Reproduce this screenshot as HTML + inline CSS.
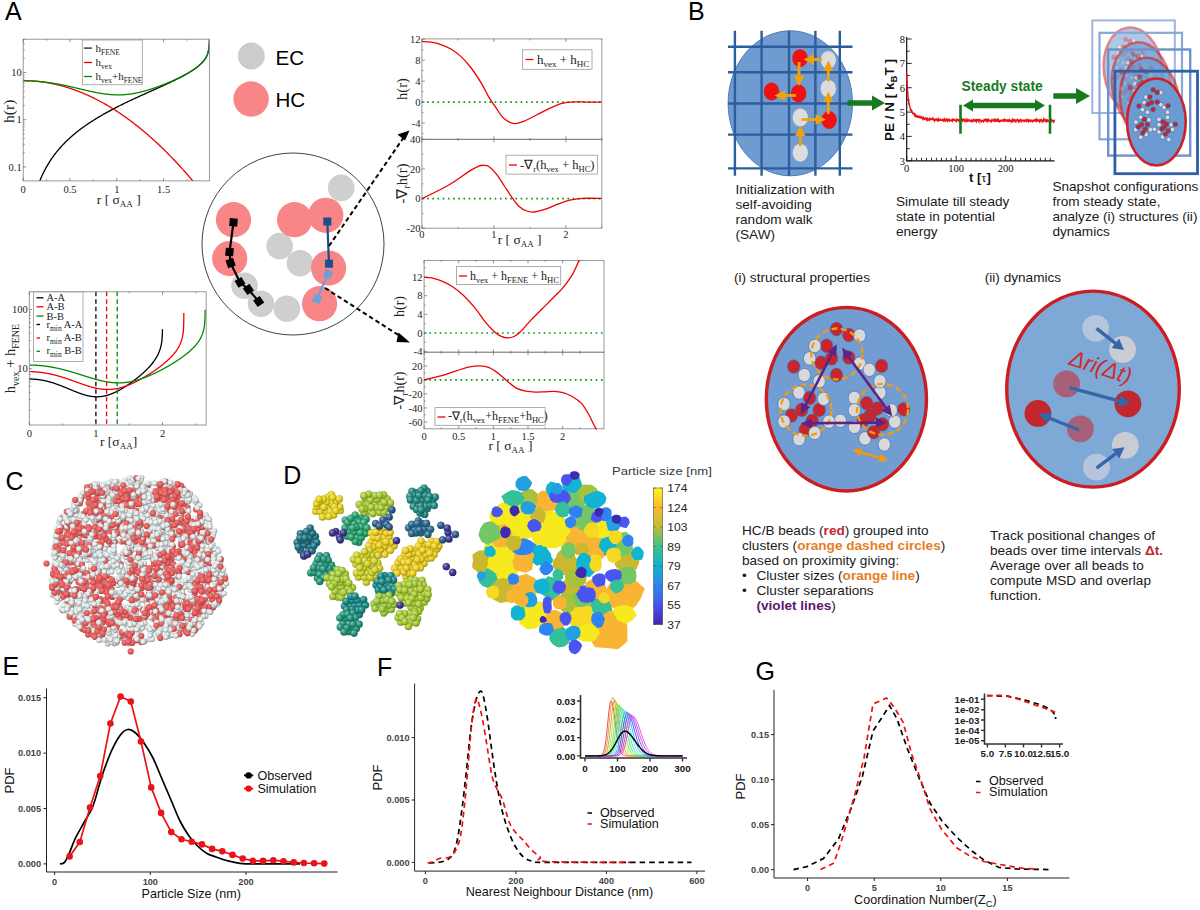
<!DOCTYPE html>
<html><head><meta charset="utf-8"><title>Figure</title>
<style>html,body{margin:0;padding:0;background:#fff;} svg{display:block;}</style></head>
<body><svg width="1200" height="910" viewBox="0 0 1200 910">
<rect width="1200" height="910" fill="#fff"/>
<text x="5.00" y="19.70" font-size="25" fill="#000" text-anchor="start" font-weight="normal" style="font-family:'Liberation Sans',sans-serif;" >A</text>
<defs><clipPath id="cA1"><rect x="23.2" y="39.2" width="186.20000000000002" height="141.7"/></clipPath><clipPath id="cA2"><rect x="29.3" y="291.8" width="176.89999999999998" height="133.2"/></clipPath></defs>
<g clip-path="url(#cA1)" fill="none" stroke-width="1.3">
<path d="M28.35,228.97 L28.82,225.40 L29.28,222.12 L29.75,219.08 L30.22,216.25 L30.69,213.60 L31.16,211.11 L31.62,208.76 L32.09,206.55 L32.56,204.44 L33.03,202.44 L33.50,200.53 L33.96,198.70 L34.43,196.95 L34.90,195.28 L35.37,193.67 L35.84,192.11 L36.30,190.62 L36.77,189.18 L37.24,187.78 L37.71,186.44 L38.18,185.13 L38.64,183.86 L39.11,182.64 L39.58,181.44 L40.05,180.28 L40.52,179.16 L40.98,178.06 L41.45,176.99 L41.92,175.94 L42.39,174.93 L42.86,173.93 L43.32,172.96 L43.79,172.01 L44.26,171.09 L44.73,170.18 L45.20,169.29 L45.66,168.42 L46.13,167.57 L46.60,166.74 L47.07,165.92 L47.54,165.12 L48.00,164.33 L48.47,163.55 L48.94,162.80 L49.41,162.05 L49.88,161.32 L50.34,160.60 L50.81,159.89 L51.28,159.19 L51.75,158.50 L52.22,157.83 L52.68,157.17 L53.15,156.51 L53.62,155.87 L54.09,155.23 L54.56,154.61 L55.02,153.99 L55.49,153.38 L55.96,152.78 L56.43,152.19 L56.90,151.61 L57.36,151.04 L57.83,150.47 L58.30,149.91 L58.77,149.35 L59.24,148.81 L59.70,148.27 L60.17,147.74 L60.64,147.21 L61.11,146.69 L61.58,146.18 L62.04,145.67 L62.51,145.17 L62.98,144.67 L63.45,144.18 L63.92,143.69 L64.38,143.21 L64.85,142.74 L65.32,142.27 L65.79,141.80 L66.26,141.34 L66.72,140.89 L67.19,140.43 L67.66,139.99 L68.13,139.55 L68.60,139.11 L69.06,138.67 L69.53,138.24 L70.00,137.82 L70.47,137.40 L70.94,136.98 L71.40,136.56 L71.87,136.15 L72.34,135.75 L72.81,135.34 L73.28,134.94 L73.74,134.55 L74.21,134.16 L74.68,133.77 L75.15,133.38 L75.62,133.00 L76.08,132.62 L76.55,132.24 L77.02,131.87 L77.49,131.49 L77.96,131.13 L78.42,130.76 L78.89,130.40 L79.36,130.04 L79.83,129.68 L80.30,129.33 L80.76,128.98 L81.23,128.63 L81.70,128.28 L82.17,127.93 L82.64,127.59 L83.10,127.25 L83.57,126.92 L84.04,126.58 L84.51,126.25 L84.98,125.92 L85.44,125.59 L85.91,125.26 L86.38,124.94 L86.85,124.62 L87.32,124.30 L87.78,123.98 L88.25,123.66 L88.72,123.35 L89.19,123.04 L89.66,122.73 L90.12,122.42 L90.59,122.11 L91.06,121.81 L91.53,121.50 L92.00,121.20 L92.46,120.90 L92.93,120.61 L93.40,120.31 L93.87,120.02 L94.34,119.72 L94.80,119.43 L95.27,119.14 L95.74,118.85 L96.21,118.57 L96.68,118.28 L97.14,118.00 L97.61,117.71 L98.08,117.43 L98.55,117.15 L99.02,116.88 L99.48,116.60 L99.95,116.32 L100.42,116.05 L100.89,115.78 L101.36,115.51 L101.82,115.24 L102.29,114.97 L102.76,114.70 L103.23,114.43 L103.70,114.17 L104.16,113.90 L104.63,113.64 L105.10,113.38 L105.57,113.12 L106.04,112.86 L106.50,112.60 L106.97,112.34 L107.44,112.08 L107.91,111.83 L108.38,111.57 L108.84,111.32 L109.31,111.07 L109.78,110.82 L110.25,110.57 L110.72,110.32 L111.18,110.07 L111.65,109.82 L112.12,109.57 L112.59,109.33 L113.06,109.08 L113.52,108.84 L113.99,108.60 L114.46,108.35 L114.93,108.11 L115.40,107.87 L115.86,107.63 L116.33,107.39 L116.80,107.15 L117.27,106.92 L117.74,106.68 L118.20,106.44 L118.67,106.21 L119.14,105.97 L119.61,105.74 L120.08,105.51 L120.54,105.27 L121.01,105.04 L121.48,104.81 L121.95,104.58 L122.42,104.35 L122.88,104.12 L123.35,103.89 L123.82,103.67 L124.29,103.44 L124.76,103.21 L125.22,102.99 L125.69,102.76 L126.16,102.53 L126.63,102.31 L127.10,102.09 L127.56,101.86 L128.03,101.64 L128.50,101.42 L128.97,101.19 L129.44,100.97 L129.90,100.75 L130.37,100.53 L130.84,100.31 L131.31,100.09 L131.78,99.87 L132.24,99.65 L132.71,99.43 L133.18,99.22 L133.65,99.00 L134.12,98.78 L134.58,98.57 L135.05,98.35 L135.52,98.13 L135.99,97.92 L136.46,97.70 L136.92,97.49 L137.39,97.27 L137.86,97.06 L138.33,96.84 L138.80,96.63 L139.26,96.42 L139.73,96.20 L140.20,95.99 L140.67,95.78 L141.14,95.56 L141.60,95.35 L142.07,95.14 L142.54,94.93 L143.01,94.72 L143.48,94.50 L143.94,94.29 L144.41,94.08 L144.88,93.87 L145.35,93.66 L145.82,93.45 L146.28,93.24 L146.75,93.03 L147.22,92.82 L147.69,92.61 L148.16,92.40 L148.62,92.19 L149.09,91.98 L149.56,91.77 L150.03,91.56 L150.50,91.35 L150.96,91.14 L151.43,90.93 L151.90,90.72 L152.37,90.51 L152.84,90.30 L153.30,90.09 L153.77,89.88 L154.24,89.67 L154.71,89.46 L155.18,89.25 L155.64,89.04 L156.11,88.83 L156.58,88.62 L157.05,88.40 L157.52,88.19 L157.98,87.98 L158.45,87.77 L158.92,87.56 L159.39,87.35 L159.86,87.14 L160.32,86.93 L160.79,86.71 L161.26,86.50 L161.73,86.29 L162.20,86.08 L162.66,85.86 L163.13,85.65 L163.60,85.43 L164.07,85.22 L164.54,85.01 L165.00,84.79 L165.47,84.58 L165.94,84.36 L166.41,84.14 L166.88,83.93 L167.34,83.71 L167.81,83.49 L168.28,83.27 L168.75,83.05 L169.22,82.83 L169.68,82.61 L170.15,82.39 L170.62,82.17 L171.09,81.95 L171.56,81.73 L172.02,81.50 L172.49,81.28 L172.96,81.06 L173.43,80.83 L173.90,80.60 L174.36,80.38 L174.83,80.15 L175.30,79.92 L175.77,79.69 L176.24,79.46 L176.70,79.22 L177.17,78.99 L177.64,78.76 L178.11,78.52 L178.58,78.28 L179.04,78.05 L179.51,77.81 L179.98,77.57 L180.45,77.32 L180.92,77.08 L181.38,76.84 L181.85,76.59 L182.32,76.34 L182.79,76.09 L183.26,75.84 L183.72,75.59 L184.19,75.33 L184.66,75.08 L185.13,74.82 L185.60,74.56 L186.06,74.29 L186.53,74.03 L187.00,73.76 L187.47,73.49 L187.94,73.21 L188.40,72.94 L188.87,72.66 L189.34,72.38 L189.81,72.09 L190.28,71.81 L190.74,71.51 L191.21,71.22 L191.68,70.92 L192.15,70.62 L192.62,70.31 L193.08,70.00 L193.55,69.68 L194.02,69.36 L194.49,69.04 L194.96,68.71 L195.42,68.37 L195.89,68.03 L196.36,67.68 L196.83,67.32 L197.30,66.96 L197.76,66.58 L198.23,66.20 L198.70,65.81 L199.17,65.41 L199.64,65.00 L200.10,64.58 L200.57,64.14 L201.04,63.69 L201.51,63.22 L201.98,62.74 L202.44,62.23 L202.91,61.71 L203.38,61.16 L203.85,60.58 L204.32,59.96 L204.78,59.31 L205.25,58.61 L205.72,57.86 L206.19,57.03 L206.66,56.12 L207.12,55.09 L207.59,53.89 L208.06,52.44 L208.87,48.61 L208.94,48.15 L208.99,47.70 L209.05,47.26 L209.09,46.83 L209.13,46.40 L209.17,45.99 L209.20,45.58 L209.23,45.19 L209.25,44.79 L209.28,44.41 L209.30,44.04 L209.32,43.67 L209.33,43.30 L209.35,42.95 L209.36,42.60 L209.37,42.25 L209.38,41.91 L209.39,41.58 L209.40,41.25 L209.40,40.93 L209.41,40.61 L209.42,40.30 L209.42,39.99 L209.43,39.68 L209.43,39.38 L209.43,39.09 L209.44,38.80 L209.44,38.51 L209.44,38.23 L209.45,37.95 L209.45,37.67 L209.45,37.40 L209.45,37.13 L209.45,36.87 L209.45,36.61 L209.45,36.35 L209.46,36.10 L209.46,35.84 L209.46,35.60 L209.46,35.35 L209.46,35.11 L209.46,34.87 L209.46,34.63 L209.46,34.40 L209.46,34.16 L209.46,33.94 L209.46,33.71 L209.46,33.48 L209.46,33.26 L209.46,33.04 L209.46,32.83 L209.46,32.61 L209.46,32.40 L209.46,32.19 L209.46,31.98 L209.46,31.77 L209.46,31.57 L209.46,31.37 L209.46,31.17 L209.46,30.97 L209.46,30.77 L209.46,30.58 L209.46,30.39 L209.46,30.20 L209.46,30.01 L209.46,29.82 L209.46,29.63 L209.46,29.45 L209.46,29.27 L209.46,29.09 L209.46,28.91 L209.46,28.73 L209.46,28.56 L209.46,28.38 L209.46,28.21" stroke="#000"/>
<path d="M23.20,80.71 L23.67,80.71 L24.14,80.71 L24.60,80.72 L25.07,80.72 L25.54,80.73 L26.01,80.74 L26.48,80.75 L26.94,80.76 L27.41,80.77 L27.88,80.79 L28.35,80.80 L28.82,80.82 L29.28,80.84 L29.75,80.86 L30.22,80.88 L30.69,80.90 L31.16,80.93 L31.62,80.96 L32.09,80.98 L32.56,81.01 L33.03,81.05 L33.50,81.08 L33.96,81.11 L34.43,81.15 L34.90,81.19 L35.37,81.22 L35.84,81.27 L36.30,81.31 L36.77,81.35 L37.24,81.40 L37.71,81.44 L38.18,81.49 L38.64,81.54 L39.11,81.59 L39.58,81.64 L40.05,81.70 L40.52,81.75 L40.98,81.81 L41.45,81.87 L41.92,81.93 L42.39,81.99 L42.86,82.05 L43.32,82.12 L43.79,82.19 L44.26,82.25 L44.73,82.32 L45.20,82.39 L45.66,82.47 L46.13,82.54 L46.60,82.62 L47.07,82.69 L47.54,82.77 L48.00,82.85 L48.47,82.93 L48.94,83.02 L49.41,83.10 L49.88,83.19 L50.34,83.27 L50.81,83.36 L51.28,83.45 L51.75,83.55 L52.22,83.64 L52.68,83.74 L53.15,83.83 L53.62,83.93 L54.09,84.03 L54.56,84.13 L55.02,84.24 L55.49,84.34 L55.96,84.45 L56.43,84.55 L56.90,84.66 L57.36,84.77 L57.83,84.89 L58.30,85.00 L58.77,85.11 L59.24,85.23 L59.70,85.35 L60.17,85.47 L60.64,85.59 L61.11,85.71 L61.58,85.84 L62.04,85.96 L62.51,86.09 L62.98,86.22 L63.45,86.35 L63.92,86.48 L64.38,86.61 L64.85,86.75 L65.32,86.89 L65.79,87.02 L66.26,87.16 L66.72,87.31 L67.19,87.45 L67.66,87.59 L68.13,87.74 L68.60,87.88 L69.06,88.03 L69.53,88.18 L70.00,88.34 L70.47,88.49 L70.94,88.64 L71.40,88.80 L71.87,88.96 L72.34,89.12 L72.81,89.28 L73.28,89.44 L73.74,89.60 L74.21,89.77 L74.68,89.94 L75.15,90.11 L75.62,90.28 L76.08,90.45 L76.55,90.62 L77.02,90.79 L77.49,90.97 L77.96,91.15 L78.42,91.33 L78.89,91.51 L79.36,91.69 L79.83,91.87 L80.30,92.06 L80.76,92.25 L81.23,92.44 L81.70,92.62 L82.17,92.82 L82.64,93.01 L83.10,93.20 L83.57,93.40 L84.04,93.60 L84.51,93.80 L84.98,94.00 L85.44,94.20 L85.91,94.40 L86.38,94.61 L86.85,94.81 L87.32,95.02 L87.78,95.23 L88.25,95.44 L88.72,95.66 L89.19,95.87 L89.66,96.09 L90.12,96.30 L90.59,96.52 L91.06,96.74 L91.53,96.96 L92.00,97.19 L92.46,97.41 L92.93,97.64 L93.40,97.87 L93.87,98.10 L94.34,98.33 L94.80,98.56 L95.27,98.80 L95.74,99.03 L96.21,99.27 L96.68,99.51 L97.14,99.75 L97.61,99.99 L98.08,100.23 L98.55,100.48 L99.02,100.72 L99.48,100.97 L99.95,101.22 L100.42,101.47 L100.89,101.72 L101.36,101.98 L101.82,102.23 L102.29,102.49 L102.76,102.75 L103.23,103.01 L103.70,103.27 L104.16,103.53 L104.63,103.80 L105.10,104.06 L105.57,104.33 L106.04,104.60 L106.50,104.87 L106.97,105.14 L107.44,105.42 L107.91,105.69 L108.38,105.97 L108.84,106.25 L109.31,106.53 L109.78,106.81 L110.25,107.09 L110.72,107.38 L111.18,107.66 L111.65,107.95 L112.12,108.24 L112.59,108.53 L113.06,108.82 L113.52,109.12 L113.99,109.41 L114.46,109.71 L114.93,110.01 L115.40,110.31 L115.86,110.61 L116.33,110.91 L116.80,111.21 L117.27,111.52 L117.74,111.83 L118.20,112.14 L118.67,112.45 L119.14,112.76 L119.61,113.07 L120.08,113.39 L120.54,113.70 L121.01,114.02 L121.48,114.34 L121.95,114.66 L122.42,114.98 L122.88,115.31 L123.35,115.63 L123.82,115.96 L124.29,116.29 L124.76,116.62 L125.22,116.95 L125.69,117.28 L126.16,117.62 L126.63,117.96 L127.10,118.29 L127.56,118.63 L128.03,118.97 L128.50,119.32 L128.97,119.66 L129.44,120.01 L129.90,120.35 L130.37,120.70 L130.84,121.05 L131.31,121.40 L131.78,121.76 L132.24,122.11 L132.71,122.47 L133.18,122.82 L133.65,123.18 L134.12,123.54 L134.58,123.91 L135.05,124.27 L135.52,124.64 L135.99,125.00 L136.46,125.37 L136.92,125.74 L137.39,126.11 L137.86,126.48 L138.33,126.86 L138.80,127.23 L139.26,127.61 L139.73,127.99 L140.20,128.37 L140.67,128.75 L141.14,129.14 L141.60,129.52 L142.07,129.91 L142.54,130.30 L143.01,130.69 L143.48,131.08 L143.94,131.47 L144.41,131.87 L144.88,132.26 L145.35,132.66 L145.82,133.06 L146.28,133.46 L146.75,133.86 L147.22,134.26 L147.69,134.67 L148.16,135.07 L148.62,135.48 L149.09,135.89 L149.56,136.30 L150.03,136.72 L150.50,137.13 L150.96,137.55 L151.43,137.96 L151.90,138.38 L152.37,138.80 L152.84,139.22 L153.30,139.65 L153.77,140.07 L154.24,140.50 L154.71,140.92 L155.18,141.35 L155.64,141.79 L156.11,142.22 L156.58,142.65 L157.05,143.09 L157.52,143.52 L157.98,143.96 L158.45,144.40 L158.92,144.84 L159.39,145.29 L159.86,145.73 L160.32,146.18 L160.79,146.63 L161.26,147.07 L161.73,147.53 L162.20,147.98 L162.66,148.43 L163.13,148.89 L163.60,149.34 L164.07,149.80 L164.54,150.26 L165.00,150.72 L165.47,151.19 L165.94,151.65 L166.41,152.12 L166.88,152.58 L167.34,153.05 L167.81,153.52 L168.28,154.00 L168.75,154.47 L169.22,154.94 L169.68,155.42 L170.15,155.90 L170.62,156.38 L171.09,156.86 L171.56,157.34 L172.02,157.83 L172.49,158.31 L172.96,158.80 L173.43,159.29 L173.90,159.78 L174.36,160.27 L174.83,160.76 L175.30,161.26 L175.77,161.76 L176.24,162.25 L176.70,162.75 L177.17,163.25 L177.64,163.76 L178.11,164.26 L178.58,164.77 L179.04,165.27 L179.51,165.78 L179.98,166.29 L180.45,166.80 L180.92,167.32 L181.38,167.83 L181.85,168.35 L182.32,168.87 L182.79,169.39 L183.26,169.91 L183.72,170.43 L184.19,170.95 L184.66,171.48 L185.13,172.00 L185.60,172.53 L186.06,173.06 L186.53,173.59 L187.00,174.13 L187.47,174.66 L187.94,175.20 L188.40,175.74 L188.87,176.28 L189.34,176.82 L189.81,177.36 L190.28,177.90 L190.74,178.45 L191.21,178.99 L191.68,179.54 L192.15,180.09 L192.62,180.64 L193.08,181.20 L193.55,181.75 L194.02,182.31 L194.49,182.86 L194.96,183.42 L195.42,183.98 L195.89,184.55 L196.36,185.11 L196.83,185.67 L197.30,186.24 L197.76,186.81 L198.23,187.38 L198.70,187.95 L199.17,188.52 L199.64,189.10 L200.10,189.67 L200.57,190.25 L201.04,190.83 L201.51,191.41 L201.98,191.99 L202.44,192.57 L202.91,193.16 L203.38,193.75 L203.85,194.33 L204.32,194.92 L204.78,195.51 L205.25,196.11 L205.72,196.70 L206.19,197.30 L206.66,197.89 L207.12,198.49 L207.59,199.09 L208.06,199.69 L208.87,200.74 L208.94,200.83 L208.99,200.90 L209.05,200.97 L209.09,201.03 L209.13,201.08 L209.17,201.12 L209.20,201.17 L209.23,201.20 L209.25,201.24 L209.28,201.27 L209.30,201.29 L209.32,201.32 L209.33,201.34 L209.35,201.36 L209.36,201.37 L209.37,201.39 L209.38,201.40 L209.39,201.41 L209.40,201.42 L209.40,201.43 L209.41,201.44 L209.42,201.45 L209.42,201.45 L209.43,201.46 L209.43,201.47 L209.43,201.47 L209.44,201.47 L209.44,201.48 L209.44,201.48 L209.45,201.48 L209.45,201.49 L209.45,201.49 L209.45,201.49 L209.45,201.49 L209.45,201.49 L209.45,201.50 L209.46,201.50 L209.46,201.50 L209.46,201.50 L209.46,201.50 L209.46,201.50 L209.46,201.50 L209.46,201.50 L209.46,201.50 L209.46,201.50 L209.46,201.50 L209.46,201.50 L209.46,201.51 L209.46,201.51 L209.46,201.51 L209.46,201.51 L209.46,201.51 L209.46,201.51 L209.46,201.51 L209.46,201.51 L209.46,201.51 L209.46,201.51 L209.46,201.51 L209.46,201.51 L209.46,201.51 L209.46,201.51 L209.46,201.51 L209.46,201.51 L209.46,201.51 L209.46,201.51 L209.46,201.51 L209.46,201.51 L209.46,201.51 L209.46,201.51 L209.46,201.51 L209.46,201.51 L209.46,201.51 L209.46,201.51 L209.46,201.51 L209.46,201.51" stroke="#e00"/>
<path d="M23.20,80.71 L23.67,80.71 L24.14,80.71 L24.60,80.72 L25.07,80.72 L25.54,80.73 L26.01,80.73 L26.48,80.74 L26.94,80.75 L27.41,80.76 L27.88,80.77 L28.35,80.79 L28.82,80.80 L29.28,80.82 L29.75,80.83 L30.22,80.85 L30.69,80.87 L31.16,80.89 L31.62,80.92 L32.09,80.94 L32.56,80.96 L33.03,80.99 L33.50,81.02 L33.96,81.05 L34.43,81.08 L34.90,81.11 L35.37,81.14 L35.84,81.17 L36.30,81.21 L36.77,81.24 L37.24,81.28 L37.71,81.32 L38.18,81.36 L38.64,81.40 L39.11,81.44 L39.58,81.49 L40.05,81.53 L40.52,81.58 L40.98,81.62 L41.45,81.67 L41.92,81.72 L42.39,81.77 L42.86,81.82 L43.32,81.88 L43.79,81.93 L44.26,81.99 L44.73,82.04 L45.20,82.10 L45.66,82.16 L46.13,82.22 L46.60,82.28 L47.07,82.34 L47.54,82.41 L48.00,82.47 L48.47,82.54 L48.94,82.60 L49.41,82.67 L49.88,82.74 L50.34,82.81 L50.81,82.88 L51.28,82.95 L51.75,83.02 L52.22,83.10 L52.68,83.17 L53.15,83.25 L53.62,83.33 L54.09,83.41 L54.56,83.48 L55.02,83.56 L55.49,83.65 L55.96,83.73 L56.43,83.81 L56.90,83.89 L57.36,83.98 L57.83,84.07 L58.30,84.15 L58.77,84.24 L59.24,84.33 L59.70,84.42 L60.17,84.51 L60.64,84.60 L61.11,84.69 L61.58,84.78 L62.04,84.88 L62.51,84.97 L62.98,85.07 L63.45,85.16 L63.92,85.26 L64.38,85.36 L64.85,85.46 L65.32,85.56 L65.79,85.65 L66.26,85.75 L66.72,85.86 L67.19,85.96 L67.66,86.06 L68.13,86.16 L68.60,86.27 L69.06,86.37 L69.53,86.47 L70.00,86.58 L70.47,86.68 L70.94,86.79 L71.40,86.90 L71.87,87.00 L72.34,87.11 L72.81,87.22 L73.28,87.33 L73.74,87.43 L74.21,87.54 L74.68,87.65 L75.15,87.76 L75.62,87.87 L76.08,87.98 L76.55,88.09 L77.02,88.20 L77.49,88.31 L77.96,88.42 L78.42,88.53 L78.89,88.64 L79.36,88.75 L79.83,88.87 L80.30,88.98 L80.76,89.09 L81.23,89.20 L81.70,89.31 L82.17,89.42 L82.64,89.53 L83.10,89.64 L83.57,89.75 L84.04,89.86 L84.51,89.97 L84.98,90.08 L85.44,90.19 L85.91,90.29 L86.38,90.40 L86.85,90.51 L87.32,90.62 L87.78,90.72 L88.25,90.83 L88.72,90.94 L89.19,91.04 L89.66,91.14 L90.12,91.25 L90.59,91.35 L91.06,91.45 L91.53,91.55 L92.00,91.65 L92.46,91.75 L92.93,91.85 L93.40,91.95 L93.87,92.05 L94.34,92.14 L94.80,92.24 L95.27,92.33 L95.74,92.43 L96.21,92.52 L96.68,92.61 L97.14,92.70 L97.61,92.78 L98.08,92.87 L98.55,92.96 L99.02,93.04 L99.48,93.12 L99.95,93.20 L100.42,93.28 L100.89,93.36 L101.36,93.44 L101.82,93.51 L102.29,93.58 L102.76,93.66 L103.23,93.73 L103.70,93.79 L104.16,93.86 L104.63,93.92 L105.10,93.99 L105.57,94.05 L106.04,94.11 L106.50,94.16 L106.97,94.22 L107.44,94.27 L107.91,94.32 L108.38,94.37 L108.84,94.42 L109.31,94.46 L109.78,94.51 L110.25,94.55 L110.72,94.59 L111.18,94.62 L111.65,94.66 L112.12,94.69 L112.59,94.72 L113.06,94.74 L113.52,94.77 L113.99,94.79 L114.46,94.81 L114.93,94.83 L115.40,94.84 L115.86,94.86 L116.33,94.87 L116.80,94.88 L117.27,94.88 L117.74,94.88 L118.20,94.88 L118.67,94.88 L119.14,94.88 L119.61,94.87 L120.08,94.86 L120.54,94.85 L121.01,94.84 L121.48,94.82 L121.95,94.80 L122.42,94.78 L122.88,94.75 L123.35,94.73 L123.82,94.70 L124.29,94.66 L124.76,94.63 L125.22,94.59 L125.69,94.55 L126.16,94.51 L126.63,94.47 L127.10,94.42 L127.56,94.37 L128.03,94.32 L128.50,94.26 L128.97,94.21 L129.44,94.15 L129.90,94.08 L130.37,94.02 L130.84,93.95 L131.31,93.89 L131.78,93.81 L132.24,93.74 L132.71,93.66 L133.18,93.59 L133.65,93.51 L134.12,93.42 L134.58,93.34 L135.05,93.25 L135.52,93.16 L135.99,93.07 L136.46,92.98 L136.92,92.88 L137.39,92.78 L137.86,92.68 L138.33,92.58 L138.80,92.47 L139.26,92.37 L139.73,92.26 L140.20,92.15 L140.67,92.04 L141.14,91.92 L141.60,91.81 L142.07,91.69 L142.54,91.57 L143.01,91.45 L143.48,91.32 L143.94,91.20 L144.41,91.07 L144.88,90.94 L145.35,90.81 L145.82,90.68 L146.28,90.54 L146.75,90.41 L147.22,90.27 L147.69,90.13 L148.16,89.99 L148.62,89.85 L149.09,89.70 L149.56,89.56 L150.03,89.41 L150.50,89.26 L150.96,89.11 L151.43,88.96 L151.90,88.80 L152.37,88.65 L152.84,88.49 L153.30,88.34 L153.77,88.18 L154.24,88.02 L154.71,87.86 L155.18,87.69 L155.64,87.53 L156.11,87.36 L156.58,87.20 L157.05,87.03 L157.52,86.86 L157.98,86.69 L158.45,86.52 L158.92,86.34 L159.39,86.17 L159.86,85.99 L160.32,85.82 L160.79,85.64 L161.26,85.46 L161.73,85.28 L162.20,85.10 L162.66,84.92 L163.13,84.73 L163.60,84.55 L164.07,84.36 L164.54,84.17 L165.00,83.98 L165.47,83.80 L165.94,83.60 L166.41,83.41 L166.88,83.22 L167.34,83.02 L167.81,82.83 L168.28,82.63 L168.75,82.43 L169.22,82.24 L169.68,82.03 L170.15,81.83 L170.62,81.63 L171.09,81.43 L171.56,81.22 L172.02,81.02 L172.49,80.81 L172.96,80.60 L173.43,80.39 L173.90,80.18 L174.36,79.96 L174.83,79.75 L175.30,79.53 L175.77,79.32 L176.24,79.10 L176.70,78.88 L177.17,78.66 L177.64,78.44 L178.11,78.21 L178.58,77.99 L179.04,77.76 L179.51,77.53 L179.98,77.30 L180.45,77.07 L180.92,76.83 L181.38,76.60 L181.85,76.36 L182.32,76.12 L182.79,75.88 L183.26,75.63 L183.72,75.39 L184.19,75.14 L184.66,74.89 L185.13,74.64 L185.60,74.38 L186.06,74.13 L186.53,73.87 L187.00,73.61 L187.47,73.34 L187.94,73.07 L188.40,72.80 L188.87,72.53 L189.34,72.25 L189.81,71.97 L190.28,71.69 L190.74,71.40 L191.21,71.11 L191.68,70.82 L192.15,70.52 L192.62,70.22 L193.08,69.91 L193.55,69.60 L194.02,69.28 L194.49,68.96 L194.96,68.63 L195.42,68.30 L195.89,67.96 L196.36,67.61 L196.83,67.26 L197.30,66.89 L197.76,66.53 L198.23,66.15 L198.70,65.76 L199.17,65.36 L199.64,64.95 L200.10,64.53 L200.57,64.10 L201.04,63.65 L201.51,63.18 L201.98,62.70 L202.44,62.20 L202.91,61.67 L203.38,61.12 L203.85,60.55 L204.32,59.93 L204.78,59.28 L205.25,58.59 L205.72,57.83 L206.19,57.01 L206.66,56.10 L207.12,55.07 L207.59,53.88 L208.06,52.43 L208.87,48.60 L208.94,48.14 L208.99,47.69 L209.05,47.25 L209.09,46.82 L209.13,46.39 L209.17,45.98 L209.20,45.57 L209.23,45.18 L209.25,44.79 L209.28,44.40 L209.30,44.03 L209.32,43.66 L209.33,43.29 L209.35,42.94 L209.36,42.59 L209.37,42.24 L209.38,41.90 L209.39,41.57 L209.40,41.24 L209.40,40.92 L209.41,40.60 L209.42,40.29 L209.42,39.98 L209.43,39.68 L209.43,39.38 L209.43,39.08 L209.44,38.79 L209.44,38.50 L209.44,38.22 L209.45,37.94 L209.45,37.67 L209.45,37.40 L209.45,37.13 L209.45,36.86 L209.45,36.60 L209.45,36.34 L209.46,36.09 L209.46,35.84 L209.46,35.59 L209.46,35.34 L209.46,35.10 L209.46,34.86 L209.46,34.62 L209.46,34.39 L209.46,34.16 L209.46,33.93 L209.46,33.70 L209.46,33.48 L209.46,33.26 L209.46,33.04 L209.46,32.82 L209.46,32.61 L209.46,32.39 L209.46,32.18 L209.46,31.98 L209.46,31.77 L209.46,31.57 L209.46,31.36 L209.46,31.16 L209.46,30.97 L209.46,30.77 L209.46,30.57 L209.46,30.38 L209.46,30.19 L209.46,30.00 L209.46,29.82 L209.46,29.63 L209.46,29.45 L209.46,29.26 L209.46,29.08 L209.46,28.90 L209.46,28.73 L209.46,28.55 L209.46,28.38 L209.46,28.20" stroke="#080"/>
</g>
<rect x="23.2" y="39.2" width="186.20000000000002" height="141.7" fill="none" stroke="#8c8c8c" stroke-width="0.9"/>
<path d="M23.2,180.9 v-3 M23.2,39.2 v3 M70.0,180.9 v-3 M70.0,39.2 v3 M116.8,180.9 v-3 M116.8,39.2 v3 M163.6,180.9 v-3 M163.6,39.2 v3 M46.6,180.9 v-1.5 M46.6,39.2 v1.5 M93.4,180.9 v-1.5 M93.4,39.2 v1.5 M140.2,180.9 v-1.5 M140.2,39.2 v1.5 M187.0,180.9 v-1.5 M187.0,39.2 v1.5 M23.2,166.9 h3 M23.2,152.7 h1.5 M23.2,144.4 h1.5 M23.2,138.5 h1.5 M23.2,133.9 h1.5 M23.2,130.2 h1.5 M23.2,127.0 h1.5 M23.2,124.3 h1.5 M23.2,121.9 h1.5 M23.2,119.7 h3 M23.2,105.5 h1.5 M23.2,97.2 h1.5 M23.2,91.3 h1.5 M23.2,86.7 h1.5 M23.2,83.0 h1.5 M23.2,79.8 h1.5 M23.2,77.1 h1.5 M23.2,74.7 h1.5 M23.2,72.5 h3 M23.2,58.3 h1.5 M23.2,50.0 h1.5 M23.2,44.1 h1.5 M23.2,39.5 h1.5" stroke="#666" stroke-width="0.7" fill="none"/>
<text x="21.70" y="170.50" font-size="10.5" fill="#222" text-anchor="end" font-weight="normal" style="font-family:'Liberation Serif',serif;" >0.1</text>
<text x="21.70" y="123.30" font-size="10.5" fill="#222" text-anchor="end" font-weight="normal" style="font-family:'Liberation Serif',serif;" >1</text>
<text x="21.70" y="76.10" font-size="10.5" fill="#222" text-anchor="end" font-weight="normal" style="font-family:'Liberation Serif',serif;" >10</text>
<text x="23.20" y="192.90" font-size="10.5" fill="#222" text-anchor="middle" font-weight="normal" style="font-family:'Liberation Serif',serif;" >0</text>
<text x="70.00" y="192.90" font-size="10.5" fill="#222" text-anchor="middle" font-weight="normal" style="font-family:'Liberation Serif',serif;" >0.5</text>
<text x="116.80" y="192.90" font-size="10.5" fill="#222" text-anchor="middle" font-weight="normal" style="font-family:'Liberation Serif',serif;" >1</text>
<text x="163.60" y="192.90" font-size="10.5" fill="#222" text-anchor="middle" font-weight="normal" style="font-family:'Liberation Serif',serif;" >1.5</text>
<text x="96.8" y="204" font-size="13.5" style="font-family:'Liberation Serif',serif" fill="#222">r [ σ<tspan font-size="9" dy="3">AA</tspan><tspan dy="-3"> ]</tspan></text>
<text transform="translate(13.5,111.3) rotate(-90)" font-size="15.5" text-anchor="middle" style="font-family:'Liberation Serif',serif" fill="#222">h(r)</text>
<rect x="82.3" y="40" width="60" height="44.75" fill="#fff" stroke="#999" stroke-width="0.8"/>
<path d="M84,48.1 h8" stroke="#222" stroke-width="1.3"/>
<text x="95.6" y="51.6" font-size="11" style="font-family:'Liberation Serif',serif" fill="#222">h<tspan font-size="7.5" dy="3">FENE</tspan></text>
<path d="M84,62.5 h8" stroke="#e00" stroke-width="1.3"/>
<text x="95.6" y="66.0" font-size="11" style="font-family:'Liberation Serif',serif" fill="#222">h<tspan font-size="7.5" dy="3">vex</tspan></text>
<path d="M84,76.5 h8" stroke="#080" stroke-width="1.3"/>
<text x="95.6" y="80.0" font-size="11" style="font-family:'Liberation Serif',serif" fill="#222">h<tspan font-size="7.5" dy="3">vex</tspan><tspan dy="-3">+h</tspan><tspan font-size="7.5" dy="3">FENE</tspan></text>
<g clip-path="url(#cA2)" fill="none" stroke-width="1.3">
<path d="M29.30,379.00 L29.50,379.00 L29.70,379.00 L29.90,379.00 L30.10,379.00 L30.30,379.00 L30.50,379.01 L30.70,379.01 L30.90,379.01 L31.10,379.02 L31.30,379.03 L31.50,379.03 L31.70,379.04 L31.90,379.05 L32.10,379.05 L32.30,379.06 L32.50,379.07 L32.70,379.08 L32.90,379.09 L33.10,379.10 L33.30,379.11 L33.50,379.12 L33.70,379.14 L33.90,379.15 L34.10,379.16 L34.30,379.18 L34.49,379.19 L34.69,379.21 L34.89,379.22 L35.09,379.24 L35.29,379.26 L35.49,379.27 L35.69,379.29 L35.89,379.31 L36.09,379.33 L36.29,379.35 L36.49,379.37 L36.69,379.39 L36.89,379.41 L37.09,379.43 L37.29,379.46 L37.49,379.48 L37.69,379.50 L37.89,379.53 L38.09,379.55 L38.29,379.58 L38.49,379.60 L38.69,379.63 L38.89,379.66 L39.09,379.69 L39.29,379.71 L39.49,379.74 L39.69,379.77 L39.89,379.80 L40.09,379.83 L40.29,379.86 L40.49,379.90 L40.69,379.93 L40.89,379.96 L41.09,379.99 L41.29,380.03 L41.49,380.06 L41.69,380.10 L41.89,380.13 L42.09,380.17 L42.29,380.20 L42.49,380.24 L42.69,380.28 L42.89,380.32 L43.09,380.36 L43.29,380.39 L43.49,380.43 L43.69,380.47 L43.89,380.52 L44.09,380.56 L44.28,380.60 L44.48,380.64 L44.68,380.68 L44.88,380.73 L45.08,380.77 L45.28,380.81 L45.48,380.86 L45.68,380.91 L45.88,380.95 L46.08,381.00 L46.28,381.04 L46.48,381.09 L46.68,381.14 L46.88,381.19 L47.08,381.24 L47.28,381.29 L47.48,381.34 L47.68,381.39 L47.88,381.44 L48.08,381.49 L48.28,381.54 L48.48,381.59 L48.68,381.65 L48.88,381.70 L49.08,381.75 L49.28,381.81 L49.48,381.86 L49.68,381.92 L49.88,381.97 L50.08,382.03 L50.28,382.09 L50.48,382.14 L50.68,382.20 L50.88,382.26 L51.08,382.32 L51.28,382.38 L51.48,382.44 L51.68,382.50 L51.88,382.56 L52.08,382.62 L52.28,382.68 L52.48,382.74 L52.68,382.80 L52.88,382.87 L53.08,382.93 L53.28,382.99 L53.48,383.06 L53.68,383.12 L53.88,383.18 L54.08,383.25 L54.27,383.32 L54.47,383.38 L54.67,383.45 L54.87,383.51 L55.07,383.58 L55.27,383.65 L55.47,383.72 L55.67,383.78 L55.87,383.85 L56.07,383.92 L56.27,383.99 L56.47,384.06 L56.67,384.13 L56.87,384.20 L57.07,384.27 L57.27,384.34 L57.47,384.42 L57.67,384.49 L57.87,384.56 L58.07,384.63 L58.27,384.71 L58.47,384.78 L58.67,384.85 L58.87,384.93 L59.07,385.00 L59.27,385.07 L59.47,385.15 L59.67,385.22 L59.87,385.30 L60.07,385.38 L60.27,385.45 L60.47,385.53 L60.67,385.60 L60.87,385.68 L61.07,385.76 L61.27,385.84 L61.47,385.91 L61.67,385.99 L61.87,386.07 L62.07,386.15 L62.27,386.23 L62.47,386.31 L62.67,386.39 L62.87,386.46 L63.07,386.54 L63.27,386.62 L63.47,386.70 L63.67,386.78 L63.87,386.86 L64.07,386.95 L64.27,387.03 L64.46,387.11 L64.66,387.19 L64.86,387.27 L65.06,387.35 L65.26,387.43 L65.46,387.51 L65.66,387.60 L65.86,387.68 L66.06,387.76 L66.26,387.84 L66.46,387.93 L66.66,388.01 L66.86,388.09 L67.06,388.17 L67.26,388.26 L67.46,388.34 L67.66,388.42 L67.86,388.51 L68.06,388.59 L68.26,388.67 L68.46,388.76 L68.66,388.84 L68.86,388.92 L69.06,389.01 L69.26,389.09 L69.46,389.17 L69.66,389.26 L69.86,389.34 L70.06,389.42 L70.26,389.51 L70.46,389.59 L70.66,389.67 L70.86,389.76 L71.06,389.84 L71.26,389.92 L71.46,390.01 L71.66,390.09 L71.86,390.17 L72.06,390.25 L72.26,390.34 L72.46,390.42 L72.66,390.50 L72.86,390.58 L73.06,390.67 L73.26,390.75 L73.46,390.83 L73.66,390.91 L73.86,390.99 L74.06,391.08 L74.25,391.16 L74.45,391.24 L74.65,391.32 L74.85,391.40 L75.05,391.48 L75.25,391.56 L75.45,391.64 L75.65,391.72 L75.85,391.80 L76.05,391.88 L76.25,391.96 L76.45,392.04 L76.65,392.11 L76.85,392.19 L77.05,392.27 L77.25,392.35 L77.45,392.42 L77.65,392.50 L77.85,392.58 L78.05,392.65 L78.25,392.73 L78.45,392.80 L78.65,392.88 L78.85,392.95 L79.05,393.03 L79.25,393.10 L79.45,393.17 L79.65,393.25 L79.85,393.32 L80.05,393.39 L80.25,393.46 L80.45,393.53 L80.65,393.60 L80.85,393.67 L81.05,393.74 L81.25,393.81 L81.45,393.88 L81.65,393.95 L81.85,394.02 L82.05,394.08 L82.25,394.15 L82.45,394.21 L82.65,394.28 L82.85,394.34 L83.05,394.41 L83.25,394.47 L83.45,394.53 L83.65,394.59 L83.85,394.65 L84.05,394.71 L84.25,394.77 L84.44,394.83 L84.64,394.89 L84.84,394.95 L85.04,395.01 L85.24,395.06 L85.44,395.12 L85.64,395.17 L85.84,395.23 L86.04,395.28 L86.24,395.33 L86.44,395.38 L86.64,395.44 L86.84,395.49 L87.04,395.53 L87.24,395.58 L87.44,395.63 L87.64,395.68 L87.84,395.72 L88.04,395.77 L88.24,395.81 L88.44,395.86 L88.64,395.90 L88.84,395.94 L89.04,395.98 L89.24,396.02 L89.44,396.06 L89.64,396.10 L89.84,396.14 L90.04,396.17 L90.24,396.21 L90.44,396.24 L90.64,396.27 L90.84,396.31 L91.04,396.34 L91.24,396.37 L91.44,396.40 L91.64,396.43 L91.84,396.45 L92.04,396.48 L92.24,396.51 L92.44,396.53 L92.64,396.55 L92.84,396.58 L93.04,396.60 L93.24,396.62 L93.44,396.64 L93.64,396.65 L93.84,396.67 L94.04,396.69 L94.23,396.70 L94.43,396.72 L94.63,396.73 L94.83,396.74 L95.03,396.75 L95.23,396.76 L95.43,396.77 L95.63,396.78 L95.83,396.78 L96.03,396.79 L96.23,396.79 L96.43,396.80 L96.63,396.80 L96.83,396.80 L97.03,396.80 L97.23,396.80 L97.43,396.80 L97.63,396.79 L97.83,396.79 L98.03,396.78 L98.23,396.77 L98.43,396.77 L98.63,396.76 L98.83,396.75 L99.03,396.73 L99.23,396.72 L99.43,396.71 L99.63,396.69 L99.83,396.68 L100.03,396.66 L100.23,396.64 L100.43,396.62 L100.63,396.60 L100.83,396.58 L101.03,396.56 L101.23,396.53 L101.43,396.51 L101.63,396.48 L101.83,396.45 L102.03,396.42 L102.23,396.39 L102.43,396.36 L102.63,396.33 L102.83,396.30 L103.03,396.26 L103.23,396.23 L103.43,396.19 L103.63,396.15 L103.83,396.12 L104.03,396.08 L104.22,396.04 L104.42,395.99 L104.62,395.95 L104.82,395.91 L105.02,395.86 L105.22,395.81 L105.42,395.77 L105.62,395.72 L105.82,395.67 L106.02,395.62 L106.22,395.57 L106.42,395.51 L106.62,395.46 L106.82,395.41 L107.02,395.35 L107.22,395.29 L107.42,395.23 L107.62,395.18 L107.82,395.12 L108.02,395.05 L108.22,394.99 L108.42,394.93 L108.62,394.87 L108.82,394.80 L109.02,394.73 L109.22,394.67 L109.42,394.60 L109.62,394.53 L109.82,394.46 L110.02,394.39 L110.22,394.32 L110.42,394.24 L110.62,394.17 L110.82,394.09 L111.02,394.02 L111.22,393.94 L111.42,393.86 L111.62,393.79 L111.82,393.71 L112.02,393.63 L112.22,393.54 L112.42,393.46 L112.62,393.38 L112.82,393.30 L113.02,393.21 L113.22,393.13 L113.42,393.04 L113.62,392.95 L113.82,392.86 L114.02,392.77 L114.22,392.68 L114.41,392.59 L114.61,392.50 L114.81,392.41 L115.01,392.32 L115.21,392.22 L115.41,392.13 L115.61,392.03 L115.81,391.93 L116.01,391.84 L116.21,391.74 L116.41,391.64 L116.61,391.54 L116.81,391.44 L117.01,391.34 L117.21,391.24 L117.41,391.14 L117.61,391.03 L117.81,390.93 L118.01,390.82 L118.21,390.72 L118.41,390.61 L118.61,390.50 L118.81,390.40 L119.01,390.29 L119.21,390.18 L119.41,390.07 L119.61,389.96 L119.81,389.85 L120.01,389.74 L120.21,389.62 L120.41,389.51 L120.61,389.40 L120.81,389.28 L121.01,389.17 L121.21,389.05 L121.41,388.94 L121.61,388.82 L121.81,388.70 L122.01,388.58 L122.21,388.46 L122.41,388.35 L122.61,388.23 L122.81,388.10 L123.01,387.98 L123.21,387.86 L123.41,387.74 L123.61,387.62 L123.81,387.49 L124.01,387.37 L124.20,387.24 L124.40,387.12 L124.60,386.99 L124.80,386.87 L125.00,386.74 L125.20,386.61 L125.40,386.48 L125.60,386.36 L125.80,386.23 L126.00,386.10 L126.20,385.97 L126.40,385.84 L126.60,385.70 L126.80,385.57 L127.00,385.44 L127.20,385.31 L127.40,385.17 L127.60,385.04 L127.80,384.90 L128.00,384.77 L128.20,384.63 L128.40,384.50 L128.60,384.36 L128.80,384.22 L129.00,384.09 L129.20,383.95 L129.40,383.81 L129.60,383.67 L129.80,383.53 L130.00,383.39 L130.20,383.25 L130.40,383.11 L130.60,382.97 L130.80,382.82 L131.00,382.68 L131.20,382.54 L131.40,382.39 L131.60,382.25 L131.80,382.10 L132.00,381.96 L132.20,381.81 L132.40,381.67 L132.60,381.52 L132.80,381.37 L133.00,381.22 L133.20,381.08 L133.40,380.93 L133.60,380.78 L133.80,380.63 L134.00,380.48 L134.19,380.33 L134.39,380.17 L134.59,380.02 L134.79,379.87 L134.99,379.72 L135.19,379.56 L135.39,379.41 L135.59,379.25 L135.79,379.10 L135.99,378.94 L136.19,378.79 L136.39,378.63 L136.59,378.47 L136.79,378.31 L136.99,378.15 L137.19,377.99 L137.39,377.83 L137.59,377.67 L137.79,377.51 L137.99,377.35 L138.19,377.19 L138.39,377.03 L138.59,376.86 L138.79,376.70 L138.99,376.53 L139.19,376.37 L139.39,376.20 L139.59,376.03 L139.79,375.87 L139.99,375.70 L140.19,375.53 L140.39,375.36 L140.59,375.19 L140.79,375.02 L140.99,374.85 L141.19,374.67 L141.39,374.50 L141.59,374.33 L141.79,374.15 L141.99,373.98 L142.19,373.80 L142.39,373.62 L142.59,373.45 L142.79,373.27 L142.99,373.09 L143.19,372.91 L143.39,372.73 L143.59,372.54 L143.79,372.36 L143.99,372.18 L144.19,371.99 L144.38,371.81 L144.58,371.62 L144.78,371.43 L144.98,371.24 L145.18,371.05 L145.38,370.86 L145.58,370.67 L145.78,370.48 L145.98,370.28 L146.18,370.09 L146.38,369.89 L146.58,369.69 L146.78,369.49 L146.98,369.29 L147.18,369.09 L147.38,368.89 L147.58,368.69 L147.78,368.48 L147.98,368.27 L148.18,368.07 L148.38,367.86 L148.58,367.65 L148.78,367.43 L148.98,367.22 L149.18,367.00 L149.38,366.78 L149.58,366.57 L149.78,366.34 L149.98,366.12 L150.18,365.90 L150.38,365.67 L150.58,365.44 L150.78,365.21 L150.98,364.98 L151.18,364.74 L151.38,364.50 L151.58,364.26 L151.78,364.02 L151.98,363.78 L152.18,363.53 L152.38,363.28 L152.58,363.03 L152.78,362.77 L152.98,362.51 L153.18,362.25 L153.38,361.99 L153.58,361.72 L153.78,361.45 L153.98,361.17 L154.17,360.89 L154.37,360.61 L154.57,360.32 L154.77,360.03 L154.97,359.74 L155.17,359.44 L155.37,359.13 L155.57,358.82 L155.77,358.50 L155.97,358.18 L156.17,357.85 L156.37,357.52 L156.57,357.18 L156.77,356.83 L156.97,356.47 L157.17,356.10 L157.37,355.73 L157.57,355.35 L157.77,354.95 L157.97,354.55 L158.17,354.13 L158.37,353.70 L158.57,353.26 L158.77,352.80 L158.97,352.32 L159.17,351.83 L159.37,351.31 L159.57,350.77 L159.77,350.21 L159.97,349.61 L160.17,348.98 L160.37,348.31 L160.57,347.59 L160.77,346.82 L160.97,345.98 L161.17,345.05 L161.37,344.01 L161.57,342.82 L161.77,341.42 L161.97,339.67 L162.17,337.29 L162.37,333.19 L162.17,337.30 L162.20,336.75 L162.23,336.20 L162.26,335.68 L162.29,335.16 L162.31,334.65 L162.33,334.15 L162.35,333.66 L162.37,333.18 L162.38,332.71 L162.39,332.25 L162.41,331.79 L162.42,331.35 L162.43,330.91 L162.43,330.47 L162.44,330.05 L162.45,329.63 L162.45,329.22" stroke="#000"/>
<path d="M29.30,371.66 L29.53,371.66 L29.76,371.67 L30.00,371.67 L30.23,371.67 L30.46,371.67 L30.69,371.67 L30.92,371.68 L31.15,371.68 L31.39,371.69 L31.62,371.69 L31.85,371.70 L32.08,371.71 L32.31,371.71 L32.54,371.72 L32.78,371.73 L33.01,371.74 L33.24,371.75 L33.47,371.76 L33.70,371.77 L33.94,371.78 L34.17,371.79 L34.40,371.80 L34.63,371.82 L34.86,371.83 L35.09,371.84 L35.33,371.86 L35.56,371.87 L35.79,371.89 L36.02,371.91 L36.25,371.92 L36.48,371.94 L36.72,371.96 L36.95,371.98 L37.18,372.00 L37.41,372.02 L37.64,372.04 L37.88,372.06 L38.11,372.08 L38.34,372.10 L38.57,372.12 L38.80,372.15 L39.03,372.17 L39.27,372.20 L39.50,372.22 L39.73,372.25 L39.96,372.27 L40.19,372.30 L40.42,372.33 L40.66,372.35 L40.89,372.38 L41.12,372.41 L41.35,372.44 L41.58,372.47 L41.82,372.50 L42.05,372.53 L42.28,372.56 L42.51,372.60 L42.74,372.63 L42.97,372.66 L43.21,372.70 L43.44,372.73 L43.67,372.76 L43.90,372.80 L44.13,372.84 L44.36,372.87 L44.60,372.91 L44.83,372.95 L45.06,372.98 L45.29,373.02 L45.52,373.06 L45.76,373.10 L45.99,373.14 L46.22,373.18 L46.45,373.22 L46.68,373.27 L46.91,373.31 L47.15,373.35 L47.38,373.39 L47.61,373.44 L47.84,373.48 L48.07,373.53 L48.30,373.57 L48.54,373.62 L48.77,373.67 L49.00,373.71 L49.23,373.76 L49.46,373.81 L49.70,373.86 L49.93,373.91 L50.16,373.95 L50.39,374.00 L50.62,374.06 L50.85,374.11 L51.09,374.16 L51.32,374.21 L51.55,374.26 L51.78,374.31 L52.01,374.37 L52.25,374.42 L52.48,374.48 L52.71,374.53 L52.94,374.59 L53.17,374.64 L53.40,374.70 L53.64,374.76 L53.87,374.81 L54.10,374.87 L54.33,374.93 L54.56,374.99 L54.79,375.05 L55.03,375.11 L55.26,375.17 L55.49,375.23 L55.72,375.29 L55.95,375.35 L56.19,375.41 L56.42,375.47 L56.65,375.53 L56.88,375.60 L57.11,375.66 L57.34,375.72 L57.58,375.79 L57.81,375.85 L58.04,375.92 L58.27,375.98 L58.50,376.05 L58.73,376.12 L58.97,376.18 L59.20,376.25 L59.43,376.32 L59.66,376.38 L59.89,376.45 L60.13,376.52 L60.36,376.59 L60.59,376.66 L60.82,376.73 L61.05,376.80 L61.28,376.87 L61.52,376.94 L61.75,377.01 L61.98,377.08 L62.21,377.16 L62.44,377.23 L62.67,377.30 L62.91,377.37 L63.14,377.45 L63.37,377.52 L63.60,377.59 L63.83,377.67 L64.07,377.74 L64.30,377.82 L64.53,377.89 L64.76,377.97 L64.99,378.04 L65.22,378.12 L65.46,378.20 L65.69,378.27 L65.92,378.35 L66.15,378.43 L66.38,378.50 L66.61,378.58 L66.85,378.66 L67.08,378.74 L67.31,378.82 L67.54,378.90 L67.77,378.97 L68.01,379.05 L68.24,379.13 L68.47,379.21 L68.70,379.29 L68.93,379.37 L69.16,379.45 L69.40,379.53 L69.63,379.61 L69.86,379.69 L70.09,379.78 L70.32,379.86 L70.55,379.94 L70.79,380.02 L71.02,380.10 L71.25,380.18 L71.48,380.26 L71.71,380.35 L71.95,380.43 L72.18,380.51 L72.41,380.59 L72.64,380.68 L72.87,380.76 L73.10,380.84 L73.34,380.92 L73.57,381.01 L73.80,381.09 L74.03,381.17 L74.26,381.26 L74.49,381.34 L74.73,381.42 L74.96,381.51 L75.19,381.59 L75.42,381.67 L75.65,381.76 L75.89,381.84 L76.12,381.92 L76.35,382.01 L76.58,382.09 L76.81,382.17 L77.04,382.26 L77.28,382.34 L77.51,382.42 L77.74,382.51 L77.97,382.59 L78.20,382.67 L78.43,382.76 L78.67,382.84 L78.90,382.92 L79.13,383.00 L79.36,383.09 L79.59,383.17 L79.83,383.25 L80.06,383.33 L80.29,383.42 L80.52,383.50 L80.75,383.58 L80.98,383.66 L81.22,383.74 L81.45,383.82 L81.68,383.91 L81.91,383.99 L82.14,384.07 L82.37,384.15 L82.61,384.23 L82.84,384.31 L83.07,384.39 L83.30,384.47 L83.53,384.55 L83.77,384.63 L84.00,384.70 L84.23,384.78 L84.46,384.86 L84.69,384.94 L84.92,385.02 L85.16,385.09 L85.39,385.17 L85.62,385.25 L85.85,385.32 L86.08,385.40 L86.31,385.47 L86.55,385.55 L86.78,385.62 L87.01,385.70 L87.24,385.77 L87.47,385.84 L87.71,385.92 L87.94,385.99 L88.17,386.06 L88.40,386.13 L88.63,386.20 L88.86,386.27 L89.10,386.34 L89.33,386.41 L89.56,386.48 L89.79,386.55 L90.02,386.62 L90.25,386.68 L90.49,386.75 L90.72,386.82 L90.95,386.88 L91.18,386.95 L91.41,387.01 L91.65,387.07 L91.88,387.14 L92.11,387.20 L92.34,387.26 L92.57,387.32 L92.80,387.38 L93.04,387.44 L93.27,387.50 L93.50,387.56 L93.73,387.62 L93.96,387.67 L94.20,387.73 L94.43,387.79 L94.66,387.84 L94.89,387.89 L95.12,387.95 L95.35,388.00 L95.59,388.05 L95.82,388.10 L96.05,388.15 L96.28,388.20 L96.51,388.25 L96.74,388.30 L96.98,388.35 L97.21,388.39 L97.44,388.44 L97.67,388.48 L97.90,388.52 L98.14,388.57 L98.37,388.61 L98.60,388.65 L98.83,388.69 L99.06,388.73 L99.29,388.77 L99.53,388.80 L99.76,388.84 L99.99,388.87 L100.22,388.91 L100.45,388.94 L100.68,388.97 L100.92,389.01 L101.15,389.04 L101.38,389.07 L101.61,389.09 L101.84,389.12 L102.08,389.15 L102.31,389.17 L102.54,389.20 L102.77,389.22 L103.00,389.24 L103.23,389.27 L103.47,389.29 L103.70,389.30 L103.93,389.32 L104.16,389.34 L104.39,389.36 L104.62,389.37 L104.86,389.39 L105.09,389.40 L105.32,389.41 L105.55,389.42 L105.78,389.43 L106.02,389.44 L106.25,389.45 L106.48,389.45 L106.71,389.46 L106.94,389.46 L107.17,389.46 L107.41,389.47 L107.64,389.47 L107.87,389.47 L108.10,389.47 L108.33,389.46 L108.56,389.46 L108.80,389.45 L109.03,389.45 L109.26,389.44 L109.49,389.43 L109.72,389.42 L109.96,389.41 L110.19,389.40 L110.42,389.39 L110.65,389.38 L110.88,389.36 L111.11,389.34 L111.35,389.33 L111.58,389.31 L111.81,389.29 L112.04,389.27 L112.27,389.25 L112.50,389.22 L112.74,389.20 L112.97,389.17 L113.20,389.15 L113.43,389.12 L113.66,389.09 L113.90,389.06 L114.13,389.03 L114.36,389.00 L114.59,388.97 L114.82,388.93 L115.05,388.90 L115.29,388.86 L115.52,388.82 L115.75,388.78 L115.98,388.74 L116.21,388.70 L116.44,388.66 L116.68,388.62 L116.91,388.57 L117.14,388.53 L117.37,388.48 L117.60,388.44 L117.84,388.39 L118.07,388.34 L118.30,388.29 L118.53,388.23 L118.76,388.18 L118.99,388.13 L119.23,388.07 L119.46,388.02 L119.69,387.96 L119.92,387.90 L120.15,387.84 L120.38,387.78 L120.62,387.72 L120.85,387.66 L121.08,387.60 L121.31,387.53 L121.54,387.47 L121.78,387.40 L122.01,387.33 L122.24,387.27 L122.47,387.20 L122.70,387.13 L122.93,387.06 L123.17,386.98 L123.40,386.91 L123.63,386.84 L123.86,386.76 L124.09,386.69 L124.32,386.61 L124.56,386.53 L124.79,386.45 L125.02,386.37 L125.25,386.29 L125.48,386.21 L125.72,386.13 L125.95,386.05 L126.18,385.96 L126.41,385.88 L126.64,385.79 L126.87,385.71 L127.11,385.62 L127.34,385.53 L127.57,385.44 L127.80,385.35 L128.03,385.26 L128.26,385.17 L128.50,385.08 L128.73,384.98 L128.96,384.89 L129.19,384.79 L129.42,384.70 L129.66,384.60 L129.89,384.51 L130.12,384.41 L130.35,384.31 L130.58,384.21 L130.81,384.11 L131.05,384.01 L131.28,383.91 L131.51,383.80 L131.74,383.70 L131.97,383.60 L132.20,383.49 L132.44,383.39 L132.67,383.28 L132.90,383.17 L133.13,383.06 L133.36,382.96 L133.60,382.85 L133.83,382.74 L134.06,382.63 L134.29,382.52 L134.52,382.40 L134.75,382.29 L134.99,382.18 L135.22,382.07 L135.45,381.95 L135.68,381.84 L135.91,381.72 L136.15,381.60 L136.38,381.49 L136.61,381.37 L136.84,381.25 L137.07,381.13 L137.30,381.01 L137.54,380.89 L137.77,380.77 L138.00,380.65 L138.23,380.53 L138.46,380.41 L138.69,380.28 L138.93,380.16 L139.16,380.04 L139.39,379.91 L139.62,379.79 L139.85,379.66 L140.09,379.53 L140.32,379.41 L140.55,379.28 L140.78,379.15 L141.01,379.02 L141.24,378.89 L141.48,378.76 L141.71,378.63 L141.94,378.50 L142.17,378.37 L142.40,378.24 L142.63,378.11 L142.87,377.97 L143.10,377.84 L143.33,377.71 L143.56,377.57 L143.79,377.44 L144.03,377.30 L144.26,377.17 L144.49,377.03 L144.72,376.89 L144.95,376.75 L145.18,376.62 L145.42,376.48 L145.65,376.34 L145.88,376.20 L146.11,376.06 L146.34,375.92 L146.57,375.78 L146.81,375.63 L147.04,375.49 L147.27,375.35 L147.50,375.21 L147.73,375.06 L147.97,374.92 L148.20,374.77 L148.43,374.63 L148.66,374.48 L148.89,374.34 L149.12,374.19 L149.36,374.04 L149.59,373.89 L149.82,373.74 L150.05,373.60 L150.28,373.45 L150.51,373.30 L150.75,373.15 L150.98,372.99 L151.21,372.84 L151.44,372.69 L151.67,372.54 L151.91,372.38 L152.14,372.23 L152.37,372.08 L152.60,371.92 L152.83,371.77 L153.06,371.61 L153.30,371.45 L153.53,371.30 L153.76,371.14 L153.99,370.98 L154.22,370.82 L154.45,370.66 L154.69,370.50 L154.92,370.34 L155.15,370.18 L155.38,370.02 L155.61,369.86 L155.85,369.69 L156.08,369.53 L156.31,369.37 L156.54,369.20 L156.77,369.03 L157.00,368.87 L157.24,368.70 L157.47,368.53 L157.70,368.37 L157.93,368.20 L158.16,368.03 L158.39,367.86 L158.63,367.69 L158.86,367.51 L159.09,367.34 L159.32,367.17 L159.55,367.00 L159.79,366.82 L160.02,366.65 L160.25,366.47 L160.48,366.29 L160.71,366.11 L160.94,365.94 L161.18,365.76 L161.41,365.58 L161.64,365.39 L161.87,365.21 L162.10,365.03 L162.33,364.84 L162.57,364.66 L162.80,364.47 L163.03,364.29 L163.26,364.10 L163.49,363.91 L163.73,363.72 L163.96,363.53 L164.19,363.34 L164.42,363.15 L164.65,362.95 L164.88,362.76 L165.12,362.56 L165.35,362.36 L165.58,362.16 L165.81,361.96 L166.04,361.76 L166.27,361.56 L166.51,361.35 L166.74,361.15 L166.97,360.94 L167.20,360.73 L167.43,360.52 L167.67,360.31 L167.90,360.10 L168.13,359.89 L168.36,359.67 L168.59,359.45 L168.82,359.23 L169.06,359.01 L169.29,358.79 L169.52,358.56 L169.75,358.34 L169.98,358.11 L170.21,357.88 L170.45,357.64 L170.68,357.41 L170.91,357.17 L171.14,356.93 L171.37,356.69 L171.61,356.45 L171.84,356.20 L172.07,355.95 L172.30,355.70 L172.53,355.44 L172.76,355.18 L173.00,354.92 L173.23,354.66 L173.46,354.39 L173.69,354.12 L173.92,353.84 L174.16,353.56 L174.39,353.28 L174.62,352.99 L174.85,352.70 L175.08,352.40 L175.31,352.10 L175.55,351.80 L175.78,351.49 L176.01,351.17 L176.24,350.85 L176.47,350.52 L176.70,350.19 L176.94,349.84 L177.17,349.49 L177.40,349.14 L177.63,348.77 L177.86,348.40 L178.10,348.01 L178.33,347.62 L178.56,347.22 L178.79,346.80 L179.02,346.37 L179.25,345.93 L179.49,345.47 L179.72,344.99 L179.95,344.49 L180.18,343.98 L180.41,343.44 L180.64,342.87 L180.88,342.28 L181.11,341.65 L181.34,340.98 L181.57,340.26 L181.80,339.49 L182.04,338.65 L182.27,337.72 L182.50,336.68 L182.73,335.49 L182.96,334.08 L183.19,332.34 L183.43,329.95 L183.66,325.86 L183.42,329.96 L183.47,329.41 L183.50,328.87 L183.54,328.34 L183.57,327.82 L183.59,327.32 L183.62,326.82 L183.64,326.33 L183.66,325.85 L183.67,325.38 L183.69,324.91 L183.70,324.46 L183.71,324.01 L183.73,323.57 L183.73,323.14 L183.74,322.72 L183.75,322.30 L183.76,321.89 L183.76,321.48 L183.77,321.09 L183.77,320.69 L183.78,320.31 L183.78,319.93 L183.78,319.55 L183.79,319.18 L183.79,318.82 L183.79,318.46 L183.79,318.10 L183.80,317.75 L183.80,317.41 L183.80,317.07 L183.80,316.73 L183.80,316.40 L183.80,316.07 L183.80,315.75 L183.81,315.43 L183.81,315.11 L183.81,314.80 L183.81,314.50 L183.81,314.19 L183.81,313.89 L183.81,313.59 L183.81,313.30 L183.81,313.01" stroke="#e00"/>
<path d="M29.30,365.05 L29.56,365.05 L29.83,365.05 L30.09,365.06 L30.35,365.06 L30.62,365.06 L30.88,365.06 L31.15,365.07 L31.41,365.07 L31.67,365.08 L31.94,365.08 L32.20,365.09 L32.46,365.09 L32.73,365.10 L32.99,365.11 L33.26,365.12 L33.52,365.13 L33.78,365.14 L34.05,365.15 L34.31,365.16 L34.57,365.17 L34.84,365.18 L35.10,365.19 L35.37,365.21 L35.63,365.22 L35.89,365.23 L36.16,365.25 L36.42,365.26 L36.68,365.28 L36.95,365.30 L37.21,365.31 L37.48,365.33 L37.74,365.35 L38.00,365.37 L38.27,365.39 L38.53,365.41 L38.79,365.43 L39.06,365.45 L39.32,365.47 L39.59,365.49 L39.85,365.51 L40.11,365.54 L40.38,365.56 L40.64,365.59 L40.90,365.61 L41.17,365.64 L41.43,365.66 L41.70,365.69 L41.96,365.72 L42.22,365.74 L42.49,365.77 L42.75,365.80 L43.01,365.83 L43.28,365.86 L43.54,365.89 L43.81,365.92 L44.07,365.95 L44.33,365.98 L44.60,366.02 L44.86,366.05 L45.12,366.08 L45.39,366.12 L45.65,366.15 L45.92,366.19 L46.18,366.22 L46.44,366.26 L46.71,366.30 L46.97,366.34 L47.23,366.37 L47.50,366.41 L47.76,366.45 L48.03,366.49 L48.29,366.53 L48.55,366.57 L48.82,366.61 L49.08,366.65 L49.34,366.70 L49.61,366.74 L49.87,366.78 L50.14,366.83 L50.40,366.87 L50.66,366.92 L50.93,366.96 L51.19,367.01 L51.45,367.05 L51.72,367.10 L51.98,367.15 L52.25,367.20 L52.51,367.25 L52.77,367.29 L53.04,367.34 L53.30,367.39 L53.56,367.44 L53.83,367.49 L54.09,367.55 L54.35,367.60 L54.62,367.65 L54.88,367.70 L55.15,367.76 L55.41,367.81 L55.67,367.87 L55.94,367.92 L56.20,367.98 L56.46,368.03 L56.73,368.09 L56.99,368.14 L57.26,368.20 L57.52,368.26 L57.78,368.32 L58.05,368.38 L58.31,368.43 L58.57,368.49 L58.84,368.55 L59.10,368.61 L59.37,368.67 L59.63,368.74 L59.89,368.80 L60.16,368.86 L60.42,368.92 L60.68,368.99 L60.95,369.05 L61.21,369.11 L61.48,369.18 L61.74,369.24 L62.00,369.31 L62.27,369.37 L62.53,369.44 L62.79,369.50 L63.06,369.57 L63.32,369.64 L63.59,369.71 L63.85,369.77 L64.11,369.84 L64.38,369.91 L64.64,369.98 L64.90,370.05 L65.17,370.12 L65.43,370.19 L65.70,370.26 L65.96,370.33 L66.22,370.40 L66.49,370.47 L66.75,370.54 L67.01,370.62 L67.28,370.69 L67.54,370.76 L67.81,370.84 L68.07,370.91 L68.33,370.98 L68.60,371.06 L68.86,371.13 L69.12,371.21 L69.39,371.28 L69.65,371.36 L69.92,371.43 L70.18,371.51 L70.44,371.58 L70.71,371.66 L70.97,371.74 L71.23,371.82 L71.50,371.89 L71.76,371.97 L72.03,372.05 L72.29,372.13 L72.55,372.21 L72.82,372.28 L73.08,372.36 L73.34,372.44 L73.61,372.52 L73.87,372.60 L74.14,372.68 L74.40,372.76 L74.66,372.84 L74.93,372.92 L75.19,373.00 L75.45,373.08 L75.72,373.16 L75.98,373.25 L76.25,373.33 L76.51,373.41 L76.77,373.49 L77.04,373.57 L77.30,373.65 L77.56,373.74 L77.83,373.82 L78.09,373.90 L78.35,373.98 L78.62,374.07 L78.88,374.15 L79.15,374.23 L79.41,374.31 L79.67,374.40 L79.94,374.48 L80.20,374.56 L80.46,374.65 L80.73,374.73 L80.99,374.81 L81.26,374.90 L81.52,374.98 L81.78,375.06 L82.05,375.15 L82.31,375.23 L82.57,375.31 L82.84,375.40 L83.10,375.48 L83.37,375.56 L83.63,375.65 L83.89,375.73 L84.16,375.81 L84.42,375.90 L84.68,375.98 L84.95,376.06 L85.21,376.14 L85.48,376.23 L85.74,376.31 L86.00,376.39 L86.27,376.48 L86.53,376.56 L86.79,376.64 L87.06,376.72 L87.32,376.81 L87.59,376.89 L87.85,376.97 L88.11,377.05 L88.38,377.13 L88.64,377.21 L88.90,377.29 L89.17,377.38 L89.43,377.46 L89.70,377.54 L89.96,377.62 L90.22,377.70 L90.49,377.78 L90.75,377.86 L91.01,377.94 L91.28,378.01 L91.54,378.09 L91.81,378.17 L92.07,378.25 L92.33,378.33 L92.60,378.40 L92.86,378.48 L93.12,378.56 L93.39,378.63 L93.65,378.71 L93.92,378.79 L94.18,378.86 L94.44,378.94 L94.71,379.01 L94.97,379.08 L95.23,379.16 L95.50,379.23 L95.76,379.30 L96.03,379.38 L96.29,379.45 L96.55,379.52 L96.82,379.59 L97.08,379.66 L97.34,379.73 L97.61,379.80 L97.87,379.87 L98.14,379.94 L98.40,380.00 L98.66,380.07 L98.93,380.14 L99.19,380.20 L99.45,380.27 L99.72,380.33 L99.98,380.40 L100.24,380.46 L100.51,380.53 L100.77,380.59 L101.04,380.65 L101.30,380.71 L101.56,380.77 L101.83,380.83 L102.09,380.89 L102.35,380.95 L102.62,381.01 L102.88,381.06 L103.15,381.12 L103.41,381.17 L103.67,381.23 L103.94,381.28 L104.20,381.34 L104.46,381.39 L104.73,381.44 L104.99,381.49 L105.26,381.54 L105.52,381.59 L105.78,381.64 L106.05,381.69 L106.31,381.73 L106.57,381.78 L106.84,381.83 L107.10,381.87 L107.37,381.91 L107.63,381.96 L107.89,382.00 L108.16,382.04 L108.42,382.08 L108.68,382.12 L108.95,382.15 L109.21,382.19 L109.48,382.23 L109.74,382.26 L110.00,382.30 L110.27,382.33 L110.53,382.36 L110.79,382.39 L111.06,382.43 L111.32,382.45 L111.59,382.48 L111.85,382.51 L112.11,382.54 L112.38,382.56 L112.64,382.59 L112.90,382.61 L113.17,382.63 L113.43,382.65 L113.70,382.67 L113.96,382.69 L114.22,382.71 L114.49,382.73 L114.75,382.74 L115.01,382.76 L115.28,382.77 L115.54,382.79 L115.81,382.80 L116.07,382.81 L116.33,382.82 L116.60,382.83 L116.86,382.83 L117.12,382.84 L117.39,382.85 L117.65,382.85 L117.92,382.85 L118.18,382.86 L118.44,382.86 L118.71,382.86 L118.97,382.85 L119.23,382.85 L119.50,382.85 L119.76,382.84 L120.03,382.84 L120.29,382.83 L120.55,382.82 L120.82,382.81 L121.08,382.80 L121.34,382.79 L121.61,382.78 L121.87,382.76 L122.14,382.75 L122.40,382.73 L122.66,382.72 L122.93,382.70 L123.19,382.68 L123.45,382.66 L123.72,382.64 L123.98,382.61 L124.24,382.59 L124.51,382.56 L124.77,382.54 L125.04,382.51 L125.30,382.48 L125.56,382.45 L125.83,382.42 L126.09,382.39 L126.35,382.36 L126.62,382.32 L126.88,382.29 L127.15,382.25 L127.41,382.21 L127.67,382.17 L127.94,382.13 L128.20,382.09 L128.46,382.05 L128.73,382.01 L128.99,381.96 L129.26,381.92 L129.52,381.87 L129.78,381.82 L130.05,381.78 L130.31,381.73 L130.57,381.68 L130.84,381.62 L131.10,381.57 L131.37,381.52 L131.63,381.46 L131.89,381.41 L132.16,381.35 L132.42,381.29 L132.68,381.23 L132.95,381.17 L133.21,381.11 L133.48,381.05 L133.74,380.99 L134.00,380.92 L134.27,380.86 L134.53,380.79 L134.79,380.72 L135.06,380.66 L135.32,380.59 L135.59,380.52 L135.85,380.45 L136.11,380.37 L136.38,380.30 L136.64,380.23 L136.90,380.15 L137.17,380.08 L137.43,380.00 L137.70,379.92 L137.96,379.84 L138.22,379.76 L138.49,379.68 L138.75,379.60 L139.01,379.52 L139.28,379.44 L139.54,379.35 L139.81,379.27 L140.07,379.18 L140.33,379.10 L140.60,379.01 L140.86,378.92 L141.12,378.83 L141.39,378.74 L141.65,378.65 L141.92,378.56 L142.18,378.47 L142.44,378.37 L142.71,378.28 L142.97,378.18 L143.23,378.09 L143.50,377.99 L143.76,377.89 L144.03,377.80 L144.29,377.70 L144.55,377.60 L144.82,377.50 L145.08,377.40 L145.34,377.29 L145.61,377.19 L145.87,377.09 L146.14,376.98 L146.40,376.88 L146.66,376.77 L146.93,376.67 L147.19,376.56 L147.45,376.45 L147.72,376.35 L147.98,376.24 L148.24,376.13 L148.51,376.02 L148.77,375.91 L149.04,375.79 L149.30,375.68 L149.56,375.57 L149.83,375.45 L150.09,375.34 L150.35,375.22 L150.62,375.11 L150.88,374.99 L151.15,374.88 L151.41,374.76 L151.67,374.64 L151.94,374.52 L152.20,374.40 L152.46,374.28 L152.73,374.16 L152.99,374.04 L153.26,373.92 L153.52,373.80 L153.78,373.67 L154.05,373.55 L154.31,373.43 L154.57,373.30 L154.84,373.18 L155.10,373.05 L155.37,372.92 L155.63,372.80 L155.89,372.67 L156.16,372.54 L156.42,372.41 L156.68,372.28 L156.95,372.15 L157.21,372.02 L157.48,371.89 L157.74,371.76 L158.00,371.63 L158.27,371.50 L158.53,371.36 L158.79,371.23 L159.06,371.10 L159.32,370.96 L159.59,370.83 L159.85,370.69 L160.11,370.55 L160.38,370.42 L160.64,370.28 L160.90,370.14 L161.17,370.00 L161.43,369.87 L161.70,369.73 L161.96,369.59 L162.22,369.45 L162.49,369.31 L162.75,369.16 L163.01,369.02 L163.28,368.88 L163.54,368.74 L163.81,368.59 L164.07,368.45 L164.33,368.31 L164.60,368.16 L164.86,368.02 L165.12,367.87 L165.39,367.72 L165.65,367.58 L165.92,367.43 L166.18,367.28 L166.44,367.13 L166.71,366.98 L166.97,366.83 L167.23,366.68 L167.50,366.53 L167.76,366.38 L168.03,366.23 L168.29,366.08 L168.55,365.93 L168.82,365.77 L169.08,365.62 L169.34,365.47 L169.61,365.31 L169.87,365.15 L170.14,365.00 L170.40,364.84 L170.66,364.69 L170.93,364.53 L171.19,364.37 L171.45,364.21 L171.72,364.05 L171.98,363.89 L172.24,363.73 L172.51,363.57 L172.77,363.41 L173.04,363.25 L173.30,363.08 L173.56,362.92 L173.83,362.75 L174.09,362.59 L174.35,362.42 L174.62,362.26 L174.88,362.09 L175.15,361.92 L175.41,361.75 L175.67,361.59 L175.94,361.42 L176.20,361.25 L176.46,361.08 L176.73,360.90 L176.99,360.73 L177.26,360.56 L177.52,360.38 L177.78,360.21 L178.05,360.03 L178.31,359.86 L178.57,359.68 L178.84,359.50 L179.10,359.32 L179.37,359.14 L179.63,358.96 L179.89,358.78 L180.16,358.60 L180.42,358.42 L180.68,358.23 L180.95,358.05 L181.21,357.86 L181.48,357.68 L181.74,357.49 L182.00,357.30 L182.27,357.11 L182.53,356.92 L182.79,356.73 L183.06,356.53 L183.32,356.34 L183.59,356.14 L183.85,355.95 L184.11,355.75 L184.38,355.55 L184.64,355.35 L184.90,355.15 L185.17,354.95 L185.43,354.74 L185.70,354.54 L185.96,354.33 L186.22,354.12 L186.49,353.91 L186.75,353.70 L187.01,353.49 L187.28,353.27 L187.54,353.06 L187.81,352.84 L188.07,352.62 L188.33,352.40 L188.60,352.18 L188.86,351.95 L189.12,351.73 L189.39,351.50 L189.65,351.27 L189.92,351.03 L190.18,350.80 L190.44,350.56 L190.71,350.32 L190.97,350.08 L191.23,349.83 L191.50,349.59 L191.76,349.34 L192.03,349.09 L192.29,348.83 L192.55,348.57 L192.82,348.31 L193.08,348.04 L193.34,347.78 L193.61,347.51 L193.87,347.23 L194.13,346.95 L194.40,346.67 L194.66,346.38 L194.93,346.09 L195.19,345.79 L195.45,345.49 L195.72,345.19 L195.98,344.88 L196.24,344.56 L196.51,344.24 L196.77,343.91 L197.04,343.57 L197.30,343.23 L197.56,342.88 L197.83,342.53 L198.09,342.16 L198.35,341.79 L198.62,341.40 L198.88,341.01 L199.15,340.60 L199.41,340.19 L199.67,339.76 L199.94,339.31 L200.20,338.85 L200.46,338.38 L200.73,337.88 L200.99,337.37 L201.26,336.83 L201.52,336.26 L201.78,335.67 L202.05,335.04 L202.31,334.37 L202.57,333.65 L202.84,332.88 L203.10,332.04 L203.37,331.11 L203.63,330.07 L203.89,328.88 L204.16,327.47 L204.42,325.72 L204.68,323.34 L204.95,319.25 L204.68,323.35 L204.73,322.80 L204.77,322.26 L204.81,321.73 L204.85,321.21 L204.88,320.71 L204.90,320.21 L204.93,319.72 L204.95,319.24 L204.97,318.77 L204.98,318.30 L205.00,317.85 L205.01,317.40 L205.03,316.96 L205.04,316.53 L205.05,316.11 L205.05,315.69 L205.06,315.28 L205.07,314.87 L205.07,314.47 L205.08,314.08 L205.08,313.70 L205.09,313.31 L205.09,312.94 L205.10,312.57 L205.10,312.21 L205.10,311.85 L205.10,311.49 L205.11,311.14 L205.11,310.80 L205.11,310.46 L205.11,310.12 L205.11,309.79" stroke="#080"/>
<path d="M95.9,291.8 V425" stroke="#000" stroke-dasharray="4.5,3"/>
<path d="M106.6,291.8 V425" stroke="#e00" stroke-dasharray="4.5,3"/>
<path d="M117.2,291.8 V425" stroke="#080" stroke-dasharray="4.5,3"/>
</g>
<rect x="29.3" y="291.8" width="176.89999999999998" height="133.2" fill="none" stroke="#8c8c8c" stroke-width="0.9"/>
<path d="M29.3,425 v-3 M29.3,291.8 v3 M95.9,425 v-3 M95.9,291.8 v3 M162.5,425 v-3 M162.5,291.8 v3 M62.6,425 v-1.5 M62.6,291.8 v1.5 M129.2,425 v-1.5 M129.2,291.8 v1.5 M195.8,425 v-1.5 M195.8,291.8 v1.5 M29.3,410.1 h1.5 M29.3,399.7 h1.5 M29.3,392.3 h1.5 M29.3,386.5 h1.5 M29.3,381.8 h1.5 M29.3,377.9 h1.5 M29.3,374.4 h1.5 M29.3,371.4 h1.5 M29.3,368.7 h3 M29.3,350.9 h1.5 M29.3,340.5 h1.5 M29.3,333.1 h1.5 M29.3,327.3 h1.5 M29.3,322.6 h1.5 M29.3,318.7 h1.5 M29.3,315.2 h1.5 M29.3,312.2 h1.5 M29.3,309.5 h3" stroke="#666" stroke-width="0.7" fill="none"/>
<text x="27.80" y="372.30" font-size="10.5" fill="#222" text-anchor="end" font-weight="normal" style="font-family:'Liberation Serif',serif;" >10</text>
<text x="27.80" y="313.10" font-size="10.5" fill="#222" text-anchor="end" font-weight="normal" style="font-family:'Liberation Serif',serif;" >100</text>
<text x="29.30" y="437.00" font-size="10.5" fill="#222" text-anchor="middle" font-weight="normal" style="font-family:'Liberation Serif',serif;" >0</text>
<text x="95.90" y="437.00" font-size="10.5" fill="#222" text-anchor="middle" font-weight="normal" style="font-family:'Liberation Serif',serif;" >1</text>
<text x="162.50" y="437.00" font-size="10.5" fill="#222" text-anchor="middle" font-weight="normal" style="font-family:'Liberation Serif',serif;" >2</text>
<text x="100" y="446" font-size="13.5" style="font-family:'Liberation Serif',serif" fill="#222">r [σ<tspan font-size="9" dy="3">AA</tspan><tspan dy="-3">]</tspan></text>
<text transform="translate(15,358.5) rotate(-90)" font-size="14.5" text-anchor="middle" style="font-family:'Liberation Serif',serif" fill="#222">h<tspan font-size="10" dy="3.5">vex</tspan><tspan dy="-3.5"> + h</tspan><tspan font-size="10" dy="3.5">FENE</tspan></text>
<rect x="33.5" y="292" width="49.5" height="69.5" fill="#fff" stroke="#999" stroke-width="0.8"/>
<path d="M36.5,297.8 h7" stroke="#000" stroke-width="1.3"/>
<text x="46.5" y="301.3" font-size="10.5" style="font-family:'Liberation Serif',serif" fill="#222">A-A</text>
<path d="M36.5,306.8 h7" stroke="#e00" stroke-width="1.3"/>
<text x="46.5" y="310.3" font-size="10.5" style="font-family:'Liberation Serif',serif" fill="#222">A-B</text>
<path d="M36.5,316.0 h7" stroke="#080" stroke-width="1.3"/>
<text x="46.5" y="319.5" font-size="10.5" style="font-family:'Liberation Serif',serif" fill="#222">B-B</text>
<path d="M36.5,324.5 h3.5" stroke="#000" stroke-width="1.3"/>
<text x="46.5" y="327.5" font-size="10.5" style="font-family:'Liberation Serif',serif" fill="#222">r<tspan font-size="7.5" dy="3">min</tspan><tspan dy="-3"> A-A</tspan></text>
<path d="M36.5,338.0 h3.5" stroke="#e00" stroke-width="1.3"/>
<text x="46.5" y="341.0" font-size="10.5" style="font-family:'Liberation Serif',serif" fill="#222">r<tspan font-size="7.5" dy="3">min</tspan><tspan dy="-3"> A-B</tspan></text>
<path d="M36.5,351.3 h3.5" stroke="#080" stroke-width="1.3"/>
<text x="46.5" y="354.3" font-size="10.5" style="font-family:'Liberation Serif',serif" fill="#222">r<tspan font-size="7.5" dy="3">min</tspan><tspan dy="-3"> B-B</tspan></text>
<circle cx="251.3" cy="56" r="13.45" fill="#cccccc"/>
<circle cx="251.1" cy="99" r="17.7" fill="#f98686"/>
<text x="275.40" y="65.00" font-size="20.6" fill="#000" text-anchor="start" font-weight="normal" style="font-family:'Liberation Sans',sans-serif;" >EC</text>
<text x="275.40" y="106.70" font-size="20.6" fill="#000" text-anchor="start" font-weight="normal" style="font-family:'Liberation Sans',sans-serif;" >HC</text>
<circle cx="293" cy="244" r="91" fill="#fff" stroke="#111" stroke-width="0.8"/>
<circle cx="244.5" cy="285.7" r="13.3" fill="#cfcfcf"/>
<circle cx="261" cy="303.7" r="13.3" fill="#cfcfcf"/>
<circle cx="286.9" cy="308.7" r="13.3" fill="#cfcfcf"/>
<circle cx="279.6" cy="246.1" r="13.3" fill="#cfcfcf"/>
<circle cx="300" cy="263.2" r="13.3" fill="#cfcfcf"/>
<circle cx="341.2" cy="187.9" r="13.3" fill="#cfcfcf"/>
<circle cx="233.5" cy="219.7" r="17.6" fill="#f88686"/>
<circle cx="229.7" cy="258.6" r="17.6" fill="#f88686"/>
<circle cx="294.6" cy="219.7" r="17.6" fill="#f88686"/>
<circle cx="325.8" cy="215.3" r="17.6" fill="#f88686"/>
<circle cx="328.6" cy="268" r="17.6" fill="#f88686"/>
<circle cx="319.6" cy="303.7" r="17.6" fill="#f88686"/>
<path d="M233.50,222.40 L229.50,252.00 L230.60,263.00 L240.00,282.40 L248.40,289.40 L258.70,301.50" stroke="#000" stroke-width="2.2" fill="none"/>
<rect x="229.5" y="218.4" width="8" height="8" fill="#000" transform="rotate(5 233.5 222.4)"/>
<rect x="225.5" y="248" width="8" height="8" fill="#000" transform="rotate(5 229.5 252)"/>
<rect x="226.6" y="259" width="8" height="8" fill="#000" transform="rotate(-20 230.6 263)"/>
<rect x="236" y="278.4" width="8" height="8" fill="#000" transform="rotate(-30 240 282.4)"/>
<rect x="244.4" y="285.4" width="8" height="8" fill="#000" transform="rotate(-35 248.4 289.4)"/>
<rect x="254.7" y="297.5" width="8" height="8" fill="#000" transform="rotate(-35 258.7 301.5)"/>
<path d="M327.3,221.5 L329,263.7" stroke="#1d4e8f" stroke-width="2.2"/>
<path d="M328,274.2 L317,298.8" stroke="#6f9fd8" stroke-width="2.2"/>
<rect x="323.3" y="217.5" width="8" height="8" fill="#1d4e8f" transform="rotate(0 327.3 221.5)"/>
<rect x="325" y="259.7" width="8" height="8" fill="#1d4e8f" transform="rotate(0 329 263.7)"/>
<rect x="324" y="270.2" width="8" height="8" fill="#6f9fd8" transform="rotate(20 328 274.2)"/>
<rect x="313" y="294.8" width="8" height="8" fill="#6f9fd8" transform="rotate(20 317 298.8)"/>
<path d="M329,246 L404,137" stroke="#000" stroke-width="2" stroke-dasharray="4.5,3" fill="none"/>
<path d="M409.5,130.5 L397.5,134.5 L405,140.5 Z" fill="#000"/>
<path d="M325,288 L403,338" stroke="#000" stroke-width="2" stroke-dasharray="4.5,3" fill="none"/>
<path d="M410,342.5 L398.5,332.5 L396.5,342 Z" fill="#000"/>
<rect x="421.9" y="38.9" width="179.89999999999998" height="189.29999999999998" fill="none" stroke="#8c8c8c" stroke-width="0.9"/>
<path d="M421.9,139.3 H601.8" stroke="#555" stroke-width="0.9"/>
<path d="M421.9,38.9 v3 M421.9,139.3 v-3 M421.9,139.3 v3 M421.9,228.2 v-3 M493.9,38.9 v3 M493.9,139.3 v-3 M493.9,139.3 v3 M493.9,228.2 v-3 M565.9,38.9 v3 M565.9,139.3 v-3 M565.9,139.3 v3 M565.9,228.2 v-3 M457.9,38.9 v1.5 M457.9,139.3 v-1.5 M457.9,139.3 v1.5 M457.9,228.2 v-1.5 M529.9,38.9 v1.5 M529.9,139.3 v-1.5 M529.9,139.3 v1.5 M529.9,228.2 v-1.5 M601.9,38.9 v1.5 M601.9,139.3 v-1.5 M601.9,139.3 v1.5 M601.9,228.2 v-1.5 M421.9,39.3 h3 M421.9,60.3 h3 M421.9,81.2 h3 M421.9,102.1 h3 M421.9,123.0 h3 M421.9,49.8 h1.5 M421.9,70.7 h1.5 M421.9,91.6 h1.5 M421.9,112.6 h1.5 M421.9,133.5 h1.5 M421.9,139.3 h3 M421.9,168.9 h3 M421.9,198.6 h3 M421.9,228.2 h3 M421.9,154.1 h1.5 M421.9,183.8 h1.5 M421.9,213.4 h1.5" stroke="#666" stroke-width="0.7" fill="none"/>
<text x="420.40" y="42.94" font-size="10.5" fill="#222" text-anchor="end" font-weight="normal" style="font-family:'Liberation Serif',serif;" >12</text>
<text x="420.40" y="63.86" font-size="10.5" fill="#222" text-anchor="end" font-weight="normal" style="font-family:'Liberation Serif',serif;" >8</text>
<text x="420.40" y="84.78" font-size="10.5" fill="#222" text-anchor="end" font-weight="normal" style="font-family:'Liberation Serif',serif;" >4</text>
<text x="420.40" y="105.70" font-size="10.5" fill="#222" text-anchor="end" font-weight="normal" style="font-family:'Liberation Serif',serif;" >0</text>
<text x="420.40" y="126.62" font-size="10.5" fill="#222" text-anchor="end" font-weight="normal" style="font-family:'Liberation Serif',serif;" >-4</text>
<text x="420.40" y="142.90" font-size="10.5" fill="#222" text-anchor="end" font-weight="normal" style="font-family:'Liberation Serif',serif;" >40</text>
<text x="420.40" y="172.55" font-size="10.5" fill="#222" text-anchor="end" font-weight="normal" style="font-family:'Liberation Serif',serif;" >20</text>
<text x="420.40" y="202.20" font-size="10.5" fill="#222" text-anchor="end" font-weight="normal" style="font-family:'Liberation Serif',serif;" >0</text>
<text x="420.40" y="231.85" font-size="10.5" fill="#222" text-anchor="end" font-weight="normal" style="font-family:'Liberation Serif',serif;" >-20</text>
<text x="421.90" y="237.70" font-size="10.5" fill="#222" text-anchor="middle" font-weight="normal" style="font-family:'Liberation Serif',serif;" >0</text>
<text x="493.90" y="237.70" font-size="10.5" fill="#222" text-anchor="middle" font-weight="normal" style="font-family:'Liberation Serif',serif;" >1</text>
<text x="565.90" y="237.70" font-size="10.5" fill="#222" text-anchor="middle" font-weight="normal" style="font-family:'Liberation Serif',serif;" >2</text>
<path d="M421.9,102.1 H601.8" stroke="#090" stroke-width="1.6" stroke-dasharray="1.6,3.6"/>
<path d="M421.9,198.6 H601.8" stroke="#090" stroke-width="1.6" stroke-dasharray="1.6,3.6"/>
<path d="M421.90,41.48 C423.37,41.60 427.58,41.73 430.74,42.23 C433.90,42.74 437.48,43.37 440.85,44.51 C444.22,45.64 447.59,47.03 450.96,49.06 C454.32,51.08 457.69,53.48 461.06,56.63 C464.43,59.79 467.80,63.58 471.17,68.00 C474.54,72.43 478.33,78.32 481.27,83.16 C484.22,88.01 486.33,92.85 488.85,97.06 C491.38,101.27 493.91,104.85 496.43,108.43 C498.96,112.01 501.06,116.01 504.01,118.53 C506.96,121.06 510.75,123.17 514.12,123.59 C517.49,124.01 520.43,122.53 524.22,121.06 C528.01,119.59 532.65,116.85 536.86,114.74 C541.07,112.64 545.28,110.32 549.49,108.43 C553.70,106.53 557.91,104.47 562.12,103.38 C566.33,102.28 570.54,102.07 574.75,101.86 C578.97,101.65 582.88,102.07 587.39,102.11 C591.89,102.15 599.39,102.11 601.79,102.11" stroke="#e00" stroke-width="1.3" fill="none"/>
<path d="M421.90,198.63 C423.37,197.91 427.16,196.10 430.74,194.33 C434.32,192.56 439.16,190.33 443.38,188.01 C447.59,185.70 451.80,183.17 456.01,180.43 C460.22,177.70 464.85,173.99 468.64,171.59 C472.43,169.19 476.22,167.09 478.75,166.03 C481.27,164.98 482.12,165.19 483.80,165.28 C485.48,165.36 486.75,165.06 488.85,166.54 C490.96,168.01 493.91,170.96 496.43,174.12 C498.96,177.28 501.49,181.70 504.01,185.49 C506.54,189.28 509.07,193.36 511.59,196.86 C514.12,200.35 516.64,204.10 519.17,206.46 C521.70,208.82 524.22,210.08 526.75,211.01 C529.28,211.93 531.38,212.27 534.33,212.02 C537.28,211.76 540.65,210.75 544.44,209.49 C548.23,208.23 552.86,205.99 557.07,204.44 C561.28,202.88 565.49,201.15 569.70,200.14 C573.91,199.13 576.99,198.67 582.33,198.37 C587.68,198.08 598.55,198.37 601.79,198.37" stroke="#e00" stroke-width="1.3" fill="none"/>
<text x="497.7" y="243.6" font-size="13.5" style="font-family:'Liberation Serif',serif" fill="#222">r [ σ<tspan font-size="9" dy="3">AA</tspan><tspan dy="-3"> ]</tspan></text>
<text transform="translate(406.5,89) rotate(-90)" font-size="14.5" text-anchor="middle" style="font-family:'Liberation Serif',serif" fill="#222">h(r)</text>
<text transform="translate(406.5,183.5) rotate(-90)" font-size="14.5" text-anchor="middle" style="font-family:'Liberation Serif',serif" fill="#222">-∇<tspan font-size="10" dy="3.5">r</tspan><tspan dy="-3.5">h(r)</tspan></text>
<rect x="522.5" y="49.8" width="69.5" height="19.5" fill="#fff" stroke="#999" stroke-width="0.8"/>
<path d="M525.5,59.5 h8" stroke="#e00" stroke-width="1.3"/>
<text x="537" y="63.5" font-size="13" style="font-family:'Liberation Serif',serif" fill="#222">h<tspan font-size="9" dy="3">vex</tspan><tspan dy="-3"> + h</tspan><tspan font-size="9" dy="3">HC</tspan></text>
<rect x="506" y="155.2" width="91.5" height="18.9" fill="#fff" stroke="#999" stroke-width="0.8"/>
<path d="M509,165 h8" stroke="#e00" stroke-width="1.3"/>
<text x="520" y="169" font-size="12.6" style="font-family:'Liberation Serif',serif" fill="#222">-∇<tspan font-size="8.5" dy="3">r</tspan><tspan dy="-3">(h</tspan><tspan font-size="8.5" dy="3">vex</tspan><tspan dy="-3"> + h</tspan><tspan font-size="8.5" dy="3">HC</tspan><tspan dy="-3">)</tspan></text>
<rect x="424.1" y="260.4" width="179.89999999999998" height="168.40000000000003" fill="none" stroke="#8c8c8c" stroke-width="0.9"/>
<path d="M424.1,352.2 H604" stroke="#555" stroke-width="0.9"/>
<path d="M424.1,428.8 v-3 M424.1,260.4 v3 M424.1,352.2 v-3 M424.1,352.2 v3 M458.8,428.8 v-3 M458.8,260.4 v3 M458.8,352.2 v-3 M458.8,352.2 v3 M493.4,428.8 v-3 M493.4,260.4 v3 M493.4,352.2 v-3 M493.4,352.2 v3 M528.0,428.8 v-3 M528.0,260.4 v3 M528.0,352.2 v-3 M528.0,352.2 v3 M562.7,428.8 v-3 M562.7,260.4 v3 M562.7,352.2 v-3 M562.7,352.2 v3 M441.4,428.8 v-1.5 M441.4,260.4 v1.5 M441.4,352.2 v-1.5 M441.4,352.2 v1.5 M476.1,428.8 v-1.5 M476.1,260.4 v1.5 M476.1,352.2 v-1.5 M476.1,352.2 v1.5 M510.7,428.8 v-1.5 M510.7,260.4 v1.5 M510.7,352.2 v-1.5 M510.7,352.2 v1.5 M545.4,428.8 v-1.5 M545.4,260.4 v1.5 M545.4,352.2 v-1.5 M545.4,352.2 v1.5 M580.0,428.8 v-1.5 M580.0,260.4 v1.5 M580.0,352.2 v-1.5 M580.0,352.2 v1.5 M424.1,277.0 h3 M424.1,295.7 h3 M424.1,314.3 h3 M424.1,333.0 h3 M424.1,351.7 h3 M424.1,267.7 h1.5 M424.1,286.3 h1.5 M424.1,305.0 h1.5 M424.1,323.7 h1.5 M424.1,342.3 h1.5 M424.1,365.9 h3 M424.1,379.9 h3 M424.1,393.9 h3 M424.1,407.9 h3 M424.1,421.9 h3 M424.1,358.9 h1.5 M424.1,372.9 h1.5 M424.1,386.9 h1.5 M424.1,400.9 h1.5 M424.1,414.9 h1.5" stroke="#666" stroke-width="0.7" fill="none"/>
<text x="422.60" y="280.60" font-size="10.5" fill="#222" text-anchor="end" font-weight="normal" style="font-family:'Liberation Serif',serif;" >12</text>
<text x="422.60" y="299.26" font-size="10.5" fill="#222" text-anchor="end" font-weight="normal" style="font-family:'Liberation Serif',serif;" >8</text>
<text x="422.60" y="317.93" font-size="10.5" fill="#222" text-anchor="end" font-weight="normal" style="font-family:'Liberation Serif',serif;" >4</text>
<text x="422.60" y="336.60" font-size="10.5" fill="#222" text-anchor="end" font-weight="normal" style="font-family:'Liberation Serif',serif;" >0</text>
<text x="422.60" y="355.27" font-size="10.5" fill="#222" text-anchor="end" font-weight="normal" style="font-family:'Liberation Serif',serif;" >-4</text>
<text x="422.60" y="369.50" font-size="10.5" fill="#222" text-anchor="end" font-weight="normal" style="font-family:'Liberation Serif',serif;" >20</text>
<text x="422.60" y="383.50" font-size="10.5" fill="#222" text-anchor="end" font-weight="normal" style="font-family:'Liberation Serif',serif;" >0</text>
<text x="422.60" y="397.50" font-size="10.5" fill="#222" text-anchor="end" font-weight="normal" style="font-family:'Liberation Serif',serif;" >-20</text>
<text x="422.60" y="411.50" font-size="10.5" fill="#222" text-anchor="end" font-weight="normal" style="font-family:'Liberation Serif',serif;" >-40</text>
<text x="422.60" y="425.50" font-size="10.5" fill="#222" text-anchor="end" font-weight="normal" style="font-family:'Liberation Serif',serif;" >-60</text>
<text x="424.10" y="439.80" font-size="10.5" fill="#222" text-anchor="middle" font-weight="normal" style="font-family:'Liberation Serif',serif;" >0</text>
<text x="458.75" y="439.80" font-size="10.5" fill="#222" text-anchor="middle" font-weight="normal" style="font-family:'Liberation Serif',serif;" >0.5</text>
<text x="493.40" y="439.80" font-size="10.5" fill="#222" text-anchor="middle" font-weight="normal" style="font-family:'Liberation Serif',serif;" >1</text>
<text x="528.05" y="439.80" font-size="10.5" fill="#222" text-anchor="middle" font-weight="normal" style="font-family:'Liberation Serif',serif;" >1.5</text>
<text x="562.70" y="439.80" font-size="10.5" fill="#222" text-anchor="middle" font-weight="normal" style="font-family:'Liberation Serif',serif;" >2</text>
<path d="M424.1,333.0 H604" stroke="#090" stroke-width="1.6" stroke-dasharray="1.6,3.6"/>
<path d="M424.1,379.9 H604" stroke="#090" stroke-width="1.6" stroke-dasharray="1.6,3.6"/>
<path d="M424.13,277.22 C425.36,277.34 428.74,277.34 431.51,277.91 C434.28,278.49 437.28,279.26 440.74,280.68 C444.20,282.10 448.43,283.95 452.27,286.45 C456.12,288.95 459.96,292.02 463.81,295.67 C467.65,299.33 471.88,304.13 475.34,308.36 C478.80,312.59 481.49,317.24 484.57,321.05 C487.64,324.86 491.10,328.70 493.79,331.20 C496.49,333.70 498.41,334.93 500.72,336.04 C503.02,337.16 505.33,337.85 507.64,337.89 C509.94,337.93 512.25,337.47 514.56,336.27 C516.86,335.08 518.79,333.39 521.48,330.74 C524.17,328.09 527.24,324.01 530.70,320.36 C534.16,316.71 538.39,312.67 542.24,308.82 C546.08,304.98 550.31,300.83 553.77,297.29 C557.23,293.75 559.92,291.33 563.00,287.60 C566.07,283.87 569.53,279.45 572.23,274.91 C574.92,270.38 577.99,262.80 579.15,260.38" stroke="#e00" stroke-width="1.3" fill="none"/>
<path d="M424.13,379.87 C425.74,379.49 430.28,378.45 433.82,377.57 C437.35,376.68 441.51,375.72 445.35,374.57 C449.20,373.41 453.04,371.88 456.89,370.65 C460.73,369.42 464.58,367.99 468.42,367.19 C472.26,366.38 476.49,365.72 479.95,365.80 C483.41,365.88 486.11,366.38 489.18,367.65 C492.26,368.92 495.33,371.11 498.41,373.41 C501.48,375.72 504.56,378.99 507.64,381.49 C510.71,383.99 513.79,386.79 516.86,388.41 C519.94,390.02 523.01,390.56 526.09,391.18 C529.17,391.79 532.24,391.98 535.32,392.10 C538.39,392.21 541.47,391.98 544.54,391.87 C547.62,391.75 550.70,391.29 553.77,391.41 C556.85,391.52 559.92,391.71 563.00,392.56 C566.07,393.41 569.15,394.68 572.23,396.48 C575.30,398.29 578.76,400.52 581.45,403.40 C584.14,406.29 586.45,410.52 588.37,413.78 C590.30,417.05 591.64,420.40 592.99,423.01 C594.33,425.62 595.87,428.39 596.45,429.47" stroke="#e00" stroke-width="1.3" fill="none"/>
<text x="488.5" y="450" font-size="13.5" style="font-family:'Liberation Serif',serif" fill="#222">r [ σ<tspan font-size="9" dy="3">AA</tspan><tspan dy="-3"> ]</tspan></text>
<text transform="translate(404,306.5) rotate(-90)" font-size="14" text-anchor="middle" style="font-family:'Liberation Serif',serif" fill="#222">h(r)</text>
<text transform="translate(404,390.5) rotate(-90)" font-size="14" text-anchor="middle" style="font-family:'Liberation Serif',serif" fill="#222">-∇<tspan font-size="10" dy="3.5">r</tspan><tspan dy="-3.5">h(r)</tspan></text>
<rect x="456.4" y="266.6" width="104.3" height="18" fill="#fff" stroke="#999" stroke-width="0.8"/>
<path d="M459,276 h8" stroke="#e00" stroke-width="1.3"/>
<text x="470" y="279.5" font-size="12" style="font-family:'Liberation Serif',serif" fill="#222">h<tspan font-size="8.5" dy="3">vex</tspan><tspan dy="-3"> + h</tspan><tspan font-size="8.5" dy="3">FENE</tspan><tspan dy="-3"> + h</tspan><tspan font-size="8.5" dy="3">HC</tspan></text>
<rect x="435" y="407.6" width="110.2" height="17.7" fill="#fff" stroke="#999" stroke-width="0.8"/>
<path d="M437.5,417 h8" stroke="#e00" stroke-width="1.3"/>
<text x="448" y="420" font-size="12" style="font-family:'Liberation Serif',serif" fill="#222">-∇<tspan font-size="8.5" dy="3">r</tspan><tspan dy="-3">(h</tspan><tspan font-size="8.5" dy="3">vex</tspan><tspan dy="-3">+h</tspan><tspan font-size="8.5" dy="3">FENE</tspan><tspan dy="-3">+h</tspan><tspan font-size="8.5" dy="3">HC</tspan><tspan dy="-3">)</tspan></text>
<text x="688.00" y="20.00" font-size="25" fill="#000" text-anchor="start" font-weight="normal" style="font-family:'Liberation Sans',sans-serif;" >B</text>
<ellipse cx="790.3" cy="103.3" rx="62.2" ry="72.5" fill="#6f9bd0" stroke="#4f7db8" stroke-width="1"/>
<path d="M734.9,30.8 V175.8 M761.6,30.8 V175.8 M789,30.8 V175.8 M815.4,30.8 V175.8 M839.8,30.8 V175.8 M728,46.7 H852.5 M728,72.2 H852.5 M728,103.5 H852.5 M728,134.6 H852.5 M728,168.4 H852.5" stroke="#2c5d9d" stroke-width="2.4" fill="none"/>
<ellipse cx="800" cy="58.2" rx="7.7" ry="9" fill="#ee1111"/>
<ellipse cx="828.3" cy="59.9" rx="7.7" ry="9" fill="#dcdcdc"/>
<ellipse cx="771.5" cy="91.5" rx="7.7" ry="9" fill="#ee1111"/>
<ellipse cx="798.6" cy="93.4" rx="7.7" ry="9" fill="#ee1111"/>
<ellipse cx="828.3" cy="88.7" rx="7.7" ry="9" fill="#dcdcdc"/>
<ellipse cx="800.3" cy="117.5" rx="7.7" ry="9" fill="#dcdcdc"/>
<ellipse cx="829.1" cy="120" rx="7.7" ry="9" fill="#ee1111"/>
<ellipse cx="800.3" cy="152.7" rx="7.7" ry="9" fill="#dcdcdc"/>
<path d="M800.30,146.00 L800.30,133.90" stroke="#f0a20c" stroke-width="2.8" fill="none"/>
<path d="M800.30,125.50 L805.55,136.00 L795.05,136.00 Z" fill="#f0a20c"/>
<path d="M801.50,119.50 L817.60,119.50" stroke="#f0a20c" stroke-width="2.8" fill="none"/>
<path d="M826.00,119.50 L815.50,124.75 L815.50,114.25 Z" fill="#f0a20c"/>
<path d="M828.30,114.00 L828.30,99.90" stroke="#f0a20c" stroke-width="2.8" fill="none"/>
<path d="M828.30,91.50 L833.55,102.00 L823.05,102.00 Z" fill="#f0a20c"/>
<path d="M828.30,81.50 L828.30,68.90" stroke="#f0a20c" stroke-width="2.8" fill="none"/>
<path d="M828.30,60.50 L833.55,71.00 L823.05,71.00 Z" fill="#f0a20c"/>
<path d="M822.00,59.50 L811.90,59.50" stroke="#f0a20c" stroke-width="2.8" fill="none"/>
<path d="M803.50,59.50 L814.00,54.25 L814.00,64.75 Z" fill="#f0a20c"/>
<path d="M799.00,62.00 L799.00,77.60" stroke="#f0a20c" stroke-width="2.8" fill="none"/>
<path d="M799.00,86.00 L793.75,75.50 L804.25,75.50 Z" fill="#f0a20c"/>
<path d="M796.00,95.50 L782.90,95.50" stroke="#f0a20c" stroke-width="2.8" fill="none"/>
<path d="M774.50,95.50 L785.00,90.25 L785.00,100.75 Z" fill="#f0a20c"/>
<path d="M847.5,100.3 H872 V95.5 L885,103 L872,110.5 V105.7 H847.5 Z" fill="#177a1e"/>
<text x="735.50" y="194.00" font-size="13.6" fill="#1a1a1a" text-anchor="start" font-weight="normal" style="font-family:'Liberation Sans',sans-serif;" >Initialization with</text>
<text x="735.50" y="209.10" font-size="13.6" fill="#1a1a1a" text-anchor="start" font-weight="normal" style="font-family:'Liberation Sans',sans-serif;" >self-avoiding</text>
<text x="735.50" y="224.20" font-size="13.6" fill="#1a1a1a" text-anchor="start" font-weight="normal" style="font-family:'Liberation Sans',sans-serif;" >random walk</text>
<text x="735.50" y="239.30" font-size="13.6" fill="#1a1a1a" text-anchor="start" font-weight="normal" style="font-family:'Liberation Sans',sans-serif;" >(SAW)</text>
<path d="M906.7,37 V160.8 H1054.6" stroke="#111" stroke-width="1.2" fill="none"/>
<path d="M906.7,160.8 h5 M906.7,136.4 h5 M906.7,112.1 h5 M906.7,87.7 h5 M906.7,63.4 h5 M906.7,39.0 h5 M906.7,148.6 h3 M906.7,124.3 h3 M906.7,99.9 h3 M906.7,75.5 h3 M906.7,51.2 h3 M906.7,160.8 v-5 M956.2,160.8 v-5 M1005.7,160.8 v-5 M911.7,160.8 v-3 M916.6,160.8 v-3 M921.6,160.8 v-3 M926.5,160.8 v-3 M931.5,160.8 v-3 M936.4,160.8 v-3 M941.4,160.8 v-3 M946.3,160.8 v-3 M951.2,160.8 v-3 M961.2,160.8 v-3 M966.1,160.8 v-3 M971.1,160.8 v-3 M976.0,160.8 v-3 M981.0,160.8 v-3 M985.9,160.8 v-3 M990.9,160.8 v-3 M995.8,160.8 v-3 M1000.8,160.8 v-3 M1010.7,160.8 v-3 M1015.6,160.8 v-3 M1020.6,160.8 v-3 M1025.5,160.8 v-3 M1030.5,160.8 v-3 M1035.4,160.8 v-3 M1040.4,160.8 v-3 M1045.3,160.8 v-3 M1050.2,160.8 v-3" stroke="#111" stroke-width="0.9" fill="none"/>
<text x="905.00" y="164.80" font-size="10.5" fill="#111" text-anchor="end" font-weight="normal" style="font-family:'Liberation Serif',serif;" >3</text>
<text x="905.00" y="140.44" font-size="10.5" fill="#111" text-anchor="end" font-weight="normal" style="font-family:'Liberation Serif',serif;" >4</text>
<text x="905.00" y="116.08" font-size="10.5" fill="#111" text-anchor="end" font-weight="normal" style="font-family:'Liberation Serif',serif;" >5</text>
<text x="905.00" y="91.72" font-size="10.5" fill="#111" text-anchor="end" font-weight="normal" style="font-family:'Liberation Serif',serif;" >6</text>
<text x="905.00" y="67.36" font-size="10.5" fill="#111" text-anchor="end" font-weight="normal" style="font-family:'Liberation Serif',serif;" >7</text>
<text x="905.00" y="43.00" font-size="10.5" fill="#111" text-anchor="end" font-weight="normal" style="font-family:'Liberation Serif',serif;" >8</text>
<text x="906.70" y="172.00" font-size="10.5" fill="#111" text-anchor="middle" font-weight="normal" style="font-family:'Liberation Serif',serif;" >0</text>
<text x="956.20" y="172.00" font-size="10.5" fill="#111" text-anchor="middle" font-weight="normal" style="font-family:'Liberation Serif',serif;" >100</text>
<text x="1005.70" y="172.00" font-size="10.5" fill="#111" text-anchor="middle" font-weight="normal" style="font-family:'Liberation Serif',serif;" >200</text>
<path d="M906.70,73.55 L906.95,79.33 L907.20,84.89 L907.44,88.73 L907.69,92.24 L907.94,96.28 L908.19,98.84 L908.43,99.31 L908.68,102.19 L908.93,103.73 L909.18,103.54 L909.42,105.67 L909.67,105.93 L909.92,107.49 L910.17,107.93 L910.41,109.56 L910.66,109.23 L910.91,109.32 L911.16,110.50 L911.40,110.53 L911.65,111.09 L911.90,112.67 L912.15,111.68 L912.39,112.35 L912.64,113.23 L912.89,114.06 L913.13,112.71 L913.38,113.74 L913.63,113.51 L913.88,113.44 L914.12,113.98 L914.37,113.79 L914.62,115.02 L914.87,114.42 L915.12,115.30 L915.36,114.52 L915.61,114.80 L915.86,116.48 L916.11,116.55 L916.35,116.54 L916.60,115.22 L916.85,116.39 L917.10,116.14 L917.34,116.90 L917.59,116.61 L917.84,116.96 L918.09,117.14 L918.33,116.78 L918.58,116.88 L918.83,116.35 L919.08,116.88 L919.32,116.48 L919.57,116.71 L919.82,116.53 L920.07,117.23 L920.31,118.29 L920.56,117.01 L920.81,116.87 L921.06,117.06 L921.30,117.77 L921.55,117.55 L921.80,118.59 L922.05,117.44 L922.29,118.00 L922.54,118.62 L922.79,119.10 L923.04,117.61 L923.28,117.40 L923.53,119.20 L923.78,117.86 L924.03,118.66 L924.27,119.21 L924.52,118.97 L924.77,118.09 L925.02,117.93 L925.26,119.58 L925.51,118.50 L925.76,119.65 L926.00,118.37 L926.25,119.16 L926.50,118.12 L926.75,117.96 L927.00,118.92 L927.24,117.99 L927.49,119.36 L927.74,119.84 L927.99,118.85 L928.23,119.99 L928.48,119.69 L928.73,119.31 L928.98,118.94 L929.22,119.85 L929.47,120.09 L929.72,118.51 L929.97,119.61 L930.21,118.38 L930.46,118.52 L930.71,119.55 L930.96,119.41 L931.20,119.32 L931.45,119.10 L931.70,119.21 L931.95,119.30 L932.19,119.20 L932.44,118.60 L932.69,119.46 L932.94,119.62 L933.18,119.08 L933.43,120.04 L933.68,119.93 L933.93,118.63 L934.17,119.53 L934.42,119.50 L934.67,120.56 L934.92,119.79 L935.16,119.48 L935.41,120.59 L935.66,119.44 L935.91,119.42 L936.15,120.55 L936.40,119.46 L936.65,119.79 L936.90,119.39 L937.14,120.04 L937.39,119.36 L937.64,119.31 L937.88,120.72 L938.13,120.65 L938.38,119.47 L938.63,118.92 L938.88,120.32 L939.12,119.93 L939.37,119.68 L939.62,120.22 L939.87,120.14 L940.11,120.25 L940.36,120.15 L940.61,119.72 L940.86,120.31 L941.10,120.17 L941.35,119.41 L941.60,120.87 L941.85,119.82 L942.09,119.51 L942.34,120.35 L942.59,120.53 L942.84,119.40 L943.08,120.51 L943.33,120.62 L943.58,120.15 L943.83,119.64 L944.07,120.81 L944.32,120.39 L944.57,120.38 L944.82,119.41 L945.06,120.19 L945.31,119.39 L945.56,120.73 L945.81,120.41 L946.05,119.81 L946.30,119.36 L946.55,120.21 L946.80,120.66 L947.04,120.87 L947.29,120.08 L947.54,120.75 L947.79,119.55 L948.03,119.50 L948.28,120.78 L948.53,120.60 L948.78,119.58 L949.02,119.90 L949.27,119.59 L949.52,120.49 L949.77,120.92 L950.01,120.61 L950.26,119.64 L950.51,120.66 L950.75,120.52 L951.00,120.39 L951.25,120.39 L951.50,120.41 L951.75,119.42 L951.99,120.92 L952.24,121.22 L952.49,119.39 L952.74,119.52 L952.98,119.32 L953.23,120.40 L953.48,119.40 L953.73,119.45 L953.97,120.83 L954.22,119.81 L954.47,119.64 L954.72,119.98 L954.96,120.27 L955.21,120.72 L955.46,120.62 L955.71,120.85 L955.95,121.16 L956.20,120.15 L956.45,120.75 L956.70,119.73 L956.94,121.22 L957.19,119.55 L957.44,119.97 L957.69,119.52 L957.93,119.58 L958.18,119.58 L958.43,120.21 L958.68,121.31 L958.92,119.89 L959.17,121.01 L959.42,120.76 L959.67,120.06 L959.91,120.33 L960.16,120.55 L960.41,119.53 L960.66,120.17 L960.90,120.70 L961.15,120.88 L961.40,119.69 L961.65,120.45 L961.89,119.85 L962.14,120.70 L962.39,121.00 L962.63,120.35 L962.88,119.80 L963.13,121.06 L963.38,119.85 L963.62,119.60 L963.87,119.83 L964.12,119.80 L964.37,121.39 L964.62,120.18 L964.86,119.73 L965.11,121.32 L965.36,120.89 L965.61,120.89 L965.85,120.39 L966.10,120.60 L966.35,120.50 L966.60,119.91 L966.84,121.43 L967.09,121.32 L967.34,121.19 L967.59,121.19 L967.83,121.30 L968.08,119.54 L968.33,119.78 L968.58,121.28 L968.82,120.47 L969.07,120.83 L969.32,120.84 L969.57,120.77 L969.81,120.19 L970.06,120.31 L970.31,120.75 L970.56,121.09 L970.80,120.82 L971.05,121.22 L971.30,120.38 L971.55,120.07 L971.79,120.73 L972.04,121.31 L972.29,121.12 L972.54,120.74 L972.78,120.30 L973.03,119.95 L973.28,120.73 L973.53,119.92 L973.77,120.26 L974.02,120.64 L974.27,120.76 L974.52,120.52 L974.76,120.11 L975.01,120.67 L975.26,120.13 L975.50,120.59 L975.75,121.01 L976.00,120.45 L976.25,120.14 L976.50,121.35 L976.74,120.67 L976.99,120.67 L977.24,119.78 L977.49,119.67 L977.73,120.77 L977.98,119.75 L978.23,119.96 L978.48,120.99 L978.72,120.60 L978.97,121.27 L979.22,119.92 L979.47,120.22 L979.71,119.78 L979.96,119.97 L980.21,120.21 L980.46,120.08 L980.70,120.41 L980.95,121.31 L981.20,120.37 L981.45,121.51 L981.69,121.24 L981.94,120.01 L982.19,121.43 L982.44,121.34 L982.68,121.33 L982.93,119.80 L983.18,121.17 L983.43,121.48 L983.67,119.88 L983.92,121.29 L984.17,119.88 L984.42,120.21 L984.66,119.90 L984.91,119.67 L985.16,120.40 L985.41,119.97 L985.65,121.46 L985.90,120.03 L986.15,120.53 L986.39,120.14 L986.64,121.32 L986.89,120.07 L987.14,119.71 L987.38,121.41 L987.63,120.90 L987.88,120.44 L988.13,119.92 L988.38,121.06 L988.62,121.19 L988.87,121.05 L989.12,120.34 L989.37,120.07 L989.61,120.77 L989.86,120.82 L990.11,120.77 L990.36,120.86 L990.60,120.73 L990.85,121.38 L991.10,120.57 L991.35,119.65 L991.59,120.74 L991.84,120.09 L992.09,121.23 L992.34,120.20 L992.58,120.07 L992.83,120.23 L993.08,120.54 L993.33,120.60 L993.57,120.30 L993.82,119.80 L994.07,121.26 L994.32,121.36 L994.56,120.09 L994.81,119.76 L995.06,120.54 L995.31,120.69 L995.55,120.15 L995.80,121.19 L996.05,121.03 L996.30,121.16 L996.54,120.41 L996.79,120.94 L997.04,121.10 L997.29,120.21 L997.53,119.70 L997.78,120.98 L998.03,120.18 L998.28,120.75 L998.52,119.89 L998.77,120.42 L999.02,121.04 L999.27,121.13 L999.51,121.51 L999.76,120.62 L1000.01,120.81 L1000.25,121.22 L1000.50,120.86 L1000.75,120.93 L1001.00,120.05 L1001.25,121.28 L1001.49,119.63 L1001.74,120.63 L1001.99,120.39 L1002.24,120.65 L1002.48,119.93 L1002.73,119.96 L1002.98,120.48 L1003.23,120.62 L1003.47,120.16 L1003.72,119.89 L1003.97,120.78 L1004.22,120.13 L1004.46,119.69 L1004.71,120.65 L1004.96,121.12 L1005.21,121.11 L1005.45,120.17 L1005.70,120.25 L1005.95,119.70 L1006.20,119.90 L1006.44,121.09 L1006.69,121.20 L1006.94,121.06 L1007.19,121.20 L1007.43,120.19 L1007.68,119.89 L1007.93,119.81 L1008.18,121.07 L1008.42,119.88 L1008.67,120.96 L1008.92,120.74 L1009.17,120.15 L1009.41,121.40 L1009.66,121.39 L1009.91,119.94 L1010.16,121.00 L1010.40,120.87 L1010.65,120.44 L1010.90,120.25 L1011.14,121.56 L1011.39,120.92 L1011.64,120.72 L1011.89,120.62 L1012.13,121.16 L1012.38,120.43 L1012.63,119.71 L1012.88,120.81 L1013.12,120.51 L1013.37,121.34 L1013.62,121.03 L1013.87,120.27 L1014.12,121.35 L1014.36,119.84 L1014.61,119.80 L1014.86,121.38 L1015.11,119.74 L1015.35,120.84 L1015.60,120.07 L1015.85,120.10 L1016.10,121.00 L1016.34,120.25 L1016.59,120.30 L1016.84,120.00 L1017.09,121.05 L1017.33,120.10 L1017.58,119.70 L1017.83,120.26 L1018.08,120.53 L1018.32,121.35 L1018.57,120.61 L1018.82,120.89 L1019.07,120.17 L1019.31,120.25 L1019.56,120.47 L1019.81,121.22 L1020.06,120.32 L1020.30,120.34 L1020.55,121.22 L1020.80,119.84 L1021.05,120.30 L1021.29,121.33 L1021.54,119.76 L1021.79,121.30 L1022.04,120.93 L1022.28,120.17 L1022.53,120.41 L1022.78,120.49 L1023.03,120.31 L1023.27,120.68 L1023.52,120.97 L1023.77,121.23 L1024.02,121.44 L1024.26,120.18 L1024.51,120.10 L1024.76,120.52 L1025.01,120.13 L1025.25,120.88 L1025.50,121.06 L1025.75,120.83 L1026.00,119.88 L1026.24,121.49 L1026.49,120.59 L1026.74,121.09 L1026.99,120.08 L1027.23,120.89 L1027.48,120.93 L1027.73,120.79 L1027.98,120.52 L1028.22,120.07 L1028.47,120.89 L1028.72,119.93 L1028.97,121.36 L1029.21,121.05 L1029.46,121.38 L1029.71,121.36 L1029.95,120.06 L1030.20,120.16 L1030.45,121.22 L1030.70,121.21 L1030.95,120.76 L1031.19,120.13 L1031.44,119.99 L1031.69,120.12 L1031.93,120.42 L1032.18,121.29 L1032.43,120.80 L1032.68,121.20 L1032.92,120.55 L1033.17,120.47 L1033.42,121.18 L1033.67,121.09 L1033.91,120.05 L1034.16,121.52 L1034.41,120.01 L1034.66,119.84 L1034.90,119.73 L1035.15,120.83 L1035.40,120.50 L1035.65,120.44 L1035.89,120.34 L1036.14,119.67 L1036.39,120.24 L1036.64,120.99 L1036.88,119.90 L1037.13,120.63 L1037.38,120.41 L1037.63,120.16 L1037.88,121.57 L1038.12,120.08 L1038.37,120.29 L1038.62,120.62 L1038.87,120.56 L1039.11,120.68 L1039.36,121.20 L1039.61,120.55 L1039.86,121.51 L1040.10,120.60 L1040.35,120.32 L1040.60,120.71 L1040.85,120.48 L1041.09,119.71 L1041.34,119.84 L1041.59,121.31 L1041.84,120.03 L1042.08,120.36 L1042.33,121.48 L1042.58,120.88 L1042.83,121.12 L1043.07,121.43 L1043.32,120.53 L1043.57,119.77 L1043.82,120.95 L1044.06,119.88 L1044.31,120.22 L1044.56,121.32 L1044.81,119.91 L1045.05,120.41 L1045.30,119.77 L1045.55,120.18 L1045.80,120.14 L1046.04,120.91 L1046.29,120.01 L1046.54,119.76 L1046.79,119.90 L1047.03,120.73 L1047.28,120.10 L1047.53,120.63 L1047.78,121.37 L1048.02,121.50 L1048.27,121.43 L1048.52,121.19 L1048.77,121.27 L1049.01,120.61 L1049.26,120.22 L1049.51,120.53 L1049.76,120.76 L1050.00,120.31 L1050.25,120.99 L1050.50,120.67 L1050.75,120.10 L1050.99,120.80 L1051.24,121.23 L1051.49,119.83 L1051.74,120.18 L1051.98,120.86 L1052.23,120.86 L1052.48,120.55 L1052.73,120.42 L1052.97,121.14 L1053.22,121.57 L1053.47,121.17 L1053.72,120.05 L1053.96,121.30 L1054.21,120.68 L1054.46,121.20 L1054.70,121.17 L1054.95,121.25" stroke="#ee1111" stroke-width="1.4" fill="none"/>
<path d="M960.5,104.7 V133.8 M1050,104.7 V133.8" stroke="#177a1e" stroke-width="2.6"/>
<path d="M973,102.7 H1035 V99.5 L1045,105.5 L1035,111.5 V108.3 H973 V111.5 L963,105.5 L973,99.5 Z" fill="#177a1e"/>
<text x="961.50" y="90.80" font-size="13.8" fill="#177a1e" text-anchor="start" font-weight="bold" style="font-family:'Liberation Sans',sans-serif;" >Steady state</text>
<text transform="translate(894,100) rotate(-90)" font-size="13.5" font-weight="bold" text-anchor="middle" style="font-family:'Liberation Sans',sans-serif" fill="#111">PE / N  [ k<tspan font-size="9.5" dy="3">B</tspan><tspan dy="-3">T ]</tspan></text>
<text x="969" y="181.8" font-size="13" font-weight="bold" style="font-family:'Liberation Sans',sans-serif" fill="#111">t [<tspan style="font-family:'Liberation Serif',serif" font-weight="normal">τ</tspan>]</text>
<text x="896.00" y="206.00" font-size="13.6" fill="#1a1a1a" text-anchor="start" font-weight="normal" style="font-family:'Liberation Sans',sans-serif;" >Simulate till steady</text>
<text x="896.00" y="221.00" font-size="13.6" fill="#1a1a1a" text-anchor="start" font-weight="normal" style="font-family:'Liberation Sans',sans-serif;" >state in potential</text>
<text x="896.00" y="236.00" font-size="13.6" fill="#1a1a1a" text-anchor="start" font-weight="normal" style="font-family:'Liberation Sans',sans-serif;" >energy</text>
<path d="M1053.3,93.3 H1076 V88 L1090,96 L1076,104 V98.7 H1053.3 Z" fill="#177a1e"/>
<rect x="1092.3" y="20.4" width="82.5" height="92.6" fill="none" stroke="#9cb6dc" stroke-width="2.0"/>
<g transform="rotate(-8 1133.3 70.8)" opacity="0.55">
<ellipse cx="1133.3" cy="70.8" rx="29.3" ry="43.5" fill="#6b9bd2" stroke="#cc2229" stroke-width="2.6"/>
<circle cx="1137.7" cy="41.4" r="2.3" fill="#dcdcdc" stroke="#2d5a97" stroke-width="0.5"/><circle cx="1122.9" cy="45.9" r="2.3" fill="#dcdcdc" stroke="#2d5a97" stroke-width="0.5"/><circle cx="1121.2" cy="51.3" r="2.3" fill="#dcdcdc" stroke="#2d5a97" stroke-width="0.5"/><circle cx="1119.4" cy="58.4" r="2.3" fill="#dcdcdc" stroke="#2d5a97" stroke-width="0.5"/><circle cx="1124.3" cy="61.1" r="2.3" fill="#dcdcdc" stroke="#2d5a97" stroke-width="0.5"/><circle cx="1137.7" cy="53.5" r="2.3" fill="#dcdcdc" stroke="#2d5a97" stroke-width="0.5"/><circle cx="1140.9" cy="56.2" r="2.3" fill="#dcdcdc" stroke="#2d5a97" stroke-width="0.5"/><circle cx="1144.4" cy="61.1" r="2.3" fill="#dcdcdc" stroke="#2d5a97" stroke-width="0.5"/><circle cx="1144.4" cy="66.0" r="2.3" fill="#dcdcdc" stroke="#2d5a97" stroke-width="0.5"/><circle cx="1117.7" cy="66.0" r="2.3" fill="#dcdcdc" stroke="#2d5a97" stroke-width="0.5"/><circle cx="1125.8" cy="68.6" r="2.3" fill="#dcdcdc" stroke="#2d5a97" stroke-width="0.5"/><circle cx="1112.7" cy="70.9" r="2.3" fill="#dcdcdc" stroke="#2d5a97" stroke-width="0.5"/><circle cx="1112.7" cy="78.4" r="2.3" fill="#dcdcdc" stroke="#2d5a97" stroke-width="0.5"/><circle cx="1127.5" cy="78.4" r="2.3" fill="#dcdcdc" stroke="#2d5a97" stroke-width="0.5"/><circle cx="1131.3" cy="78.1" r="2.3" fill="#dcdcdc" stroke="#2d5a97" stroke-width="0.5"/><circle cx="1135.9" cy="68.2" r="2.3" fill="#dcdcdc" stroke="#2d5a97" stroke-width="0.5"/><circle cx="1135.9" cy="73.5" r="2.3" fill="#dcdcdc" stroke="#2d5a97" stroke-width="0.5"/><circle cx="1135.9" cy="80.7" r="2.3" fill="#dcdcdc" stroke="#2d5a97" stroke-width="0.5"/><circle cx="1148.1" cy="73.5" r="2.3" fill="#dcdcdc" stroke="#2d5a97" stroke-width="0.5"/><circle cx="1149.3" cy="78.4" r="2.3" fill="#dcdcdc" stroke="#2d5a97" stroke-width="0.5"/><circle cx="1139.4" cy="85.7" r="2.3" fill="#dcdcdc" stroke="#2d5a97" stroke-width="0.5"/><circle cx="1145.8" cy="88.3" r="2.3" fill="#dcdcdc" stroke="#2d5a97" stroke-width="0.5"/><circle cx="1117.7" cy="86.0" r="2.3" fill="#dcdcdc" stroke="#2d5a97" stroke-width="0.5"/><circle cx="1122.9" cy="83.3" r="2.3" fill="#dcdcdc" stroke="#2d5a97" stroke-width="0.5"/><circle cx="1130.0" cy="38.6" r="2.3" fill="#cc2229" stroke="#2d5a97" stroke-width="0.5"/><circle cx="1134.1" cy="41.2" r="2.3" fill="#cc2229" stroke="#2d5a97" stroke-width="0.5"/><circle cx="1126.8" cy="45.8" r="2.3" fill="#cc2229" stroke="#2d5a97" stroke-width="0.5"/><circle cx="1128.4" cy="51.3" r="2.3" fill="#cc2229" stroke="#2d5a97" stroke-width="0.5"/><circle cx="1124.9" cy="53.1" r="2.3" fill="#cc2229" stroke="#2d5a97" stroke-width="0.5"/><circle cx="1134.1" cy="50.9" r="2.3" fill="#cc2229" stroke="#2d5a97" stroke-width="0.5"/><circle cx="1130.0" cy="58.4" r="2.3" fill="#cc2229" stroke="#2d5a97" stroke-width="0.5"/><circle cx="1115.9" cy="54.8" r="2.3" fill="#cc2229" stroke="#2d5a97" stroke-width="0.5"/><circle cx="1144.9" cy="54.5" r="2.3" fill="#cc2229" stroke="#2d5a97" stroke-width="0.5"/><circle cx="1121.2" cy="68.2" r="2.3" fill="#cc2229" stroke="#2d5a97" stroke-width="0.5"/><circle cx="1118.5" cy="73.4" r="2.3" fill="#cc2229" stroke="#2d5a97" stroke-width="0.5"/><circle cx="1124.3" cy="73.4" r="2.3" fill="#cc2229" stroke="#2d5a97" stroke-width="0.5"/><circle cx="1115.2" cy="75.8" r="2.3" fill="#cc2229" stroke="#2d5a97" stroke-width="0.5"/><circle cx="1122.0" cy="78.1" r="2.3" fill="#cc2229" stroke="#2d5a97" stroke-width="0.5"/><circle cx="1119.7" cy="81.9" r="2.3" fill="#cc2229" stroke="#2d5a97" stroke-width="0.5"/><circle cx="1140.0" cy="70.5" r="2.3" fill="#cc2229" stroke="#2d5a97" stroke-width="0.5"/><circle cx="1143.5" cy="72.8" r="2.3" fill="#cc2229" stroke="#2d5a97" stroke-width="0.5"/><circle cx="1152.2" cy="73.1" r="2.3" fill="#cc2229" stroke="#2d5a97" stroke-width="0.5"/><circle cx="1138.8" cy="77.9" r="2.3" fill="#cc2229" stroke="#2d5a97" stroke-width="0.5"/><circle cx="1141.2" cy="75.8" r="2.3" fill="#cc2229" stroke="#2d5a97" stroke-width="0.5"/><circle cx="1145.2" cy="79.6" r="2.3" fill="#cc2229" stroke="#2d5a97" stroke-width="0.5"/><circle cx="1142.3" cy="83.0" r="2.3" fill="#cc2229" stroke="#2d5a97" stroke-width="0.5"/>
</g>
<rect x="1099.5" y="32.8" width="82.5" height="106.50000000000001" fill="none" stroke="#87a7d6" stroke-width="2.2"/>
<g transform="rotate(-8 1141.5 85.7)" opacity="0.6">
<ellipse cx="1141.5" cy="85.7" rx="29.3" ry="43.5" fill="#6b9bd2" stroke="#cc2229" stroke-width="2.6"/>
<circle cx="1145.9" cy="56.3" r="2.3" fill="#dcdcdc" stroke="#2d5a97" stroke-width="0.5"/><circle cx="1131.1" cy="60.8" r="2.3" fill="#dcdcdc" stroke="#2d5a97" stroke-width="0.5"/><circle cx="1129.4" cy="66.2" r="2.3" fill="#dcdcdc" stroke="#2d5a97" stroke-width="0.5"/><circle cx="1127.6" cy="73.3" r="2.3" fill="#dcdcdc" stroke="#2d5a97" stroke-width="0.5"/><circle cx="1132.5" cy="76.0" r="2.3" fill="#dcdcdc" stroke="#2d5a97" stroke-width="0.5"/><circle cx="1145.9" cy="68.4" r="2.3" fill="#dcdcdc" stroke="#2d5a97" stroke-width="0.5"/><circle cx="1149.1" cy="71.1" r="2.3" fill="#dcdcdc" stroke="#2d5a97" stroke-width="0.5"/><circle cx="1152.6" cy="76.0" r="2.3" fill="#dcdcdc" stroke="#2d5a97" stroke-width="0.5"/><circle cx="1152.6" cy="80.9" r="2.3" fill="#dcdcdc" stroke="#2d5a97" stroke-width="0.5"/><circle cx="1125.9" cy="80.9" r="2.3" fill="#dcdcdc" stroke="#2d5a97" stroke-width="0.5"/><circle cx="1134.0" cy="83.5" r="2.3" fill="#dcdcdc" stroke="#2d5a97" stroke-width="0.5"/><circle cx="1120.9" cy="85.8" r="2.3" fill="#dcdcdc" stroke="#2d5a97" stroke-width="0.5"/><circle cx="1120.9" cy="93.3" r="2.3" fill="#dcdcdc" stroke="#2d5a97" stroke-width="0.5"/><circle cx="1135.7" cy="93.3" r="2.3" fill="#dcdcdc" stroke="#2d5a97" stroke-width="0.5"/><circle cx="1139.5" cy="93.0" r="2.3" fill="#dcdcdc" stroke="#2d5a97" stroke-width="0.5"/><circle cx="1144.1" cy="83.1" r="2.3" fill="#dcdcdc" stroke="#2d5a97" stroke-width="0.5"/><circle cx="1144.1" cy="88.4" r="2.3" fill="#dcdcdc" stroke="#2d5a97" stroke-width="0.5"/><circle cx="1144.1" cy="95.6" r="2.3" fill="#dcdcdc" stroke="#2d5a97" stroke-width="0.5"/><circle cx="1156.3" cy="88.4" r="2.3" fill="#dcdcdc" stroke="#2d5a97" stroke-width="0.5"/><circle cx="1157.5" cy="93.3" r="2.3" fill="#dcdcdc" stroke="#2d5a97" stroke-width="0.5"/><circle cx="1147.6" cy="100.6" r="2.3" fill="#dcdcdc" stroke="#2d5a97" stroke-width="0.5"/><circle cx="1154.0" cy="103.2" r="2.3" fill="#dcdcdc" stroke="#2d5a97" stroke-width="0.5"/><circle cx="1125.9" cy="100.9" r="2.3" fill="#dcdcdc" stroke="#2d5a97" stroke-width="0.5"/><circle cx="1131.1" cy="98.2" r="2.3" fill="#dcdcdc" stroke="#2d5a97" stroke-width="0.5"/><circle cx="1138.2" cy="53.5" r="2.3" fill="#cc2229" stroke="#2d5a97" stroke-width="0.5"/><circle cx="1142.3" cy="56.1" r="2.3" fill="#cc2229" stroke="#2d5a97" stroke-width="0.5"/><circle cx="1135.0" cy="60.7" r="2.3" fill="#cc2229" stroke="#2d5a97" stroke-width="0.5"/><circle cx="1136.6" cy="66.2" r="2.3" fill="#cc2229" stroke="#2d5a97" stroke-width="0.5"/><circle cx="1133.1" cy="68.0" r="2.3" fill="#cc2229" stroke="#2d5a97" stroke-width="0.5"/><circle cx="1142.3" cy="65.8" r="2.3" fill="#cc2229" stroke="#2d5a97" stroke-width="0.5"/><circle cx="1138.2" cy="73.3" r="2.3" fill="#cc2229" stroke="#2d5a97" stroke-width="0.5"/><circle cx="1124.1" cy="69.7" r="2.3" fill="#cc2229" stroke="#2d5a97" stroke-width="0.5"/><circle cx="1153.1" cy="69.4" r="2.3" fill="#cc2229" stroke="#2d5a97" stroke-width="0.5"/><circle cx="1129.4" cy="83.1" r="2.3" fill="#cc2229" stroke="#2d5a97" stroke-width="0.5"/><circle cx="1126.7" cy="88.3" r="2.3" fill="#cc2229" stroke="#2d5a97" stroke-width="0.5"/><circle cx="1132.5" cy="88.3" r="2.3" fill="#cc2229" stroke="#2d5a97" stroke-width="0.5"/><circle cx="1123.4" cy="90.7" r="2.3" fill="#cc2229" stroke="#2d5a97" stroke-width="0.5"/><circle cx="1130.2" cy="93.0" r="2.3" fill="#cc2229" stroke="#2d5a97" stroke-width="0.5"/><circle cx="1127.9" cy="96.8" r="2.3" fill="#cc2229" stroke="#2d5a97" stroke-width="0.5"/><circle cx="1148.2" cy="85.4" r="2.3" fill="#cc2229" stroke="#2d5a97" stroke-width="0.5"/><circle cx="1151.7" cy="87.7" r="2.3" fill="#cc2229" stroke="#2d5a97" stroke-width="0.5"/><circle cx="1160.4" cy="88.0" r="2.3" fill="#cc2229" stroke="#2d5a97" stroke-width="0.5"/><circle cx="1147.0" cy="92.8" r="2.3" fill="#cc2229" stroke="#2d5a97" stroke-width="0.5"/><circle cx="1149.4" cy="90.7" r="2.3" fill="#cc2229" stroke="#2d5a97" stroke-width="0.5"/><circle cx="1153.4" cy="94.5" r="2.3" fill="#cc2229" stroke="#2d5a97" stroke-width="0.5"/><circle cx="1150.5" cy="97.9" r="2.3" fill="#cc2229" stroke="#2d5a97" stroke-width="0.5"/>
</g>
<rect x="1108.2" y="49.5" width="82.0" height="106.1" fill="none" stroke="#6d93ca" stroke-width="2.4"/>
<g transform="rotate(-8 1149.7 101)" opacity="0.65">
<ellipse cx="1149.7" cy="101" rx="29.3" ry="43.5" fill="#6b9bd2" stroke="#cc2229" stroke-width="2.6"/>
<circle cx="1154.1" cy="71.6" r="2.3" fill="#dcdcdc" stroke="#2d5a97" stroke-width="0.5"/><circle cx="1139.3" cy="76.1" r="2.3" fill="#dcdcdc" stroke="#2d5a97" stroke-width="0.5"/><circle cx="1137.6" cy="81.5" r="2.3" fill="#dcdcdc" stroke="#2d5a97" stroke-width="0.5"/><circle cx="1135.8" cy="88.6" r="2.3" fill="#dcdcdc" stroke="#2d5a97" stroke-width="0.5"/><circle cx="1140.7" cy="91.3" r="2.3" fill="#dcdcdc" stroke="#2d5a97" stroke-width="0.5"/><circle cx="1154.1" cy="83.7" r="2.3" fill="#dcdcdc" stroke="#2d5a97" stroke-width="0.5"/><circle cx="1157.3" cy="86.4" r="2.3" fill="#dcdcdc" stroke="#2d5a97" stroke-width="0.5"/><circle cx="1160.8" cy="91.3" r="2.3" fill="#dcdcdc" stroke="#2d5a97" stroke-width="0.5"/><circle cx="1160.8" cy="96.2" r="2.3" fill="#dcdcdc" stroke="#2d5a97" stroke-width="0.5"/><circle cx="1134.1" cy="96.2" r="2.3" fill="#dcdcdc" stroke="#2d5a97" stroke-width="0.5"/><circle cx="1142.2" cy="98.8" r="2.3" fill="#dcdcdc" stroke="#2d5a97" stroke-width="0.5"/><circle cx="1129.1" cy="101.1" r="2.3" fill="#dcdcdc" stroke="#2d5a97" stroke-width="0.5"/><circle cx="1129.1" cy="108.6" r="2.3" fill="#dcdcdc" stroke="#2d5a97" stroke-width="0.5"/><circle cx="1143.9" cy="108.6" r="2.3" fill="#dcdcdc" stroke="#2d5a97" stroke-width="0.5"/><circle cx="1147.7" cy="108.3" r="2.3" fill="#dcdcdc" stroke="#2d5a97" stroke-width="0.5"/><circle cx="1152.3" cy="98.4" r="2.3" fill="#dcdcdc" stroke="#2d5a97" stroke-width="0.5"/><circle cx="1152.3" cy="103.7" r="2.3" fill="#dcdcdc" stroke="#2d5a97" stroke-width="0.5"/><circle cx="1152.3" cy="110.9" r="2.3" fill="#dcdcdc" stroke="#2d5a97" stroke-width="0.5"/><circle cx="1164.5" cy="103.7" r="2.3" fill="#dcdcdc" stroke="#2d5a97" stroke-width="0.5"/><circle cx="1165.7" cy="108.6" r="2.3" fill="#dcdcdc" stroke="#2d5a97" stroke-width="0.5"/><circle cx="1155.8" cy="115.9" r="2.3" fill="#dcdcdc" stroke="#2d5a97" stroke-width="0.5"/><circle cx="1162.2" cy="118.5" r="2.3" fill="#dcdcdc" stroke="#2d5a97" stroke-width="0.5"/><circle cx="1134.1" cy="116.2" r="2.3" fill="#dcdcdc" stroke="#2d5a97" stroke-width="0.5"/><circle cx="1139.3" cy="113.5" r="2.3" fill="#dcdcdc" stroke="#2d5a97" stroke-width="0.5"/><circle cx="1146.4" cy="68.8" r="2.3" fill="#cc2229" stroke="#2d5a97" stroke-width="0.5"/><circle cx="1150.5" cy="71.4" r="2.3" fill="#cc2229" stroke="#2d5a97" stroke-width="0.5"/><circle cx="1143.2" cy="76.0" r="2.3" fill="#cc2229" stroke="#2d5a97" stroke-width="0.5"/><circle cx="1144.8" cy="81.5" r="2.3" fill="#cc2229" stroke="#2d5a97" stroke-width="0.5"/><circle cx="1141.3" cy="83.3" r="2.3" fill="#cc2229" stroke="#2d5a97" stroke-width="0.5"/><circle cx="1150.5" cy="81.1" r="2.3" fill="#cc2229" stroke="#2d5a97" stroke-width="0.5"/><circle cx="1146.4" cy="88.6" r="2.3" fill="#cc2229" stroke="#2d5a97" stroke-width="0.5"/><circle cx="1132.3" cy="85.0" r="2.3" fill="#cc2229" stroke="#2d5a97" stroke-width="0.5"/><circle cx="1161.3" cy="84.7" r="2.3" fill="#cc2229" stroke="#2d5a97" stroke-width="0.5"/><circle cx="1137.6" cy="98.4" r="2.3" fill="#cc2229" stroke="#2d5a97" stroke-width="0.5"/><circle cx="1134.9" cy="103.6" r="2.3" fill="#cc2229" stroke="#2d5a97" stroke-width="0.5"/><circle cx="1140.7" cy="103.6" r="2.3" fill="#cc2229" stroke="#2d5a97" stroke-width="0.5"/><circle cx="1131.6" cy="106.0" r="2.3" fill="#cc2229" stroke="#2d5a97" stroke-width="0.5"/><circle cx="1138.4" cy="108.3" r="2.3" fill="#cc2229" stroke="#2d5a97" stroke-width="0.5"/><circle cx="1136.1" cy="112.1" r="2.3" fill="#cc2229" stroke="#2d5a97" stroke-width="0.5"/><circle cx="1156.4" cy="100.7" r="2.3" fill="#cc2229" stroke="#2d5a97" stroke-width="0.5"/><circle cx="1159.9" cy="103.0" r="2.3" fill="#cc2229" stroke="#2d5a97" stroke-width="0.5"/><circle cx="1168.6" cy="103.3" r="2.3" fill="#cc2229" stroke="#2d5a97" stroke-width="0.5"/><circle cx="1155.2" cy="108.1" r="2.3" fill="#cc2229" stroke="#2d5a97" stroke-width="0.5"/><circle cx="1157.6" cy="106.0" r="2.3" fill="#cc2229" stroke="#2d5a97" stroke-width="0.5"/><circle cx="1161.6" cy="109.8" r="2.3" fill="#cc2229" stroke="#2d5a97" stroke-width="0.5"/><circle cx="1158.7" cy="113.2" r="2.3" fill="#cc2229" stroke="#2d5a97" stroke-width="0.5"/>
</g>
<rect x="1114.9" y="71.2" width="82.59999999999991" height="102.49999999999999" fill="none" stroke="#2f5fa8" stroke-width="2.8"/>
<g transform="rotate(0 1156.4 122)" opacity="1.0">
<ellipse cx="1156.4" cy="122" rx="29.3" ry="43.5" fill="#6b9bd2" stroke="#cc2229" stroke-width="2.6"/>
<circle cx="1160.8" cy="92.6" r="2.3" fill="#dcdcdc" stroke="#2d5a97" stroke-width="0.5"/><circle cx="1146.0" cy="97.1" r="2.3" fill="#dcdcdc" stroke="#2d5a97" stroke-width="0.5"/><circle cx="1144.3" cy="102.5" r="2.3" fill="#dcdcdc" stroke="#2d5a97" stroke-width="0.5"/><circle cx="1142.5" cy="109.6" r="2.3" fill="#dcdcdc" stroke="#2d5a97" stroke-width="0.5"/><circle cx="1147.4" cy="112.3" r="2.3" fill="#dcdcdc" stroke="#2d5a97" stroke-width="0.5"/><circle cx="1160.8" cy="104.7" r="2.3" fill="#dcdcdc" stroke="#2d5a97" stroke-width="0.5"/><circle cx="1164.0" cy="107.4" r="2.3" fill="#dcdcdc" stroke="#2d5a97" stroke-width="0.5"/><circle cx="1167.5" cy="112.3" r="2.3" fill="#dcdcdc" stroke="#2d5a97" stroke-width="0.5"/><circle cx="1167.5" cy="117.2" r="2.3" fill="#dcdcdc" stroke="#2d5a97" stroke-width="0.5"/><circle cx="1140.8" cy="117.2" r="2.3" fill="#dcdcdc" stroke="#2d5a97" stroke-width="0.5"/><circle cx="1148.9" cy="119.8" r="2.3" fill="#dcdcdc" stroke="#2d5a97" stroke-width="0.5"/><circle cx="1135.8" cy="122.1" r="2.3" fill="#dcdcdc" stroke="#2d5a97" stroke-width="0.5"/><circle cx="1135.8" cy="129.6" r="2.3" fill="#dcdcdc" stroke="#2d5a97" stroke-width="0.5"/><circle cx="1150.6" cy="129.6" r="2.3" fill="#dcdcdc" stroke="#2d5a97" stroke-width="0.5"/><circle cx="1154.4" cy="129.3" r="2.3" fill="#dcdcdc" stroke="#2d5a97" stroke-width="0.5"/><circle cx="1159.0" cy="119.4" r="2.3" fill="#dcdcdc" stroke="#2d5a97" stroke-width="0.5"/><circle cx="1159.0" cy="124.7" r="2.3" fill="#dcdcdc" stroke="#2d5a97" stroke-width="0.5"/><circle cx="1159.0" cy="131.9" r="2.3" fill="#dcdcdc" stroke="#2d5a97" stroke-width="0.5"/><circle cx="1171.2" cy="124.7" r="2.3" fill="#dcdcdc" stroke="#2d5a97" stroke-width="0.5"/><circle cx="1172.4" cy="129.6" r="2.3" fill="#dcdcdc" stroke="#2d5a97" stroke-width="0.5"/><circle cx="1162.5" cy="136.9" r="2.3" fill="#dcdcdc" stroke="#2d5a97" stroke-width="0.5"/><circle cx="1168.9" cy="139.5" r="2.3" fill="#dcdcdc" stroke="#2d5a97" stroke-width="0.5"/><circle cx="1140.8" cy="137.2" r="2.3" fill="#dcdcdc" stroke="#2d5a97" stroke-width="0.5"/><circle cx="1146.0" cy="134.5" r="2.3" fill="#dcdcdc" stroke="#2d5a97" stroke-width="0.5"/><circle cx="1153.1" cy="89.8" r="2.3" fill="#cc2229" stroke="#2d5a97" stroke-width="0.5"/><circle cx="1157.2" cy="92.4" r="2.3" fill="#cc2229" stroke="#2d5a97" stroke-width="0.5"/><circle cx="1149.9" cy="97.0" r="2.3" fill="#cc2229" stroke="#2d5a97" stroke-width="0.5"/><circle cx="1151.5" cy="102.5" r="2.3" fill="#cc2229" stroke="#2d5a97" stroke-width="0.5"/><circle cx="1148.0" cy="104.3" r="2.3" fill="#cc2229" stroke="#2d5a97" stroke-width="0.5"/><circle cx="1157.2" cy="102.1" r="2.3" fill="#cc2229" stroke="#2d5a97" stroke-width="0.5"/><circle cx="1153.1" cy="109.6" r="2.3" fill="#cc2229" stroke="#2d5a97" stroke-width="0.5"/><circle cx="1139.0" cy="106.0" r="2.3" fill="#cc2229" stroke="#2d5a97" stroke-width="0.5"/><circle cx="1168.0" cy="105.7" r="2.3" fill="#cc2229" stroke="#2d5a97" stroke-width="0.5"/><circle cx="1144.3" cy="119.4" r="2.3" fill="#cc2229" stroke="#2d5a97" stroke-width="0.5"/><circle cx="1141.6" cy="124.6" r="2.3" fill="#cc2229" stroke="#2d5a97" stroke-width="0.5"/><circle cx="1147.4" cy="124.6" r="2.3" fill="#cc2229" stroke="#2d5a97" stroke-width="0.5"/><circle cx="1138.3" cy="127.0" r="2.3" fill="#cc2229" stroke="#2d5a97" stroke-width="0.5"/><circle cx="1145.1" cy="129.3" r="2.3" fill="#cc2229" stroke="#2d5a97" stroke-width="0.5"/><circle cx="1142.8" cy="133.1" r="2.3" fill="#cc2229" stroke="#2d5a97" stroke-width="0.5"/><circle cx="1163.1" cy="121.7" r="2.3" fill="#cc2229" stroke="#2d5a97" stroke-width="0.5"/><circle cx="1166.6" cy="124.0" r="2.3" fill="#cc2229" stroke="#2d5a97" stroke-width="0.5"/><circle cx="1175.3" cy="124.3" r="2.3" fill="#cc2229" stroke="#2d5a97" stroke-width="0.5"/><circle cx="1161.9" cy="129.1" r="2.3" fill="#cc2229" stroke="#2d5a97" stroke-width="0.5"/><circle cx="1164.3" cy="127.0" r="2.3" fill="#cc2229" stroke="#2d5a97" stroke-width="0.5"/><circle cx="1168.3" cy="130.8" r="2.3" fill="#cc2229" stroke="#2d5a97" stroke-width="0.5"/><circle cx="1165.4" cy="134.2" r="2.3" fill="#cc2229" stroke="#2d5a97" stroke-width="0.5"/>
</g>
<text x="1052.40" y="191.00" font-size="13.6" fill="#1a1a1a" text-anchor="start" font-weight="normal" style="font-family:'Liberation Sans',sans-serif;" >Snapshot configurations</text>
<text x="1052.40" y="205.90" font-size="13.6" fill="#1a1a1a" text-anchor="start" font-weight="normal" style="font-family:'Liberation Sans',sans-serif;" >from steady state,</text>
<text x="1052.40" y="220.80" font-size="13.6" fill="#1a1a1a" text-anchor="start" font-weight="normal" style="font-family:'Liberation Sans',sans-serif;" >analyze (i) structures (ii)</text>
<text x="1052.40" y="235.70" font-size="13.6" fill="#1a1a1a" text-anchor="start" font-weight="normal" style="font-family:'Liberation Sans',sans-serif;" >dynamics</text>
<text x="734.00" y="282.00" font-size="13.6" fill="#1a1a1a" text-anchor="start" font-weight="normal" style="font-family:'Liberation Sans',sans-serif;" >(i) structural properties</text>
<text x="984.80" y="282.00" font-size="13.6" fill="#1a1a1a" text-anchor="start" font-weight="normal" style="font-family:'Liberation Sans',sans-serif;" >(ii) dynamics</text>
<ellipse cx="846.4" cy="399.2" rx="80.1" ry="91.8" fill="#719dd2" stroke="#cc1d20" stroke-width="3.4"/>
<ellipse cx="791.5" cy="415.5" rx="6.2" ry="6.7" fill="#c8262c" stroke="#3a66a6" stroke-width="0.6"/>
<ellipse cx="793.7" cy="366.6" rx="6.2" ry="6.7" fill="#c8262c" stroke="#3a66a6" stroke-width="0.6"/>
<ellipse cx="865" cy="438.4" rx="6.2" ry="6.7" fill="#d9d9d9" stroke="#3a66a6" stroke-width="0.6"/>
<ellipse cx="894.8" cy="421.6" rx="6.2" ry="6.7" fill="#d9d9d9" stroke="#3a66a6" stroke-width="0.6"/>
<ellipse cx="831.5" cy="358.4" rx="6.2" ry="6.7" fill="#c8262c" stroke="#3a66a6" stroke-width="0.6"/>
<ellipse cx="877.3" cy="408.5" rx="6.2" ry="6.7" fill="#c8262c" stroke="#3a66a6" stroke-width="0.6"/>
<ellipse cx="870.2" cy="415.5" rx="6.2" ry="6.7" fill="#c8262c" stroke="#3a66a6" stroke-width="0.6"/>
<ellipse cx="881.6" cy="365.9" rx="6.2" ry="6.7" fill="#c8262c" stroke="#3a66a6" stroke-width="0.6"/>
<ellipse cx="799" cy="392.6" rx="6.2" ry="6.7" fill="#d9d9d9" stroke="#3a66a6" stroke-width="0.6"/>
<ellipse cx="882.5" cy="424.3" rx="6.2" ry="6.7" fill="#c8262c" stroke="#3a66a6" stroke-width="0.6"/>
<ellipse cx="784" cy="404" rx="6.2" ry="6.7" fill="#d9d9d9" stroke="#3a66a6" stroke-width="0.6"/>
<ellipse cx="873.7" cy="432.2" rx="6.2" ry="6.7" fill="#c8262c" stroke="#3a66a6" stroke-width="0.6"/>
<ellipse cx="848.8" cy="335" rx="6.2" ry="6.7" fill="#c8262c" stroke="#3a66a6" stroke-width="0.6"/>
<ellipse cx="826.6" cy="345.7" rx="6.2" ry="6.7" fill="#c8262c" stroke="#3a66a6" stroke-width="0.6"/>
<ellipse cx="821" cy="362.7" rx="6.2" ry="6.7" fill="#c8262c" stroke="#3a66a6" stroke-width="0.6"/>
<ellipse cx="863.2" cy="420.4" rx="6.2" ry="6.7" fill="#c8262c" stroke="#3a66a6" stroke-width="0.6"/>
<ellipse cx="840.3" cy="420.8" rx="6.2" ry="6.7" fill="#d9d9d9" stroke="#3a66a6" stroke-width="0.6"/>
<ellipse cx="819.2" cy="381.2" rx="6.2" ry="6.7" fill="#d9d9d9" stroke="#3a66a6" stroke-width="0.6"/>
<ellipse cx="809.6" cy="358.4" rx="6.2" ry="6.7" fill="#d9d9d9" stroke="#3a66a6" stroke-width="0.6"/>
<ellipse cx="884.3" cy="444.5" rx="6.2" ry="6.7" fill="#d9d9d9" stroke="#3a66a6" stroke-width="0.6"/>
<ellipse cx="784" cy="421.6" rx="6.2" ry="6.7" fill="#d9d9d9" stroke="#3a66a6" stroke-width="0.6"/>
<ellipse cx="859.7" cy="363.6" rx="6.2" ry="6.7" fill="#d9d9d9" stroke="#3a66a6" stroke-width="0.6"/>
<ellipse cx="879.9" cy="392.6" rx="6.2" ry="6.7" fill="#d9d9d9" stroke="#3a66a6" stroke-width="0.6"/>
<ellipse cx="828.9" cy="421.6" rx="6.2" ry="6.7" fill="#d9d9d9" stroke="#3a66a6" stroke-width="0.6"/>
<ellipse cx="869.3" cy="369.8" rx="6.2" ry="6.7" fill="#d9d9d9" stroke="#3a66a6" stroke-width="0.6"/>
<ellipse cx="801.6" cy="409.9" rx="6.2" ry="6.7" fill="#c8262c" stroke="#3a66a6" stroke-width="0.6"/>
<ellipse cx="859.7" cy="335.5" rx="6.2" ry="6.7" fill="#d9d9d9" stroke="#3a66a6" stroke-width="0.6"/>
<ellipse cx="819.2" cy="409.9" rx="6.2" ry="6.7" fill="#c8262c" stroke="#3a66a6" stroke-width="0.6"/>
<ellipse cx="891.3" cy="410.2" rx="6.2" ry="6.7" fill="#d9d9d9" stroke="#3a66a6" stroke-width="0.6"/>
<ellipse cx="812.2" cy="420.8" rx="6.2" ry="6.7" fill="#c8262c" stroke="#3a66a6" stroke-width="0.6"/>
<ellipse cx="854.4" cy="426.9" rx="6.2" ry="6.7" fill="#d9d9d9" stroke="#3a66a6" stroke-width="0.6"/>
<ellipse cx="836.5" cy="329" rx="6.2" ry="6.7" fill="#c8262c" stroke="#3a66a6" stroke-width="0.6"/>
<ellipse cx="805.2" cy="429.6" rx="6.2" ry="6.7" fill="#c8262c" stroke="#3a66a6" stroke-width="0.6"/>
<ellipse cx="836.5" cy="375" rx="6.2" ry="6.7" fill="#c8262c" stroke="#3a66a6" stroke-width="0.6"/>
<ellipse cx="814.8" cy="433" rx="6.2" ry="6.7" fill="#d9d9d9" stroke="#3a66a6" stroke-width="0.6"/>
<ellipse cx="879.9" cy="381.2" rx="6.2" ry="6.7" fill="#d9d9d9" stroke="#3a66a6" stroke-width="0.6"/>
<ellipse cx="823.6" cy="398.8" rx="6.2" ry="6.7" fill="#d9d9d9" stroke="#3a66a6" stroke-width="0.6"/>
<ellipse cx="804.3" cy="375" rx="6.2" ry="6.7" fill="#d9d9d9" stroke="#3a66a6" stroke-width="0.6"/>
<ellipse cx="854.4" cy="397.9" rx="6.2" ry="6.7" fill="#d9d9d9" stroke="#3a66a6" stroke-width="0.6"/>
<ellipse cx="848.8" cy="357.5" rx="6.2" ry="6.7" fill="#c8262c" stroke="#3a66a6" stroke-width="0.6"/>
<ellipse cx="814.8" cy="346" rx="6.2" ry="6.7" fill="#d9d9d9" stroke="#3a66a6" stroke-width="0.6"/>
<ellipse cx="809.6" cy="397.9" rx="6.2" ry="6.7" fill="#c8262c" stroke="#3a66a6" stroke-width="0.6"/>
<ellipse cx="903.6" cy="409.3" rx="6.2" ry="6.7" fill="#c8262c" stroke="#3a66a6" stroke-width="0.6"/>
<ellipse cx="799" cy="439.2" rx="6.2" ry="6.7" fill="#d9d9d9" stroke="#3a66a6" stroke-width="0.6"/>
<ellipse cx="854.4" cy="410.2" rx="6.2" ry="6.7" fill="#d9d9d9" stroke="#3a66a6" stroke-width="0.6"/>
<ellipse cx="866.7" cy="403.2" rx="6.2" ry="6.7" fill="#c8262c" stroke="#3a66a6" stroke-width="0.6"/>
<circle cx="836.8" cy="354" r="25.5" fill="none" stroke="#f39a12" stroke-width="2.3" stroke-dasharray="6,3.5"/>
<circle cx="806" cy="410.2" r="25.5" fill="none" stroke="#f39a12" stroke-width="2.3" stroke-dasharray="6,3.5"/>
<circle cx="882.5" cy="409.3" r="25.5" fill="none" stroke="#f39a12" stroke-width="2.3" stroke-dasharray="6,3.5"/>
<path d="M804.81,406.77 L832.79,352.13" stroke="#5c2485" stroke-width="2.6" fill="none"/>
<path d="M836.80,344.30 L836.24,356.37 L827.34,351.81 Z" fill="#5c2485"/>
<path d="M800.80,414.60 L801.36,402.53 L810.26,407.09 Z" fill="#5c2485"/>
<path d="M847.29,354.91 L887.01,409.29" stroke="#5c2485" stroke-width="2.6" fill="none"/>
<path d="M892.20,416.40 L881.67,410.47 L889.75,404.57 Z" fill="#5c2485"/>
<path d="M842.10,347.80 L852.63,353.73 L844.55,359.63 Z" fill="#5c2485"/>
<path d="M809.60,423.31 L878.10,422.59" stroke="#5c2485" stroke-width="2.6" fill="none"/>
<path d="M886.90,422.50 L875.95,427.61 L875.85,417.62 Z" fill="#5c2485"/>
<path d="M800.80,423.40 L811.75,418.29 L811.85,428.28 Z" fill="#5c2485"/>
<path d="M859.12,451.74 L881.28,458.36" stroke="#f39a12" stroke-width="2.4" fill="none"/>
<path d="M887.80,460.30 L878.44,461.94 L880.87,453.80 Z" fill="#f39a12"/>
<path d="M852.60,449.80 L861.96,448.16 L859.53,456.30 Z" fill="#f39a12"/>
<ellipse cx="1093" cy="389.1" rx="86.3" ry="98" fill="#7ea8d6" stroke="#cc1d20" stroke-width="3.4"/>
<circle cx="1095.7" cy="328.3" r="13.4" fill="#b5c6dc"/>
<circle cx="1122.6" cy="349.4" r="13.4" fill="#c9ccd2"/>
<circle cx="1066.6" cy="383.9" r="13.4" fill="#a86079"/>
<circle cx="1127.9" cy="403.8" r="13.4" fill="#c1272d"/>
<circle cx="1037.9" cy="413.4" r="13.4" fill="#c1272d"/>
<circle cx="1080.4" cy="428.8" r="13.4" fill="#a86079"/>
<circle cx="1125.3" cy="445.3" r="13.4" fill="#c9ccd2"/>
<circle cx="1096.5" cy="467.1" r="13.4" fill="#b5c6dc"/>
<path d="M1096.50,328.30 L1117.09,344.55" stroke="#3566a8" stroke-width="3.4" fill="none"/>
<path d="M1124.00,350.00 L1111.65,347.90 L1119.08,338.48 Z" fill="#3566a8"/>
<path d="M1069.70,387.70 L1121.50,401.53" stroke="#3566a8" stroke-width="3.4" fill="none"/>
<path d="M1130.00,403.80 L1117.82,406.76 L1120.92,395.17 Z" fill="#3566a8"/>
<path d="M1079.20,430.00 L1047.18,417.25" stroke="#3566a8" stroke-width="3.4" fill="none"/>
<path d="M1039.00,414.00 L1051.44,412.49 L1047.00,423.64 Z" fill="#3566a8"/>
<path d="M1096.50,468.20 L1117.46,452.48" stroke="#3566a8" stroke-width="3.4" fill="none"/>
<path d="M1124.50,447.20 L1119.30,458.60 L1112.10,449.00 Z" fill="#3566a8"/>
<text transform="translate(1068,364.5) rotate(18)" font-size="22.5" font-style="italic" style="font-family:'Liberation Sans',sans-serif" fill="#cf2a2e">Δri(Δt)</text>
<text x="742.00" y="534.50" font-size="13.6" fill="#1a1a1a" text-anchor="start" font-weight="normal" style="font-family:'Liberation Sans',sans-serif;" >HC/B beads (<tspan fill="#c1272d" font-weight="bold">red</tspan>) grouped into</text>
<text x="742.00" y="549.60" font-size="13.6" fill="#1a1a1a" text-anchor="start" font-weight="normal" style="font-family:'Liberation Sans',sans-serif;" >clusters (<tspan fill="#e67e22" font-weight="bold">orange dashed circles</tspan>)</text>
<text x="742.00" y="564.70" font-size="13.6" fill="#1a1a1a" text-anchor="start" font-weight="normal" style="font-family:'Liberation Sans',sans-serif;" >based on proximity giving:</text>
<text x="742.00" y="579.70" font-size="13.6" fill="#1a1a1a" text-anchor="start" font-weight="normal" style="font-family:'Liberation Sans',sans-serif;" >•</text>
<text x="756.50" y="579.70" font-size="13.6" fill="#1a1a1a" text-anchor="start" font-weight="normal" style="font-family:'Liberation Sans',sans-serif;" >Cluster sizes (<tspan fill="#e67e22" font-weight="bold">orange line</tspan>)</text>
<text x="742.00" y="595.00" font-size="13.6" fill="#1a1a1a" text-anchor="start" font-weight="normal" style="font-family:'Liberation Sans',sans-serif;" >•</text>
<text x="756.50" y="595.00" font-size="13.6" fill="#1a1a1a" text-anchor="start" font-weight="normal" style="font-family:'Liberation Sans',sans-serif;" >Cluster separations</text>
<text x="756.50" y="609.50" font-size="13.6" fill="#1a1a1a" text-anchor="start" font-weight="normal" style="font-family:'Liberation Sans',sans-serif;" ><tspan fill="#5a1a6e" font-weight="bold">(violet lines</tspan>)</text>
<text x="990.00" y="540.20" font-size="13.6" fill="#1a1a1a" text-anchor="start" font-weight="normal" style="font-family:'Liberation Sans',sans-serif;" >Track positional changes of</text>
<text x="990.00" y="555.10" font-size="13.6" fill="#1a1a1a" text-anchor="start" font-weight="normal" style="font-family:'Liberation Sans',sans-serif;" >beads over time intervals <tspan fill="#c1272d" font-weight="bold">Δt.</tspan></text>
<text x="990.00" y="570.00" font-size="13.6" fill="#1a1a1a" text-anchor="start" font-weight="normal" style="font-family:'Liberation Sans',sans-serif;" >Average over all beads to</text>
<text x="990.00" y="584.90" font-size="13.6" fill="#1a1a1a" text-anchor="start" font-weight="normal" style="font-family:'Liberation Sans',sans-serif;" >compute MSD and overlap</text>
<text x="990.00" y="599.80" font-size="13.6" fill="#1a1a1a" text-anchor="start" font-weight="normal" style="font-family:'Liberation Sans',sans-serif;" >function.</text>
<text x="5.40" y="489.50" font-size="25" fill="#000" text-anchor="start" font-weight="normal" style="font-family:'Liberation Sans',sans-serif;" >C</text>
<defs>
<radialGradient id="gR" cx="0.4" cy="0.38" r="0.62"><stop offset="0" stop-color="#f58282"/><stop offset="0.65" stop-color="#e05858"/><stop offset="1" stop-color="#b04040"/></radialGradient>
<radialGradient id="gW" cx="0.4" cy="0.38" r="0.62"><stop offset="0" stop-color="#f4fafa"/><stop offset="0.55" stop-color="#dce3e3"/><stop offset="1" stop-color="#8e9496"/></radialGradient>
</defs><style>.cr{fill:url(#gR)}.cw{fill:url(#gW)}</style>
<g><circle class="cw" cx="150.8" cy="636.1" r="2.8"/><circle class="cw" cx="141.5" cy="506.8" r="2.8"/><circle class="cr" cx="96.4" cy="508.4" r="3.1"/><circle class="cw" cx="64.3" cy="545.0" r="2.8"/><circle class="cr" cx="127.1" cy="638.7" r="3.1"/><circle class="cw" cx="124.6" cy="581.8" r="2.8"/><circle class="cw" cx="130.3" cy="625.2" r="2.8"/><circle class="cr" cx="201.2" cy="546.1" r="3.1"/><circle class="cw" cx="157.5" cy="589.2" r="2.8"/><circle class="cw" cx="94.9" cy="608.0" r="2.8"/><circle class="cr" cx="206.1" cy="556.6" r="3.1"/><circle class="cr" cx="152.7" cy="511.9" r="3.1"/><circle class="cr" cx="79.9" cy="551.4" r="3.1"/><circle class="cw" cx="117.1" cy="617.7" r="2.8"/><circle class="cw" cx="78.8" cy="499.6" r="2.8"/><circle class="cw" cx="86.1" cy="494.3" r="2.8"/><circle class="cr" cx="66.3" cy="543.0" r="3.1"/><circle class="cw" cx="94.8" cy="492.5" r="2.8"/><circle class="cw" cx="188.7" cy="561.1" r="2.8"/><circle class="cw" cx="127.2" cy="594.8" r="2.8"/><circle class="cr" cx="102.4" cy="547.8" r="3.1"/><circle class="cr" cx="63.4" cy="573.1" r="3.1"/><circle class="cr" cx="74.9" cy="577.4" r="3.1"/><circle class="cw" cx="101.9" cy="570.5" r="2.8"/><circle class="cw" cx="94.0" cy="497.7" r="2.8"/><circle class="cr" cx="81.8" cy="573.0" r="3.1"/><circle class="cw" cx="53.4" cy="554.6" r="2.8"/><circle class="cw" cx="186.0" cy="544.8" r="2.8"/><circle class="cr" cx="180.4" cy="595.9" r="3.1"/><circle class="cr" cx="122.1" cy="534.0" r="3.1"/><circle class="cw" cx="110.6" cy="528.1" r="2.8"/><circle class="cw" cx="117.1" cy="485.2" r="2.8"/><circle class="cr" cx="192.7" cy="582.9" r="3.1"/><circle class="cr" cx="204.7" cy="601.8" r="3.1"/><circle class="cw" cx="61.5" cy="516.6" r="2.8"/><circle class="cr" cx="124.5" cy="498.9" r="3.1"/><circle class="cw" cx="88.5" cy="609.0" r="2.8"/><circle class="cw" cx="106.0" cy="524.5" r="2.8"/><circle class="cw" cx="140.8" cy="547.5" r="2.8"/><circle class="cr" cx="217.0" cy="585.4" r="3.1"/><circle class="cr" cx="167.9" cy="608.9" r="3.1"/><circle class="cr" cx="188.6" cy="629.9" r="3.1"/><circle class="cr" cx="155.4" cy="495.9" r="3.1"/><circle class="cw" cx="180.5" cy="533.5" r="2.8"/><circle class="cw" cx="121.5" cy="593.8" r="2.8"/><circle class="cr" cx="102.8" cy="508.8" r="3.1"/><circle class="cr" cx="216.1" cy="593.7" r="3.1"/><circle class="cw" cx="215.1" cy="562.0" r="2.8"/><circle class="cr" cx="55.9" cy="587.7" r="3.1"/><circle class="cw" cx="81.5" cy="603.2" r="2.8"/><circle class="cw" cx="192.9" cy="543.6" r="2.8"/><circle class="cw" cx="149.8" cy="591.6" r="2.8"/><circle class="cw" cx="152.6" cy="601.1" r="2.8"/><circle class="cw" cx="113.9" cy="623.8" r="2.8"/><circle class="cr" cx="164.8" cy="563.1" r="3.1"/><circle class="cr" cx="92.0" cy="619.0" r="3.1"/><circle class="cr" cx="123.0" cy="581.5" r="3.1"/><circle class="cw" cx="64.3" cy="609.6" r="2.8"/><circle class="cw" cx="125.4" cy="515.8" r="2.8"/><circle class="cr" cx="139.1" cy="536.0" r="3.1"/><circle class="cw" cx="74.4" cy="500.5" r="2.8"/><circle class="cw" cx="168.9" cy="529.6" r="2.8"/><circle class="cw" cx="167.2" cy="552.8" r="2.8"/><circle class="cr" cx="104.4" cy="531.1" r="3.1"/><circle class="cw" cx="97.5" cy="483.7" r="2.8"/><circle class="cr" cx="180.1" cy="569.0" r="3.1"/><circle class="cr" cx="204.2" cy="614.0" r="3.1"/><circle class="cr" cx="196.9" cy="611.3" r="3.1"/><circle class="cr" cx="126.7" cy="550.0" r="3.1"/><circle class="cw" cx="194.8" cy="518.2" r="2.8"/><circle class="cw" cx="144.2" cy="624.6" r="2.8"/><circle class="cw" cx="110.1" cy="495.1" r="2.8"/><circle class="cw" cx="153.9" cy="541.3" r="2.8"/><circle class="cw" cx="127.1" cy="637.6" r="2.8"/><circle class="cr" cx="129.4" cy="640.0" r="3.1"/><circle class="cr" cx="85.5" cy="625.7" r="3.1"/><circle class="cr" cx="150.0" cy="534.3" r="3.1"/><circle class="cw" cx="111.1" cy="594.4" r="2.8"/><circle class="cw" cx="138.2" cy="590.0" r="2.8"/><circle class="cr" cx="168.9" cy="490.0" r="3.1"/><circle class="cr" cx="69.4" cy="553.7" r="3.1"/><circle class="cw" cx="117.1" cy="560.3" r="2.8"/><circle class="cr" cx="172.3" cy="566.9" r="3.1"/><circle class="cr" cx="171.7" cy="533.2" r="3.1"/><circle class="cr" cx="205.9" cy="595.8" r="3.1"/><circle class="cr" cx="103.1" cy="532.9" r="3.1"/><circle class="cr" cx="145.1" cy="598.3" r="3.1"/><circle class="cw" cx="127.2" cy="561.3" r="2.8"/><circle class="cr" cx="68.3" cy="599.0" r="3.1"/><circle class="cr" cx="135.5" cy="493.0" r="3.1"/><circle class="cw" cx="181.5" cy="520.2" r="2.8"/><circle class="cw" cx="90.0" cy="486.5" r="2.8"/><circle class="cw" cx="211.0" cy="535.9" r="2.8"/><circle class="cr" cx="152.9" cy="595.5" r="3.1"/><circle class="cw" cx="192.6" cy="599.1" r="2.8"/><circle class="cw" cx="133.2" cy="625.0" r="2.8"/><circle class="cr" cx="174.1" cy="573.5" r="3.1"/><circle class="cw" cx="154.4" cy="556.2" r="2.8"/><circle class="cr" cx="171.8" cy="523.4" r="3.1"/><circle class="cw" cx="209.7" cy="537.0" r="2.8"/><circle class="cr" cx="143.6" cy="539.9" r="3.1"/><circle class="cw" cx="186.5" cy="555.3" r="2.8"/><circle class="cw" cx="109.8" cy="543.2" r="2.8"/><circle class="cw" cx="203.5" cy="604.9" r="2.8"/><circle class="cr" cx="62.6" cy="565.7" r="3.1"/><circle class="cw" cx="97.1" cy="556.7" r="2.8"/><circle class="cr" cx="68.3" cy="540.7" r="3.1"/><circle class="cr" cx="166.2" cy="596.1" r="3.1"/><circle class="cw" cx="152.8" cy="558.0" r="2.8"/><circle class="cr" cx="79.8" cy="502.1" r="3.1"/><circle class="cw" cx="80.1" cy="624.3" r="2.8"/><circle class="cr" cx="97.2" cy="544.3" r="3.1"/><circle class="cw" cx="150.3" cy="639.5" r="2.8"/><circle class="cw" cx="165.7" cy="495.6" r="2.8"/><circle class="cw" cx="142.9" cy="503.0" r="2.8"/><circle class="cr" cx="156.4" cy="579.2" r="3.1"/><circle class="cw" cx="114.9" cy="579.0" r="2.8"/><circle class="cr" cx="135.5" cy="583.8" r="3.1"/><circle class="cw" cx="86.7" cy="491.3" r="2.8"/><circle class="cr" cx="177.2" cy="496.3" r="3.1"/><circle class="cw" cx="80.7" cy="610.6" r="2.8"/><circle class="cw" cx="186.2" cy="519.9" r="2.8"/><circle class="cr" cx="89.2" cy="497.5" r="3.1"/><circle class="cr" cx="69.4" cy="581.7" r="3.1"/><circle class="cw" cx="158.6" cy="628.8" r="2.8"/><circle class="cw" cx="204.5" cy="568.7" r="2.8"/><circle class="cw" cx="108.3" cy="526.8" r="2.8"/><circle class="cr" cx="105.0" cy="532.3" r="3.1"/><circle class="cw" cx="220.6" cy="561.6" r="2.8"/><circle class="cw" cx="148.5" cy="527.5" r="2.8"/><circle class="cw" cx="183.1" cy="510.1" r="2.8"/><circle class="cw" cx="152.4" cy="639.1" r="2.8"/><circle class="cw" cx="202.8" cy="564.6" r="2.8"/><circle class="cr" cx="98.4" cy="493.3" r="3.1"/><circle class="cr" cx="77.5" cy="523.5" r="3.1"/><circle class="cw" cx="164.0" cy="595.7" r="2.8"/><circle class="cr" cx="84.0" cy="585.2" r="3.1"/><circle class="cr" cx="157.2" cy="568.4" r="3.1"/><circle class="cw" cx="83.5" cy="612.2" r="2.8"/><circle class="cw" cx="167.5" cy="627.2" r="2.8"/><circle class="cr" cx="85.3" cy="618.8" r="3.1"/><circle class="cr" cx="74.8" cy="576.9" r="3.1"/><circle class="cr" cx="160.3" cy="505.4" r="3.1"/><circle class="cw" cx="111.3" cy="523.8" r="2.8"/><circle class="cw" cx="91.6" cy="569.6" r="2.8"/><circle class="cr" cx="81.7" cy="497.0" r="3.1"/><circle class="cw" cx="122.2" cy="524.7" r="2.8"/><circle class="cr" cx="181.0" cy="544.9" r="3.1"/><circle class="cr" cx="184.9" cy="533.7" r="3.1"/><circle class="cw" cx="186.0" cy="616.4" r="2.8"/><circle class="cw" cx="178.2" cy="597.3" r="2.8"/><circle class="cw" cx="130.4" cy="608.9" r="2.8"/><circle class="cw" cx="111.1" cy="568.7" r="2.8"/><circle class="cr" cx="57.1" cy="534.4" r="3.1"/><circle class="cw" cx="88.4" cy="575.7" r="2.8"/><circle class="cr" cx="166.7" cy="503.6" r="3.1"/><circle class="cr" cx="163.7" cy="602.7" r="3.1"/><circle class="cr" cx="111.6" cy="588.8" r="3.1"/><circle class="cr" cx="154.2" cy="579.1" r="3.1"/><circle class="cr" cx="143.2" cy="577.9" r="3.1"/><circle class="cw" cx="158.4" cy="611.1" r="2.8"/><circle class="cw" cx="139.9" cy="597.8" r="2.8"/><circle class="cw" cx="71.5" cy="515.4" r="2.8"/><circle class="cr" cx="125.8" cy="531.8" r="3.1"/><circle class="cr" cx="46.5" cy="563.5" r="3.1"/><circle class="cw" cx="187.3" cy="584.0" r="2.8"/><circle class="cr" cx="183.2" cy="628.2" r="3.1"/><circle class="cw" cx="128.9" cy="533.2" r="2.8"/><circle class="cr" cx="161.6" cy="490.9" r="3.1"/><circle class="cw" cx="159.7" cy="537.4" r="2.8"/><circle class="cr" cx="88.0" cy="496.8" r="3.1"/><circle class="cw" cx="63.0" cy="586.5" r="2.8"/><circle class="cr" cx="179.3" cy="503.5" r="3.1"/><circle class="cr" cx="100.3" cy="500.5" r="3.1"/><circle class="cw" cx="148.1" cy="509.5" r="2.8"/><circle class="cw" cx="56.8" cy="555.8" r="2.8"/><circle class="cw" cx="127.1" cy="532.2" r="2.8"/><circle class="cw" cx="123.4" cy="552.5" r="2.8"/><circle class="cw" cx="102.3" cy="636.2" r="2.8"/><circle class="cr" cx="101.2" cy="529.0" r="3.1"/><circle class="cr" cx="172.8" cy="488.3" r="3.1"/><circle class="cw" cx="104.4" cy="605.3" r="2.8"/><circle class="cw" cx="153.5" cy="615.3" r="2.8"/><circle class="cr" cx="211.3" cy="576.0" r="3.1"/><circle class="cr" cx="111.2" cy="496.8" r="3.1"/><circle class="cr" cx="76.3" cy="589.2" r="3.1"/><circle class="cw" cx="74.6" cy="601.4" r="2.8"/><circle class="cw" cx="83.4" cy="492.7" r="2.8"/><circle class="cw" cx="214.5" cy="530.7" r="2.8"/><circle class="cw" cx="188.8" cy="500.0" r="2.8"/><circle class="cw" cx="69.9" cy="517.3" r="2.8"/><circle class="cw" cx="139.8" cy="548.7" r="2.8"/><circle class="cr" cx="71.4" cy="542.5" r="3.1"/><circle class="cw" cx="110.6" cy="565.8" r="2.8"/><circle class="cr" cx="63.0" cy="584.7" r="3.1"/><circle class="cr" cx="159.0" cy="491.6" r="3.1"/><circle class="cr" cx="62.5" cy="540.1" r="3.1"/><circle class="cw" cx="194.9" cy="549.3" r="2.8"/><circle class="cr" cx="66.0" cy="569.0" r="3.1"/><circle class="cw" cx="132.1" cy="597.0" r="2.8"/><circle class="cw" cx="76.2" cy="549.7" r="2.8"/><circle class="cw" cx="90.9" cy="557.1" r="2.8"/><circle class="cw" cx="139.0" cy="639.5" r="2.8"/><circle class="cr" cx="142.7" cy="569.0" r="3.1"/><circle class="cr" cx="74.7" cy="530.1" r="3.1"/><circle class="cr" cx="203.8" cy="600.2" r="3.1"/><circle class="cw" cx="129.4" cy="597.1" r="2.8"/><circle class="cr" cx="175.9" cy="600.0" r="3.1"/><circle class="cw" cx="161.8" cy="513.7" r="2.8"/><circle class="cw" cx="202.2" cy="547.4" r="2.8"/><circle class="cr" cx="172.9" cy="593.6" r="3.1"/><circle class="cr" cx="116.8" cy="517.2" r="3.1"/><circle class="cw" cx="64.1" cy="592.7" r="2.8"/><circle class="cw" cx="207.8" cy="564.8" r="2.8"/><circle class="cw" cx="75.8" cy="614.4" r="2.8"/><circle class="cw" cx="214.8" cy="556.8" r="2.8"/><circle class="cw" cx="110.9" cy="516.7" r="2.8"/><circle class="cr" cx="117.9" cy="609.6" r="3.1"/><circle class="cw" cx="126.5" cy="533.0" r="2.8"/><circle class="cw" cx="213.3" cy="595.8" r="2.8"/><circle class="cw" cx="177.4" cy="586.7" r="2.8"/><circle class="cw" cx="186.9" cy="564.2" r="2.8"/><circle class="cw" cx="97.0" cy="636.3" r="2.8"/><circle class="cw" cx="182.3" cy="516.1" r="2.8"/><circle class="cr" cx="103.4" cy="556.0" r="3.1"/><circle class="cr" cx="86.8" cy="577.7" r="3.1"/><circle class="cr" cx="124.8" cy="489.3" r="3.1"/><circle class="cw" cx="98.0" cy="500.2" r="2.8"/><circle class="cw" cx="206.7" cy="549.8" r="2.8"/><circle class="cw" cx="212.8" cy="559.8" r="2.8"/><circle class="cw" cx="66.6" cy="573.6" r="2.8"/><circle class="cr" cx="81.4" cy="526.3" r="3.1"/><circle class="cw" cx="87.1" cy="600.9" r="2.8"/><circle class="cw" cx="123.7" cy="540.8" r="2.8"/><circle class="cw" cx="117.6" cy="563.7" r="2.8"/><circle class="cr" cx="192.4" cy="608.6" r="3.1"/><circle class="cr" cx="176.0" cy="600.2" r="3.1"/><circle class="cr" cx="65.7" cy="569.6" r="3.1"/><circle class="cr" cx="100.6" cy="514.1" r="3.1"/><circle class="cw" cx="117.5" cy="540.5" r="2.8"/><circle class="cr" cx="64.6" cy="578.1" r="3.1"/><circle class="cr" cx="171.7" cy="617.4" r="3.1"/><circle class="cw" cx="163.7" cy="520.3" r="2.8"/><circle class="cw" cx="203.0" cy="541.7" r="2.8"/><circle class="cr" cx="142.0" cy="565.6" r="3.1"/><circle class="cw" cx="117.2" cy="531.4" r="2.8"/><circle class="cw" cx="77.4" cy="603.3" r="2.8"/><circle class="cr" cx="183.0" cy="628.7" r="3.1"/><circle class="cw" cx="63.0" cy="551.7" r="2.8"/><circle class="cr" cx="183.7" cy="559.0" r="3.1"/><circle class="cw" cx="79.9" cy="513.7" r="2.8"/><circle class="cw" cx="88.3" cy="582.4" r="2.8"/><circle class="cw" cx="141.2" cy="515.5" r="2.8"/><circle class="cw" cx="62.6" cy="553.7" r="2.8"/><circle class="cw" cx="198.8" cy="546.1" r="2.8"/><circle class="cw" cx="176.4" cy="634.9" r="2.8"/><circle class="cr" cx="182.0" cy="588.4" r="3.1"/><circle class="cw" cx="55.4" cy="590.5" r="2.8"/><circle class="cr" cx="127.8" cy="552.8" r="3.1"/><circle class="cw" cx="165.3" cy="615.6" r="2.8"/><circle class="cr" cx="57.7" cy="598.6" r="3.1"/><circle class="cw" cx="62.1" cy="562.4" r="2.8"/><circle class="cw" cx="132.0" cy="514.1" r="2.8"/><circle class="cw" cx="140.9" cy="513.9" r="2.8"/><circle class="cr" cx="144.7" cy="542.7" r="3.1"/><circle class="cw" cx="190.2" cy="590.0" r="2.8"/><circle class="cw" cx="181.3" cy="568.7" r="2.8"/><circle class="cw" cx="100.1" cy="517.0" r="2.8"/><circle class="cw" cx="156.3" cy="545.5" r="2.8"/><circle class="cw" cx="129.8" cy="553.9" r="2.8"/><circle class="cr" cx="136.2" cy="564.4" r="3.1"/><circle class="cw" cx="99.8" cy="520.4" r="2.8"/><circle class="cw" cx="87.8" cy="559.9" r="2.8"/><circle class="cr" cx="187.5" cy="507.3" r="3.1"/><circle class="cw" cx="117.9" cy="585.2" r="2.8"/><circle class="cr" cx="88.9" cy="508.5" r="3.1"/><circle class="cw" cx="188.7" cy="562.4" r="2.8"/><circle class="cw" cx="55.7" cy="540.5" r="2.8"/><circle class="cr" cx="101.6" cy="582.6" r="3.1"/><circle class="cr" cx="102.2" cy="600.9" r="3.1"/><circle class="cr" cx="171.2" cy="599.2" r="3.1"/><circle class="cr" cx="62.5" cy="590.8" r="3.1"/><circle class="cr" cx="114.7" cy="541.7" r="3.1"/><circle class="cr" cx="110.7" cy="525.8" r="3.1"/><circle class="cw" cx="164.4" cy="589.4" r="2.8"/><circle class="cw" cx="102.4" cy="485.2" r="2.8"/><circle class="cr" cx="217.5" cy="577.4" r="3.1"/><circle class="cw" cx="74.6" cy="623.9" r="2.8"/><circle class="cw" cx="179.2" cy="498.3" r="2.8"/><circle class="cr" cx="203.1" cy="611.4" r="3.1"/><circle class="cw" cx="89.9" cy="497.9" r="2.8"/><circle class="cr" cx="163.0" cy="607.0" r="3.1"/><circle class="cw" cx="92.3" cy="488.3" r="2.8"/><circle class="cw" cx="104.4" cy="566.6" r="2.8"/><circle class="cw" cx="203.3" cy="610.9" r="2.8"/><circle class="cw" cx="147.2" cy="511.7" r="2.8"/><circle class="cw" cx="159.0" cy="551.0" r="2.8"/><circle class="cw" cx="204.7" cy="579.2" r="2.8"/><circle class="cr" cx="151.1" cy="583.9" r="3.1"/><circle class="cr" cx="89.6" cy="535.8" r="3.1"/><circle class="cr" cx="92.3" cy="596.4" r="3.1"/><circle class="cr" cx="195.7" cy="624.6" r="3.1"/><circle class="cr" cx="88.5" cy="503.1" r="3.1"/><circle class="cr" cx="85.4" cy="630.1" r="3.1"/><circle class="cr" cx="70.5" cy="596.7" r="3.1"/><circle class="cr" cx="104.2" cy="556.0" r="3.1"/><circle class="cw" cx="128.5" cy="510.2" r="2.8"/><circle class="cr" cx="123.7" cy="489.5" r="3.1"/><circle class="cw" cx="201.4" cy="587.6" r="2.8"/><circle class="cw" cx="96.3" cy="544.9" r="2.8"/><circle class="cr" cx="120.7" cy="564.0" r="3.1"/><circle class="cw" cx="124.2" cy="540.2" r="2.8"/><circle class="cr" cx="70.4" cy="572.0" r="3.1"/><circle class="cr" cx="189.1" cy="547.6" r="3.1"/><circle class="cw" cx="163.6" cy="616.8" r="2.8"/><circle class="cr" cx="53.7" cy="575.8" r="3.1"/><circle class="cr" cx="119.6" cy="581.7" r="3.1"/><circle class="cw" cx="215.2" cy="605.5" r="2.8"/><circle class="cw" cx="126.7" cy="488.7" r="2.8"/><circle class="cw" cx="152.0" cy="526.2" r="2.8"/><circle class="cw" cx="199.3" cy="521.8" r="2.8"/><circle class="cw" cx="180.7" cy="568.0" r="2.8"/><circle class="cr" cx="199.3" cy="581.8" r="3.1"/><circle class="cw" cx="167.6" cy="590.3" r="2.8"/><circle class="cw" cx="174.1" cy="487.2" r="2.8"/><circle class="cw" cx="59.0" cy="553.9" r="2.8"/><circle class="cr" cx="110.4" cy="535.7" r="3.1"/><circle class="cw" cx="139.2" cy="600.6" r="2.8"/><circle class="cr" cx="89.9" cy="596.2" r="3.1"/><circle class="cr" cx="154.7" cy="598.4" r="3.1"/><circle class="cw" cx="171.1" cy="582.5" r="2.8"/><circle class="cw" cx="142.9" cy="608.8" r="2.8"/><circle class="cr" cx="130.7" cy="651.4" r="3.1"/><circle class="cw" cx="122.2" cy="540.8" r="2.8"/><circle class="cr" cx="173.6" cy="524.1" r="3.1"/><circle class="cr" cx="126.2" cy="576.0" r="3.1"/><circle class="cr" cx="135.4" cy="492.8" r="3.1"/><circle class="cw" cx="74.0" cy="593.2" r="2.8"/><circle class="cr" cx="179.2" cy="551.4" r="3.1"/><circle class="cw" cx="123.3" cy="553.1" r="2.8"/><circle class="cr" cx="58.2" cy="536.7" r="3.1"/><circle class="cr" cx="53.3" cy="572.8" r="3.1"/><circle class="cr" cx="137.7" cy="593.6" r="3.1"/><circle class="cw" cx="159.7" cy="507.8" r="2.8"/><circle class="cr" cx="129.6" cy="572.8" r="3.1"/><circle class="cw" cx="147.8" cy="509.6" r="2.8"/><circle class="cr" cx="157.3" cy="580.6" r="3.1"/><circle class="cr" cx="77.2" cy="502.9" r="3.1"/><circle class="cw" cx="112.7" cy="504.4" r="2.8"/><circle class="cr" cx="184.3" cy="566.2" r="3.1"/><circle class="cr" cx="172.4" cy="484.5" r="3.1"/><circle class="cr" cx="130.9" cy="519.7" r="3.1"/><circle class="cw" cx="133.0" cy="611.5" r="2.8"/><circle class="cw" cx="169.4" cy="519.6" r="2.8"/><circle class="cw" cx="85.1" cy="542.0" r="2.8"/><circle class="cw" cx="130.6" cy="533.6" r="2.8"/><circle class="cr" cx="157.8" cy="603.5" r="3.1"/><circle class="cw" cx="161.9" cy="628.9" r="2.8"/><circle class="cw" cx="170.6" cy="605.8" r="2.8"/><circle class="cr" cx="184.4" cy="522.0" r="3.1"/><circle class="cw" cx="188.2" cy="493.9" r="2.8"/><circle class="cw" cx="72.6" cy="519.1" r="2.8"/><circle class="cw" cx="158.2" cy="560.8" r="2.8"/><circle class="cr" cx="153.3" cy="615.1" r="3.1"/><circle class="cw" cx="188.3" cy="611.1" r="2.8"/><circle class="cw" cx="55.6" cy="536.2" r="2.8"/><circle class="cw" cx="129.4" cy="562.0" r="2.8"/><circle class="cw" cx="128.5" cy="566.1" r="2.8"/><circle class="cw" cx="83.1" cy="602.0" r="2.8"/><circle class="cr" cx="149.5" cy="533.5" r="3.1"/><circle class="cr" cx="63.0" cy="517.5" r="3.1"/><circle class="cw" cx="223.9" cy="586.3" r="2.8"/><circle class="cw" cx="134.1" cy="571.4" r="2.8"/><circle class="cw" cx="128.6" cy="484.5" r="2.8"/><circle class="cw" cx="112.9" cy="629.4" r="2.8"/><circle class="cw" cx="121.3" cy="484.0" r="2.8"/><circle class="cr" cx="95.7" cy="528.9" r="3.1"/><circle class="cr" cx="83.7" cy="535.7" r="3.1"/><circle class="cr" cx="63.2" cy="575.8" r="3.1"/><circle class="cw" cx="92.9" cy="563.5" r="2.8"/><circle class="cw" cx="173.1" cy="563.2" r="2.8"/><circle class="cw" cx="122.4" cy="517.4" r="2.8"/><circle class="cw" cx="144.1" cy="563.3" r="2.8"/><circle class="cw" cx="93.9" cy="497.4" r="2.8"/><circle class="cr" cx="183.6" cy="525.0" r="3.1"/><circle class="cw" cx="130.9" cy="599.2" r="2.8"/><circle class="cr" cx="108.0" cy="621.6" r="3.1"/><circle class="cw" cx="174.0" cy="502.6" r="2.8"/><circle class="cw" cx="54.3" cy="563.8" r="2.8"/><circle class="cw" cx="200.9" cy="610.5" r="2.8"/><circle class="cw" cx="187.0" cy="542.6" r="2.8"/><circle class="cr" cx="167.1" cy="554.8" r="3.1"/><circle class="cw" cx="104.6" cy="633.3" r="2.8"/><circle class="cw" cx="185.4" cy="568.0" r="2.8"/><circle class="cr" cx="123.9" cy="496.3" r="3.1"/><circle class="cr" cx="92.0" cy="490.6" r="3.1"/><circle class="cw" cx="163.5" cy="548.2" r="2.8"/><circle class="cw" cx="164.4" cy="596.4" r="2.8"/><circle class="cr" cx="208.6" cy="541.8" r="3.1"/><circle class="cw" cx="165.7" cy="535.4" r="2.8"/><circle class="cw" cx="216.3" cy="603.2" r="2.8"/><circle class="cw" cx="185.8" cy="553.4" r="2.8"/><circle class="cr" cx="183.9" cy="495.5" r="3.1"/><circle class="cr" cx="214.2" cy="597.0" r="3.1"/><circle class="cr" cx="167.5" cy="616.1" r="3.1"/><circle class="cr" cx="162.5" cy="491.1" r="3.1"/><circle class="cw" cx="80.4" cy="556.9" r="2.8"/><circle class="cw" cx="170.1" cy="541.7" r="2.8"/><circle class="cr" cx="66.5" cy="527.2" r="3.1"/><circle class="cr" cx="135.6" cy="592.9" r="3.1"/><circle class="cr" cx="170.7" cy="599.4" r="3.1"/><circle class="cr" cx="191.3" cy="631.9" r="3.1"/><circle class="cw" cx="187.2" cy="626.1" r="2.8"/><circle class="cw" cx="224.8" cy="575.3" r="2.8"/><circle class="cw" cx="206.9" cy="535.3" r="2.8"/><circle class="cw" cx="131.4" cy="561.8" r="2.8"/><circle class="cr" cx="122.1" cy="621.6" r="3.1"/><circle class="cw" cx="118.5" cy="555.7" r="2.8"/><circle class="cw" cx="147.5" cy="493.0" r="2.8"/><circle class="cw" cx="176.1" cy="609.5" r="2.8"/><circle class="cw" cx="215.3" cy="593.4" r="2.8"/><circle class="cw" cx="187.3" cy="513.5" r="2.8"/><circle class="cw" cx="106.2" cy="639.8" r="2.8"/><circle class="cr" cx="62.4" cy="578.9" r="3.1"/><circle class="cr" cx="162.9" cy="507.6" r="3.1"/><circle class="cw" cx="130.9" cy="567.0" r="2.8"/><circle class="cw" cx="158.1" cy="506.7" r="2.8"/><circle class="cw" cx="186.0" cy="512.9" r="2.8"/><circle class="cw" cx="134.2" cy="616.8" r="2.8"/><circle class="cr" cx="122.7" cy="529.6" r="3.1"/><circle class="cr" cx="95.4" cy="597.7" r="3.1"/><circle class="cw" cx="171.8" cy="559.2" r="2.8"/><circle class="cw" cx="187.5" cy="618.4" r="2.8"/><circle class="cr" cx="96.8" cy="493.5" r="3.1"/><circle class="cr" cx="103.6" cy="545.2" r="3.1"/><circle class="cw" cx="183.3" cy="566.1" r="2.8"/><circle class="cw" cx="149.0" cy="501.4" r="2.8"/><circle class="cr" cx="132.6" cy="584.8" r="3.1"/><circle class="cr" cx="165.8" cy="488.2" r="3.1"/><circle class="cr" cx="91.1" cy="567.2" r="3.1"/><circle class="cr" cx="107.1" cy="526.0" r="3.1"/><circle class="cw" cx="132.6" cy="614.7" r="2.8"/><circle class="cw" cx="78.5" cy="607.3" r="2.8"/><circle class="cr" cx="95.9" cy="631.6" r="3.1"/><circle class="cw" cx="158.4" cy="552.2" r="2.8"/><circle class="cw" cx="80.5" cy="520.9" r="2.8"/><circle class="cw" cx="87.3" cy="629.1" r="2.8"/><circle class="cw" cx="85.6" cy="612.4" r="2.8"/><circle class="cr" cx="155.8" cy="620.5" r="3.1"/><circle class="cr" cx="136.4" cy="491.3" r="3.1"/><circle class="cw" cx="51.5" cy="579.2" r="2.8"/><circle class="cr" cx="135.5" cy="532.2" r="3.1"/><circle class="cr" cx="220.8" cy="559.2" r="3.1"/><circle class="cw" cx="136.0" cy="629.4" r="2.8"/><circle class="cw" cx="148.8" cy="541.8" r="2.8"/><circle class="cw" cx="166.9" cy="559.9" r="2.8"/><circle class="cr" cx="200.6" cy="588.1" r="3.1"/><circle class="cr" cx="163.8" cy="610.1" r="3.1"/><circle class="cr" cx="138.3" cy="620.4" r="3.1"/><circle class="cw" cx="212.3" cy="590.8" r="2.8"/><circle class="cw" cx="156.0" cy="604.4" r="2.8"/><circle class="cw" cx="125.9" cy="584.9" r="2.8"/><circle class="cr" cx="218.3" cy="581.4" r="3.1"/><circle class="cw" cx="117.4" cy="596.2" r="2.8"/><circle class="cr" cx="93.7" cy="628.8" r="3.1"/><circle class="cw" cx="148.7" cy="523.9" r="2.8"/><circle class="cw" cx="135.4" cy="542.8" r="2.8"/><circle class="cr" cx="185.8" cy="606.9" r="3.1"/><circle class="cr" cx="143.3" cy="552.4" r="3.1"/><circle class="cr" cx="136.7" cy="527.8" r="3.1"/><circle class="cr" cx="98.4" cy="608.3" r="3.1"/><circle class="cr" cx="133.5" cy="571.0" r="3.1"/><circle class="cw" cx="149.3" cy="489.6" r="2.8"/><circle class="cr" cx="97.5" cy="564.7" r="3.1"/><circle class="cw" cx="61.5" cy="526.7" r="2.8"/><circle class="cw" cx="97.6" cy="609.4" r="2.8"/><circle class="cw" cx="167.2" cy="534.5" r="2.8"/><circle class="cr" cx="190.0" cy="603.7" r="3.1"/><circle class="cr" cx="115.3" cy="534.3" r="3.1"/><circle class="cr" cx="166.5" cy="610.4" r="3.1"/><circle class="cw" cx="217.7" cy="603.4" r="2.8"/><circle class="cr" cx="67.2" cy="592.5" r="3.1"/><circle class="cr" cx="82.1" cy="628.8" r="3.1"/><circle class="cw" cx="92.1" cy="556.2" r="2.8"/><circle class="cw" cx="205.1" cy="531.5" r="2.8"/><circle class="cw" cx="157.6" cy="523.6" r="2.8"/><circle class="cr" cx="183.6" cy="491.2" r="3.1"/><circle class="cw" cx="212.1" cy="563.4" r="2.8"/><circle class="cr" cx="147.6" cy="573.8" r="3.1"/><circle class="cr" cx="213.1" cy="578.5" r="3.1"/><circle class="cw" cx="94.6" cy="571.5" r="2.8"/><circle class="cw" cx="96.2" cy="564.8" r="2.8"/><circle class="cw" cx="121.5" cy="637.9" r="2.8"/><circle class="cw" cx="69.3" cy="525.1" r="2.8"/><circle class="cw" cx="172.7" cy="627.1" r="2.8"/><circle class="cw" cx="151.3" cy="529.0" r="2.8"/><circle class="cw" cx="139.3" cy="607.4" r="2.8"/><circle class="cw" cx="165.3" cy="549.6" r="2.8"/><circle class="cw" cx="194.2" cy="536.8" r="2.8"/><circle class="cr" cx="57.2" cy="592.7" r="3.1"/><circle class="cr" cx="99.0" cy="502.5" r="3.1"/><circle class="cw" cx="121.2" cy="504.4" r="2.8"/><circle class="cr" cx="172.6" cy="608.2" r="3.1"/><circle class="cw" cx="134.8" cy="485.5" r="2.8"/><circle class="cr" cx="161.9" cy="501.0" r="3.1"/><circle class="cr" cx="199.7" cy="609.1" r="3.1"/><circle class="cr" cx="104.5" cy="504.1" r="3.1"/><circle class="cw" cx="90.7" cy="612.8" r="2.8"/><circle class="cr" cx="165.7" cy="481.6" r="3.1"/><circle class="cr" cx="150.9" cy="540.5" r="3.1"/><circle class="cw" cx="160.5" cy="547.6" r="2.8"/><circle class="cr" cx="190.3" cy="542.4" r="3.1"/><circle class="cw" cx="75.9" cy="514.3" r="2.8"/><circle class="cw" cx="184.6" cy="489.9" r="2.8"/><circle class="cr" cx="122.5" cy="616.0" r="3.1"/><circle class="cw" cx="193.6" cy="563.0" r="2.8"/><circle class="cr" cx="138.2" cy="485.4" r="3.1"/><circle class="cw" cx="132.5" cy="511.7" r="2.8"/><circle class="cr" cx="136.9" cy="493.5" r="3.1"/><circle class="cr" cx="198.7" cy="608.4" r="3.1"/><circle class="cr" cx="89.1" cy="497.5" r="3.1"/><circle class="cr" cx="202.1" cy="591.3" r="3.1"/><circle class="cw" cx="115.4" cy="631.2" r="2.8"/><circle class="cr" cx="171.2" cy="559.5" r="3.1"/><circle class="cw" cx="128.5" cy="534.3" r="2.8"/><circle class="cw" cx="123.2" cy="553.2" r="2.8"/><circle class="cr" cx="112.7" cy="527.5" r="3.1"/><circle class="cw" cx="120.2" cy="575.5" r="2.8"/><circle class="cr" cx="72.9" cy="533.5" r="3.1"/><circle class="cr" cx="73.9" cy="595.4" r="3.1"/><circle class="cw" cx="80.1" cy="558.2" r="2.8"/><circle class="cw" cx="78.3" cy="562.3" r="2.8"/><circle class="cr" cx="202.7" cy="561.0" r="3.1"/><circle class="cw" cx="67.9" cy="585.7" r="2.8"/><circle class="cw" cx="170.8" cy="595.5" r="2.8"/><circle class="cw" cx="174.3" cy="503.3" r="2.8"/><circle class="cr" cx="191.6" cy="627.0" r="3.1"/><circle class="cr" cx="146.0" cy="568.0" r="3.1"/><circle class="cr" cx="213.5" cy="599.0" r="3.1"/><circle class="cw" cx="116.4" cy="606.9" r="2.8"/><circle class="cr" cx="172.2" cy="555.9" r="3.1"/><circle class="cr" cx="163.4" cy="517.0" r="3.1"/><circle class="cw" cx="148.8" cy="514.3" r="2.8"/><circle class="cr" cx="184.3" cy="597.0" r="3.1"/><circle class="cr" cx="142.8" cy="610.0" r="3.1"/><circle class="cw" cx="70.4" cy="557.3" r="2.8"/><circle class="cw" cx="151.0" cy="556.6" r="2.8"/><circle class="cw" cx="160.6" cy="522.9" r="2.8"/><circle class="cw" cx="142.8" cy="495.6" r="2.8"/><circle class="cr" cx="146.7" cy="601.6" r="3.1"/><circle class="cw" cx="144.6" cy="534.6" r="2.8"/><circle class="cw" cx="140.0" cy="520.4" r="2.8"/><circle class="cw" cx="138.5" cy="495.8" r="2.8"/><circle class="cr" cx="76.9" cy="552.9" r="3.1"/><circle class="cw" cx="97.9" cy="488.8" r="2.8"/><circle class="cw" cx="190.1" cy="493.5" r="2.8"/><circle class="cw" cx="155.7" cy="499.9" r="2.8"/><circle class="cr" cx="142.3" cy="495.5" r="3.1"/><circle class="cw" cx="123.5" cy="597.3" r="2.8"/><circle class="cw" cx="100.9" cy="570.7" r="2.8"/><circle class="cr" cx="112.6" cy="627.6" r="3.1"/><circle class="cr" cx="181.8" cy="539.0" r="3.1"/><circle class="cr" cx="130.9" cy="541.7" r="3.1"/><circle class="cw" cx="110.5" cy="524.1" r="2.8"/><circle class="cr" cx="102.8" cy="529.4" r="3.1"/><circle class="cw" cx="171.9" cy="590.3" r="2.8"/><circle class="cw" cx="213.2" cy="604.3" r="2.8"/><circle class="cw" cx="90.8" cy="630.9" r="2.8"/><circle class="cw" cx="65.8" cy="512.4" r="2.8"/><circle class="cr" cx="95.6" cy="596.0" r="3.1"/><circle class="cw" cx="115.7" cy="592.5" r="2.8"/><circle class="cw" cx="189.9" cy="494.7" r="2.8"/><circle class="cw" cx="179.4" cy="602.0" r="2.8"/><circle class="cw" cx="179.4" cy="619.4" r="2.8"/><circle class="cw" cx="114.6" cy="615.7" r="2.8"/><circle class="cw" cx="105.0" cy="637.9" r="2.8"/><circle class="cr" cx="214.5" cy="599.5" r="3.1"/><circle class="cw" cx="159.1" cy="547.3" r="2.8"/><circle class="cw" cx="68.9" cy="513.4" r="2.8"/><circle class="cw" cx="212.5" cy="599.3" r="2.8"/><circle class="cr" cx="194.4" cy="613.8" r="3.1"/><circle class="cr" cx="81.4" cy="529.5" r="3.1"/><circle class="cw" cx="164.9" cy="507.5" r="2.8"/><circle class="cw" cx="206.1" cy="563.1" r="2.8"/><circle class="cw" cx="84.3" cy="604.9" r="2.8"/><circle class="cr" cx="158.7" cy="558.1" r="3.1"/><circle class="cw" cx="127.2" cy="501.6" r="2.8"/><circle class="cr" cx="204.4" cy="598.5" r="3.1"/><circle class="cr" cx="193.4" cy="550.6" r="3.1"/><circle class="cr" cx="56.9" cy="587.1" r="3.1"/><circle class="cw" cx="112.6" cy="635.1" r="2.8"/><circle class="cr" cx="113.8" cy="606.9" r="3.1"/><circle class="cr" cx="98.8" cy="599.9" r="3.1"/><circle class="cw" cx="136.2" cy="617.1" r="2.8"/><circle class="cw" cx="132.6" cy="597.4" r="2.8"/><circle class="cr" cx="194.9" cy="584.5" r="3.1"/><circle class="cw" cx="137.9" cy="620.4" r="2.8"/><circle class="cw" cx="93.8" cy="512.2" r="2.8"/><circle class="cr" cx="165.6" cy="578.0" r="3.1"/><circle class="cw" cx="167.4" cy="534.0" r="2.8"/><circle class="cr" cx="161.1" cy="488.6" r="3.1"/><circle class="cr" cx="149.2" cy="535.0" r="3.1"/><circle class="cr" cx="181.7" cy="614.8" r="3.1"/><circle class="cw" cx="103.7" cy="615.1" r="2.8"/><circle class="cr" cx="182.7" cy="488.4" r="3.1"/><circle class="cr" cx="140.4" cy="597.4" r="3.1"/><circle class="cw" cx="133.5" cy="482.2" r="2.8"/><circle class="cr" cx="114.5" cy="616.9" r="3.1"/><circle class="cw" cx="75.1" cy="568.5" r="2.8"/><circle class="cr" cx="196.0" cy="509.5" r="3.1"/><circle class="cr" cx="110.3" cy="578.8" r="3.1"/><circle class="cr" cx="135.6" cy="499.6" r="3.1"/><circle class="cr" cx="112.4" cy="596.9" r="3.1"/><circle class="cw" cx="166.3" cy="531.5" r="2.8"/><circle class="cw" cx="160.9" cy="539.4" r="2.8"/><circle class="cw" cx="115.2" cy="557.5" r="2.8"/><circle class="cw" cx="64.2" cy="537.4" r="2.8"/><circle class="cr" cx="133.1" cy="598.9" r="3.1"/><circle class="cw" cx="94.3" cy="555.3" r="2.8"/><circle class="cw" cx="92.3" cy="571.3" r="2.8"/><circle class="cw" cx="162.5" cy="540.7" r="2.8"/><circle class="cw" cx="150.9" cy="502.2" r="2.8"/><circle class="cr" cx="80.6" cy="539.0" r="3.1"/><circle class="cr" cx="68.5" cy="580.6" r="3.1"/><circle class="cr" cx="115.5" cy="490.1" r="3.1"/><circle class="cw" cx="203.1" cy="553.9" r="2.8"/><circle class="cr" cx="183.5" cy="513.6" r="3.1"/><circle class="cw" cx="114.5" cy="608.9" r="2.8"/><circle class="cw" cx="124.0" cy="550.7" r="2.8"/><circle class="cr" cx="129.4" cy="586.1" r="3.1"/><circle class="cw" cx="63.9" cy="547.5" r="2.8"/><circle class="cr" cx="111.4" cy="596.5" r="3.1"/><circle class="cw" cx="82.5" cy="570.0" r="2.8"/><circle class="cw" cx="204.7" cy="529.5" r="2.8"/><circle class="cr" cx="118.2" cy="500.8" r="3.1"/><circle class="cw" cx="185.3" cy="553.2" r="2.8"/><circle class="cw" cx="143.1" cy="486.1" r="2.8"/><circle class="cw" cx="74.6" cy="555.8" r="2.8"/><circle class="cw" cx="92.8" cy="597.0" r="2.8"/><circle class="cw" cx="82.5" cy="492.5" r="2.8"/><circle class="cw" cx="85.4" cy="581.7" r="2.8"/><circle class="cw" cx="202.2" cy="534.2" r="2.8"/><circle class="cr" cx="180.2" cy="571.0" r="3.1"/><circle class="cr" cx="93.2" cy="611.6" r="3.1"/><circle class="cw" cx="140.6" cy="545.3" r="2.8"/><circle class="cw" cx="159.1" cy="617.3" r="2.8"/><circle class="cw" cx="215.9" cy="601.5" r="2.8"/><circle class="cr" cx="107.4" cy="502.7" r="3.1"/><circle class="cr" cx="145.5" cy="608.3" r="3.1"/><circle class="cw" cx="92.7" cy="601.9" r="2.8"/><circle class="cw" cx="196.7" cy="618.7" r="2.8"/><circle class="cw" cx="98.6" cy="564.2" r="2.8"/><circle class="cw" cx="122.6" cy="571.1" r="2.8"/><circle class="cw" cx="166.2" cy="624.5" r="2.8"/><circle class="cw" cx="113.4" cy="626.5" r="2.8"/><circle class="cw" cx="163.0" cy="548.7" r="2.8"/><circle class="cr" cx="111.2" cy="612.8" r="3.1"/><circle class="cr" cx="101.5" cy="616.5" r="3.1"/><circle class="cr" cx="105.5" cy="538.4" r="3.1"/><circle class="cr" cx="138.0" cy="590.1" r="3.1"/><circle class="cw" cx="174.0" cy="569.5" r="2.8"/><circle class="cr" cx="146.8" cy="615.7" r="3.1"/><circle class="cr" cx="136.1" cy="502.6" r="3.1"/><circle class="cr" cx="114.7" cy="521.0" r="3.1"/><circle class="cw" cx="213.3" cy="554.2" r="2.8"/><circle class="cr" cx="157.9" cy="498.1" r="3.1"/><circle class="cw" cx="95.9" cy="554.7" r="2.8"/><circle class="cr" cx="78.3" cy="544.2" r="3.1"/><circle class="cr" cx="168.6" cy="609.2" r="3.1"/><circle class="cr" cx="116.0" cy="620.4" r="3.1"/><circle class="cw" cx="208.3" cy="595.7" r="2.8"/><circle class="cw" cx="129.1" cy="568.9" r="2.8"/><circle class="cw" cx="153.9" cy="605.0" r="2.8"/><circle class="cw" cx="200.0" cy="516.9" r="2.8"/><circle class="cr" cx="151.6" cy="539.7" r="3.1"/><circle class="cw" cx="132.2" cy="611.6" r="2.8"/><circle class="cw" cx="164.6" cy="505.1" r="2.8"/><circle class="cr" cx="163.0" cy="580.3" r="3.1"/><circle class="cr" cx="96.4" cy="631.8" r="3.1"/><circle class="cw" cx="102.4" cy="608.5" r="2.8"/><circle class="cr" cx="182.8" cy="595.6" r="3.1"/><circle class="cr" cx="115.7" cy="512.5" r="3.1"/><circle class="cw" cx="173.9" cy="492.1" r="2.8"/><circle class="cw" cx="127.2" cy="487.9" r="2.8"/><circle class="cr" cx="106.6" cy="575.4" r="3.1"/><circle class="cr" cx="199.7" cy="555.4" r="3.1"/><circle class="cw" cx="152.5" cy="618.7" r="2.8"/><circle class="cw" cx="113.5" cy="592.2" r="2.8"/><circle class="cw" cx="177.3" cy="615.0" r="2.8"/><circle class="cr" cx="105.2" cy="600.1" r="3.1"/><circle class="cw" cx="206.4" cy="570.8" r="2.8"/><circle class="cr" cx="175.3" cy="609.4" r="3.1"/><circle class="cw" cx="115.2" cy="627.3" r="2.8"/><circle class="cw" cx="137.4" cy="640.5" r="2.8"/><circle class="cw" cx="163.8" cy="519.9" r="2.8"/><circle class="cw" cx="53.4" cy="547.7" r="2.8"/><circle class="cw" cx="71.5" cy="579.7" r="2.8"/><circle class="cw" cx="220.5" cy="570.8" r="2.8"/><circle class="cr" cx="85.9" cy="579.6" r="3.1"/><circle class="cw" cx="169.3" cy="608.6" r="2.8"/><circle class="cr" cx="92.2" cy="509.1" r="3.1"/><circle class="cw" cx="212.9" cy="544.9" r="2.8"/><circle class="cr" cx="207.1" cy="522.9" r="3.1"/><circle class="cw" cx="182.9" cy="506.3" r="2.8"/><circle class="cw" cx="99.7" cy="518.4" r="2.8"/><circle class="cw" cx="128.1" cy="528.8" r="2.8"/><circle class="cw" cx="148.5" cy="485.3" r="2.8"/><circle class="cw" cx="198.0" cy="551.5" r="2.8"/><circle class="cr" cx="103.3" cy="531.7" r="3.1"/><circle class="cr" cx="145.8" cy="598.8" r="3.1"/><circle class="cr" cx="63.6" cy="543.3" r="3.1"/><circle class="cw" cx="114.9" cy="508.1" r="2.8"/><circle class="cr" cx="133.5" cy="487.5" r="3.1"/><circle class="cw" cx="124.5" cy="533.0" r="2.8"/><circle class="cw" cx="77.2" cy="538.2" r="2.8"/><circle class="cr" cx="165.2" cy="597.6" r="3.1"/><circle class="cr" cx="80.6" cy="544.4" r="3.1"/><circle class="cr" cx="98.1" cy="529.5" r="3.1"/><circle class="cw" cx="73.0" cy="603.2" r="2.8"/><circle class="cr" cx="179.3" cy="485.7" r="3.1"/><circle class="cw" cx="93.8" cy="483.7" r="2.8"/><circle class="cr" cx="53.1" cy="573.9" r="3.1"/><circle class="cr" cx="172.7" cy="546.8" r="3.1"/><circle class="cr" cx="148.8" cy="606.7" r="3.1"/><circle class="cw" cx="67.8" cy="607.1" r="2.8"/><circle class="cw" cx="180.2" cy="530.0" r="2.8"/><circle class="cr" cx="180.9" cy="485.7" r="3.1"/><circle class="cw" cx="103.8" cy="485.7" r="2.8"/><circle class="cr" cx="171.9" cy="556.6" r="3.1"/><circle class="cr" cx="67.3" cy="541.2" r="3.1"/><circle class="cr" cx="71.0" cy="553.8" r="3.1"/><circle class="cr" cx="110.0" cy="539.5" r="3.1"/><circle class="cw" cx="116.7" cy="481.3" r="2.8"/><circle class="cw" cx="112.9" cy="519.2" r="2.8"/><circle class="cw" cx="162.8" cy="513.5" r="2.8"/><circle class="cr" cx="70.9" cy="541.6" r="3.1"/><circle class="cr" cx="202.5" cy="515.8" r="3.1"/><circle class="cw" cx="68.3" cy="584.7" r="2.8"/><circle class="cr" cx="111.6" cy="486.2" r="3.1"/><circle class="cw" cx="73.0" cy="617.3" r="2.8"/><circle class="cr" cx="121.9" cy="541.5" r="3.1"/><circle class="cw" cx="218.1" cy="603.2" r="2.8"/><circle class="cr" cx="135.7" cy="566.7" r="3.1"/><circle class="cw" cx="160.5" cy="518.7" r="2.8"/><circle class="cw" cx="188.8" cy="548.2" r="2.8"/><circle class="cw" cx="133.1" cy="559.9" r="2.8"/><circle class="cw" cx="120.5" cy="530.4" r="2.8"/><circle class="cw" cx="194.5" cy="548.1" r="2.8"/><circle class="cw" cx="145.3" cy="493.5" r="2.8"/><circle class="cw" cx="128.1" cy="594.4" r="2.8"/><circle class="cr" cx="90.5" cy="590.8" r="3.1"/><circle class="cr" cx="128.7" cy="502.4" r="3.1"/><circle class="cw" cx="86.5" cy="579.6" r="2.8"/><circle class="cr" cx="122.4" cy="613.3" r="3.1"/><circle class="cr" cx="91.2" cy="516.5" r="3.1"/><circle class="cw" cx="111.5" cy="503.9" r="2.8"/><circle class="cw" cx="140.2" cy="622.7" r="2.8"/><circle class="cw" cx="148.7" cy="510.2" r="2.8"/><circle class="cr" cx="86.1" cy="593.6" r="3.1"/><circle class="cr" cx="179.6" cy="504.7" r="3.1"/><circle class="cw" cx="64.8" cy="515.3" r="2.8"/><circle class="cw" cx="205.6" cy="596.1" r="2.8"/><circle class="cw" cx="150.8" cy="604.9" r="2.8"/><circle class="cw" cx="122.7" cy="622.3" r="2.8"/><circle class="cw" cx="176.6" cy="609.9" r="2.8"/><circle class="cw" cx="121.8" cy="620.5" r="2.8"/><circle class="cw" cx="76.9" cy="510.8" r="2.8"/><circle class="cr" cx="167.0" cy="487.7" r="3.1"/><circle class="cw" cx="169.2" cy="635.9" r="2.8"/><circle class="cr" cx="91.2" cy="582.4" r="3.1"/><circle class="cr" cx="100.8" cy="533.5" r="3.1"/><circle class="cr" cx="68.2" cy="575.6" r="3.1"/><circle class="cr" cx="65.6" cy="587.1" r="3.1"/><circle class="cr" cx="164.9" cy="557.5" r="3.1"/><circle class="cr" cx="217.0" cy="593.0" r="3.1"/><circle class="cr" cx="175.3" cy="503.0" r="3.1"/><circle class="cr" cx="205.0" cy="590.2" r="3.1"/><circle class="cw" cx="54.8" cy="562.6" r="2.8"/><circle class="cw" cx="78.5" cy="535.2" r="2.8"/><circle class="cw" cx="139.9" cy="544.4" r="2.8"/><circle class="cw" cx="74.4" cy="575.3" r="2.8"/><circle class="cw" cx="69.5" cy="560.2" r="2.8"/><circle class="cr" cx="85.5" cy="617.9" r="3.1"/><circle class="cw" cx="157.2" cy="587.1" r="2.8"/><circle class="cw" cx="153.1" cy="498.4" r="2.8"/><circle class="cr" cx="57.6" cy="556.2" r="3.1"/><circle class="cw" cx="89.9" cy="572.4" r="2.8"/><circle class="cr" cx="141.5" cy="618.4" r="3.1"/><circle class="cr" cx="84.9" cy="584.5" r="3.1"/><circle class="cr" cx="62.8" cy="610.2" r="3.1"/><circle class="cw" cx="152.3" cy="538.0" r="2.8"/><circle class="cw" cx="74.3" cy="611.6" r="2.8"/><circle class="cr" cx="155.9" cy="577.0" r="3.1"/><circle class="cw" cx="178.2" cy="620.3" r="2.8"/><circle class="cw" cx="81.1" cy="584.1" r="2.8"/><circle class="cr" cx="138.4" cy="570.3" r="3.1"/><circle class="cw" cx="209.4" cy="549.6" r="2.8"/><circle class="cw" cx="159.5" cy="510.4" r="2.8"/><circle class="cr" cx="137.1" cy="503.9" r="3.1"/><circle class="cr" cx="82.4" cy="623.3" r="3.1"/><circle class="cw" cx="127.4" cy="547.3" r="2.8"/><circle class="cw" cx="57.0" cy="546.4" r="2.8"/><circle class="cr" cx="133.1" cy="582.0" r="3.1"/><circle class="cr" cx="161.1" cy="495.5" r="3.1"/><circle class="cw" cx="103.4" cy="484.0" r="2.8"/><circle class="cw" cx="194.8" cy="588.9" r="2.8"/><circle class="cw" cx="128.9" cy="566.5" r="2.8"/><circle class="cr" cx="145.9" cy="547.5" r="3.1"/><circle class="cr" cx="200.6" cy="542.1" r="3.1"/><circle class="cw" cx="152.4" cy="630.2" r="2.8"/><circle class="cw" cx="115.9" cy="617.5" r="2.8"/><circle class="cr" cx="197.9" cy="528.8" r="3.1"/><circle class="cr" cx="142.0" cy="578.8" r="3.1"/><circle class="cr" cx="212.0" cy="551.7" r="3.1"/><circle class="cr" cx="165.2" cy="518.4" r="3.1"/><circle class="cr" cx="118.0" cy="624.1" r="3.1"/><circle class="cw" cx="67.2" cy="599.9" r="2.8"/><circle class="cw" cx="210.6" cy="611.7" r="2.8"/><circle class="cr" cx="196.6" cy="524.4" r="3.1"/><circle class="cw" cx="144.1" cy="491.5" r="2.8"/><circle class="cw" cx="87.7" cy="496.9" r="2.8"/><circle class="cw" cx="129.2" cy="643.2" r="2.8"/><circle class="cr" cx="140.8" cy="524.8" r="3.1"/><circle class="cw" cx="129.4" cy="521.7" r="2.8"/><circle class="cw" cx="91.7" cy="609.7" r="2.8"/><circle class="cw" cx="128.9" cy="579.6" r="2.8"/><circle class="cw" cx="140.2" cy="557.7" r="2.8"/><circle class="cw" cx="77.2" cy="568.8" r="2.8"/><circle class="cw" cx="149.3" cy="628.6" r="2.8"/><circle class="cw" cx="200.4" cy="538.7" r="2.8"/><circle class="cw" cx="182.5" cy="581.3" r="2.8"/><circle class="cw" cx="176.6" cy="557.4" r="2.8"/><circle class="cr" cx="176.6" cy="489.9" r="3.1"/><circle class="cr" cx="196.7" cy="605.6" r="3.1"/><circle class="cw" cx="161.8" cy="563.9" r="2.8"/><circle class="cw" cx="149.3" cy="499.9" r="2.8"/><circle class="cw" cx="133.5" cy="559.0" r="2.8"/><circle class="cw" cx="125.3" cy="480.1" r="2.8"/><circle class="cw" cx="160.1" cy="559.6" r="2.8"/><circle class="cw" cx="166.9" cy="616.7" r="2.8"/><circle class="cw" cx="152.7" cy="516.5" r="2.8"/><circle class="cw" cx="153.9" cy="511.0" r="2.8"/><circle class="cr" cx="105.7" cy="586.5" r="3.1"/><circle class="cw" cx="139.5" cy="629.9" r="2.8"/><circle class="cw" cx="123.5" cy="481.8" r="2.8"/><circle class="cw" cx="152.5" cy="602.7" r="2.8"/><circle class="cr" cx="142.2" cy="569.5" r="3.1"/><circle class="cr" cx="192.5" cy="598.4" r="3.1"/><circle class="cr" cx="126.0" cy="634.2" r="3.1"/><circle class="cw" cx="99.4" cy="599.7" r="2.8"/><circle class="cr" cx="75.5" cy="606.1" r="3.1"/><circle class="cr" cx="101.5" cy="529.2" r="3.1"/><circle class="cw" cx="194.0" cy="497.5" r="2.8"/><circle class="cw" cx="224.3" cy="575.7" r="2.8"/><circle class="cw" cx="124.5" cy="527.2" r="2.8"/><circle class="cr" cx="119.1" cy="605.2" r="3.1"/><circle class="cw" cx="167.8" cy="528.8" r="2.8"/><circle class="cw" cx="129.7" cy="520.3" r="2.8"/><circle class="cr" cx="126.2" cy="534.1" r="3.1"/><circle class="cw" cx="63.2" cy="555.1" r="2.8"/><circle class="cr" cx="187.7" cy="526.2" r="3.1"/><circle class="cr" cx="173.0" cy="570.5" r="3.1"/><circle class="cw" cx="196.0" cy="602.6" r="2.8"/><circle class="cr" cx="163.2" cy="495.4" r="3.1"/><circle class="cw" cx="95.9" cy="553.5" r="2.8"/><circle class="cw" cx="76.3" cy="515.1" r="2.8"/><circle class="cr" cx="111.7" cy="522.9" r="3.1"/><circle class="cw" cx="106.0" cy="604.8" r="2.8"/><circle class="cr" cx="78.8" cy="563.3" r="3.1"/><circle class="cr" cx="127.1" cy="549.9" r="3.1"/><circle class="cr" cx="96.7" cy="572.5" r="3.1"/><circle class="cw" cx="67.8" cy="609.7" r="2.8"/><circle class="cw" cx="67.3" cy="536.8" r="2.8"/><circle class="cw" cx="153.1" cy="588.7" r="2.8"/><circle class="cw" cx="193.3" cy="564.8" r="2.8"/><circle class="cw" cx="125.8" cy="483.0" r="2.8"/><circle class="cr" cx="171.9" cy="576.9" r="3.1"/><circle class="cw" cx="150.6" cy="630.7" r="2.8"/><circle class="cw" cx="197.2" cy="503.1" r="2.8"/><circle class="cr" cx="88.0" cy="578.3" r="3.1"/><circle class="cw" cx="198.1" cy="505.0" r="2.8"/><circle class="cw" cx="56.9" cy="602.1" r="2.8"/><circle class="cr" cx="196.8" cy="533.0" r="3.1"/><circle class="cr" cx="155.0" cy="495.1" r="3.1"/><circle class="cr" cx="115.4" cy="621.0" r="3.1"/><circle class="cr" cx="203.6" cy="611.7" r="3.1"/><circle class="cw" cx="93.1" cy="507.9" r="2.8"/><circle class="cw" cx="112.6" cy="632.7" r="2.8"/><circle class="cr" cx="171.1" cy="559.1" r="3.1"/><circle class="cw" cx="115.2" cy="581.1" r="2.8"/><circle class="cw" cx="61.0" cy="566.1" r="2.8"/><circle class="cw" cx="182.3" cy="618.7" r="2.8"/><circle class="cw" cx="81.9" cy="602.3" r="2.8"/><circle class="cw" cx="84.2" cy="539.4" r="2.8"/><circle class="cw" cx="107.0" cy="631.7" r="2.8"/><circle class="cw" cx="215.5" cy="553.2" r="2.8"/><circle class="cw" cx="154.4" cy="542.8" r="2.8"/><circle class="cw" cx="221.7" cy="594.9" r="2.8"/><circle class="cw" cx="146.2" cy="502.0" r="2.8"/><circle class="cw" cx="144.6" cy="569.3" r="2.8"/><circle class="cw" cx="154.4" cy="628.8" r="2.8"/><circle class="cw" cx="86.9" cy="611.8" r="2.8"/><circle class="cr" cx="187.4" cy="492.8" r="3.1"/><circle class="cw" cx="60.5" cy="578.1" r="2.8"/><circle class="cw" cx="189.8" cy="578.5" r="2.8"/><circle class="cw" cx="81.1" cy="568.1" r="2.8"/><circle class="cr" cx="137.1" cy="597.6" r="3.1"/><circle class="cr" cx="148.3" cy="484.5" r="3.1"/><circle class="cw" cx="176.9" cy="618.9" r="2.8"/><circle class="cw" cx="162.2" cy="489.7" r="2.8"/><circle class="cw" cx="137.0" cy="591.8" r="2.8"/><circle class="cw" cx="60.4" cy="546.2" r="2.8"/><circle class="cw" cx="115.8" cy="637.7" r="2.8"/><circle class="cr" cx="64.4" cy="594.7" r="3.1"/><circle class="cw" cx="185.5" cy="496.2" r="2.8"/><circle class="cw" cx="83.7" cy="611.0" r="2.8"/><circle class="cr" cx="151.4" cy="575.1" r="3.1"/><circle class="cr" cx="123.0" cy="519.2" r="3.1"/><circle class="cw" cx="203.4" cy="556.8" r="2.8"/><circle class="cw" cx="140.4" cy="490.1" r="2.8"/><circle class="cw" cx="206.8" cy="576.4" r="2.8"/><circle class="cr" cx="105.6" cy="581.5" r="3.1"/><circle class="cw" cx="141.5" cy="515.6" r="2.8"/><circle class="cr" cx="76.9" cy="600.8" r="3.1"/><circle class="cr" cx="93.5" cy="529.8" r="3.1"/><circle class="cw" cx="90.7" cy="626.1" r="2.8"/><circle class="cw" cx="117.0" cy="616.6" r="2.8"/><circle class="cw" cx="166.4" cy="517.1" r="2.8"/><circle class="cw" cx="161.2" cy="568.1" r="2.8"/><circle class="cw" cx="123.7" cy="611.3" r="2.8"/><circle class="cw" cx="130.9" cy="584.4" r="2.8"/><circle class="cr" cx="204.0" cy="614.4" r="3.1"/><circle class="cr" cx="168.3" cy="497.5" r="3.1"/><circle class="cw" cx="184.1" cy="551.4" r="2.8"/><circle class="cr" cx="135.7" cy="610.2" r="3.1"/><circle class="cw" cx="140.9" cy="530.8" r="2.8"/><circle class="cw" cx="111.6" cy="640.9" r="2.8"/><circle class="cw" cx="122.4" cy="569.3" r="2.8"/><circle class="cr" cx="179.3" cy="612.7" r="3.1"/><circle class="cw" cx="138.9" cy="635.4" r="2.8"/><circle class="cr" cx="118.8" cy="616.5" r="3.1"/><circle class="cr" cx="173.0" cy="499.5" r="3.1"/><circle class="cw" cx="120.4" cy="592.0" r="2.8"/><circle class="cw" cx="171.6" cy="623.3" r="2.8"/><circle class="cw" cx="102.7" cy="508.5" r="2.8"/><circle class="cw" cx="77.3" cy="623.6" r="2.8"/><circle class="cw" cx="84.1" cy="522.8" r="2.8"/><circle class="cw" cx="115.6" cy="595.7" r="2.8"/><circle class="cr" cx="75.2" cy="596.4" r="3.1"/><circle class="cr" cx="124.4" cy="493.2" r="3.1"/><circle class="cr" cx="176.0" cy="534.6" r="3.1"/><circle class="cw" cx="136.9" cy="513.1" r="2.8"/><circle class="cw" cx="177.0" cy="590.3" r="2.8"/><circle class="cr" cx="179.5" cy="634.2" r="3.1"/><circle class="cw" cx="58.5" cy="543.4" r="2.8"/><circle class="cw" cx="182.8" cy="584.7" r="2.8"/><circle class="cr" cx="200.0" cy="541.2" r="3.1"/><circle class="cr" cx="134.3" cy="536.6" r="3.1"/><circle class="cw" cx="130.0" cy="604.2" r="2.8"/><circle class="cr" cx="110.9" cy="522.0" r="3.1"/><circle class="cw" cx="76.4" cy="560.6" r="2.8"/><circle class="cw" cx="165.8" cy="625.3" r="2.8"/><circle class="cr" cx="74.3" cy="599.9" r="3.1"/><circle class="cr" cx="179.7" cy="613.2" r="3.1"/><circle class="cr" cx="61.0" cy="579.0" r="3.1"/><circle class="cw" cx="149.2" cy="576.4" r="2.8"/><circle class="cw" cx="105.9" cy="609.3" r="2.8"/><circle class="cr" cx="99.8" cy="521.8" r="3.1"/><circle class="cw" cx="93.9" cy="631.5" r="2.8"/><circle class="cw" cx="73.2" cy="561.9" r="2.8"/><circle class="cw" cx="78.0" cy="572.7" r="2.8"/><circle class="cw" cx="136.1" cy="547.6" r="2.8"/><circle class="cr" cx="106.8" cy="506.4" r="3.1"/><circle class="cr" cx="210.1" cy="562.8" r="3.1"/><circle class="cw" cx="71.8" cy="571.8" r="2.8"/><circle class="cr" cx="134.0" cy="492.1" r="3.1"/><circle class="cw" cx="86.4" cy="612.6" r="2.8"/><circle class="cr" cx="134.5" cy="601.9" r="3.1"/><circle class="cr" cx="213.0" cy="607.5" r="3.1"/><circle class="cw" cx="170.2" cy="508.7" r="2.8"/><circle class="cr" cx="104.6" cy="544.4" r="3.1"/><circle class="cr" cx="176.3" cy="572.0" r="3.1"/><circle class="cw" cx="173.1" cy="584.4" r="2.8"/><circle class="cw" cx="95.4" cy="594.4" r="2.8"/><circle class="cw" cx="146.4" cy="511.8" r="2.8"/><circle class="cw" cx="90.3" cy="553.2" r="2.8"/><circle class="cw" cx="154.2" cy="517.1" r="2.8"/><circle class="cw" cx="130.8" cy="524.1" r="2.8"/><circle class="cw" cx="112.1" cy="494.2" r="2.8"/><circle class="cr" cx="99.6" cy="506.6" r="3.1"/><circle class="cw" cx="217.0" cy="574.2" r="2.8"/><circle class="cw" cx="221.0" cy="572.6" r="2.8"/><circle class="cw" cx="111.5" cy="512.6" r="2.8"/><circle class="cr" cx="127.2" cy="494.6" r="3.1"/><circle class="cw" cx="59.1" cy="522.1" r="2.8"/><circle class="cw" cx="176.6" cy="581.6" r="2.8"/><circle class="cw" cx="111.8" cy="538.5" r="2.8"/><circle class="cw" cx="199.2" cy="604.5" r="2.8"/><circle class="cw" cx="108.4" cy="510.6" r="2.8"/><circle class="cw" cx="93.5" cy="551.0" r="2.8"/><circle class="cw" cx="76.5" cy="562.8" r="2.8"/><circle class="cr" cx="169.9" cy="563.6" r="3.1"/><circle class="cw" cx="60.8" cy="598.6" r="2.8"/><circle class="cr" cx="138.6" cy="495.1" r="3.1"/><circle class="cw" cx="216.1" cy="569.4" r="2.8"/><circle class="cr" cx="155.6" cy="519.5" r="3.1"/><circle class="cw" cx="151.2" cy="610.0" r="2.8"/><circle class="cw" cx="137.1" cy="640.1" r="2.8"/><circle class="cw" cx="209.3" cy="541.7" r="2.8"/><circle class="cw" cx="157.4" cy="634.1" r="2.8"/><circle class="cw" cx="100.0" cy="591.2" r="2.8"/><circle class="cw" cx="85.4" cy="609.2" r="2.8"/><circle class="cr" cx="102.9" cy="622.3" r="3.1"/><circle class="cw" cx="148.8" cy="521.4" r="2.8"/><circle class="cr" cx="83.6" cy="529.6" r="3.1"/><circle class="cr" cx="136.0" cy="510.5" r="3.1"/><circle class="cr" cx="87.2" cy="573.1" r="3.1"/><circle class="cw" cx="123.7" cy="508.6" r="2.8"/><circle class="cw" cx="133.8" cy="612.9" r="2.8"/><circle class="cr" cx="80.7" cy="500.1" r="3.1"/><circle class="cr" cx="120.3" cy="636.5" r="3.1"/><circle class="cw" cx="108.9" cy="566.3" r="2.8"/><circle class="cr" cx="155.0" cy="492.2" r="3.1"/><circle class="cr" cx="100.3" cy="599.2" r="3.1"/><circle class="cw" cx="55.2" cy="595.5" r="2.8"/><circle class="cw" cx="144.1" cy="617.5" r="2.8"/><circle class="cw" cx="216.8" cy="548.5" r="2.8"/><circle class="cw" cx="150.3" cy="617.3" r="2.8"/><circle class="cr" cx="76.1" cy="590.9" r="3.1"/><circle class="cw" cx="69.3" cy="576.0" r="2.8"/><circle class="cr" cx="167.5" cy="614.6" r="3.1"/><circle class="cw" cx="162.8" cy="598.2" r="2.8"/><circle class="cr" cx="74.9" cy="552.7" r="3.1"/><circle class="cw" cx="105.0" cy="552.6" r="2.8"/><circle class="cw" cx="162.6" cy="532.4" r="2.8"/><circle class="cw" cx="75.6" cy="533.8" r="2.8"/><circle class="cr" cx="135.7" cy="576.3" r="3.1"/><circle class="cw" cx="59.4" cy="538.9" r="2.8"/><circle class="cw" cx="130.5" cy="562.9" r="2.8"/><circle class="cw" cx="161.2" cy="561.5" r="2.8"/><circle class="cr" cx="101.6" cy="535.6" r="3.1"/><circle class="cr" cx="180.6" cy="522.6" r="3.1"/><circle class="cr" cx="117.3" cy="518.6" r="3.1"/><circle class="cw" cx="194.1" cy="626.7" r="2.8"/><circle class="cr" cx="92.8" cy="616.7" r="3.1"/><circle class="cw" cx="137.5" cy="595.1" r="2.8"/><circle class="cw" cx="59.5" cy="548.7" r="2.8"/><circle class="cw" cx="102.0" cy="542.7" r="2.8"/><circle class="cw" cx="138.7" cy="640.3" r="2.8"/><circle class="cw" cx="129.5" cy="562.9" r="2.8"/><circle class="cw" cx="214.5" cy="573.0" r="2.8"/><circle class="cw" cx="204.8" cy="563.8" r="2.8"/><circle class="cw" cx="205.6" cy="616.3" r="2.8"/><circle class="cr" cx="159.6" cy="492.2" r="3.1"/><circle class="cw" cx="107.9" cy="636.8" r="2.8"/><circle class="cw" cx="158.3" cy="591.7" r="2.8"/><circle class="cr" cx="108.0" cy="588.0" r="3.1"/><circle class="cr" cx="179.3" cy="553.8" r="3.1"/><circle class="cw" cx="183.7" cy="520.2" r="2.8"/><circle class="cr" cx="104.6" cy="495.4" r="3.1"/><circle class="cw" cx="175.8" cy="523.9" r="2.8"/><circle class="cw" cx="151.2" cy="500.6" r="2.8"/><circle class="cw" cx="82.1" cy="614.1" r="2.8"/><circle class="cr" cx="80.3" cy="526.6" r="3.1"/><circle class="cw" cx="125.4" cy="523.7" r="2.8"/><circle class="cw" cx="110.3" cy="501.8" r="2.8"/><circle class="cw" cx="158.6" cy="517.6" r="2.8"/><circle class="cr" cx="158.8" cy="517.4" r="3.1"/><circle class="cw" cx="180.2" cy="625.8" r="2.8"/><circle class="cr" cx="117.1" cy="527.7" r="3.1"/><circle class="cr" cx="123.6" cy="506.8" r="3.1"/><circle class="cr" cx="177.1" cy="511.7" r="3.1"/><circle class="cr" cx="181.3" cy="541.6" r="3.1"/><circle class="cw" cx="141.6" cy="635.3" r="2.8"/><circle class="cw" cx="125.0" cy="623.9" r="2.8"/><circle class="cw" cx="70.1" cy="521.9" r="2.8"/><circle class="cr" cx="221.0" cy="589.6" r="3.1"/><circle class="cw" cx="123.6" cy="607.1" r="2.8"/><circle class="cw" cx="219.8" cy="593.9" r="2.8"/><circle class="cw" cx="178.3" cy="582.2" r="2.8"/><circle class="cr" cx="176.1" cy="493.4" r="3.1"/><circle class="cr" cx="178.4" cy="574.7" r="3.1"/><circle class="cw" cx="194.0" cy="598.6" r="2.8"/><circle class="cr" cx="127.2" cy="542.7" r="3.1"/><circle class="cw" cx="163.4" cy="522.1" r="2.8"/><circle class="cw" cx="89.8" cy="535.8" r="2.8"/><circle class="cr" cx="204.5" cy="582.6" r="3.1"/><circle class="cr" cx="152.9" cy="607.1" r="3.1"/><circle class="cw" cx="195.8" cy="562.2" r="2.8"/><circle class="cw" cx="103.9" cy="572.1" r="2.8"/><circle class="cr" cx="85.6" cy="589.8" r="3.1"/><circle class="cr" cx="112.4" cy="621.4" r="3.1"/><circle class="cr" cx="79.0" cy="526.6" r="3.1"/><circle class="cw" cx="117.9" cy="636.7" r="2.8"/><circle class="cr" cx="73.6" cy="549.2" r="3.1"/><circle class="cr" cx="184.3" cy="503.5" r="3.1"/><circle class="cr" cx="183.8" cy="533.7" r="3.1"/><circle class="cw" cx="73.7" cy="603.3" r="2.8"/><circle class="cr" cx="172.1" cy="575.8" r="3.1"/><circle class="cr" cx="106.8" cy="602.2" r="3.1"/><circle class="cr" cx="137.4" cy="526.9" r="3.1"/><circle class="cr" cx="180.5" cy="505.6" r="3.1"/><circle class="cr" cx="173.2" cy="522.6" r="3.1"/><circle class="cr" cx="149.2" cy="592.6" r="3.1"/><circle class="cr" cx="90.8" cy="486.7" r="3.1"/><circle class="cw" cx="130.8" cy="494.5" r="2.8"/><circle class="cr" cx="85.0" cy="535.2" r="3.1"/><circle class="cw" cx="194.2" cy="601.3" r="2.8"/><circle class="cr" cx="168.4" cy="491.7" r="3.1"/><circle class="cw" cx="201.6" cy="623.5" r="2.8"/><circle class="cw" cx="190.4" cy="586.9" r="2.8"/><circle class="cr" cx="136.9" cy="589.1" r="3.1"/><circle class="cr" cx="178.0" cy="576.3" r="3.1"/><circle class="cr" cx="154.4" cy="492.2" r="3.1"/><circle class="cr" cx="173.1" cy="601.6" r="3.1"/><circle class="cw" cx="180.4" cy="489.8" r="2.8"/><circle class="cw" cx="89.9" cy="557.8" r="2.8"/><circle class="cw" cx="122.0" cy="528.4" r="2.8"/><circle class="cr" cx="151.5" cy="597.3" r="3.1"/><circle class="cw" cx="182.2" cy="554.5" r="2.8"/><circle class="cw" cx="215.0" cy="582.3" r="2.8"/><circle class="cw" cx="127.2" cy="547.9" r="2.8"/><circle class="cw" cx="136.2" cy="612.5" r="2.8"/><circle class="cw" cx="147.3" cy="584.0" r="2.8"/><circle class="cw" cx="173.8" cy="483.5" r="2.8"/><circle class="cw" cx="140.0" cy="537.7" r="2.8"/><circle class="cw" cx="78.4" cy="604.3" r="2.8"/><circle class="cr" cx="179.0" cy="571.8" r="3.1"/><circle class="cr" cx="100.4" cy="517.8" r="3.1"/><circle class="cw" cx="122.4" cy="583.3" r="2.8"/><circle class="cr" cx="171.3" cy="503.6" r="3.1"/><circle class="cr" cx="135.6" cy="527.7" r="3.1"/><circle class="cw" cx="157.7" cy="580.2" r="2.8"/><circle class="cr" cx="109.6" cy="627.4" r="3.1"/><circle class="cw" cx="96.7" cy="529.8" r="2.8"/><circle class="cr" cx="105.6" cy="523.0" r="3.1"/><circle class="cw" cx="127.2" cy="484.4" r="2.8"/><circle class="cw" cx="191.0" cy="571.5" r="2.8"/><circle class="cw" cx="113.5" cy="542.3" r="2.8"/><circle class="cw" cx="214.8" cy="548.9" r="2.8"/><circle class="cr" cx="130.6" cy="506.0" r="3.1"/><circle class="cw" cx="111.4" cy="591.0" r="2.8"/><circle class="cw" cx="171.2" cy="583.4" r="2.8"/><circle class="cr" cx="131.2" cy="546.9" r="3.1"/><circle class="cw" cx="173.8" cy="483.6" r="2.8"/><circle class="cw" cx="86.7" cy="613.3" r="2.8"/><circle class="cw" cx="76.4" cy="608.7" r="2.8"/><circle class="cr" cx="68.0" cy="605.1" r="3.1"/><circle class="cw" cx="55.2" cy="543.9" r="2.8"/><circle class="cw" cx="203.9" cy="605.7" r="2.8"/><circle class="cw" cx="178.4" cy="553.7" r="2.8"/><circle class="cw" cx="81.6" cy="608.7" r="2.8"/><circle class="cw" cx="156.9" cy="520.0" r="2.8"/><circle class="cw" cx="172.7" cy="551.5" r="2.8"/><circle class="cw" cx="220.2" cy="575.3" r="2.8"/><circle class="cw" cx="166.2" cy="540.9" r="2.8"/><circle class="cr" cx="82.1" cy="530.3" r="3.1"/><circle class="cr" cx="155.0" cy="545.9" r="3.1"/><circle class="cr" cx="200.9" cy="608.1" r="3.1"/><circle class="cr" cx="100.3" cy="590.6" r="3.1"/><circle class="cw" cx="151.8" cy="508.2" r="2.8"/><circle class="cr" cx="64.3" cy="594.7" r="3.1"/><circle class="cw" cx="159.3" cy="596.2" r="2.8"/><circle class="cr" cx="109.5" cy="518.2" r="3.1"/><circle class="cr" cx="76.8" cy="528.2" r="3.1"/><circle class="cr" cx="72.3" cy="595.5" r="3.1"/><circle class="cr" cx="209.0" cy="555.7" r="3.1"/><circle class="cr" cx="63.1" cy="596.6" r="3.1"/><circle class="cw" cx="97.4" cy="566.7" r="2.8"/><circle class="cw" cx="160.4" cy="602.0" r="2.8"/><circle class="cw" cx="116.4" cy="562.4" r="2.8"/><circle class="cw" cx="107.7" cy="643.6" r="2.8"/><circle class="cw" cx="90.6" cy="592.9" r="2.8"/><circle class="cr" cx="194.5" cy="630.8" r="3.1"/><circle class="cw" cx="134.2" cy="500.3" r="2.8"/><circle class="cw" cx="206.3" cy="605.9" r="2.8"/><circle class="cw" cx="120.5" cy="518.3" r="2.8"/><circle class="cw" cx="137.1" cy="576.8" r="2.8"/><circle class="cr" cx="79.9" cy="597.8" r="3.1"/><circle class="cr" cx="75.2" cy="570.6" r="3.1"/><circle class="cw" cx="196.1" cy="618.9" r="2.8"/><circle class="cw" cx="174.6" cy="625.8" r="2.8"/><circle class="cw" cx="147.6" cy="597.4" r="2.8"/><circle class="cr" cx="172.4" cy="545.9" r="3.1"/><circle class="cw" cx="167.4" cy="544.5" r="2.8"/><circle class="cw" cx="89.1" cy="616.1" r="2.8"/><circle class="cw" cx="186.0" cy="580.3" r="2.8"/><circle class="cw" cx="108.3" cy="571.4" r="2.8"/><circle class="cw" cx="217.3" cy="572.7" r="2.8"/><circle class="cw" cx="161.9" cy="581.0" r="2.8"/><circle class="cw" cx="109.5" cy="558.2" r="2.8"/><circle class="cw" cx="165.5" cy="543.4" r="2.8"/><circle class="cr" cx="163.7" cy="527.1" r="3.1"/><circle class="cr" cx="166.9" cy="561.9" r="3.1"/><circle class="cw" cx="142.8" cy="518.0" r="2.8"/><circle class="cr" cx="127.0" cy="505.2" r="3.1"/><circle class="cr" cx="154.0" cy="561.1" r="3.1"/><circle class="cw" cx="145.3" cy="489.1" r="2.8"/><circle class="cr" cx="162.7" cy="492.4" r="3.1"/><circle class="cw" cx="204.2" cy="537.9" r="2.8"/><circle class="cw" cx="118.9" cy="503.9" r="2.8"/><circle class="cw" cx="184.0" cy="571.1" r="2.8"/><circle class="cw" cx="184.5" cy="587.1" r="2.8"/><circle class="cw" cx="141.1" cy="564.3" r="2.8"/><circle class="cw" cx="144.5" cy="552.5" r="2.8"/><circle class="cw" cx="164.5" cy="520.9" r="2.8"/><circle class="cr" cx="69.9" cy="553.2" r="3.1"/><circle class="cw" cx="160.0" cy="632.9" r="2.8"/><circle class="cw" cx="139.0" cy="585.8" r="2.8"/><circle class="cw" cx="165.2" cy="576.3" r="2.8"/><circle class="cr" cx="110.2" cy="591.4" r="3.1"/><circle class="cw" cx="209.1" cy="527.5" r="2.8"/><circle class="cw" cx="125.8" cy="575.8" r="2.8"/><circle class="cw" cx="106.8" cy="544.9" r="2.8"/><circle class="cr" cx="170.2" cy="603.3" r="3.1"/><circle class="cr" cx="63.1" cy="587.0" r="3.1"/><circle class="cw" cx="77.5" cy="541.4" r="2.8"/><circle class="cr" cx="179.2" cy="500.3" r="3.1"/><circle class="cw" cx="170.5" cy="620.2" r="2.8"/><circle class="cr" cx="147.4" cy="597.0" r="3.1"/><circle class="cr" cx="108.0" cy="603.8" r="3.1"/><circle class="cw" cx="195.4" cy="534.5" r="2.8"/><circle class="cw" cx="159.9" cy="487.3" r="2.8"/><circle class="cr" cx="116.0" cy="501.0" r="3.1"/><circle class="cw" cx="171.5" cy="531.3" r="2.8"/><circle class="cw" cx="96.9" cy="571.2" r="2.8"/><circle class="cw" cx="123.6" cy="584.5" r="2.8"/><circle class="cw" cx="170.7" cy="540.1" r="2.8"/><circle class="cw" cx="182.4" cy="591.9" r="2.8"/><circle class="cw" cx="122.6" cy="597.1" r="2.8"/><circle class="cw" cx="214.2" cy="562.2" r="2.8"/><circle class="cr" cx="190.6" cy="529.4" r="3.1"/><circle class="cw" cx="205.6" cy="523.1" r="2.8"/><circle class="cr" cx="185.9" cy="605.6" r="3.1"/><circle class="cr" cx="93.0" cy="614.6" r="3.1"/><circle class="cr" cx="98.9" cy="615.7" r="3.1"/><circle class="cw" cx="73.2" cy="521.1" r="2.8"/><circle class="cr" cx="139.6" cy="495.0" r="3.1"/><circle class="cr" cx="67.2" cy="582.5" r="3.1"/><circle class="cr" cx="127.5" cy="582.1" r="3.1"/><circle class="cw" cx="69.5" cy="514.9" r="2.8"/><circle class="cr" cx="67.1" cy="543.8" r="3.1"/><circle class="cw" cx="189.6" cy="495.0" r="2.8"/><circle class="cr" cx="156.2" cy="576.3" r="3.1"/><circle class="cw" cx="125.4" cy="612.2" r="2.8"/><circle class="cr" cx="150.2" cy="588.1" r="3.1"/><circle class="cw" cx="79.7" cy="558.7" r="2.8"/><circle class="cr" cx="168.0" cy="594.1" r="3.1"/><circle class="cw" cx="109.5" cy="614.2" r="2.8"/><circle class="cw" cx="198.3" cy="605.1" r="2.8"/><circle class="cr" cx="141.1" cy="642.1" r="3.1"/><circle class="cw" cx="78.5" cy="563.9" r="2.8"/><circle class="cr" cx="160.2" cy="613.1" r="3.1"/><circle class="cr" cx="165.8" cy="489.2" r="3.1"/><circle class="cw" cx="99.6" cy="633.8" r="2.8"/><circle class="cw" cx="152.4" cy="544.1" r="2.8"/><circle class="cr" cx="160.0" cy="539.8" r="3.1"/><circle class="cr" cx="110.7" cy="544.2" r="3.1"/><circle class="cr" cx="126.5" cy="635.1" r="3.1"/><circle class="cr" cx="52.9" cy="587.3" r="3.1"/><circle class="cr" cx="166.9" cy="567.0" r="3.1"/><circle class="cr" cx="132.0" cy="506.8" r="3.1"/><circle class="cw" cx="87.6" cy="492.8" r="2.8"/><circle class="cw" cx="133.9" cy="511.7" r="2.8"/><circle class="cw" cx="185.1" cy="625.0" r="2.8"/><circle class="cw" cx="102.6" cy="563.3" r="2.8"/><circle class="cw" cx="218.0" cy="571.1" r="2.8"/><circle class="cw" cx="116.0" cy="620.7" r="2.8"/><circle class="cr" cx="168.4" cy="583.0" r="3.1"/><circle class="cr" cx="199.8" cy="616.0" r="3.1"/><circle class="cr" cx="129.5" cy="495.4" r="3.1"/><circle class="cr" cx="86.5" cy="535.0" r="3.1"/><circle class="cr" cx="164.5" cy="485.0" r="3.1"/><circle class="cr" cx="91.3" cy="587.3" r="3.1"/><circle class="cw" cx="106.7" cy="638.8" r="2.8"/><circle class="cw" cx="161.3" cy="532.3" r="2.8"/><circle class="cw" cx="110.8" cy="498.2" r="2.8"/><circle class="cw" cx="186.1" cy="617.4" r="2.8"/><circle class="cr" cx="181.3" cy="510.0" r="3.1"/><circle class="cr" cx="105.2" cy="503.0" r="3.1"/><circle class="cw" cx="131.2" cy="594.1" r="2.8"/><circle class="cr" cx="160.7" cy="487.8" r="3.1"/><circle class="cw" cx="143.9" cy="600.3" r="2.8"/><circle class="cw" cx="206.7" cy="582.2" r="2.8"/><circle class="cw" cx="128.9" cy="563.1" r="2.8"/><circle class="cw" cx="189.7" cy="606.1" r="2.8"/><circle class="cw" cx="149.2" cy="591.3" r="2.8"/><circle class="cr" cx="199.5" cy="549.4" r="3.1"/><circle class="cr" cx="200.2" cy="610.5" r="3.1"/><circle class="cr" cx="87.7" cy="547.7" r="3.1"/><circle class="cw" cx="127.2" cy="528.3" r="2.8"/><circle class="cw" cx="98.2" cy="571.2" r="2.8"/><circle class="cr" cx="154.8" cy="605.2" r="3.1"/><circle class="cr" cx="144.7" cy="617.5" r="3.1"/><circle class="cr" cx="171.1" cy="601.9" r="3.1"/><circle class="cr" cx="194.5" cy="607.9" r="3.1"/><circle class="cw" cx="115.5" cy="519.4" r="2.8"/><circle class="cw" cx="165.9" cy="609.1" r="2.8"/><circle class="cw" cx="109.7" cy="494.1" r="2.8"/><circle class="cw" cx="133.3" cy="620.0" r="2.8"/><circle class="cw" cx="111.1" cy="481.2" r="2.8"/><circle class="cw" cx="76.9" cy="509.2" r="2.8"/><circle class="cw" cx="72.9" cy="559.7" r="2.8"/><circle class="cw" cx="195.1" cy="544.4" r="2.8"/><circle class="cr" cx="139.2" cy="525.5" r="3.1"/><circle class="cr" cx="91.4" cy="590.2" r="3.1"/><circle class="cr" cx="88.1" cy="634.6" r="3.1"/><circle class="cw" cx="85.4" cy="596.0" r="2.8"/><circle class="cw" cx="89.8" cy="535.4" r="2.8"/><circle class="cr" cx="186.8" cy="535.3" r="3.1"/><circle class="cw" cx="55.6" cy="586.3" r="2.8"/><circle class="cr" cx="100.7" cy="524.2" r="3.1"/><circle class="cw" cx="170.0" cy="568.9" r="2.8"/><circle class="cw" cx="76.3" cy="610.3" r="2.8"/><circle class="cw" cx="78.4" cy="557.8" r="2.8"/><circle class="cw" cx="179.4" cy="587.6" r="2.8"/><circle class="cr" cx="74.0" cy="590.2" r="3.1"/><circle class="cw" cx="170.1" cy="554.1" r="2.8"/><circle class="cr" cx="185.9" cy="609.0" r="3.1"/><circle class="cr" cx="74.7" cy="620.7" r="3.1"/><circle class="cw" cx="209.1" cy="589.1" r="2.8"/><circle class="cr" cx="200.4" cy="574.5" r="3.1"/><circle class="cr" cx="188.1" cy="608.3" r="3.1"/><circle class="cr" cx="203.6" cy="583.3" r="3.1"/><circle class="cw" cx="119.9" cy="509.9" r="2.8"/><circle class="cw" cx="170.7" cy="524.8" r="2.8"/><circle class="cr" cx="58.6" cy="538.1" r="3.1"/><circle class="cr" cx="169.7" cy="583.1" r="3.1"/><circle class="cw" cx="129.2" cy="643.4" r="2.8"/><circle class="cw" cx="211.2" cy="546.2" r="2.8"/><circle class="cw" cx="122.7" cy="571.5" r="2.8"/><circle class="cr" cx="191.0" cy="539.7" r="3.1"/><circle class="cw" cx="109.3" cy="497.6" r="2.8"/><circle class="cw" cx="119.1" cy="491.9" r="2.8"/><circle class="cw" cx="161.2" cy="557.7" r="2.8"/><circle class="cw" cx="170.4" cy="591.6" r="2.8"/><circle class="cw" cx="96.6" cy="580.3" r="2.8"/><circle class="cw" cx="108.0" cy="643.4" r="2.8"/><circle class="cw" cx="155.8" cy="554.8" r="2.8"/><circle class="cr" cx="92.7" cy="634.6" r="3.1"/><circle class="cr" cx="149.9" cy="568.2" r="3.1"/><circle class="cw" cx="151.6" cy="499.3" r="2.8"/><circle class="cr" cx="131.4" cy="498.3" r="3.1"/><circle class="cr" cx="116.4" cy="627.8" r="3.1"/><circle class="cw" cx="186.7" cy="547.7" r="2.8"/><circle class="cw" cx="106.6" cy="611.8" r="2.8"/><circle class="cw" cx="102.7" cy="499.6" r="2.8"/><circle class="cw" cx="114.9" cy="630.1" r="2.8"/><circle class="cw" cx="162.0" cy="551.2" r="2.8"/><circle class="cw" cx="195.8" cy="598.1" r="2.8"/><circle class="cr" cx="119.6" cy="521.6" r="3.1"/><circle class="cr" cx="141.7" cy="588.2" r="3.1"/><circle class="cr" cx="100.6" cy="608.2" r="3.1"/><circle class="cr" cx="114.0" cy="516.3" r="3.1"/><circle class="cw" cx="226.5" cy="583.5" r="2.8"/><circle class="cw" cx="170.0" cy="583.3" r="2.8"/><circle class="cw" cx="145.0" cy="640.9" r="2.8"/><circle class="cr" cx="131.0" cy="534.5" r="3.1"/><circle class="cr" cx="106.5" cy="517.7" r="3.1"/><circle class="cr" cx="130.2" cy="492.6" r="3.1"/><circle class="cw" cx="113.1" cy="538.3" r="2.8"/><circle class="cr" cx="79.6" cy="619.2" r="3.1"/><circle class="cw" cx="53.4" cy="569.7" r="2.8"/><circle class="cw" cx="168.8" cy="551.0" r="2.8"/><circle class="cw" cx="140.8" cy="638.2" r="2.8"/><circle class="cw" cx="107.8" cy="640.6" r="2.8"/><circle class="cw" cx="133.5" cy="617.6" r="2.8"/><circle class="cw" cx="105.3" cy="545.9" r="2.8"/><circle class="cr" cx="113.3" cy="530.6" r="3.1"/><circle class="cr" cx="143.3" cy="620.1" r="3.1"/><circle class="cw" cx="52.7" cy="594.9" r="2.8"/><circle class="cr" cx="52.2" cy="586.2" r="3.1"/><circle class="cw" cx="54.8" cy="594.6" r="2.8"/><circle class="cr" cx="178.2" cy="572.3" r="3.1"/><circle class="cw" cx="213.1" cy="555.9" r="2.8"/><circle class="cw" cx="56.7" cy="529.5" r="2.8"/><circle class="cw" cx="143.8" cy="549.9" r="2.8"/><circle class="cr" cx="154.2" cy="583.7" r="3.1"/><circle class="cw" cx="88.9" cy="517.5" r="2.8"/><circle class="cw" cx="98.8" cy="523.4" r="2.8"/><circle class="cr" cx="210.6" cy="536.3" r="3.1"/><circle class="cw" cx="100.7" cy="511.4" r="2.8"/><circle class="cr" cx="102.6" cy="496.4" r="3.1"/><circle class="cw" cx="102.0" cy="635.8" r="2.8"/><circle class="cw" cx="169.9" cy="488.4" r="2.8"/><circle class="cr" cx="75.9" cy="534.0" r="3.1"/><circle class="cw" cx="74.0" cy="556.2" r="2.8"/><circle class="cr" cx="197.6" cy="589.3" r="3.1"/><circle class="cw" cx="97.2" cy="614.6" r="2.8"/><circle class="cr" cx="138.5" cy="618.9" r="3.1"/><circle class="cw" cx="171.8" cy="634.9" r="2.8"/><circle class="cw" cx="178.6" cy="513.1" r="2.8"/><circle class="cr" cx="204.9" cy="571.8" r="3.1"/><circle class="cw" cx="143.4" cy="502.6" r="2.8"/><circle class="cw" cx="95.3" cy="570.4" r="2.8"/><circle class="cw" cx="81.9" cy="546.3" r="2.8"/><circle class="cr" cx="99.2" cy="616.4" r="3.1"/><circle class="cr" cx="75.7" cy="589.0" r="3.1"/><circle class="cw" cx="69.1" cy="570.7" r="2.8"/><circle class="cw" cx="206.4" cy="527.1" r="2.8"/><circle class="cw" cx="136.9" cy="483.8" r="2.8"/><circle class="cw" cx="86.7" cy="617.1" r="2.8"/><circle class="cw" cx="197.3" cy="563.4" r="2.8"/><circle class="cw" cx="158.1" cy="575.0" r="2.8"/><circle class="cr" cx="135.3" cy="541.3" r="3.1"/><circle class="cr" cx="95.8" cy="527.2" r="3.1"/><circle class="cr" cx="168.7" cy="576.2" r="3.1"/><circle class="cr" cx="171.9" cy="530.7" r="3.1"/><circle class="cr" cx="149.1" cy="542.4" r="3.1"/><circle class="cr" cx="128.4" cy="577.3" r="3.1"/><circle class="cr" cx="153.6" cy="571.1" r="3.1"/><circle class="cr" cx="114.8" cy="605.0" r="3.1"/><circle class="cr" cx="166.7" cy="559.9" r="3.1"/><circle class="cw" cx="72.4" cy="593.6" r="2.8"/><circle class="cr" cx="177.0" cy="522.6" r="3.1"/><circle class="cr" cx="131.3" cy="535.5" r="3.1"/><circle class="cw" cx="67.8" cy="611.8" r="2.8"/><circle class="cw" cx="151.7" cy="490.6" r="2.8"/><circle class="cw" cx="148.1" cy="519.4" r="2.8"/><circle class="cw" cx="189.2" cy="567.3" r="2.8"/><circle class="cw" cx="94.3" cy="565.8" r="2.8"/><circle class="cw" cx="143.0" cy="487.3" r="2.8"/><circle class="cw" cx="148.7" cy="510.3" r="2.8"/><circle class="cw" cx="68.3" cy="537.3" r="2.8"/><circle class="cw" cx="112.2" cy="641.6" r="2.8"/><circle class="cr" cx="198.1" cy="522.3" r="3.1"/><circle class="cr" cx="134.0" cy="494.1" r="3.1"/><circle class="cr" cx="101.8" cy="635.6" r="3.1"/><circle class="cr" cx="94.9" cy="605.8" r="3.1"/><circle class="cw" cx="150.8" cy="632.1" r="2.8"/><circle class="cr" cx="78.4" cy="581.9" r="3.1"/><circle class="cw" cx="128.2" cy="598.2" r="2.8"/><circle class="cr" cx="145.7" cy="581.6" r="3.1"/><circle class="cr" cx="200.4" cy="603.7" r="3.1"/><circle class="cw" cx="175.2" cy="527.6" r="2.8"/><circle class="cw" cx="103.3" cy="566.0" r="2.8"/><circle class="cw" cx="207.8" cy="524.8" r="2.8"/><circle class="cr" cx="194.9" cy="525.2" r="3.1"/><circle class="cr" cx="62.8" cy="590.8" r="3.1"/><circle class="cr" cx="95.6" cy="628.2" r="3.1"/><circle class="cw" cx="113.5" cy="627.7" r="2.8"/><circle class="cr" cx="188.1" cy="527.3" r="3.1"/><circle class="cr" cx="116.1" cy="521.6" r="3.1"/><circle class="cw" cx="128.6" cy="591.2" r="2.8"/><circle class="cw" cx="149.0" cy="606.2" r="2.8"/><circle class="cw" cx="92.2" cy="533.5" r="2.8"/><circle class="cw" cx="145.3" cy="607.7" r="2.8"/><circle class="cr" cx="188.3" cy="600.3" r="3.1"/><circle class="cr" cx="90.6" cy="502.6" r="3.1"/><circle class="cr" cx="147.0" cy="614.2" r="3.1"/><circle class="cw" cx="178.2" cy="626.9" r="2.8"/><circle class="cr" cx="75.8" cy="523.2" r="3.1"/><circle class="cw" cx="125.2" cy="556.6" r="2.8"/><circle class="cw" cx="120.9" cy="566.6" r="2.8"/><circle class="cr" cx="197.6" cy="580.2" r="3.1"/><circle class="cw" cx="141.6" cy="477.6" r="2.8"/><circle class="cw" cx="167.2" cy="628.1" r="2.8"/><circle class="cr" cx="79.8" cy="523.3" r="3.1"/><circle class="cw" cx="129.1" cy="512.4" r="2.8"/><circle class="cw" cx="202.3" cy="564.3" r="2.8"/><circle class="cw" cx="98.2" cy="563.7" r="2.8"/><circle class="cr" cx="90.0" cy="582.1" r="3.1"/><circle class="cr" cx="109.1" cy="623.5" r="3.1"/><circle class="cr" cx="96.5" cy="624.6" r="3.1"/><circle class="cr" cx="88.5" cy="527.2" r="3.1"/><circle class="cw" cx="67.2" cy="565.9" r="2.8"/><circle class="cw" cx="162.1" cy="523.0" r="2.8"/><circle class="cw" cx="99.9" cy="552.2" r="2.8"/><circle class="cr" cx="67.2" cy="529.1" r="3.1"/><circle class="cr" cx="136.8" cy="501.5" r="3.1"/><circle class="cr" cx="101.1" cy="511.6" r="3.1"/><circle class="cr" cx="96.3" cy="601.6" r="3.1"/><circle class="cr" cx="218.8" cy="598.8" r="3.1"/><circle class="cr" cx="67.1" cy="534.1" r="3.1"/><circle class="cr" cx="94.3" cy="578.3" r="3.1"/><circle class="cw" cx="148.6" cy="519.9" r="2.8"/><circle class="cw" cx="109.7" cy="553.3" r="2.8"/><circle class="cr" cx="115.7" cy="611.8" r="3.1"/><circle class="cw" cx="190.0" cy="571.1" r="2.8"/><circle class="cr" cx="203.0" cy="536.7" r="3.1"/><circle class="cw" cx="117.2" cy="640.8" r="2.8"/><circle class="cw" cx="196.2" cy="567.9" r="2.8"/><circle class="cw" cx="147.3" cy="507.2" r="2.8"/><circle class="cr" cx="192.4" cy="532.1" r="3.1"/><circle class="cw" cx="65.8" cy="568.8" r="2.8"/><circle class="cw" cx="155.0" cy="554.8" r="2.8"/><circle class="cr" cx="200.7" cy="519.6" r="3.1"/><circle class="cw" cx="101.3" cy="627.3" r="2.8"/><circle class="cr" cx="169.5" cy="597.2" r="3.1"/><circle class="cw" cx="93.1" cy="505.9" r="2.8"/><circle class="cw" cx="91.8" cy="508.8" r="2.8"/><circle class="cw" cx="111.9" cy="633.6" r="2.8"/><circle class="cw" cx="123.0" cy="517.8" r="2.8"/><circle class="cr" cx="93.3" cy="505.7" r="3.1"/><circle class="cw" cx="86.7" cy="591.2" r="2.8"/><circle class="cw" cx="180.6" cy="539.6" r="2.8"/><circle class="cw" cx="139.7" cy="482.5" r="2.8"/><circle class="cr" cx="113.3" cy="583.0" r="3.1"/><circle class="cw" cx="100.0" cy="516.0" r="2.8"/><circle class="cw" cx="85.1" cy="556.4" r="2.8"/><circle class="cw" cx="157.9" cy="551.9" r="2.8"/><circle class="cw" cx="105.4" cy="582.4" r="2.8"/><circle class="cw" cx="80.1" cy="594.6" r="2.8"/><circle class="cr" cx="69.6" cy="616.7" r="3.1"/><circle class="cw" cx="148.4" cy="541.4" r="2.8"/><circle class="cw" cx="88.7" cy="616.3" r="2.8"/><circle class="cr" cx="77.4" cy="544.4" r="3.1"/><circle class="cw" cx="69.1" cy="604.9" r="2.8"/><circle class="cr" cx="173.6" cy="564.8" r="3.1"/><circle class="cw" cx="137.9" cy="481.9" r="2.8"/><circle class="cw" cx="178.0" cy="492.4" r="2.8"/><circle class="cr" cx="91.1" cy="586.5" r="3.1"/><circle class="cw" cx="186.9" cy="514.8" r="2.8"/><circle class="cw" cx="139.6" cy="581.6" r="2.8"/><circle class="cw" cx="146.0" cy="584.4" r="2.8"/><circle class="cw" cx="154.7" cy="528.4" r="2.8"/><circle class="cw" cx="81.2" cy="600.9" r="2.8"/><circle class="cw" cx="82.1" cy="610.6" r="2.8"/><circle class="cw" cx="83.5" cy="551.5" r="2.8"/><circle class="cr" cx="87.3" cy="586.6" r="3.1"/><circle class="cw" cx="94.0" cy="629.7" r="2.8"/><circle class="cw" cx="72.4" cy="572.4" r="2.8"/><circle class="cr" cx="106.4" cy="608.4" r="3.1"/><circle class="cw" cx="133.7" cy="617.7" r="2.8"/><circle class="cr" cx="147.3" cy="583.5" r="3.1"/><circle class="cw" cx="161.4" cy="510.7" r="2.8"/><circle class="cw" cx="105.6" cy="483.8" r="2.8"/><circle class="cw" cx="121.8" cy="541.1" r="2.8"/><circle class="cr" cx="55.0" cy="570.2" r="3.1"/><circle class="cr" cx="185.9" cy="601.3" r="3.1"/><circle class="cr" cx="134.1" cy="529.6" r="3.1"/><circle class="cw" cx="66.2" cy="565.0" r="2.8"/><circle class="cr" cx="137.0" cy="532.8" r="3.1"/><circle class="cr" cx="206.4" cy="584.0" r="3.1"/><circle class="cr" cx="178.1" cy="607.3" r="3.1"/><circle class="cr" cx="131.9" cy="534.4" r="3.1"/><circle class="cr" cx="185.1" cy="606.4" r="3.1"/><circle class="cw" cx="145.8" cy="502.5" r="2.8"/><circle class="cw" cx="192.2" cy="633.9" r="2.8"/><circle class="cr" cx="61.9" cy="577.7" r="3.1"/><circle class="cr" cx="142.9" cy="498.3" r="3.1"/><circle class="cw" cx="191.2" cy="565.0" r="2.8"/><circle class="cw" cx="111.4" cy="481.5" r="2.8"/><circle class="cw" cx="63.3" cy="552.7" r="2.8"/><circle class="cr" cx="187.4" cy="553.4" r="3.1"/><circle class="cr" cx="156.0" cy="491.1" r="3.1"/><circle class="cw" cx="158.4" cy="635.4" r="2.8"/><circle class="cw" cx="79.6" cy="559.8" r="2.8"/><circle class="cr" cx="186.8" cy="607.6" r="3.1"/><circle class="cw" cx="195.8" cy="543.1" r="2.8"/><circle class="cw" cx="171.7" cy="494.2" r="2.8"/><circle class="cw" cx="153.8" cy="499.6" r="2.8"/><circle class="cw" cx="59.1" cy="545.1" r="2.8"/><circle class="cr" cx="69.4" cy="511.0" r="3.1"/><circle class="cw" cx="169.4" cy="516.6" r="2.8"/><circle class="cw" cx="176.5" cy="584.2" r="2.8"/><circle class="cw" cx="53.0" cy="594.6" r="2.8"/><circle class="cw" cx="222.1" cy="574.0" r="2.8"/><circle class="cw" cx="60.7" cy="559.2" r="2.8"/><circle class="cw" cx="207.5" cy="587.1" r="2.8"/><circle class="cw" cx="180.4" cy="627.8" r="2.8"/><circle class="cw" cx="150.1" cy="483.5" r="2.8"/><circle class="cr" cx="98.9" cy="544.3" r="3.1"/><circle class="cw" cx="118.8" cy="578.1" r="2.8"/><circle class="cw" cx="159.0" cy="561.3" r="2.8"/><circle class="cw" cx="125.3" cy="594.8" r="2.8"/><circle class="cw" cx="129.1" cy="542.8" r="2.8"/><circle class="cw" cx="60.2" cy="519.4" r="2.8"/><circle class="cw" cx="190.8" cy="583.5" r="2.8"/><circle class="cw" cx="84.7" cy="578.6" r="2.8"/><circle class="cw" cx="80.3" cy="496.6" r="2.8"/><circle class="cw" cx="86.8" cy="611.2" r="2.8"/><circle class="cr" cx="143.0" cy="539.1" r="3.1"/><circle class="cw" cx="90.8" cy="566.4" r="2.8"/><circle class="cw" cx="150.7" cy="503.9" r="2.8"/><circle class="cw" cx="154.8" cy="535.5" r="2.8"/><circle class="cr" cx="202.1" cy="603.0" r="3.1"/><circle class="cw" cx="166.6" cy="515.5" r="2.8"/><circle class="cr" cx="199.8" cy="543.5" r="3.1"/><circle class="cw" cx="143.9" cy="610.7" r="2.8"/><circle class="cw" cx="59.0" cy="526.9" r="2.8"/><circle class="cw" cx="93.3" cy="496.0" r="2.8"/><circle class="cw" cx="82.2" cy="562.7" r="2.8"/><circle class="cw" cx="111.0" cy="617.2" r="2.8"/><circle class="cr" cx="192.6" cy="544.9" r="3.1"/><circle class="cr" cx="141.3" cy="585.7" r="3.1"/><circle class="cw" cx="117.2" cy="567.9" r="2.8"/><circle class="cr" cx="208.0" cy="592.6" r="3.1"/><circle class="cw" cx="91.9" cy="586.2" r="2.8"/><circle class="cw" cx="95.8" cy="561.7" r="2.8"/><circle class="cw" cx="89.0" cy="487.3" r="2.8"/><circle class="cw" cx="148.2" cy="627.6" r="2.8"/><circle class="cw" cx="184.5" cy="519.6" r="2.8"/><circle class="cr" cx="80.7" cy="532.9" r="3.1"/><circle class="cr" cx="189.8" cy="582.8" r="3.1"/><circle class="cr" cx="82.9" cy="580.6" r="3.1"/><circle class="cw" cx="56.9" cy="585.0" r="2.8"/><circle class="cw" cx="106.2" cy="567.3" r="2.8"/><circle class="cr" cx="99.9" cy="507.4" r="3.1"/><circle class="cr" cx="60.7" cy="588.8" r="3.1"/><circle class="cw" cx="55.4" cy="595.7" r="2.8"/><circle class="cw" cx="151.5" cy="513.3" r="2.8"/><circle class="cr" cx="196.8" cy="551.7" r="3.1"/><circle class="cw" cx="148.5" cy="531.5" r="2.8"/><circle class="cw" cx="138.6" cy="479.8" r="2.8"/><circle class="cr" cx="99.6" cy="537.3" r="3.1"/><circle class="cw" cx="158.0" cy="547.7" r="2.8"/><circle class="cr" cx="149.3" cy="512.8" r="3.1"/><circle class="cw" cx="144.5" cy="556.0" r="2.8"/><circle class="cw" cx="132.7" cy="557.9" r="2.8"/><circle class="cw" cx="119.9" cy="493.9" r="2.8"/><circle class="cr" cx="84.4" cy="582.1" r="3.1"/><circle class="cw" cx="193.5" cy="595.8" r="2.8"/><circle class="cw" cx="89.0" cy="618.3" r="2.8"/><circle class="cw" cx="184.8" cy="500.7" r="2.8"/><circle class="cr" cx="167.3" cy="493.5" r="3.1"/><circle class="cw" cx="107.1" cy="580.9" r="2.8"/><circle class="cw" cx="178.8" cy="576.2" r="2.8"/><circle class="cw" cx="197.9" cy="553.4" r="2.8"/><circle class="cw" cx="167.5" cy="508.1" r="2.8"/><circle class="cw" cx="146.1" cy="580.5" r="2.8"/><circle class="cr" cx="80.5" cy="525.3" r="3.1"/><circle class="cw" cx="188.6" cy="501.2" r="2.8"/><circle class="cr" cx="178.1" cy="605.2" r="3.1"/><circle class="cw" cx="59.1" cy="553.4" r="2.8"/><circle class="cw" cx="112.4" cy="621.0" r="2.8"/><circle class="cw" cx="56.8" cy="535.7" r="2.8"/><circle class="cr" cx="94.6" cy="527.2" r="3.1"/><circle class="cw" cx="66.3" cy="526.5" r="2.8"/><circle class="cr" cx="188.1" cy="627.7" r="3.1"/><circle class="cw" cx="171.4" cy="549.8" r="2.8"/><circle class="cw" cx="65.9" cy="559.2" r="2.8"/><circle class="cw" cx="100.3" cy="531.6" r="2.8"/><circle class="cw" cx="189.2" cy="499.6" r="2.8"/><circle class="cr" cx="191.3" cy="521.4" r="3.1"/><circle class="cw" cx="209.8" cy="536.3" r="2.8"/><circle class="cw" cx="202.0" cy="524.7" r="2.8"/><circle class="cw" cx="118.7" cy="516.0" r="2.8"/><circle class="cw" cx="99.0" cy="516.7" r="2.8"/><circle class="cw" cx="92.1" cy="560.3" r="2.8"/><circle class="cw" cx="100.1" cy="516.2" r="2.8"/><circle class="cr" cx="103.8" cy="543.8" r="3.1"/><circle class="cr" cx="173.8" cy="598.7" r="3.1"/><circle class="cw" cx="141.0" cy="625.7" r="2.8"/><circle class="cr" cx="147.4" cy="608.7" r="3.1"/><circle class="cr" cx="97.9" cy="600.2" r="3.1"/><circle class="cr" cx="165.8" cy="497.9" r="3.1"/><circle class="cw" cx="89.7" cy="616.1" r="2.8"/><circle class="cw" cx="137.5" cy="596.6" r="2.8"/><circle class="cr" cx="184.1" cy="510.3" r="3.1"/><circle class="cw" cx="148.5" cy="627.3" r="2.8"/><circle class="cw" cx="61.2" cy="608.9" r="2.8"/><circle class="cw" cx="196.1" cy="574.6" r="2.8"/><circle class="cw" cx="57.4" cy="572.8" r="2.8"/><circle class="cw" cx="89.3" cy="610.6" r="2.8"/><circle class="cw" cx="180.1" cy="608.7" r="2.8"/><circle class="cw" cx="61.4" cy="584.3" r="2.8"/><circle class="cr" cx="115.1" cy="531.8" r="3.1"/><circle class="cr" cx="54.5" cy="592.8" r="3.1"/><circle class="cw" cx="183.3" cy="495.3" r="2.8"/><circle class="cw" cx="150.2" cy="629.5" r="2.8"/><circle class="cr" cx="166.4" cy="607.3" r="3.1"/><circle class="cr" cx="132.4" cy="626.0" r="3.1"/><circle class="cr" cx="150.9" cy="586.7" r="3.1"/><circle class="cw" cx="157.1" cy="547.7" r="2.8"/><circle class="cr" cx="72.0" cy="570.2" r="3.1"/><circle class="cw" cx="71.1" cy="514.4" r="2.8"/><circle class="cw" cx="114.4" cy="643.6" r="2.8"/><circle class="cr" cx="157.3" cy="533.5" r="3.1"/><circle class="cw" cx="133.0" cy="604.7" r="2.8"/><circle class="cw" cx="218.4" cy="551.3" r="2.8"/><circle class="cw" cx="203.0" cy="527.5" r="2.8"/><circle class="cr" cx="130.1" cy="617.7" r="3.1"/><circle class="cw" cx="156.1" cy="575.8" r="2.8"/><circle class="cw" cx="135.5" cy="618.9" r="2.8"/><circle class="cw" cx="153.7" cy="541.2" r="2.8"/><circle class="cw" cx="86.4" cy="613.1" r="2.8"/><circle class="cr" cx="180.3" cy="555.7" r="3.1"/><circle class="cw" cx="144.8" cy="502.1" r="2.8"/><circle class="cw" cx="177.5" cy="610.5" r="2.8"/><circle class="cr" cx="142.5" cy="578.4" r="3.1"/><circle class="cw" cx="162.0" cy="557.1" r="2.8"/><circle class="cr" cx="171.7" cy="581.3" r="3.1"/><circle class="cr" cx="135.8" cy="640.3" r="3.1"/><circle class="cr" cx="120.9" cy="504.7" r="3.1"/><circle class="cr" cx="87.3" cy="491.3" r="3.1"/><circle class="cw" cx="189.3" cy="576.3" r="2.8"/><circle class="cr" cx="96.8" cy="492.9" r="3.1"/><circle class="cw" cx="131.2" cy="503.8" r="2.8"/><circle class="cr" cx="207.5" cy="567.7" r="3.1"/><circle class="cw" cx="148.9" cy="595.4" r="2.8"/><circle class="cr" cx="132.1" cy="582.8" r="3.1"/><circle class="cw" cx="166.3" cy="589.6" r="2.8"/><circle class="cw" cx="157.1" cy="544.9" r="2.8"/><circle class="cr" cx="76.9" cy="600.1" r="3.1"/><circle class="cr" cx="194.8" cy="593.0" r="3.1"/><circle class="cw" cx="183.8" cy="560.1" r="2.8"/><circle class="cw" cx="182.0" cy="537.7" r="2.8"/><circle class="cw" cx="92.5" cy="546.6" r="2.8"/><circle class="cw" cx="69.9" cy="606.0" r="2.8"/><circle class="cw" cx="116.9" cy="642.8" r="2.8"/><circle class="cw" cx="118.1" cy="512.8" r="2.8"/><circle class="cr" cx="168.9" cy="504.7" r="3.1"/><circle class="cr" cx="180.9" cy="555.8" r="3.1"/><circle class="cw" cx="131.7" cy="610.3" r="2.8"/><circle class="cw" cx="121.9" cy="498.3" r="2.8"/><circle class="cr" cx="167.5" cy="490.5" r="3.1"/><circle class="cw" cx="192.5" cy="558.7" r="2.8"/><circle class="cr" cx="69.5" cy="524.3" r="3.1"/><circle class="cw" cx="99.6" cy="574.9" r="2.8"/><circle class="cw" cx="208.0" cy="555.1" r="2.8"/><circle class="cw" cx="153.4" cy="505.5" r="2.8"/><circle class="cw" cx="122.0" cy="514.6" r="2.8"/><circle class="cw" cx="130.8" cy="532.2" r="2.8"/><circle class="cr" cx="183.7" cy="528.7" r="3.1"/><circle class="cr" cx="167.6" cy="569.5" r="3.1"/><circle class="cw" cx="98.4" cy="489.4" r="2.8"/><circle class="cr" cx="172.9" cy="606.2" r="3.1"/><circle class="cw" cx="137.6" cy="628.6" r="2.8"/><circle class="cr" cx="117.0" cy="614.5" r="3.1"/><circle class="cw" cx="123.9" cy="632.8" r="2.8"/><circle class="cw" cx="113.1" cy="508.9" r="2.8"/><circle class="cw" cx="104.7" cy="539.0" r="2.8"/><circle class="cw" cx="206.3" cy="573.2" r="2.8"/><circle class="cw" cx="144.5" cy="557.3" r="2.8"/><circle class="cw" cx="94.5" cy="562.5" r="2.8"/><circle class="cw" cx="142.5" cy="599.5" r="2.8"/><circle class="cw" cx="187.5" cy="597.4" r="2.8"/><circle class="cw" cx="96.1" cy="576.7" r="2.8"/><circle class="cw" cx="154.7" cy="518.7" r="2.8"/><circle class="cr" cx="195.8" cy="599.3" r="3.1"/><circle class="cr" cx="86.9" cy="613.0" r="3.1"/><circle class="cw" cx="155.6" cy="564.3" r="2.8"/><circle class="cr" cx="72.1" cy="537.2" r="3.1"/><circle class="cr" cx="66.9" cy="511.6" r="3.1"/><circle class="cw" cx="184.7" cy="553.4" r="2.8"/><circle class="cw" cx="191.7" cy="556.3" r="2.8"/><circle class="cr" cx="153.4" cy="545.4" r="3.1"/><circle class="cw" cx="194.1" cy="527.4" r="2.8"/><circle class="cw" cx="77.5" cy="624.7" r="2.8"/><circle class="cw" cx="129.6" cy="477.8" r="2.8"/><circle class="cw" cx="98.3" cy="613.6" r="2.8"/><circle class="cr" cx="130.8" cy="580.2" r="3.1"/><circle class="cr" cx="54.4" cy="568.3" r="3.1"/><circle class="cr" cx="106.6" cy="592.3" r="3.1"/><circle class="cr" cx="113.5" cy="516.5" r="3.1"/><circle class="cw" cx="111.0" cy="493.6" r="2.8"/><circle class="cw" cx="108.8" cy="505.4" r="2.8"/><circle class="cw" cx="162.5" cy="480.8" r="2.8"/><circle class="cw" cx="205.9" cy="514.8" r="2.8"/><circle class="cw" cx="224.0" cy="593.5" r="2.8"/><circle class="cr" cx="172.0" cy="551.5" r="3.1"/><circle class="cw" cx="117.0" cy="560.9" r="2.8"/><circle class="cw" cx="191.8" cy="597.3" r="2.8"/><circle class="cw" cx="138.2" cy="482.0" r="2.8"/><circle class="cw" cx="166.7" cy="487.1" r="2.8"/><circle class="cw" cx="163.4" cy="626.4" r="2.8"/><circle class="cw" cx="190.4" cy="557.4" r="2.8"/><circle class="cr" cx="136.4" cy="593.2" r="3.1"/><circle class="cw" cx="100.8" cy="526.6" r="2.8"/><circle class="cw" cx="94.2" cy="610.5" r="2.8"/><circle class="cr" cx="192.4" cy="550.1" r="3.1"/><circle class="cw" cx="76.6" cy="601.3" r="2.8"/><circle class="cr" cx="110.2" cy="623.4" r="3.1"/><circle class="cw" cx="98.6" cy="634.0" r="2.8"/><circle class="cw" cx="140.8" cy="531.1" r="2.8"/><circle class="cw" cx="136.9" cy="486.4" r="2.8"/><circle class="cw" cx="164.0" cy="576.5" r="2.8"/><circle class="cw" cx="56.5" cy="542.0" r="2.8"/><circle class="cw" cx="195.8" cy="627.6" r="2.8"/><circle class="cw" cx="215.7" cy="586.7" r="2.8"/><circle class="cr" cx="63.9" cy="563.7" r="3.1"/><circle class="cr" cx="111.8" cy="488.2" r="3.1"/><circle class="cw" cx="128.8" cy="523.0" r="2.8"/><circle class="cr" cx="196.1" cy="628.4" r="3.1"/><circle class="cw" cx="142.3" cy="628.1" r="2.8"/><circle class="cr" cx="70.4" cy="534.7" r="3.1"/><circle class="cw" cx="155.6" cy="483.5" r="2.8"/><circle class="cw" cx="136.1" cy="595.8" r="2.8"/><circle class="cw" cx="99.8" cy="626.0" r="2.8"/><circle class="cr" cx="120.3" cy="608.6" r="3.1"/><circle class="cr" cx="73.8" cy="532.0" r="3.1"/><circle class="cw" cx="79.8" cy="603.1" r="2.8"/><circle class="cw" cx="72.3" cy="512.6" r="2.8"/><circle class="cw" cx="127.6" cy="513.9" r="2.8"/><circle class="cr" cx="127.6" cy="496.8" r="3.1"/><circle class="cw" cx="110.1" cy="555.5" r="2.8"/><circle class="cw" cx="178.1" cy="534.4" r="2.8"/><circle class="cr" cx="64.9" cy="575.9" r="3.1"/><circle class="cw" cx="220.3" cy="587.3" r="2.8"/><circle class="cr" cx="159.7" cy="616.2" r="3.1"/><circle class="cw" cx="73.5" cy="503.4" r="2.8"/><circle class="cr" cx="215.8" cy="571.6" r="3.1"/><circle class="cr" cx="68.2" cy="535.1" r="3.1"/><circle class="cr" cx="169.2" cy="525.9" r="3.1"/><circle class="cw" cx="109.0" cy="633.0" r="2.8"/><circle class="cw" cx="191.0" cy="601.9" r="2.8"/><circle class="cw" cx="92.1" cy="531.7" r="2.8"/><circle class="cw" cx="217.4" cy="570.6" r="2.8"/><circle class="cw" cx="68.9" cy="511.6" r="2.8"/><circle class="cw" cx="181.5" cy="584.7" r="2.8"/><circle class="cw" cx="167.4" cy="520.2" r="2.8"/><circle class="cr" cx="93.6" cy="623.6" r="3.1"/><circle class="cw" cx="89.1" cy="591.4" r="2.8"/><circle class="cr" cx="126.6" cy="633.2" r="3.1"/><circle class="cw" cx="65.4" cy="581.0" r="2.8"/><circle class="cr" cx="212.1" cy="577.6" r="3.1"/><circle class="cr" cx="60.5" cy="582.2" r="3.1"/><circle class="cr" cx="98.1" cy="583.4" r="3.1"/><circle class="cw" cx="158.5" cy="528.9" r="2.8"/><circle class="cw" cx="205.1" cy="554.8" r="2.8"/><circle class="cw" cx="105.0" cy="548.6" r="2.8"/><circle class="cw" cx="191.8" cy="523.8" r="2.8"/><circle class="cr" cx="185.8" cy="604.0" r="3.1"/><circle class="cw" cx="180.3" cy="528.4" r="2.8"/><circle class="cr" cx="73.4" cy="547.0" r="3.1"/><circle class="cw" cx="60.7" cy="570.1" r="2.8"/><circle class="cw" cx="142.2" cy="555.2" r="2.8"/><circle class="cw" cx="57.3" cy="529.6" r="2.8"/><circle class="cw" cx="150.1" cy="521.5" r="2.8"/><circle class="cr" cx="81.1" cy="570.7" r="3.1"/><circle class="cr" cx="83.9" cy="513.9" r="3.1"/><circle class="cr" cx="169.1" cy="570.3" r="3.1"/><circle class="cr" cx="133.9" cy="590.9" r="3.1"/><circle class="cw" cx="108.4" cy="630.0" r="2.8"/><circle class="cr" cx="86.1" cy="510.9" r="3.1"/><circle class="cw" cx="133.9" cy="513.2" r="2.8"/><circle class="cr" cx="161.6" cy="609.0" r="3.1"/><circle class="cw" cx="71.2" cy="613.1" r="2.8"/><circle class="cw" cx="216.1" cy="574.0" r="2.8"/><circle class="cw" cx="165.9" cy="584.3" r="2.8"/><circle class="cr" cx="95.2" cy="605.1" r="3.1"/><circle class="cw" cx="124.9" cy="641.8" r="2.8"/><circle class="cw" cx="82.3" cy="602.5" r="2.8"/><circle class="cr" cx="71.0" cy="562.5" r="3.1"/><circle class="cw" cx="191.5" cy="627.9" r="2.8"/><circle class="cw" cx="148.1" cy="556.7" r="2.8"/><circle class="cw" cx="107.8" cy="567.5" r="2.8"/><circle class="cr" cx="119.3" cy="501.1" r="3.1"/><circle class="cw" cx="177.7" cy="607.2" r="2.8"/><circle class="cw" cx="88.7" cy="508.4" r="2.8"/><circle class="cw" cx="97.2" cy="488.6" r="2.8"/><circle class="cw" cx="84.3" cy="523.0" r="2.8"/><circle class="cr" cx="155.5" cy="499.5" r="3.1"/><circle class="cw" cx="150.4" cy="546.1" r="2.8"/><circle class="cw" cx="114.3" cy="566.0" r="2.8"/><circle class="cw" cx="74.1" cy="520.1" r="2.8"/><circle class="cw" cx="203.3" cy="616.7" r="2.8"/><circle class="cr" cx="161.5" cy="589.0" r="3.1"/><circle class="cr" cx="164.5" cy="490.6" r="3.1"/><circle class="cw" cx="90.3" cy="547.9" r="2.8"/><circle class="cr" cx="95.0" cy="536.4" r="3.1"/><circle class="cw" cx="147.2" cy="604.5" r="2.8"/><circle class="cr" cx="169.9" cy="595.7" r="3.1"/><circle class="cw" cx="126.1" cy="556.9" r="2.8"/><circle class="cw" cx="157.4" cy="599.6" r="2.8"/><circle class="cw" cx="185.1" cy="490.3" r="2.8"/><circle class="cw" cx="208.7" cy="551.5" r="2.8"/><circle class="cr" cx="185.0" cy="605.0" r="3.1"/><circle class="cw" cx="144.0" cy="572.8" r="2.8"/><circle class="cw" cx="136.0" cy="520.0" r="2.8"/><circle class="cw" cx="104.1" cy="487.1" r="2.8"/><circle class="cr" cx="191.2" cy="625.3" r="3.1"/><circle class="cw" cx="162.1" cy="594.3" r="2.8"/><circle class="cr" cx="138.1" cy="530.3" r="3.1"/><circle class="cw" cx="143.2" cy="491.1" r="2.8"/><circle class="cr" cx="206.4" cy="579.3" r="3.1"/><circle class="cw" cx="101.0" cy="567.2" r="2.8"/><circle class="cw" cx="119.0" cy="514.4" r="2.8"/><circle class="cw" cx="85.3" cy="625.4" r="2.8"/><circle class="cr" cx="76.8" cy="564.1" r="3.1"/><circle class="cr" cx="188.5" cy="625.6" r="3.1"/><circle class="cr" cx="97.3" cy="520.2" r="3.1"/><circle class="cr" cx="111.0" cy="621.7" r="3.1"/><circle class="cr" cx="167.2" cy="582.4" r="3.1"/><circle class="cw" cx="93.5" cy="586.8" r="2.8"/><circle class="cr" cx="169.4" cy="510.1" r="3.1"/><circle class="cw" cx="147.9" cy="583.6" r="2.8"/><circle class="cw" cx="79.8" cy="575.1" r="2.8"/><circle class="cw" cx="133.8" cy="590.4" r="2.8"/><circle class="cw" cx="159.8" cy="586.8" r="2.8"/><circle class="cw" cx="163.6" cy="511.0" r="2.8"/><circle class="cw" cx="91.1" cy="577.0" r="2.8"/><circle class="cr" cx="119.5" cy="491.7" r="3.1"/><circle class="cr" cx="132.4" cy="535.1" r="3.1"/><circle class="cw" cx="96.8" cy="547.5" r="2.8"/><circle class="cr" cx="191.4" cy="629.2" r="3.1"/><circle class="cw" cx="95.1" cy="484.9" r="2.8"/><circle class="cw" cx="126.3" cy="491.9" r="2.8"/><circle class="cr" cx="153.5" cy="573.6" r="3.1"/><circle class="cw" cx="202.8" cy="519.0" r="2.8"/><circle class="cw" cx="110.0" cy="638.3" r="2.8"/><circle class="cw" cx="69.5" cy="604.9" r="2.8"/><circle class="cw" cx="81.1" cy="516.0" r="2.8"/><circle class="cr" cx="67.4" cy="522.2" r="3.1"/><circle class="cr" cx="59.6" cy="545.6" r="3.1"/><circle class="cw" cx="189.6" cy="556.8" r="2.8"/><circle class="cw" cx="163.2" cy="576.7" r="2.8"/><circle class="cr" cx="54.9" cy="579.1" r="3.1"/><circle class="cw" cx="187.6" cy="495.3" r="2.8"/><circle class="cw" cx="146.9" cy="499.1" r="2.8"/><circle class="cr" cx="187.1" cy="520.8" r="3.1"/><circle class="cr" cx="75.2" cy="570.0" r="3.1"/><circle class="cr" cx="155.0" cy="611.3" r="3.1"/><circle class="cr" cx="125.5" cy="491.6" r="3.1"/><circle class="cw" cx="71.0" cy="559.4" r="2.8"/><circle class="cr" cx="202.2" cy="526.9" r="3.1"/><circle class="cr" cx="200.1" cy="516.3" r="3.1"/><circle class="cw" cx="175.0" cy="598.3" r="2.8"/><circle class="cw" cx="174.1" cy="575.7" r="2.8"/><circle class="cr" cx="181.2" cy="519.6" r="3.1"/><circle class="cr" cx="98.2" cy="628.8" r="3.1"/><circle class="cr" cx="82.3" cy="542.8" r="3.1"/><circle class="cr" cx="116.3" cy="519.8" r="3.1"/><circle class="cr" cx="172.3" cy="519.1" r="3.1"/><circle class="cw" cx="71.4" cy="542.6" r="2.8"/><circle class="cw" cx="111.4" cy="616.2" r="2.8"/><circle class="cw" cx="139.6" cy="556.1" r="2.8"/><circle class="cw" cx="84.3" cy="524.0" r="2.8"/><circle class="cw" cx="94.9" cy="519.4" r="2.8"/><circle class="cr" cx="92.7" cy="596.6" r="3.1"/><circle class="cr" cx="147.4" cy="587.4" r="3.1"/><circle class="cw" cx="217.5" cy="564.6" r="2.8"/><circle class="cr" cx="81.7" cy="584.5" r="3.1"/><circle class="cr" cx="194.5" cy="552.2" r="3.1"/><circle class="cw" cx="174.2" cy="594.5" r="2.8"/><circle class="cw" cx="168.8" cy="620.5" r="2.8"/><circle class="cr" cx="102.8" cy="584.7" r="3.1"/><circle class="cw" cx="185.5" cy="564.0" r="2.8"/><circle class="cr" cx="66.0" cy="604.6" r="3.1"/><circle class="cw" cx="149.3" cy="494.6" r="2.8"/><circle class="cr" cx="170.3" cy="506.8" r="3.1"/><circle class="cr" cx="87.1" cy="487.3" r="3.1"/><circle class="cw" cx="147.7" cy="483.2" r="2.8"/><circle class="cr" cx="212.1" cy="599.5" r="3.1"/><circle class="cr" cx="62.2" cy="537.3" r="3.1"/><circle class="cw" cx="63.4" cy="609.9" r="2.8"/><circle class="cr" cx="132.4" cy="533.4" r="3.1"/><circle class="cw" cx="143.3" cy="570.2" r="2.8"/><circle class="cr" cx="75.9" cy="523.6" r="3.1"/><circle class="cr" cx="188.9" cy="528.6" r="3.1"/><circle class="cr" cx="196.0" cy="555.6" r="3.1"/><circle class="cw" cx="85.0" cy="600.7" r="2.8"/><circle class="cw" cx="219.4" cy="558.7" r="2.8"/><circle class="cw" cx="55.6" cy="551.5" r="2.8"/><circle class="cw" cx="194.5" cy="601.1" r="2.8"/><circle class="cr" cx="206.8" cy="553.5" r="3.1"/><circle class="cr" cx="93.2" cy="631.3" r="3.1"/><circle class="cr" cx="103.3" cy="569.8" r="3.1"/><circle class="cw" cx="168.2" cy="532.0" r="2.8"/><circle class="cw" cx="76.7" cy="611.8" r="2.8"/><circle class="cw" cx="153.1" cy="514.4" r="2.8"/><circle class="cw" cx="142.5" cy="576.7" r="2.8"/><circle class="cr" cx="99.8" cy="575.4" r="3.1"/><circle class="cr" cx="158.5" cy="538.1" r="3.1"/><circle class="cw" cx="97.8" cy="517.6" r="2.8"/><circle class="cr" cx="99.5" cy="487.8" r="3.1"/><circle class="cw" cx="147.7" cy="521.4" r="2.8"/><circle class="cr" cx="208.7" cy="607.0" r="3.1"/><circle class="cw" cx="96.7" cy="573.1" r="2.8"/><circle class="cw" cx="167.7" cy="634.1" r="2.8"/><circle class="cw" cx="80.6" cy="516.3" r="2.8"/><circle class="cr" cx="167.7" cy="584.3" r="3.1"/><circle class="cr" cx="120.0" cy="599.3" r="3.1"/><circle class="cw" cx="186.2" cy="554.5" r="2.8"/><circle class="cr" cx="197.5" cy="587.6" r="3.1"/><circle class="cr" cx="134.9" cy="578.8" r="3.1"/><circle class="cr" cx="183.1" cy="535.7" r="3.1"/><circle class="cw" cx="114.6" cy="556.0" r="2.8"/><circle class="cw" cx="214.6" cy="569.1" r="2.8"/><circle class="cw" cx="83.2" cy="569.2" r="2.8"/><circle class="cr" cx="202.2" cy="575.0" r="3.1"/><circle class="cw" cx="200.8" cy="565.9" r="2.8"/><circle class="cw" cx="160.2" cy="607.3" r="2.8"/><circle class="cw" cx="221.3" cy="580.1" r="2.8"/><circle class="cr" cx="94.8" cy="636.8" r="3.1"/><circle class="cw" cx="75.7" cy="506.7" r="2.8"/><circle class="cw" cx="179.2" cy="593.9" r="2.8"/><circle class="cw" cx="66.6" cy="581.1" r="2.8"/><circle class="cw" cx="214.7" cy="563.6" r="2.8"/><circle class="cr" cx="82.5" cy="548.4" r="3.1"/><circle class="cr" cx="102.6" cy="630.1" r="3.1"/><circle class="cw" cx="95.3" cy="488.1" r="2.8"/><circle class="cr" cx="138.4" cy="555.9" r="3.1"/><circle class="cw" cx="218.2" cy="588.8" r="2.8"/><circle class="cr" cx="61.1" cy="527.4" r="3.1"/><circle class="cw" cx="158.4" cy="545.1" r="2.8"/><circle class="cr" cx="65.9" cy="562.3" r="3.1"/><circle class="cw" cx="136.5" cy="561.8" r="2.8"/><circle class="cw" cx="129.8" cy="543.2" r="2.8"/><circle class="cw" cx="133.6" cy="479.9" r="2.8"/><circle class="cw" cx="213.5" cy="534.1" r="2.8"/><circle class="cr" cx="189.3" cy="607.2" r="3.1"/><circle class="cr" cx="176.9" cy="493.0" r="3.1"/><circle class="cr" cx="75.0" cy="510.6" r="3.1"/><circle class="cw" cx="129.6" cy="547.3" r="2.8"/><circle class="cw" cx="200.1" cy="619.5" r="2.8"/><circle class="cw" cx="130.3" cy="549.6" r="2.8"/><circle class="cw" cx="106.0" cy="572.6" r="2.8"/><circle class="cw" cx="183.8" cy="510.0" r="2.8"/><circle class="cw" cx="95.4" cy="555.2" r="2.8"/><circle class="cr" cx="102.7" cy="541.6" r="3.1"/><circle class="cw" cx="89.6" cy="516.0" r="2.8"/><circle class="cw" cx="168.7" cy="573.4" r="2.8"/><circle class="cr" cx="106.3" cy="530.3" r="3.1"/><circle class="cr" cx="149.3" cy="587.8" r="3.1"/><circle class="cw" cx="161.1" cy="590.2" r="2.8"/><circle class="cw" cx="131.5" cy="550.5" r="2.8"/><circle class="cr" cx="176.2" cy="618.7" r="3.1"/><circle class="cr" cx="201.4" cy="577.1" r="3.1"/><circle class="cw" cx="114.0" cy="592.7" r="2.8"/><circle class="cw" cx="57.5" cy="598.1" r="2.8"/><circle class="cr" cx="123.3" cy="485.3" r="3.1"/><circle class="cr" cx="130.4" cy="559.6" r="3.1"/><circle class="cw" cx="76.0" cy="521.6" r="2.8"/><circle class="cw" cx="206.4" cy="525.7" r="2.8"/><circle class="cw" cx="155.9" cy="621.8" r="2.8"/><circle class="cw" cx="99.3" cy="626.5" r="2.8"/><circle class="cr" cx="200.0" cy="512.7" r="3.1"/><circle class="cr" cx="154.0" cy="563.8" r="3.1"/><circle class="cw" cx="177.5" cy="594.3" r="2.8"/><circle class="cr" cx="200.0" cy="598.3" r="3.1"/><circle class="cw" cx="140.5" cy="518.1" r="2.8"/><circle class="cr" cx="89.6" cy="508.5" r="3.1"/><circle class="cr" cx="179.4" cy="586.8" r="3.1"/><circle class="cw" cx="62.7" cy="557.2" r="2.8"/><circle class="cw" cx="199.7" cy="505.3" r="2.8"/><circle class="cw" cx="114.4" cy="521.5" r="2.8"/><circle class="cw" cx="70.6" cy="513.9" r="2.8"/><circle class="cw" cx="177.1" cy="628.4" r="2.8"/><circle class="cr" cx="126.0" cy="495.1" r="3.1"/><circle class="cw" cx="191.0" cy="611.4" r="2.8"/><circle class="cw" cx="62.9" cy="555.5" r="2.8"/><circle class="cr" cx="121.0" cy="494.6" r="3.1"/><circle class="cw" cx="197.3" cy="559.7" r="2.8"/><circle class="cw" cx="147.6" cy="515.1" r="2.8"/><circle class="cr" cx="105.4" cy="560.7" r="3.1"/><circle class="cr" cx="81.4" cy="587.9" r="3.1"/><circle class="cw" cx="121.4" cy="575.7" r="2.8"/><circle class="cw" cx="125.0" cy="510.6" r="2.8"/><circle class="cw" cx="167.0" cy="634.1" r="2.8"/><circle class="cw" cx="62.5" cy="566.1" r="2.8"/><circle class="cr" cx="68.7" cy="589.2" r="3.1"/><circle class="cr" cx="178.1" cy="497.1" r="3.1"/><circle class="cr" cx="55.7" cy="546.7" r="3.1"/><circle class="cw" cx="63.7" cy="605.4" r="2.8"/><circle class="cw" cx="107.1" cy="573.2" r="2.8"/><circle class="cw" cx="155.7" cy="584.8" r="2.8"/><circle class="cr" cx="159.5" cy="485.2" r="3.1"/><circle class="cr" cx="58.1" cy="550.3" r="3.1"/><circle class="cw" cx="110.3" cy="492.6" r="2.8"/><circle class="cw" cx="74.0" cy="510.7" r="2.8"/><circle class="cw" cx="56.6" cy="587.7" r="2.8"/><circle class="cw" cx="83.3" cy="516.7" r="2.8"/><circle class="cw" cx="159.8" cy="533.4" r="2.8"/><circle class="cr" cx="123.2" cy="541.1" r="3.1"/><circle class="cw" cx="78.1" cy="563.9" r="2.8"/><circle class="cw" cx="170.6" cy="623.6" r="2.8"/><circle class="cw" cx="114.0" cy="533.0" r="2.8"/><circle class="cw" cx="156.3" cy="514.0" r="2.8"/><circle class="cw" cx="82.8" cy="604.1" r="2.8"/><circle class="cw" cx="92.6" cy="581.8" r="2.8"/><circle class="cr" cx="103.7" cy="577.6" r="3.1"/><circle class="cw" cx="203.9" cy="532.8" r="2.8"/><circle class="cw" cx="175.8" cy="589.3" r="2.8"/><circle class="cw" cx="136.6" cy="549.3" r="2.8"/><circle class="cw" cx="131.7" cy="539.4" r="2.8"/><circle class="cw" cx="75.0" cy="510.2" r="2.8"/><circle class="cr" cx="188.0" cy="516.5" r="3.1"/><circle class="cr" cx="173.6" cy="535.0" r="3.1"/><circle class="cr" cx="94.8" cy="627.4" r="3.1"/><circle class="cr" cx="129.4" cy="551.9" r="3.1"/><circle class="cr" cx="115.1" cy="611.7" r="3.1"/><circle class="cw" cx="102.1" cy="567.1" r="2.8"/><circle class="cw" cx="103.5" cy="501.0" r="2.8"/><circle class="cw" cx="122.0" cy="505.7" r="2.8"/><circle class="cw" cx="194.7" cy="501.0" r="2.8"/><circle class="cw" cx="127.8" cy="553.3" r="2.8"/><circle class="cr" cx="89.3" cy="544.8" r="3.1"/><circle class="cw" cx="206.6" cy="602.0" r="2.8"/><circle class="cr" cx="188.5" cy="572.1" r="3.1"/><circle class="cw" cx="195.5" cy="502.0" r="2.8"/><circle class="cw" cx="175.8" cy="635.8" r="2.8"/><circle class="cr" cx="169.7" cy="611.5" r="3.1"/><circle class="cr" cx="105.3" cy="612.8" r="3.1"/><circle class="cr" cx="204.6" cy="599.1" r="3.1"/><circle class="cw" cx="195.3" cy="542.4" r="2.8"/><circle class="cw" cx="190.7" cy="577.7" r="2.8"/><circle class="cw" cx="144.1" cy="511.5" r="2.8"/><circle class="cr" cx="176.2" cy="597.4" r="3.1"/><circle class="cw" cx="94.0" cy="520.9" r="2.8"/><circle class="cw" cx="105.5" cy="491.8" r="2.8"/><circle class="cr" cx="103.8" cy="629.4" r="3.1"/><circle class="cw" cx="174.5" cy="589.4" r="2.8"/><circle class="cr" cx="186.0" cy="631.7" r="3.1"/><circle class="cr" cx="158.9" cy="579.7" r="3.1"/><circle class="cw" cx="106.6" cy="544.8" r="2.8"/><circle class="cr" cx="225.2" cy="578.7" r="3.1"/><circle class="cr" cx="100.4" cy="546.8" r="3.1"/><circle class="cw" cx="201.6" cy="549.9" r="2.8"/><circle class="cr" cx="139.0" cy="552.7" r="3.1"/><circle class="cr" cx="149.2" cy="574.3" r="3.1"/><circle class="cw" cx="116.5" cy="534.1" r="2.8"/><circle class="cr" cx="173.8" cy="628.8" r="3.1"/><circle class="cw" cx="112.1" cy="484.6" r="2.8"/><circle class="cr" cx="171.2" cy="580.4" r="3.1"/><circle class="cr" cx="107.8" cy="596.3" r="3.1"/><circle class="cw" cx="104.9" cy="517.8" r="2.8"/><circle class="cw" cx="75.1" cy="502.9" r="2.8"/><circle class="cw" cx="190.4" cy="620.0" r="2.8"/><circle class="cr" cx="191.7" cy="619.9" r="3.1"/><circle class="cw" cx="163.3" cy="511.3" r="2.8"/><circle class="cw" cx="218.1" cy="595.0" r="2.8"/><circle class="cw" cx="126.6" cy="610.9" r="2.8"/><circle class="cr" cx="119.9" cy="619.4" r="3.1"/><circle class="cr" cx="88.1" cy="532.5" r="3.1"/><circle class="cw" cx="161.9" cy="593.2" r="2.8"/><circle class="cw" cx="167.4" cy="524.2" r="2.8"/><circle class="cw" cx="188.6" cy="510.8" r="2.8"/><circle class="cw" cx="97.6" cy="516.5" r="2.8"/><circle class="cw" cx="111.8" cy="592.2" r="2.8"/><circle class="cw" cx="122.9" cy="574.5" r="2.8"/><circle class="cw" cx="116.3" cy="512.3" r="2.8"/><circle class="cr" cx="93.9" cy="506.5" r="3.1"/><circle class="cw" cx="85.9" cy="520.0" r="2.8"/><circle class="cr" cx="153.6" cy="497.0" r="3.1"/><circle class="cw" cx="202.7" cy="546.0" r="2.8"/><circle class="cw" cx="161.8" cy="617.7" r="2.8"/><circle class="cw" cx="115.3" cy="481.9" r="2.8"/><circle class="cr" cx="174.9" cy="505.0" r="3.1"/><circle class="cr" cx="99.3" cy="576.9" r="3.1"/><circle class="cr" cx="118.0" cy="602.2" r="3.1"/><circle class="cr" cx="90.2" cy="619.7" r="3.1"/><circle class="cr" cx="153.5" cy="559.9" r="3.1"/><circle class="cr" cx="81.5" cy="627.6" r="3.1"/><circle class="cr" cx="71.5" cy="537.7" r="3.1"/><circle class="cw" cx="116.0" cy="491.8" r="2.8"/><circle class="cw" cx="124.7" cy="613.9" r="2.8"/><circle class="cr" cx="202.0" cy="605.3" r="3.1"/><circle class="cr" cx="206.1" cy="561.1" r="3.1"/><circle class="cw" cx="98.6" cy="601.2" r="2.8"/><circle class="cw" cx="91.4" cy="580.8" r="2.8"/><circle class="cr" cx="59.4" cy="573.9" r="3.1"/><circle class="cr" cx="191.3" cy="532.2" r="3.1"/><circle class="cr" cx="139.3" cy="504.1" r="3.1"/><circle class="cw" cx="214.2" cy="605.3" r="2.8"/><circle class="cw" cx="199.4" cy="625.1" r="2.8"/><circle class="cw" cx="100.9" cy="505.8" r="2.8"/><circle class="cw" cx="88.7" cy="576.8" r="2.8"/><circle class="cr" cx="79.9" cy="503.5" r="3.1"/><circle class="cr" cx="187.5" cy="633.3" r="3.1"/><circle class="cw" cx="113.2" cy="556.4" r="2.8"/><circle class="cw" cx="59.5" cy="527.1" r="2.8"/><circle class="cw" cx="179.2" cy="595.6" r="2.8"/><circle class="cr" cx="182.5" cy="544.5" r="3.1"/><circle class="cw" cx="118.0" cy="622.0" r="2.8"/><circle class="cw" cx="84.0" cy="605.2" r="2.8"/><circle class="cr" cx="82.3" cy="528.4" r="3.1"/><circle class="cw" cx="63.5" cy="548.4" r="2.8"/><circle class="cr" cx="172.8" cy="509.0" r="3.1"/><circle class="cw" cx="102.8" cy="485.5" r="2.8"/><circle class="cw" cx="189.3" cy="562.7" r="2.8"/><circle class="cw" cx="170.5" cy="482.5" r="2.8"/><circle class="cw" cx="106.8" cy="566.4" r="2.8"/><circle class="cr" cx="55.1" cy="584.8" r="3.1"/><circle class="cr" cx="126.8" cy="615.3" r="3.1"/><circle class="cr" cx="68.6" cy="574.2" r="3.1"/><circle class="cw" cx="73.8" cy="559.5" r="2.8"/><circle class="cr" cx="175.3" cy="495.7" r="3.1"/><circle class="cr" cx="159.9" cy="570.6" r="3.1"/><circle class="cw" cx="149.9" cy="551.9" r="2.8"/><circle class="cw" cx="183.4" cy="622.4" r="2.8"/><circle class="cr" cx="100.5" cy="511.4" r="3.1"/><circle class="cr" cx="89.5" cy="492.1" r="3.1"/><circle class="cr" cx="146.0" cy="581.5" r="3.1"/><circle class="cr" cx="117.6" cy="497.1" r="3.1"/><circle class="cr" cx="167.6" cy="562.9" r="3.1"/><circle class="cw" cx="152.7" cy="497.1" r="2.8"/><circle class="cw" cx="130.8" cy="487.3" r="2.8"/><circle class="cw" cx="138.5" cy="532.6" r="2.8"/><circle class="cw" cx="102.8" cy="496.0" r="2.8"/><circle class="cw" cx="188.6" cy="586.3" r="2.8"/><circle class="cw" cx="196.1" cy="565.3" r="2.8"/><circle class="cw" cx="143.3" cy="519.1" r="2.8"/><circle class="cw" cx="106.5" cy="492.8" r="2.8"/><circle class="cr" cx="188.3" cy="609.1" r="3.1"/><circle class="cw" cx="140.8" cy="563.7" r="2.8"/><circle class="cw" cx="158.9" cy="533.3" r="2.8"/><circle class="cr" cx="171.5" cy="490.4" r="3.1"/><circle class="cw" cx="152.0" cy="500.6" r="2.8"/><circle class="cr" cx="98.9" cy="585.0" r="3.1"/><circle class="cw" cx="120.4" cy="623.0" r="2.8"/><circle class="cr" cx="89.0" cy="554.3" r="3.1"/><circle class="cw" cx="120.0" cy="610.2" r="2.8"/><circle class="cr" cx="209.1" cy="573.1" r="3.1"/><circle class="cw" cx="193.6" cy="622.7" r="2.8"/><circle class="cw" cx="63.3" cy="588.9" r="2.8"/><circle class="cr" cx="95.6" cy="618.1" r="3.1"/><circle class="cw" cx="80.3" cy="599.1" r="2.8"/><circle class="cw" cx="91.6" cy="552.1" r="2.8"/><circle class="cw" cx="59.4" cy="527.5" r="2.8"/><circle class="cw" cx="207.6" cy="559.6" r="2.8"/><circle class="cr" cx="92.1" cy="577.2" r="3.1"/><circle class="cr" cx="104.1" cy="515.5" r="3.1"/><circle class="cw" cx="203.0" cy="571.3" r="2.8"/><circle class="cw" cx="164.8" cy="590.5" r="2.8"/><circle class="cw" cx="160.6" cy="585.0" r="2.8"/><circle class="cw" cx="183.9" cy="493.1" r="2.8"/><circle class="cw" cx="88.1" cy="625.3" r="2.8"/><circle class="cr" cx="108.3" cy="610.9" r="3.1"/><circle class="cr" cx="165.3" cy="614.8" r="3.1"/><circle class="cw" cx="67.6" cy="606.7" r="2.8"/><circle class="cr" cx="116.5" cy="525.2" r="3.1"/><circle class="cr" cx="134.3" cy="610.6" r="3.1"/><circle class="cr" cx="173.3" cy="551.2" r="3.1"/><circle class="cw" cx="114.1" cy="552.6" r="2.8"/><circle class="cw" cx="93.1" cy="630.6" r="2.8"/><circle class="cw" cx="161.0" cy="602.4" r="2.8"/><circle class="cw" cx="177.7" cy="532.5" r="2.8"/><circle class="cw" cx="119.6" cy="532.9" r="2.8"/><circle class="cr" cx="124.5" cy="491.0" r="3.1"/><circle class="cw" cx="117.3" cy="564.8" r="2.8"/><circle class="cw" cx="202.7" cy="584.3" r="2.8"/><circle class="cw" cx="195.8" cy="606.7" r="2.8"/><circle class="cw" cx="66.8" cy="586.1" r="2.8"/><circle class="cw" cx="113.9" cy="546.5" r="2.8"/><circle class="cw" cx="186.8" cy="617.5" r="2.8"/><circle class="cr" cx="93.1" cy="582.5" r="3.1"/><circle class="cw" cx="222.0" cy="569.8" r="2.8"/><circle class="cw" cx="112.5" cy="640.3" r="2.8"/><circle class="cw" cx="99.8" cy="591.0" r="2.8"/><circle class="cr" cx="172.0" cy="573.0" r="3.1"/><circle class="cr" cx="76.8" cy="522.5" r="3.1"/><circle class="cw" cx="157.6" cy="591.9" r="2.8"/><circle class="cw" cx="186.3" cy="569.4" r="2.8"/><circle class="cw" cx="111.2" cy="512.3" r="2.8"/><circle class="cr" cx="112.5" cy="606.8" r="3.1"/><circle class="cr" cx="194.6" cy="522.9" r="3.1"/><circle class="cw" cx="180.0" cy="513.0" r="2.8"/><circle class="cw" cx="150.7" cy="510.9" r="2.8"/><circle class="cw" cx="160.6" cy="623.7" r="2.8"/><circle class="cw" cx="63.1" cy="573.5" r="2.8"/><circle class="cw" cx="88.0" cy="620.4" r="2.8"/><circle class="cr" cx="81.8" cy="625.8" r="3.1"/><circle class="cr" cx="155.4" cy="619.7" r="3.1"/><circle class="cw" cx="109.2" cy="499.1" r="2.8"/><circle class="cr" cx="62.2" cy="584.9" r="3.1"/><circle class="cw" cx="209.6" cy="523.5" r="2.8"/><circle class="cr" cx="160.9" cy="492.4" r="3.1"/><circle class="cw" cx="149.7" cy="497.1" r="2.8"/><circle class="cr" cx="218.2" cy="586.6" r="3.1"/><circle class="cr" cx="188.2" cy="626.6" r="3.1"/><circle class="cw" cx="189.5" cy="585.2" r="2.8"/><circle class="cw" cx="92.4" cy="519.8" r="2.8"/><circle class="cw" cx="220.5" cy="566.1" r="2.8"/><circle class="cw" cx="99.2" cy="517.3" r="2.8"/><circle class="cw" cx="205.5" cy="611.1" r="2.8"/><circle class="cr" cx="105.4" cy="610.8" r="3.1"/><circle class="cw" cx="110.6" cy="523.0" r="2.8"/><circle class="cw" cx="122.9" cy="589.0" r="2.8"/><circle class="cr" cx="204.9" cy="606.9" r="3.1"/><circle class="cw" cx="153.7" cy="559.7" r="2.8"/><circle class="cw" cx="70.4" cy="590.9" r="2.8"/><circle class="cw" cx="161.7" cy="560.9" r="2.8"/><circle class="cr" cx="141.1" cy="636.1" r="3.1"/><circle class="cw" cx="200.6" cy="619.2" r="2.8"/><circle class="cw" cx="55.1" cy="552.5" r="2.8"/><circle class="cw" cx="79.6" cy="596.1" r="2.8"/><circle class="cw" cx="136.8" cy="517.6" r="2.8"/><circle class="cw" cx="205.1" cy="597.2" r="2.8"/><circle class="cw" cx="144.2" cy="496.9" r="2.8"/><circle class="cw" cx="112.2" cy="579.5" r="2.8"/><circle class="cw" cx="97.1" cy="547.9" r="2.8"/><circle class="cr" cx="112.3" cy="623.1" r="3.1"/><circle class="cr" cx="90.4" cy="490.6" r="3.1"/><circle class="cw" cx="123.0" cy="572.5" r="2.8"/><circle class="cw" cx="146.0" cy="553.8" r="2.8"/><circle class="cr" cx="167.3" cy="573.0" r="3.1"/><circle class="cw" cx="162.5" cy="601.5" r="2.8"/><circle class="cw" cx="70.9" cy="558.6" r="2.8"/><circle class="cw" cx="213.8" cy="559.1" r="2.8"/><circle class="cr" cx="156.2" cy="562.5" r="3.1"/><circle class="cw" cx="154.5" cy="483.3" r="2.8"/><circle class="cr" cx="93.4" cy="588.3" r="3.1"/><circle class="cw" cx="201.9" cy="521.9" r="2.8"/><circle class="cw" cx="223.4" cy="570.1" r="2.8"/><circle class="cr" cx="147.7" cy="580.0" r="3.1"/><circle class="cr" cx="114.8" cy="636.9" r="3.1"/><circle class="cr" cx="89.0" cy="529.0" r="3.1"/><circle class="cw" cx="153.0" cy="535.7" r="2.8"/><circle class="cr" cx="95.8" cy="498.8" r="3.1"/><circle class="cw" cx="166.7" cy="538.1" r="2.8"/><circle class="cw" cx="72.0" cy="602.6" r="2.8"/><circle class="cr" cx="134.8" cy="570.4" r="3.1"/><circle class="cw" cx="162.9" cy="509.2" r="2.8"/><circle class="cw" cx="161.4" cy="544.4" r="2.8"/><circle class="cw" cx="94.8" cy="544.3" r="2.8"/><circle class="cw" cx="137.5" cy="589.4" r="2.8"/><circle class="cw" cx="113.9" cy="552.6" r="2.8"/><circle class="cw" cx="210.3" cy="534.8" r="2.8"/><circle class="cr" cx="63.4" cy="550.2" r="3.1"/><circle class="cw" cx="114.6" cy="643.2" r="2.8"/><circle class="cr" cx="190.3" cy="550.2" r="3.1"/><circle class="cw" cx="87.7" cy="490.2" r="2.8"/><circle class="cr" cx="179.4" cy="555.3" r="3.1"/><circle class="cr" cx="131.8" cy="632.9" r="3.1"/><circle class="cr" cx="200.3" cy="588.1" r="3.1"/><circle class="cw" cx="113.7" cy="550.4" r="2.8"/><circle class="cr" cx="105.8" cy="583.1" r="3.1"/><circle class="cw" cx="169.2" cy="590.1" r="2.8"/><circle class="cw" cx="136.7" cy="513.4" r="2.8"/><circle class="cr" cx="181.8" cy="510.9" r="3.1"/><circle class="cw" cx="174.2" cy="512.8" r="2.8"/><circle class="cr" cx="168.2" cy="583.0" r="3.1"/><circle class="cw" cx="182.2" cy="500.6" r="2.8"/><circle class="cr" cx="204.5" cy="600.1" r="3.1"/><circle class="cw" cx="111.6" cy="571.8" r="2.8"/><circle class="cw" cx="139.6" cy="548.8" r="2.8"/><circle class="cw" cx="149.6" cy="595.5" r="2.8"/><circle class="cr" cx="170.2" cy="492.1" r="3.1"/><circle class="cw" cx="75.8" cy="576.8" r="2.8"/><circle class="cr" cx="81.9" cy="564.6" r="3.1"/><circle class="cw" cx="138.5" cy="492.2" r="2.8"/><circle class="cw" cx="130.3" cy="512.4" r="2.8"/><circle class="cw" cx="164.5" cy="492.5" r="2.8"/><circle class="cw" cx="136.3" cy="521.0" r="2.8"/><circle class="cr" cx="194.1" cy="603.5" r="3.1"/><circle class="cr" cx="168.8" cy="601.1" r="3.1"/><circle class="cw" cx="151.8" cy="573.0" r="2.8"/><circle class="cr" cx="126.2" cy="554.0" r="3.1"/><circle class="cr" cx="103.7" cy="618.8" r="3.1"/><circle class="cr" cx="94.8" cy="533.7" r="3.1"/><circle class="cw" cx="110.8" cy="612.9" r="2.8"/><circle class="cw" cx="164.6" cy="481.3" r="2.8"/><circle class="cw" cx="123.2" cy="516.6" r="2.8"/><circle class="cr" cx="210.8" cy="596.0" r="3.1"/><circle class="cw" cx="84.9" cy="621.9" r="2.8"/><circle class="cw" cx="171.5" cy="511.7" r="2.8"/><circle class="cw" cx="139.2" cy="525.3" r="2.8"/><circle class="cr" cx="156.6" cy="610.9" r="3.1"/><circle class="cw" cx="114.7" cy="526.9" r="2.8"/><circle class="cw" cx="137.5" cy="566.4" r="2.8"/><circle class="cw" cx="196.1" cy="499.9" r="2.8"/><circle class="cr" cx="97.3" cy="631.5" r="3.1"/><circle class="cr" cx="177.7" cy="484.2" r="3.1"/><circle class="cr" cx="108.9" cy="533.5" r="3.1"/><circle class="cw" cx="80.0" cy="500.3" r="2.8"/><circle class="cr" cx="124.8" cy="612.0" r="3.1"/><circle class="cr" cx="177.5" cy="551.7" r="3.1"/><circle class="cw" cx="130.9" cy="520.7" r="2.8"/><circle class="cw" cx="171.5" cy="533.8" r="2.8"/><circle class="cw" cx="118.6" cy="559.8" r="2.8"/><circle class="cw" cx="72.0" cy="599.4" r="2.8"/><circle class="cr" cx="148.9" cy="570.7" r="3.1"/><circle class="cr" cx="138.3" cy="523.5" r="3.1"/><circle class="cw" cx="60.9" cy="565.1" r="2.8"/><circle class="cw" cx="149.9" cy="635.5" r="2.8"/><circle class="cw" cx="127.3" cy="577.2" r="2.8"/><circle class="cr" cx="74.4" cy="554.4" r="3.1"/><circle class="cw" cx="148.9" cy="501.1" r="2.8"/><circle class="cr" cx="132.1" cy="643.0" r="3.1"/><circle class="cw" cx="172.6" cy="614.2" r="2.8"/><circle class="cw" cx="208.6" cy="611.8" r="2.8"/><circle class="cw" cx="154.5" cy="627.6" r="2.8"/><circle class="cw" cx="154.6" cy="578.3" r="2.8"/><circle class="cr" cx="198.4" cy="524.8" r="3.1"/><circle class="cr" cx="105.1" cy="528.5" r="3.1"/><circle class="cw" cx="132.8" cy="591.8" r="2.8"/><circle class="cw" cx="171.2" cy="544.3" r="2.8"/><circle class="cr" cx="67.4" cy="594.5" r="3.1"/><circle class="cw" cx="74.5" cy="590.6" r="2.8"/><circle class="cw" cx="192.5" cy="600.1" r="2.8"/><circle class="cw" cx="159.1" cy="553.4" r="2.8"/><circle class="cw" cx="168.7" cy="591.9" r="2.8"/><circle class="cr" cx="98.9" cy="580.4" r="3.1"/><circle class="cw" cx="87.4" cy="606.0" r="2.8"/><circle class="cw" cx="187.3" cy="615.3" r="2.8"/><circle class="cw" cx="193.6" cy="630.5" r="2.8"/><circle class="cw" cx="215.2" cy="603.6" r="2.8"/><circle class="cw" cx="105.7" cy="554.3" r="2.8"/><circle class="cw" cx="80.2" cy="609.1" r="2.8"/><circle class="cw" cx="197.5" cy="508.0" r="2.8"/><circle class="cw" cx="189.5" cy="561.5" r="2.8"/><circle class="cw" cx="189.9" cy="625.4" r="2.8"/><circle class="cr" cx="157.2" cy="568.3" r="3.1"/><circle class="cr" cx="214.9" cy="589.3" r="3.1"/><circle class="cw" cx="112.7" cy="495.1" r="2.8"/><circle class="cr" cx="142.4" cy="577.0" r="3.1"/><circle class="cw" cx="55.0" cy="557.6" r="2.8"/><circle class="cw" cx="187.2" cy="553.5" r="2.8"/><circle class="cw" cx="169.1" cy="623.6" r="2.8"/><circle class="cw" cx="138.3" cy="627.3" r="2.8"/><circle class="cw" cx="155.9" cy="558.2" r="2.8"/><circle class="cw" cx="207.8" cy="518.3" r="2.8"/><circle class="cr" cx="125.8" cy="580.4" r="3.1"/><circle class="cr" cx="55.5" cy="583.8" r="3.1"/><circle class="cw" cx="161.8" cy="609.7" r="2.8"/><circle class="cw" cx="132.0" cy="629.0" r="2.8"/><circle class="cw" cx="59.4" cy="572.8" r="2.8"/><circle class="cw" cx="197.8" cy="541.1" r="2.8"/><circle class="cr" cx="168.9" cy="557.2" r="3.1"/><circle class="cw" cx="165.8" cy="637.2" r="2.8"/><circle class="cw" cx="133.8" cy="496.4" r="2.8"/><circle class="cr" cx="155.5" cy="492.8" r="3.1"/><circle class="cw" cx="208.5" cy="568.9" r="2.8"/><circle class="cr" cx="156.8" cy="496.9" r="3.1"/><circle class="cw" cx="87.8" cy="593.7" r="2.8"/><circle class="cw" cx="190.5" cy="624.6" r="2.8"/><circle class="cr" cx="108.8" cy="541.4" r="3.1"/><circle class="cr" cx="95.8" cy="513.4" r="3.1"/><circle class="cr" cx="55.3" cy="570.7" r="3.1"/><circle class="cw" cx="176.6" cy="600.9" r="2.8"/><circle class="cr" cx="183.2" cy="559.4" r="3.1"/><circle class="cr" cx="140.1" cy="522.2" r="3.1"/><circle class="cw" cx="210.1" cy="612.2" r="2.8"/><circle class="cr" cx="105.8" cy="537.2" r="3.1"/><circle class="cr" cx="197.2" cy="547.9" r="3.1"/><circle class="cw" cx="193.9" cy="524.7" r="2.8"/><circle class="cw" cx="212.7" cy="536.7" r="2.8"/><circle class="cr" cx="93.3" cy="618.8" r="3.1"/><circle class="cr" cx="126.6" cy="523.4" r="3.1"/><circle class="cw" cx="79.8" cy="617.2" r="2.8"/><circle class="cr" cx="161.7" cy="623.3" r="3.1"/><circle class="cw" cx="162.5" cy="551.8" r="2.8"/><circle class="cw" cx="127.6" cy="536.9" r="2.8"/><circle class="cr" cx="167.7" cy="520.1" r="3.1"/><circle class="cw" cx="83.8" cy="554.8" r="2.8"/><circle class="cr" cx="95.3" cy="504.7" r="3.1"/><circle class="cw" cx="163.2" cy="589.2" r="2.8"/><circle class="cr" cx="181.8" cy="503.0" r="3.1"/><circle class="cr" cx="179.1" cy="531.2" r="3.1"/><circle class="cw" cx="182.9" cy="596.7" r="2.8"/><circle class="cr" cx="79.4" cy="528.6" r="3.1"/><circle class="cr" cx="90.8" cy="511.3" r="3.1"/><circle class="cw" cx="68.4" cy="521.6" r="2.8"/><circle class="cw" cx="165.4" cy="487.4" r="2.8"/><circle class="cr" cx="129.4" cy="490.3" r="3.1"/><circle class="cr" cx="121.8" cy="632.2" r="3.1"/><circle class="cw" cx="156.7" cy="622.5" r="2.8"/><circle class="cw" cx="179.8" cy="491.3" r="2.8"/><circle class="cw" cx="141.0" cy="480.1" r="2.8"/><circle class="cw" cx="128.0" cy="547.6" r="2.8"/><circle class="cr" cx="116.8" cy="523.6" r="3.1"/><circle class="cr" cx="219.2" cy="600.6" r="3.1"/><circle class="cr" cx="85.6" cy="623.2" r="3.1"/><circle class="cr" cx="84.8" cy="629.9" r="3.1"/><circle class="cw" cx="136.6" cy="629.4" r="2.8"/><circle class="cr" cx="133.8" cy="534.8" r="3.1"/><circle class="cw" cx="72.7" cy="526.3" r="2.8"/><circle class="cw" cx="189.1" cy="627.9" r="2.8"/><circle class="cr" cx="88.5" cy="630.6" r="3.1"/><circle class="cw" cx="204.1" cy="611.1" r="2.8"/><circle class="cr" cx="185.7" cy="603.0" r="3.1"/><circle class="cr" cx="165.9" cy="573.7" r="3.1"/><circle class="cr" cx="88.4" cy="497.2" r="3.1"/><circle class="cr" cx="112.5" cy="524.9" r="3.1"/><circle class="cw" cx="144.1" cy="641.4" r="2.8"/><circle class="cw" cx="104.4" cy="574.9" r="2.8"/><circle class="cw" cx="213.6" cy="570.3" r="2.8"/><circle class="cr" cx="60.4" cy="530.9" r="3.1"/><circle class="cw" cx="90.7" cy="540.0" r="2.8"/><circle class="cw" cx="192.9" cy="574.0" r="2.8"/><circle class="cr" cx="84.3" cy="588.9" r="3.1"/><circle class="cw" cx="71.6" cy="602.7" r="2.8"/><circle class="cw" cx="149.3" cy="498.1" r="2.8"/><circle class="cw" cx="160.7" cy="504.4" r="2.8"/><circle class="cr" cx="195.2" cy="612.4" r="3.1"/><circle class="cr" cx="132.1" cy="569.8" r="3.1"/><circle class="cr" cx="201.2" cy="602.9" r="3.1"/><circle class="cr" cx="93.3" cy="587.8" r="3.1"/><circle class="cr" cx="149.1" cy="607.1" r="3.1"/><circle class="cw" cx="155.4" cy="611.6" r="2.8"/><circle class="cw" cx="99.1" cy="640.2" r="2.8"/><circle class="cr" cx="182.2" cy="618.0" r="3.1"/><circle class="cw" cx="141.5" cy="539.9" r="2.8"/><circle class="cw" cx="170.0" cy="629.8" r="2.8"/><circle class="cr" cx="66.7" cy="587.4" r="3.1"/><circle class="cr" cx="100.3" cy="586.5" r="3.1"/><circle class="cw" cx="108.7" cy="638.8" r="2.8"/><circle class="cr" cx="94.4" cy="611.0" r="3.1"/><circle class="cw" cx="111.5" cy="642.2" r="2.8"/><circle class="cr" cx="123.4" cy="498.9" r="3.1"/><circle class="cw" cx="210.2" cy="540.5" r="2.8"/><circle class="cw" cx="113.1" cy="637.7" r="2.8"/><circle class="cw" cx="92.0" cy="603.3" r="2.8"/><circle class="cw" cx="54.7" cy="552.8" r="2.8"/><circle class="cr" cx="209.1" cy="574.7" r="3.1"/><circle class="cr" cx="93.2" cy="500.1" r="3.1"/><circle class="cr" cx="167.1" cy="506.3" r="3.1"/><circle class="cw" cx="109.2" cy="536.5" r="2.8"/><circle class="cr" cx="117.4" cy="533.1" r="3.1"/><circle class="cw" cx="213.5" cy="562.5" r="2.8"/><circle class="cw" cx="164.9" cy="596.9" r="2.8"/><circle class="cw" cx="188.0" cy="564.9" r="2.8"/><circle class="cw" cx="90.7" cy="540.1" r="2.8"/><circle class="cw" cx="93.0" cy="574.6" r="2.8"/><circle class="cw" cx="121.0" cy="583.6" r="2.8"/><circle class="cw" cx="99.5" cy="554.0" r="2.8"/><circle class="cr" cx="98.9" cy="626.9" r="3.1"/><circle class="cw" cx="217.1" cy="563.3" r="2.8"/><circle class="cw" cx="115.5" cy="640.6" r="2.8"/><circle class="cw" cx="131.7" cy="545.4" r="2.8"/><circle class="cw" cx="65.5" cy="518.5" r="2.8"/><circle class="cw" cx="143.2" cy="641.9" r="2.8"/><circle class="cr" cx="164.6" cy="560.4" r="3.1"/><circle class="cw" cx="117.2" cy="558.2" r="2.8"/><circle class="cw" cx="150.9" cy="522.5" r="2.8"/><circle class="cw" cx="125.4" cy="548.9" r="2.8"/><circle class="cw" cx="84.4" cy="531.4" r="2.8"/><circle class="cw" cx="56.0" cy="580.0" r="2.8"/><circle class="cw" cx="124.6" cy="622.1" r="2.8"/><circle class="cr" cx="167.5" cy="556.4" r="3.1"/><circle class="cw" cx="132.2" cy="578.2" r="2.8"/><circle class="cw" cx="203.2" cy="586.0" r="2.8"/><circle class="cw" cx="155.7" cy="522.6" r="2.8"/><circle class="cw" cx="219.0" cy="568.8" r="2.8"/><circle class="cr" cx="160.3" cy="637.9" r="3.1"/><circle class="cr" cx="116.7" cy="488.4" r="3.1"/><circle class="cw" cx="79.2" cy="603.0" r="2.8"/><circle class="cw" cx="83.6" cy="568.2" r="2.8"/><circle class="cw" cx="103.0" cy="559.6" r="2.8"/><circle class="cw" cx="104.3" cy="571.7" r="2.8"/><circle class="cr" cx="165.5" cy="489.5" r="3.1"/><circle class="cr" cx="160.2" cy="554.9" r="3.1"/><circle class="cr" cx="131.7" cy="600.2" r="3.1"/><circle class="cr" cx="52.1" cy="587.8" r="3.1"/><circle class="cr" cx="141.4" cy="594.4" r="3.1"/><circle class="cr" cx="208.9" cy="580.1" r="3.1"/><circle class="cw" cx="163.1" cy="538.9" r="2.8"/><circle class="cw" cx="172.2" cy="544.5" r="2.8"/><circle class="cr" cx="176.5" cy="615.4" r="3.1"/><circle class="cw" cx="167.8" cy="529.3" r="2.8"/><circle class="cr" cx="187.5" cy="603.1" r="3.1"/><circle class="cr" cx="66.4" cy="593.9" r="3.1"/><circle class="cw" cx="182.2" cy="562.0" r="2.8"/><circle class="cr" cx="108.8" cy="520.4" r="3.1"/><circle class="cw" cx="118.3" cy="520.8" r="2.8"/><circle class="cr" cx="124.6" cy="642.7" r="3.1"/><circle class="cr" cx="133.1" cy="534.6" r="3.1"/><circle class="cw" cx="134.2" cy="623.6" r="2.8"/><circle class="cr" cx="198.3" cy="541.2" r="3.1"/><circle class="cw" cx="89.6" cy="492.9" r="2.8"/><circle class="cw" cx="108.2" cy="501.1" r="2.8"/><circle class="cw" cx="124.8" cy="629.9" r="2.8"/><circle class="cr" cx="207.7" cy="533.3" r="3.1"/><circle class="cw" cx="113.3" cy="561.3" r="2.8"/><circle class="cw" cx="63.5" cy="610.2" r="2.8"/><circle class="cw" cx="97.6" cy="603.9" r="2.8"/><circle class="cw" cx="191.2" cy="587.5" r="2.8"/><circle class="cr" cx="106.2" cy="583.4" r="3.1"/><circle class="cr" cx="101.7" cy="590.9" r="3.1"/><circle class="cw" cx="163.5" cy="526.2" r="2.8"/><circle class="cw" cx="98.8" cy="622.6" r="2.8"/><circle class="cw" cx="197.8" cy="523.8" r="2.8"/><circle class="cr" cx="136.2" cy="478.1" r="3.1"/><circle class="cw" cx="107.0" cy="511.8" r="2.8"/><circle class="cw" cx="206.0" cy="569.9" r="2.8"/><circle class="cw" cx="107.7" cy="491.5" r="2.8"/><circle class="cw" cx="136.9" cy="518.9" r="2.8"/><circle class="cr" cx="159.4" cy="563.1" r="3.1"/><circle class="cw" cx="138.3" cy="558.1" r="2.8"/><circle class="cw" cx="122.4" cy="509.6" r="2.8"/><circle class="cw" cx="159.9" cy="521.2" r="2.8"/><circle class="cr" cx="174.6" cy="506.5" r="3.1"/><circle class="cr" cx="108.5" cy="585.6" r="3.1"/><circle class="cw" cx="133.5" cy="494.7" r="2.8"/><circle class="cw" cx="146.4" cy="508.4" r="2.8"/><circle class="cw" cx="161.9" cy="619.4" r="2.8"/><circle class="cr" cx="105.4" cy="576.6" r="3.1"/><circle class="cw" cx="109.0" cy="482.9" r="2.8"/><circle class="cw" cx="214.2" cy="579.2" r="2.8"/><circle class="cw" cx="144.8" cy="623.0" r="2.8"/><circle class="cw" cx="80.9" cy="581.2" r="2.8"/><circle class="cr" cx="155.2" cy="595.3" r="3.1"/><circle class="cr" cx="146.6" cy="526.1" r="3.1"/><circle class="cr" cx="178.5" cy="571.0" r="3.1"/><circle class="cw" cx="116.9" cy="517.5" r="2.8"/><circle class="cr" cx="138.3" cy="572.8" r="3.1"/><circle class="cw" cx="142.2" cy="575.0" r="2.8"/><circle class="cr" cx="220.9" cy="582.0" r="3.1"/><circle class="cr" cx="146.6" cy="534.4" r="3.1"/><circle class="cw" cx="142.5" cy="510.0" r="2.8"/><circle class="cw" cx="105.7" cy="519.0" r="2.8"/><circle class="cr" cx="193.7" cy="529.0" r="3.1"/><circle class="cw" cx="118.8" cy="571.4" r="2.8"/><circle class="cw" cx="100.5" cy="555.4" r="2.8"/><circle class="cr" cx="90.5" cy="512.9" r="3.1"/><circle class="cw" cx="72.2" cy="508.5" r="2.8"/><circle class="cw" cx="67.3" cy="521.6" r="2.8"/><circle class="cr" cx="197.5" cy="599.1" r="3.1"/><circle class="cw" cx="210.5" cy="538.7" r="2.8"/><circle class="cw" cx="185.4" cy="536.4" r="2.8"/><circle class="cw" cx="89.7" cy="552.4" r="2.8"/><circle class="cw" cx="90.3" cy="538.5" r="2.8"/><circle class="cr" cx="209.7" cy="589.8" r="3.1"/><circle class="cw" cx="78.8" cy="622.3" r="2.8"/><circle class="cr" cx="58.3" cy="531.4" r="3.1"/><circle class="cr" cx="142.1" cy="579.2" r="3.1"/><circle class="cw" cx="129.2" cy="543.2" r="2.8"/><circle class="cw" cx="106.4" cy="525.0" r="2.8"/><circle class="cr" cx="174.4" cy="525.2" r="3.1"/><circle class="cr" cx="197.6" cy="608.5" r="3.1"/><circle class="cw" cx="159.0" cy="632.4" r="2.8"/><circle class="cw" cx="190.6" cy="580.4" r="2.8"/><circle class="cw" cx="99.7" cy="547.0" r="2.8"/><circle class="cw" cx="107.1" cy="555.0" r="2.8"/><circle class="cr" cx="162.1" cy="592.3" r="3.1"/><circle class="cr" cx="99.7" cy="578.1" r="3.1"/><circle class="cr" cx="74.5" cy="595.7" r="3.1"/><circle class="cw" cx="167.1" cy="624.6" r="2.8"/><circle class="cr" cx="129.9" cy="635.6" r="3.1"/><circle class="cw" cx="88.3" cy="619.6" r="2.8"/><circle class="cw" cx="150.5" cy="553.0" r="2.8"/><circle class="cw" cx="209.8" cy="526.7" r="2.8"/><circle class="cw" cx="214.8" cy="566.1" r="2.8"/><circle class="cw" cx="105.4" cy="489.8" r="2.8"/><circle class="cw" cx="82.0" cy="619.8" r="2.8"/><circle class="cw" cx="75.9" cy="540.8" r="2.8"/><circle class="cw" cx="190.8" cy="596.9" r="2.8"/><circle class="cw" cx="109.2" cy="521.3" r="2.8"/><circle class="cr" cx="121.3" cy="611.6" r="3.1"/><circle class="cr" cx="202.6" cy="580.2" r="3.1"/><circle class="cw" cx="179.3" cy="576.3" r="2.8"/><circle class="cw" cx="86.0" cy="553.7" r="2.8"/><circle class="cw" cx="130.2" cy="624.8" r="2.8"/><circle class="cr" cx="220.4" cy="566.6" r="3.1"/><circle class="cw" cx="91.4" cy="599.6" r="2.8"/><circle class="cw" cx="126.3" cy="552.5" r="2.8"/><circle class="cr" cx="106.0" cy="538.5" r="3.1"/><circle class="cw" cx="167.4" cy="585.5" r="2.8"/><circle class="cr" cx="133.6" cy="538.5" r="3.1"/><circle class="cr" cx="163.6" cy="552.8" r="3.1"/><circle class="cr" cx="115.7" cy="514.0" r="3.1"/><circle class="cr" cx="200.7" cy="601.7" r="3.1"/><circle class="cr" cx="78.8" cy="552.6" r="3.1"/><circle class="cw" cx="105.9" cy="528.1" r="2.8"/><circle class="cw" cx="188.8" cy="578.4" r="2.8"/><circle class="cr" cx="104.1" cy="535.6" r="3.1"/><circle class="cw" cx="73.9" cy="506.5" r="2.8"/><circle class="cw" cx="124.9" cy="538.5" r="2.8"/><circle class="cw" cx="76.7" cy="502.9" r="2.8"/><circle class="cw" cx="125.7" cy="527.8" r="2.8"/><circle class="cw" cx="144.4" cy="615.1" r="2.8"/><circle class="cw" cx="166.2" cy="625.8" r="2.8"/><circle class="cw" cx="194.5" cy="620.3" r="2.8"/><circle class="cr" cx="138.5" cy="536.7" r="3.1"/><circle class="cw" cx="219.5" cy="588.6" r="2.8"/><circle class="cw" cx="131.1" cy="533.0" r="2.8"/><circle class="cw" cx="132.5" cy="530.9" r="2.8"/><circle class="cw" cx="138.4" cy="532.9" r="2.8"/><circle class="cr" cx="172.3" cy="539.1" r="3.1"/><circle class="cw" cx="165.8" cy="629.8" r="2.8"/><circle class="cr" cx="176.2" cy="554.3" r="3.1"/><circle class="cr" cx="182.3" cy="625.7" r="3.1"/><circle class="cw" cx="157.1" cy="534.3" r="2.8"/><circle class="cr" cx="154.7" cy="575.9" r="3.1"/><circle class="cr" cx="164.7" cy="490.7" r="3.1"/><circle class="cw" cx="67.1" cy="609.2" r="2.8"/><circle class="cw" cx="79.8" cy="627.0" r="2.8"/><circle class="cw" cx="209.1" cy="519.3" r="2.8"/><circle class="cw" cx="89.4" cy="547.9" r="2.8"/><circle class="cr" cx="144.7" cy="613.2" r="3.1"/><circle class="cw" cx="136.8" cy="639.2" r="2.8"/><circle class="cw" cx="193.1" cy="536.8" r="2.8"/><circle class="cw" cx="52.4" cy="581.3" r="2.8"/><circle class="cw" cx="164.7" cy="500.2" r="2.8"/><circle class="cw" cx="165.6" cy="599.9" r="2.8"/><circle class="cr" cx="57.1" cy="573.4" r="3.1"/><circle class="cr" cx="116.6" cy="607.3" r="3.1"/><circle class="cw" cx="165.7" cy="584.7" r="2.8"/><circle class="cr" cx="93.9" cy="568.7" r="3.1"/><circle class="cw" cx="203.7" cy="555.7" r="2.8"/><circle class="cr" cx="99.8" cy="611.1" r="3.1"/><circle class="cw" cx="96.2" cy="511.1" r="2.8"/><circle class="cr" cx="128.4" cy="641.8" r="3.1"/><circle class="cr" cx="99.2" cy="529.3" r="3.1"/><circle class="cw" cx="183.6" cy="538.3" r="2.8"/><circle class="cw" cx="78.8" cy="548.7" r="2.8"/><circle class="cr" cx="102.2" cy="492.7" r="3.1"/><circle class="cr" cx="102.5" cy="633.3" r="3.1"/><circle class="cw" cx="110.4" cy="639.1" r="2.8"/><circle class="cw" cx="197.9" cy="567.2" r="2.8"/><circle class="cr" cx="200.6" cy="586.8" r="3.1"/><circle class="cr" cx="201.8" cy="600.6" r="3.1"/><circle class="cr" cx="95.7" cy="596.9" r="3.1"/><circle class="cr" cx="160.5" cy="484.2" r="3.1"/><circle class="cr" cx="65.3" cy="576.1" r="3.1"/><circle class="cr" cx="164.1" cy="499.6" r="3.1"/><circle class="cw" cx="137.2" cy="604.3" r="2.8"/><circle class="cw" cx="177.4" cy="566.4" r="2.8"/><circle class="cw" cx="160.7" cy="572.8" r="2.8"/><circle class="cw" cx="207.9" cy="550.8" r="2.8"/><circle class="cr" cx="177.5" cy="492.6" r="3.1"/><circle class="cw" cx="173.0" cy="504.5" r="2.8"/><circle class="cr" cx="93.2" cy="491.5" r="3.1"/><circle class="cw" cx="130.3" cy="526.8" r="2.8"/><circle class="cw" cx="138.5" cy="478.6" r="2.8"/><circle class="cr" cx="135.1" cy="565.7" r="3.1"/><circle class="cr" cx="135.7" cy="619.1" r="3.1"/><circle class="cw" cx="115.6" cy="635.6" r="2.8"/><circle class="cr" cx="153.0" cy="513.2" r="3.1"/><circle class="cw" cx="69.3" cy="577.4" r="2.8"/><circle class="cr" cx="141.5" cy="542.3" r="3.1"/><circle class="cr" cx="126.6" cy="498.8" r="3.1"/><circle class="cw" cx="201.1" cy="538.3" r="2.8"/><circle class="cr" cx="72.6" cy="571.8" r="3.1"/><circle class="cw" cx="161.1" cy="549.3" r="2.8"/><circle class="cw" cx="114.2" cy="535.5" r="2.8"/><circle class="cr" cx="57.1" cy="575.8" r="3.1"/><circle class="cr" cx="60.4" cy="576.7" r="3.1"/><circle class="cw" cx="108.6" cy="609.0" r="2.8"/><circle class="cw" cx="168.7" cy="613.3" r="2.8"/><circle class="cw" cx="141.6" cy="624.1" r="2.8"/><circle class="cw" cx="88.7" cy="552.2" r="2.8"/><circle class="cr" cx="201.5" cy="591.6" r="3.1"/><circle class="cw" cx="175.6" cy="623.6" r="2.8"/><circle class="cw" cx="94.2" cy="604.0" r="2.8"/><circle class="cw" cx="92.2" cy="517.8" r="2.8"/><circle class="cw" cx="158.7" cy="588.8" r="2.8"/><circle class="cr" cx="86.0" cy="549.7" r="3.1"/><circle class="cw" cx="110.6" cy="639.4" r="2.8"/><circle class="cw" cx="56.7" cy="564.5" r="2.8"/><circle class="cw" cx="108.6" cy="501.8" r="2.8"/><circle class="cw" cx="178.9" cy="558.0" r="2.8"/><circle class="cw" cx="104.3" cy="639.8" r="2.8"/><circle class="cr" cx="75.2" cy="500.0" r="3.1"/><circle class="cr" cx="90.7" cy="492.0" r="3.1"/><circle class="cw" cx="131.2" cy="511.8" r="2.8"/><circle class="cw" cx="199.5" cy="554.7" r="2.8"/><circle class="cr" cx="167.6" cy="520.7" r="3.1"/><circle class="cw" cx="167.0" cy="524.8" r="2.8"/><circle class="cw" cx="199.6" cy="626.4" r="2.8"/><circle class="cr" cx="167.8" cy="576.7" r="3.1"/><circle class="cw" cx="131.2" cy="588.5" r="2.8"/><circle class="cr" cx="208.3" cy="554.0" r="3.1"/><circle class="cw" cx="101.8" cy="610.8" r="2.8"/><circle class="cw" cx="79.5" cy="609.5" r="2.8"/><circle class="cr" cx="156.4" cy="625.6" r="3.1"/><circle class="cr" cx="194.5" cy="590.9" r="3.1"/><circle class="cr" cx="111.8" cy="580.0" r="3.1"/><circle class="cw" cx="117.1" cy="640.9" r="2.8"/><circle class="cr" cx="216.7" cy="596.2" r="3.1"/><circle class="cr" cx="175.7" cy="514.1" r="3.1"/><circle class="cr" cx="179.7" cy="567.8" r="3.1"/><circle class="cw" cx="76.8" cy="556.2" r="2.8"/><circle class="cr" cx="88.1" cy="493.9" r="3.1"/><circle class="cw" cx="123.6" cy="535.3" r="2.8"/><circle class="cr" cx="103.6" cy="615.3" r="3.1"/><circle class="cw" cx="129.7" cy="515.5" r="2.8"/><circle class="cr" cx="165.4" cy="493.8" r="3.1"/><circle class="cr" cx="211.2" cy="539.3" r="3.1"/><circle class="cw" cx="91.8" cy="534.6" r="2.8"/></g>
<text x="283.20" y="483.90" font-size="25" fill="#000" text-anchor="start" font-weight="normal" style="font-family:'Liberation Sans',sans-serif;" >D</text>
<defs><radialGradient id="ge8d41c" cx="0.35" cy="0.32" r="0.7"><stop offset="0" stop-color="#f2e782"/><stop offset="0.55" stop-color="#e8d41c"/><stop offset="1" stop-color="#a79814"/></radialGradient><radialGradient id="ga9cd33" cx="0.35" cy="0.32" r="0.7"><stop offset="0" stop-color="#cfe38e"/><stop offset="0.55" stop-color="#a9cd33"/><stop offset="1" stop-color="#799324"/></radialGradient><radialGradient id="g1f8a82" cx="0.35" cy="0.32" r="0.7"><stop offset="0" stop-color="#83beba"/><stop offset="0.55" stop-color="#1f8a82"/><stop offset="1" stop-color="#16635d"/></radialGradient><radialGradient id="g29a56f" cx="0.35" cy="0.32" r="0.7"><stop offset="0" stop-color="#89cdaf"/><stop offset="0.55" stop-color="#29a56f"/><stop offset="1" stop-color="#1d764f"/></radialGradient><radialGradient id="g1e7385" cx="0.35" cy="0.32" r="0.7"><stop offset="0" stop-color="#83b2bb"/><stop offset="0.55" stop-color="#1e7385"/><stop offset="1" stop-color="#15525f"/></radialGradient><radialGradient id="g2b5b8e" cx="0.35" cy="0.32" r="0.7"><stop offset="0" stop-color="#8aa4c0"/><stop offset="0.55" stop-color="#2b5b8e"/><stop offset="1" stop-color="#1e4166"/></radialGradient><radialGradient id="g3b2a84" cx="0.35" cy="0.32" r="0.7"><stop offset="0" stop-color="#9389bb"/><stop offset="0.55" stop-color="#3b2a84"/><stop offset="1" stop-color="#2a1e5f"/></radialGradient><radialGradient id="gd9d52a" cx="0.35" cy="0.32" r="0.7"><stop offset="0" stop-color="#eae789"/><stop offset="0.55" stop-color="#d9d52a"/><stop offset="1" stop-color="#9c991e"/></radialGradient><radialGradient id="g23967a" cx="0.35" cy="0.32" r="0.7"><stop offset="0" stop-color="#86c5b5"/><stop offset="0.55" stop-color="#23967a"/><stop offset="1" stop-color="#196c57"/></radialGradient></defs>
<defs><radialGradient id="g1a8a88" cx="0.35" cy="0.32" r="0.7"><stop offset="0" stop-color="#81bebd"/><stop offset="0.55" stop-color="#1a8a88"/><stop offset="1" stop-color="#126361"/></radialGradient><radialGradient id="g2a6a90" cx="0.35" cy="0.32" r="0.7"><stop offset="0" stop-color="#89adc1"/><stop offset="0.55" stop-color="#2a6a90"/><stop offset="1" stop-color="#1e4c67"/></radialGradient><radialGradient id="gd0d228" cx="0.35" cy="0.32" r="0.7"><stop offset="0" stop-color="#e5e688"/><stop offset="0.55" stop-color="#d0d228"/><stop offset="1" stop-color="#95971c"/></radialGradient><radialGradient id="gf0d020" cx="0.35" cy="0.32" r="0.7"><stop offset="0" stop-color="#f6e584"/><stop offset="0.55" stop-color="#f0d020"/><stop offset="1" stop-color="#ac9517"/></radialGradient><radialGradient id="g9ccc38" cx="0.35" cy="0.32" r="0.7"><stop offset="0" stop-color="#c8e291"/><stop offset="0.55" stop-color="#9ccc38"/><stop offset="1" stop-color="#709228"/></radialGradient><radialGradient id="g21957a" cx="0.35" cy="0.32" r="0.7"><stop offset="0" stop-color="#84c4b5"/><stop offset="0.55" stop-color="#21957a"/><stop offset="1" stop-color="#176b57"/></radialGradient><radialGradient id="g3a3590" cx="0.35" cy="0.32" r="0.7"><stop offset="0" stop-color="#928fc1"/><stop offset="0.55" stop-color="#3a3590"/><stop offset="1" stop-color="#292667"/></radialGradient></defs>
<g><circle cx="327.6" cy="497.3" r="3.6" fill="url(#ge8d41c)" stroke="#a29413" stroke-width="0.3"/><circle cx="319.8" cy="502.1" r="3.6" fill="url(#ge8d41c)" stroke="#a29413" stroke-width="0.3"/><circle cx="328.4" cy="508.2" r="3.6" fill="url(#ge8d41c)" stroke="#a29413" stroke-width="0.3"/><circle cx="340.4" cy="510.5" r="3.6" fill="url(#ge8d41c)" stroke="#a29413" stroke-width="0.3"/><circle cx="339.7" cy="506.9" r="3.6" fill="url(#ge8d41c)" stroke="#a29413" stroke-width="0.3"/><circle cx="315.6" cy="511.1" r="3.6" fill="url(#ge8d41c)" stroke="#a29413" stroke-width="0.3"/><circle cx="325.6" cy="511.6" r="3.6" fill="url(#ge8d41c)" stroke="#a29413" stroke-width="0.3"/><circle cx="331.3" cy="494.7" r="3.6" fill="url(#ge8d41c)" stroke="#a29413" stroke-width="0.3"/><circle cx="335.7" cy="501.8" r="3.6" fill="url(#ge8d41c)" stroke="#a29413" stroke-width="0.3"/><circle cx="332.7" cy="497.6" r="3.6" fill="url(#ge8d41c)" stroke="#a29413" stroke-width="0.3"/><circle cx="330.4" cy="511.7" r="3.6" fill="url(#ge8d41c)" stroke="#a29413" stroke-width="0.3"/><circle cx="339.3" cy="498.9" r="3.6" fill="url(#ge8d41c)" stroke="#a29413" stroke-width="0.3"/><circle cx="330.9" cy="503.7" r="3.6" fill="url(#ge8d41c)" stroke="#a29413" stroke-width="0.3"/><circle cx="320.2" cy="511.3" r="3.6" fill="url(#ge8d41c)" stroke="#a29413" stroke-width="0.3"/><circle cx="316.9" cy="506.6" r="3.6" fill="url(#ge8d41c)" stroke="#a29413" stroke-width="0.3"/><circle cx="316.7" cy="503.4" r="3.6" fill="url(#ge8d41c)" stroke="#a29413" stroke-width="0.3"/><circle cx="326.6" cy="502.1" r="3.6" fill="url(#ge8d41c)" stroke="#a29413" stroke-width="0.3"/><circle cx="333.7" cy="515.0" r="3.6" fill="url(#ge8d41c)" stroke="#a29413" stroke-width="0.3"/><circle cx="323.4" cy="499.2" r="3.6" fill="url(#ge8d41c)" stroke="#a29413" stroke-width="0.3"/><circle cx="334.5" cy="507.0" r="3.6" fill="url(#ge8d41c)" stroke="#a29413" stroke-width="0.3"/><circle cx="322.4" cy="517.0" r="3.6" fill="url(#ge8d41c)" stroke="#a29413" stroke-width="0.3"/><circle cx="328.8" cy="516.5" r="3.6" fill="url(#ge8d41c)" stroke="#a29413" stroke-width="0.3"/><circle cx="319.0" cy="499.2" r="3.6" fill="url(#ge8d41c)" stroke="#a29413" stroke-width="0.3"/><circle cx="323.9" cy="507.3" r="3.6" fill="url(#ge8d41c)" stroke="#a29413" stroke-width="0.3"/><circle cx="335.7" cy="510.7" r="3.6" fill="url(#ge8d41c)" stroke="#a29413" stroke-width="0.3"/><circle cx="381.4" cy="499.1" r="3.6" fill="url(#ga9cd33)" stroke="#768f23" stroke-width="0.3"/><circle cx="385.7" cy="508.7" r="3.6" fill="url(#ga9cd33)" stroke="#768f23" stroke-width="0.3"/><circle cx="362.6" cy="504.6" r="3.6" fill="url(#ga9cd33)" stroke="#768f23" stroke-width="0.3"/><circle cx="365.0" cy="497.9" r="3.6" fill="url(#ga9cd33)" stroke="#768f23" stroke-width="0.3"/><circle cx="379.8" cy="503.7" r="3.6" fill="url(#ga9cd33)" stroke="#768f23" stroke-width="0.3"/><circle cx="374.7" cy="504.6" r="3.6" fill="url(#ga9cd33)" stroke="#768f23" stroke-width="0.3"/><circle cx="368.8" cy="511.6" r="3.6" fill="url(#ga9cd33)" stroke="#768f23" stroke-width="0.3"/><circle cx="387.2" cy="498.9" r="3.6" fill="url(#ga9cd33)" stroke="#768f23" stroke-width="0.3"/><circle cx="376.8" cy="507.6" r="3.6" fill="url(#ga9cd33)" stroke="#768f23" stroke-width="0.3"/><circle cx="364.1" cy="512.5" r="3.6" fill="url(#ga9cd33)" stroke="#768f23" stroke-width="0.3"/><circle cx="376.7" cy="499.4" r="3.6" fill="url(#ga9cd33)" stroke="#768f23" stroke-width="0.3"/><circle cx="365.0" cy="508.7" r="3.6" fill="url(#ga9cd33)" stroke="#768f23" stroke-width="0.3"/><circle cx="359.2" cy="504.4" r="3.6" fill="url(#ga9cd33)" stroke="#768f23" stroke-width="0.3"/><circle cx="379.6" cy="512.4" r="3.6" fill="url(#ga9cd33)" stroke="#768f23" stroke-width="0.3"/><circle cx="383.9" cy="512.1" r="3.6" fill="url(#ga9cd33)" stroke="#768f23" stroke-width="0.3"/><circle cx="374.7" cy="495.6" r="3.6" fill="url(#ga9cd33)" stroke="#768f23" stroke-width="0.3"/><circle cx="383.7" cy="494.9" r="3.6" fill="url(#ga9cd33)" stroke="#768f23" stroke-width="0.3"/><circle cx="368.4" cy="503.8" r="3.6" fill="url(#ga9cd33)" stroke="#768f23" stroke-width="0.3"/><circle cx="361.9" cy="509.1" r="3.6" fill="url(#ga9cd33)" stroke="#768f23" stroke-width="0.3"/><circle cx="390.5" cy="502.9" r="3.6" fill="url(#ga9cd33)" stroke="#768f23" stroke-width="0.3"/><circle cx="372.8" cy="513.6" r="3.6" fill="url(#ga9cd33)" stroke="#768f23" stroke-width="0.3"/><circle cx="381.0" cy="507.7" r="3.6" fill="url(#ga9cd33)" stroke="#768f23" stroke-width="0.3"/><circle cx="371.2" cy="507.2" r="3.6" fill="url(#ga9cd33)" stroke="#768f23" stroke-width="0.3"/><circle cx="384.3" cy="502.4" r="3.6" fill="url(#ga9cd33)" stroke="#768f23" stroke-width="0.3"/><circle cx="370.4" cy="500.0" r="3.6" fill="url(#ga9cd33)" stroke="#768f23" stroke-width="0.3"/><circle cx="368.7" cy="494.1" r="3.6" fill="url(#ga9cd33)" stroke="#768f23" stroke-width="0.3"/><circle cx="363.7" cy="495.7" r="3.6" fill="url(#ga9cd33)" stroke="#768f23" stroke-width="0.3"/><circle cx="379.6" cy="495.2" r="3.6" fill="url(#ga9cd33)" stroke="#768f23" stroke-width="0.3"/><circle cx="415.5" cy="492.6" r="3.6" fill="url(#g1f8a82)" stroke="#15605b" stroke-width="0.3"/><circle cx="427.3" cy="508.7" r="3.6" fill="url(#g1f8a82)" stroke="#15605b" stroke-width="0.3"/><circle cx="432.8" cy="500.0" r="3.6" fill="url(#g1f8a82)" stroke="#15605b" stroke-width="0.3"/><circle cx="425.4" cy="506.3" r="3.6" fill="url(#g1f8a82)" stroke="#15605b" stroke-width="0.3"/><circle cx="424.7" cy="514.4" r="3.6" fill="url(#g1f8a82)" stroke="#15605b" stroke-width="0.3"/><circle cx="412.0" cy="491.3" r="3.6" fill="url(#g1f8a82)" stroke="#15605b" stroke-width="0.3"/><circle cx="427.1" cy="491.1" r="3.6" fill="url(#g1f8a82)" stroke="#15605b" stroke-width="0.3"/><circle cx="421.6" cy="500.0" r="3.6" fill="url(#g1f8a82)" stroke="#15605b" stroke-width="0.3"/><circle cx="413.5" cy="495.6" r="3.6" fill="url(#g1f8a82)" stroke="#15605b" stroke-width="0.3"/><circle cx="424.1" cy="488.1" r="3.6" fill="url(#g1f8a82)" stroke="#15605b" stroke-width="0.3"/><circle cx="435.4" cy="497.1" r="3.6" fill="url(#g1f8a82)" stroke="#15605b" stroke-width="0.3"/><circle cx="413.2" cy="506.5" r="3.6" fill="url(#g1f8a82)" stroke="#15605b" stroke-width="0.3"/><circle cx="416.6" cy="509.4" r="3.6" fill="url(#g1f8a82)" stroke="#15605b" stroke-width="0.3"/><circle cx="420.3" cy="505.7" r="3.6" fill="url(#g1f8a82)" stroke="#15605b" stroke-width="0.3"/><circle cx="420.1" cy="513.2" r="3.6" fill="url(#g1f8a82)" stroke="#15605b" stroke-width="0.3"/><circle cx="424.7" cy="495.2" r="3.6" fill="url(#g1f8a82)" stroke="#15605b" stroke-width="0.3"/><circle cx="430.0" cy="504.8" r="3.6" fill="url(#g1f8a82)" stroke="#15605b" stroke-width="0.3"/><circle cx="429.5" cy="496.4" r="3.6" fill="url(#g1f8a82)" stroke="#15605b" stroke-width="0.3"/><circle cx="409.8" cy="496.3" r="3.6" fill="url(#g1f8a82)" stroke="#15605b" stroke-width="0.3"/><circle cx="421.0" cy="490.6" r="3.6" fill="url(#g1f8a82)" stroke="#15605b" stroke-width="0.3"/><circle cx="434.3" cy="505.5" r="3.6" fill="url(#g1f8a82)" stroke="#15605b" stroke-width="0.3"/><circle cx="410.4" cy="499.9" r="3.6" fill="url(#g1f8a82)" stroke="#15605b" stroke-width="0.3"/><circle cx="416.7" cy="500.3" r="3.6" fill="url(#g1f8a82)" stroke="#15605b" stroke-width="0.3"/><circle cx="418.9" cy="495.5" r="3.6" fill="url(#g1f8a82)" stroke="#15605b" stroke-width="0.3"/><circle cx="427.9" cy="500.0" r="3.6" fill="url(#g1f8a82)" stroke="#15605b" stroke-width="0.3"/><circle cx="421.2" cy="509.9" r="3.6" fill="url(#g1f8a82)" stroke="#15605b" stroke-width="0.3"/><circle cx="348.1" cy="532.8" r="3.6" fill="url(#g29a56f)" stroke="#1c734d" stroke-width="0.3"/><circle cx="368.7" cy="531.8" r="3.6" fill="url(#g29a56f)" stroke="#1c734d" stroke-width="0.3"/><circle cx="358.8" cy="542.3" r="3.6" fill="url(#g29a56f)" stroke="#1c734d" stroke-width="0.3"/><circle cx="360.7" cy="518.1" r="3.6" fill="url(#g29a56f)" stroke="#1c734d" stroke-width="0.3"/><circle cx="356.7" cy="537.4" r="3.6" fill="url(#g29a56f)" stroke="#1c734d" stroke-width="0.3"/><circle cx="357.4" cy="519.2" r="3.6" fill="url(#g29a56f)" stroke="#1c734d" stroke-width="0.3"/><circle cx="366.2" cy="519.2" r="3.6" fill="url(#g29a56f)" stroke="#1c734d" stroke-width="0.3"/><circle cx="358.8" cy="522.3" r="3.6" fill="url(#g29a56f)" stroke="#1c734d" stroke-width="0.3"/><circle cx="365.1" cy="533.4" r="3.6" fill="url(#g29a56f)" stroke="#1c734d" stroke-width="0.3"/><circle cx="364.0" cy="522.4" r="3.6" fill="url(#g29a56f)" stroke="#1c734d" stroke-width="0.3"/><circle cx="345.3" cy="520.1" r="3.6" fill="url(#g29a56f)" stroke="#1c734d" stroke-width="0.3"/><circle cx="355.2" cy="515.1" r="3.6" fill="url(#g29a56f)" stroke="#1c734d" stroke-width="0.3"/><circle cx="354.4" cy="531.8" r="3.6" fill="url(#g29a56f)" stroke="#1c734d" stroke-width="0.3"/><circle cx="361.4" cy="537.6" r="3.6" fill="url(#g29a56f)" stroke="#1c734d" stroke-width="0.3"/><circle cx="353.9" cy="523.7" r="3.6" fill="url(#g29a56f)" stroke="#1c734d" stroke-width="0.3"/><circle cx="360.9" cy="526.9" r="3.6" fill="url(#g29a56f)" stroke="#1c734d" stroke-width="0.3"/><circle cx="360.3" cy="532.8" r="3.6" fill="url(#g29a56f)" stroke="#1c734d" stroke-width="0.3"/><circle cx="356.0" cy="527.4" r="3.6" fill="url(#g29a56f)" stroke="#1c734d" stroke-width="0.3"/><circle cx="366.9" cy="527.9" r="3.6" fill="url(#g29a56f)" stroke="#1c734d" stroke-width="0.3"/><circle cx="346.8" cy="536.1" r="3.6" fill="url(#g29a56f)" stroke="#1c734d" stroke-width="0.3"/><circle cx="355.2" cy="541.5" r="3.6" fill="url(#g29a56f)" stroke="#1c734d" stroke-width="0.3"/><circle cx="345.1" cy="527.6" r="3.6" fill="url(#g29a56f)" stroke="#1c734d" stroke-width="0.3"/><circle cx="347.7" cy="522.7" r="3.6" fill="url(#g29a56f)" stroke="#1c734d" stroke-width="0.3"/><circle cx="351.2" cy="537.1" r="3.6" fill="url(#g29a56f)" stroke="#1c734d" stroke-width="0.3"/><circle cx="350.8" cy="518.3" r="3.6" fill="url(#g29a56f)" stroke="#1c734d" stroke-width="0.3"/><circle cx="352.6" cy="528.0" r="3.6" fill="url(#g29a56f)" stroke="#1c734d" stroke-width="0.3"/><circle cx="307.8" cy="551.6" r="3.6" fill="url(#g1e7385)" stroke="#15505d" stroke-width="0.3"/><circle cx="304.2" cy="544.9" r="3.6" fill="url(#g1e7385)" stroke="#15505d" stroke-width="0.3"/><circle cx="310.4" cy="546.0" r="3.6" fill="url(#g1e7385)" stroke="#15505d" stroke-width="0.3"/><circle cx="300.4" cy="550.2" r="3.6" fill="url(#g1e7385)" stroke="#15505d" stroke-width="0.3"/><circle cx="311.9" cy="541.2" r="3.6" fill="url(#g1e7385)" stroke="#15505d" stroke-width="0.3"/><circle cx="307.5" cy="541.4" r="3.6" fill="url(#g1e7385)" stroke="#15505d" stroke-width="0.3"/><circle cx="315.4" cy="536.6" r="3.6" fill="url(#g1e7385)" stroke="#15505d" stroke-width="0.3"/><circle cx="303.7" cy="554.9" r="3.6" fill="url(#g1e7385)" stroke="#15505d" stroke-width="0.3"/><circle cx="309.2" cy="537.9" r="3.6" fill="url(#g1e7385)" stroke="#15505d" stroke-width="0.3"/><circle cx="297.2" cy="542.3" r="3.6" fill="url(#g1e7385)" stroke="#15505d" stroke-width="0.3"/><circle cx="301.5" cy="540.5" r="3.6" fill="url(#g1e7385)" stroke="#15505d" stroke-width="0.3"/><circle cx="312.5" cy="533.1" r="3.6" fill="url(#g1e7385)" stroke="#15505d" stroke-width="0.3"/><circle cx="300.4" cy="533.7" r="3.6" fill="url(#g1e7385)" stroke="#15505d" stroke-width="0.3"/><circle cx="310.2" cy="528.1" r="3.6" fill="url(#g1e7385)" stroke="#15505d" stroke-width="0.3"/><circle cx="306.5" cy="531.6" r="3.6" fill="url(#g1e7385)" stroke="#15505d" stroke-width="0.3"/><circle cx="300.0" cy="538.1" r="3.6" fill="url(#g1e7385)" stroke="#15505d" stroke-width="0.3"/><circle cx="312.2" cy="550.8" r="3.6" fill="url(#g1e7385)" stroke="#15505d" stroke-width="0.3"/><circle cx="305.0" cy="537.9" r="3.6" fill="url(#g1e7385)" stroke="#15505d" stroke-width="0.3"/><circle cx="316.8" cy="542.5" r="3.6" fill="url(#g1e7385)" stroke="#15505d" stroke-width="0.3"/><circle cx="298.2" cy="546.9" r="3.6" fill="url(#g1e7385)" stroke="#15505d" stroke-width="0.3"/><circle cx="314.0" cy="545.8" r="3.6" fill="url(#g1e7385)" stroke="#15505d" stroke-width="0.3"/><circle cx="384.4" cy="537.4" r="3.6" fill="url(#gf0d020)" stroke="#a89116" stroke-width="0.3"/><circle cx="375.1" cy="551.6" r="3.6" fill="url(#gf0d020)" stroke="#a89116" stroke-width="0.3"/><circle cx="380.6" cy="531.5" r="3.6" fill="url(#gf0d020)" stroke="#a89116" stroke-width="0.3"/><circle cx="389.0" cy="536.9" r="3.6" fill="url(#gf0d020)" stroke="#a89116" stroke-width="0.3"/><circle cx="374.0" cy="555.4" r="3.6" fill="url(#gf0d020)" stroke="#a89116" stroke-width="0.3"/><circle cx="371.2" cy="541.8" r="3.6" fill="url(#gf0d020)" stroke="#a89116" stroke-width="0.3"/><circle cx="385.3" cy="549.9" r="3.6" fill="url(#gf0d020)" stroke="#a89116" stroke-width="0.3"/><circle cx="386.6" cy="533.0" r="3.6" fill="url(#gf0d020)" stroke="#a89116" stroke-width="0.3"/><circle cx="371.3" cy="533.0" r="3.6" fill="url(#gf0d020)" stroke="#a89116" stroke-width="0.3"/><circle cx="388.8" cy="546.0" r="3.6" fill="url(#gf0d020)" stroke="#a89116" stroke-width="0.3"/><circle cx="394.2" cy="545.8" r="3.6" fill="url(#gf0d020)" stroke="#a89116" stroke-width="0.3"/><circle cx="375.9" cy="541.7" r="3.6" fill="url(#gf0d020)" stroke="#a89116" stroke-width="0.3"/><circle cx="372.9" cy="547.3" r="3.6" fill="url(#gf0d020)" stroke="#a89116" stroke-width="0.3"/><circle cx="373.8" cy="537.3" r="3.6" fill="url(#gf0d020)" stroke="#a89116" stroke-width="0.3"/><circle cx="377.7" cy="527.6" r="3.6" fill="url(#gf0d020)" stroke="#a89116" stroke-width="0.3"/><circle cx="391.2" cy="542.5" r="3.6" fill="url(#gf0d020)" stroke="#a89116" stroke-width="0.3"/><circle cx="383.0" cy="527.7" r="3.6" fill="url(#gf0d020)" stroke="#a89116" stroke-width="0.3"/><circle cx="368.6" cy="545.8" r="3.6" fill="url(#gf0d020)" stroke="#a89116" stroke-width="0.3"/><circle cx="380.8" cy="541.7" r="3.6" fill="url(#gf0d020)" stroke="#a89116" stroke-width="0.3"/><circle cx="377.8" cy="537.9" r="3.6" fill="url(#gf0d020)" stroke="#a89116" stroke-width="0.3"/><circle cx="384.7" cy="554.5" r="3.6" fill="url(#gf0d020)" stroke="#a89116" stroke-width="0.3"/><circle cx="384.6" cy="546.4" r="3.6" fill="url(#gf0d020)" stroke="#a89116" stroke-width="0.3"/><circle cx="386.1" cy="541.9" r="3.6" fill="url(#gf0d020)" stroke="#a89116" stroke-width="0.3"/><circle cx="375.5" cy="532.4" r="3.6" fill="url(#gf0d020)" stroke="#a89116" stroke-width="0.3"/><circle cx="390.4" cy="550.3" r="3.6" fill="url(#gf0d020)" stroke="#a89116" stroke-width="0.3"/><circle cx="380.4" cy="549.5" r="3.6" fill="url(#gf0d020)" stroke="#a89116" stroke-width="0.3"/><circle cx="379.4" cy="545.2" r="3.6" fill="url(#gf0d020)" stroke="#a89116" stroke-width="0.3"/><circle cx="390.3" cy="532.5" r="3.6" fill="url(#gf0d020)" stroke="#a89116" stroke-width="0.3"/><circle cx="378.4" cy="555.0" r="3.6" fill="url(#gf0d020)" stroke="#a89116" stroke-width="0.3"/><circle cx="414.6" cy="529.9" r="3.6" fill="url(#g2a6a90)" stroke="#1d4a64" stroke-width="0.3"/><circle cx="423.8" cy="529.8" r="3.6" fill="url(#g2a6a90)" stroke="#1d4a64" stroke-width="0.3"/><circle cx="408.6" cy="527.8" r="3.6" fill="url(#g2a6a90)" stroke="#1d4a64" stroke-width="0.3"/><circle cx="421.4" cy="523.3" r="3.6" fill="url(#g2a6a90)" stroke="#1d4a64" stroke-width="0.3"/><circle cx="420.8" cy="533.0" r="3.6" fill="url(#g2a6a90)" stroke="#1d4a64" stroke-width="0.3"/><circle cx="430.6" cy="529.3" r="3.6" fill="url(#g2a6a90)" stroke="#1d4a64" stroke-width="0.3"/><circle cx="411.6" cy="524.3" r="3.6" fill="url(#g2a6a90)" stroke="#1d4a64" stroke-width="0.3"/><circle cx="418.3" cy="520.9" r="3.6" fill="url(#g2a6a90)" stroke="#1d4a64" stroke-width="0.3"/><circle cx="415.8" cy="532.9" r="3.6" fill="url(#g2a6a90)" stroke="#1d4a64" stroke-width="0.3"/><circle cx="411.7" cy="533.4" r="3.6" fill="url(#g2a6a90)" stroke="#1d4a64" stroke-width="0.3"/><circle cx="419.4" cy="529.8" r="3.6" fill="url(#g2a6a90)" stroke="#1d4a64" stroke-width="0.3"/><circle cx="417.3" cy="523.4" r="3.6" fill="url(#g2a6a90)" stroke="#1d4a64" stroke-width="0.3"/><circle cx="426.5" cy="523.4" r="3.6" fill="url(#g2a6a90)" stroke="#1d4a64" stroke-width="0.3"/><circle cx="427.9" cy="534.4" r="3.6" fill="url(#g2a6a90)" stroke="#1d4a64" stroke-width="0.3"/><circle cx="424.1" cy="563.3" r="3.6" fill="url(#gf0d020)" stroke="#a89116" stroke-width="0.3"/><circle cx="423.5" cy="544.1" r="3.6" fill="url(#gf0d020)" stroke="#a89116" stroke-width="0.3"/><circle cx="400.7" cy="567.9" r="3.6" fill="url(#gf0d020)" stroke="#a89116" stroke-width="0.3"/><circle cx="404.5" cy="554.5" r="3.6" fill="url(#gf0d020)" stroke="#a89116" stroke-width="0.3"/><circle cx="427.8" cy="558.1" r="3.6" fill="url(#gf0d020)" stroke="#a89116" stroke-width="0.3"/><circle cx="398.1" cy="562.6" r="3.6" fill="url(#gf0d020)" stroke="#a89116" stroke-width="0.3"/><circle cx="431.1" cy="549.8" r="3.6" fill="url(#gf0d020)" stroke="#a89116" stroke-width="0.3"/><circle cx="427.1" cy="550.4" r="3.6" fill="url(#gf0d020)" stroke="#a89116" stroke-width="0.3"/><circle cx="417.6" cy="549.4" r="3.6" fill="url(#gf0d020)" stroke="#a89116" stroke-width="0.3"/><circle cx="405.0" cy="559.3" r="3.6" fill="url(#gf0d020)" stroke="#a89116" stroke-width="0.3"/><circle cx="434.2" cy="554.5" r="3.6" fill="url(#gf0d020)" stroke="#a89116" stroke-width="0.3"/><circle cx="425.1" cy="554.8" r="3.6" fill="url(#gf0d020)" stroke="#a89116" stroke-width="0.3"/><circle cx="431.5" cy="541.1" r="3.6" fill="url(#gf0d020)" stroke="#a89116" stroke-width="0.3"/><circle cx="421.0" cy="541.0" r="3.6" fill="url(#gf0d020)" stroke="#a89116" stroke-width="0.3"/><circle cx="431.2" cy="557.9" r="3.6" fill="url(#gf0d020)" stroke="#a89116" stroke-width="0.3"/><circle cx="405.8" cy="576.4" r="3.6" fill="url(#gf0d020)" stroke="#a89116" stroke-width="0.3"/><circle cx="400.4" cy="559.0" r="3.6" fill="url(#gf0d020)" stroke="#a89116" stroke-width="0.3"/><circle cx="428.8" cy="544.7" r="3.6" fill="url(#gf0d020)" stroke="#a89116" stroke-width="0.3"/><circle cx="411.4" cy="558.1" r="3.6" fill="url(#gf0d020)" stroke="#a89116" stroke-width="0.3"/><circle cx="412.8" cy="553.4" r="3.6" fill="url(#gf0d020)" stroke="#a89116" stroke-width="0.3"/><circle cx="408.7" cy="554.7" r="3.6" fill="url(#gf0d020)" stroke="#a89116" stroke-width="0.3"/><circle cx="412.1" cy="567.4" r="3.6" fill="url(#gf0d020)" stroke="#a89116" stroke-width="0.3"/><circle cx="419.2" cy="553.7" r="3.6" fill="url(#gf0d020)" stroke="#a89116" stroke-width="0.3"/><circle cx="408.3" cy="573.4" r="3.6" fill="url(#gf0d020)" stroke="#a89116" stroke-width="0.3"/><circle cx="429.6" cy="553.2" r="3.6" fill="url(#gf0d020)" stroke="#a89116" stroke-width="0.3"/><circle cx="437.1" cy="548.9" r="3.6" fill="url(#gf0d020)" stroke="#a89116" stroke-width="0.3"/><circle cx="418.4" cy="546.1" r="3.6" fill="url(#gf0d020)" stroke="#a89116" stroke-width="0.3"/><circle cx="438.9" cy="545.9" r="3.6" fill="url(#gf0d020)" stroke="#a89116" stroke-width="0.3"/><circle cx="404.0" cy="571.9" r="3.6" fill="url(#gf0d020)" stroke="#a89116" stroke-width="0.3"/><circle cx="403.9" cy="562.3" r="3.6" fill="url(#gf0d020)" stroke="#a89116" stroke-width="0.3"/><circle cx="418.5" cy="563.2" r="3.6" fill="url(#gf0d020)" stroke="#a89116" stroke-width="0.3"/><circle cx="421.2" cy="559.1" r="3.6" fill="url(#gf0d020)" stroke="#a89116" stroke-width="0.3"/><circle cx="394.7" cy="568.2" r="3.6" fill="url(#gf0d020)" stroke="#a89116" stroke-width="0.3"/><circle cx="420.4" cy="567.8" r="3.6" fill="url(#gf0d020)" stroke="#a89116" stroke-width="0.3"/><circle cx="397.0" cy="573.2" r="3.6" fill="url(#gf0d020)" stroke="#a89116" stroke-width="0.3"/><circle cx="414.4" cy="564.4" r="3.6" fill="url(#gf0d020)" stroke="#a89116" stroke-width="0.3"/><circle cx="410.4" cy="548.9" r="3.6" fill="url(#gf0d020)" stroke="#a89116" stroke-width="0.3"/><circle cx="422.6" cy="550.3" r="3.6" fill="url(#gf0d020)" stroke="#a89116" stroke-width="0.3"/><circle cx="416.2" cy="568.1" r="3.6" fill="url(#gf0d020)" stroke="#a89116" stroke-width="0.3"/><circle cx="412.7" cy="573.3" r="3.6" fill="url(#gf0d020)" stroke="#a89116" stroke-width="0.3"/><circle cx="405.5" cy="550.6" r="3.6" fill="url(#gf0d020)" stroke="#a89116" stroke-width="0.3"/><circle cx="417.1" cy="559.8" r="3.6" fill="url(#gf0d020)" stroke="#a89116" stroke-width="0.3"/><circle cx="436.8" cy="541.6" r="3.6" fill="url(#gf0d020)" stroke="#a89116" stroke-width="0.3"/><circle cx="406.6" cy="567.8" r="3.6" fill="url(#gf0d020)" stroke="#a89116" stroke-width="0.3"/><circle cx="408.6" cy="562.2" r="3.6" fill="url(#gf0d020)" stroke="#a89116" stroke-width="0.3"/><circle cx="434.4" cy="546.0" r="3.6" fill="url(#gf0d020)" stroke="#a89116" stroke-width="0.3"/><circle cx="369.6" cy="550.5" r="3.6" fill="url(#gd0d228)" stroke="#91931c" stroke-width="0.3"/><circle cx="355.8" cy="563.9" r="3.6" fill="url(#gd0d228)" stroke="#91931c" stroke-width="0.3"/><circle cx="366.4" cy="582.2" r="3.6" fill="url(#gd0d228)" stroke="#91931c" stroke-width="0.3"/><circle cx="358.4" cy="577.1" r="3.6" fill="url(#gd0d228)" stroke="#91931c" stroke-width="0.3"/><circle cx="364.5" cy="577.2" r="3.6" fill="url(#gd0d228)" stroke="#91931c" stroke-width="0.3"/><circle cx="367.7" cy="572.6" r="3.6" fill="url(#gd0d228)" stroke="#91931c" stroke-width="0.3"/><circle cx="363.6" cy="567.9" r="3.6" fill="url(#gd0d228)" stroke="#91931c" stroke-width="0.3"/><circle cx="353.4" cy="559.3" r="3.6" fill="url(#gd0d228)" stroke="#91931c" stroke-width="0.3"/><circle cx="376.8" cy="574.5" r="3.6" fill="url(#gd0d228)" stroke="#91931c" stroke-width="0.3"/><circle cx="356.4" cy="573.0" r="3.6" fill="url(#gd0d228)" stroke="#91931c" stroke-width="0.3"/><circle cx="370.4" cy="569.5" r="3.6" fill="url(#gd0d228)" stroke="#91931c" stroke-width="0.3"/><circle cx="377.9" cy="555.7" r="3.6" fill="url(#gd0d228)" stroke="#91931c" stroke-width="0.3"/><circle cx="374.2" cy="578.2" r="3.6" fill="url(#gd0d228)" stroke="#91931c" stroke-width="0.3"/><circle cx="371.7" cy="556.0" r="3.6" fill="url(#gd0d228)" stroke="#91931c" stroke-width="0.3"/><circle cx="360.8" cy="556.4" r="3.6" fill="url(#gd0d228)" stroke="#91931c" stroke-width="0.3"/><circle cx="377.8" cy="563.2" r="3.6" fill="url(#gd0d228)" stroke="#91931c" stroke-width="0.3"/><circle cx="361.2" cy="572.7" r="3.6" fill="url(#gd0d228)" stroke="#91931c" stroke-width="0.3"/><circle cx="370.4" cy="577.5" r="3.6" fill="url(#gd0d228)" stroke="#91931c" stroke-width="0.3"/><circle cx="371.0" cy="565.4" r="3.6" fill="url(#gd0d228)" stroke="#91931c" stroke-width="0.3"/><circle cx="360.4" cy="565.1" r="3.6" fill="url(#gd0d228)" stroke="#91931c" stroke-width="0.3"/><circle cx="379.6" cy="568.3" r="3.6" fill="url(#gd0d228)" stroke="#91931c" stroke-width="0.3"/><circle cx="368.3" cy="559.4" r="3.6" fill="url(#gd0d228)" stroke="#91931c" stroke-width="0.3"/><circle cx="372.2" cy="572.4" r="3.6" fill="url(#gd0d228)" stroke="#91931c" stroke-width="0.3"/><circle cx="367.0" cy="554.8" r="3.6" fill="url(#gd0d228)" stroke="#91931c" stroke-width="0.3"/><circle cx="364.5" cy="560.6" r="3.6" fill="url(#gd0d228)" stroke="#91931c" stroke-width="0.3"/><circle cx="374.2" cy="561.0" r="3.6" fill="url(#gd0d228)" stroke="#91931c" stroke-width="0.3"/><circle cx="356.8" cy="555.0" r="3.6" fill="url(#gd0d228)" stroke="#91931c" stroke-width="0.3"/><circle cx="359.8" cy="567.8" r="3.6" fill="url(#gd0d228)" stroke="#91931c" stroke-width="0.3"/><circle cx="375.1" cy="569.9" r="3.6" fill="url(#gd0d228)" stroke="#91931c" stroke-width="0.3"/><circle cx="364.6" cy="551.7" r="3.6" fill="url(#gd0d228)" stroke="#91931c" stroke-width="0.3"/><circle cx="367.6" cy="563.9" r="3.6" fill="url(#gd0d228)" stroke="#91931c" stroke-width="0.3"/><circle cx="358.4" cy="560.9" r="3.6" fill="url(#gd0d228)" stroke="#91931c" stroke-width="0.3"/><circle cx="331.5" cy="565.1" r="3.6" fill="url(#g23967a)" stroke="#186955" stroke-width="0.3"/><circle cx="334.1" cy="569.2" r="3.6" fill="url(#g23967a)" stroke="#186955" stroke-width="0.3"/><circle cx="316.1" cy="563.8" r="3.6" fill="url(#g23967a)" stroke="#186955" stroke-width="0.3"/><circle cx="329.2" cy="568.4" r="3.6" fill="url(#g23967a)" stroke="#186955" stroke-width="0.3"/><circle cx="319.7" cy="555.8" r="3.6" fill="url(#g23967a)" stroke="#186955" stroke-width="0.3"/><circle cx="325.1" cy="565.1" r="3.6" fill="url(#g23967a)" stroke="#186955" stroke-width="0.3"/><circle cx="326.5" cy="555.7" r="3.6" fill="url(#g23967a)" stroke="#186955" stroke-width="0.3"/><circle cx="317.4" cy="577.9" r="3.6" fill="url(#g23967a)" stroke="#186955" stroke-width="0.3"/><circle cx="328.2" cy="560.2" r="3.6" fill="url(#g23967a)" stroke="#186955" stroke-width="0.3"/><circle cx="310.7" cy="572.8" r="3.6" fill="url(#g23967a)" stroke="#186955" stroke-width="0.3"/><circle cx="325.4" cy="574.2" r="3.6" fill="url(#g23967a)" stroke="#186955" stroke-width="0.3"/><circle cx="320.8" cy="564.6" r="3.6" fill="url(#g23967a)" stroke="#186955" stroke-width="0.3"/><circle cx="314.2" cy="572.3" r="3.6" fill="url(#g23967a)" stroke="#186955" stroke-width="0.3"/><circle cx="323.6" cy="559.2" r="3.6" fill="url(#g23967a)" stroke="#186955" stroke-width="0.3"/><circle cx="318.2" cy="568.6" r="3.6" fill="url(#g23967a)" stroke="#186955" stroke-width="0.3"/><circle cx="327.8" cy="577.7" r="3.6" fill="url(#g23967a)" stroke="#186955" stroke-width="0.3"/><circle cx="319.5" cy="574.4" r="3.6" fill="url(#g23967a)" stroke="#186955" stroke-width="0.3"/><circle cx="313.5" cy="567.8" r="3.6" fill="url(#g23967a)" stroke="#186955" stroke-width="0.3"/><circle cx="323.5" cy="577.6" r="3.6" fill="url(#g23967a)" stroke="#186955" stroke-width="0.3"/><circle cx="317.8" cy="559.3" r="3.6" fill="url(#g23967a)" stroke="#186955" stroke-width="0.3"/><circle cx="319.8" cy="581.4" r="3.6" fill="url(#g23967a)" stroke="#186955" stroke-width="0.3"/><circle cx="331.2" cy="573.2" r="3.6" fill="url(#g23967a)" stroke="#186955" stroke-width="0.3"/><circle cx="323.3" cy="568.9" r="3.6" fill="url(#g23967a)" stroke="#186955" stroke-width="0.3"/><circle cx="333.1" cy="574.4" r="3.6" fill="url(#ga9cd33)" stroke="#768f23" stroke-width="0.3"/><circle cx="336.5" cy="589.0" r="3.6" fill="url(#ga9cd33)" stroke="#768f23" stroke-width="0.3"/><circle cx="339.7" cy="593.0" r="3.6" fill="url(#ga9cd33)" stroke="#768f23" stroke-width="0.3"/><circle cx="337.9" cy="596.9" r="3.6" fill="url(#ga9cd33)" stroke="#768f23" stroke-width="0.3"/><circle cx="332.8" cy="596.5" r="3.6" fill="url(#ga9cd33)" stroke="#768f23" stroke-width="0.3"/><circle cx="343.4" cy="583.6" r="3.6" fill="url(#ga9cd33)" stroke="#768f23" stroke-width="0.3"/><circle cx="352.5" cy="587.5" r="3.6" fill="url(#ga9cd33)" stroke="#768f23" stroke-width="0.3"/><circle cx="326.8" cy="577.6" r="3.6" fill="url(#ga9cd33)" stroke="#768f23" stroke-width="0.3"/><circle cx="337.5" cy="569.6" r="3.6" fill="url(#ga9cd33)" stroke="#768f23" stroke-width="0.3"/><circle cx="348.3" cy="588.5" r="3.6" fill="url(#ga9cd33)" stroke="#768f23" stroke-width="0.3"/><circle cx="341.3" cy="597.5" r="3.6" fill="url(#ga9cd33)" stroke="#768f23" stroke-width="0.3"/><circle cx="350.2" cy="591.6" r="3.6" fill="url(#ga9cd33)" stroke="#768f23" stroke-width="0.3"/><circle cx="345.3" cy="573.8" r="3.6" fill="url(#ga9cd33)" stroke="#768f23" stroke-width="0.3"/><circle cx="341.2" cy="586.8" r="3.6" fill="url(#ga9cd33)" stroke="#768f23" stroke-width="0.3"/><circle cx="343.6" cy="592.4" r="3.6" fill="url(#ga9cd33)" stroke="#768f23" stroke-width="0.3"/><circle cx="340.4" cy="582.3" r="3.6" fill="url(#ga9cd33)" stroke="#768f23" stroke-width="0.3"/><circle cx="342.0" cy="579.5" r="3.6" fill="url(#ga9cd33)" stroke="#768f23" stroke-width="0.3"/><circle cx="346.1" cy="578.9" r="3.6" fill="url(#ga9cd33)" stroke="#768f23" stroke-width="0.3"/><circle cx="341.9" cy="570.4" r="3.6" fill="url(#ga9cd33)" stroke="#768f23" stroke-width="0.3"/><circle cx="329.5" cy="583.7" r="3.6" fill="url(#ga9cd33)" stroke="#768f23" stroke-width="0.3"/><circle cx="335.0" cy="591.2" r="3.6" fill="url(#ga9cd33)" stroke="#768f23" stroke-width="0.3"/><circle cx="332.5" cy="578.5" r="3.6" fill="url(#ga9cd33)" stroke="#768f23" stroke-width="0.3"/><circle cx="348.8" cy="583.1" r="3.6" fill="url(#ga9cd33)" stroke="#768f23" stroke-width="0.3"/><circle cx="337.1" cy="579.8" r="3.6" fill="url(#ga9cd33)" stroke="#768f23" stroke-width="0.3"/><circle cx="338.6" cy="573.5" r="3.6" fill="url(#ga9cd33)" stroke="#768f23" stroke-width="0.3"/><circle cx="334.1" cy="584.0" r="3.6" fill="url(#ga9cd33)" stroke="#768f23" stroke-width="0.3"/><circle cx="331.4" cy="586.8" r="3.6" fill="url(#ga9cd33)" stroke="#768f23" stroke-width="0.3"/><circle cx="391.9" cy="586.0" r="3.6" fill="url(#g1a8a88)" stroke="#12605f" stroke-width="0.3"/><circle cx="376.1" cy="585.1" r="3.6" fill="url(#g1a8a88)" stroke="#12605f" stroke-width="0.3"/><circle cx="384.6" cy="575.7" r="3.6" fill="url(#g1a8a88)" stroke="#12605f" stroke-width="0.3"/><circle cx="377.4" cy="581.5" r="3.6" fill="url(#g1a8a88)" stroke="#12605f" stroke-width="0.3"/><circle cx="386.7" cy="593.3" r="3.6" fill="url(#g1a8a88)" stroke="#12605f" stroke-width="0.3"/><circle cx="385.0" cy="586.0" r="3.6" fill="url(#g1a8a88)" stroke="#12605f" stroke-width="0.3"/><circle cx="379.4" cy="593.6" r="3.6" fill="url(#g1a8a88)" stroke="#12605f" stroke-width="0.3"/><circle cx="388.8" cy="588.7" r="3.6" fill="url(#g1a8a88)" stroke="#12605f" stroke-width="0.3"/><circle cx="380.9" cy="576.0" r="3.6" fill="url(#g1a8a88)" stroke="#12605f" stroke-width="0.3"/><circle cx="391.2" cy="593.5" r="3.6" fill="url(#g1a8a88)" stroke="#12605f" stroke-width="0.3"/><circle cx="396.2" cy="586.2" r="3.6" fill="url(#g1a8a88)" stroke="#12605f" stroke-width="0.3"/><circle cx="378.3" cy="589.9" r="3.6" fill="url(#g1a8a88)" stroke="#12605f" stroke-width="0.3"/><circle cx="390.9" cy="575.6" r="3.6" fill="url(#g1a8a88)" stroke="#12605f" stroke-width="0.3"/><circle cx="394.5" cy="589.2" r="3.6" fill="url(#g1a8a88)" stroke="#12605f" stroke-width="0.3"/><circle cx="381.0" cy="586.3" r="3.6" fill="url(#g1a8a88)" stroke="#12605f" stroke-width="0.3"/><circle cx="384.0" cy="590.1" r="3.6" fill="url(#g1a8a88)" stroke="#12605f" stroke-width="0.3"/><circle cx="393.6" cy="580.0" r="3.6" fill="url(#g1a8a88)" stroke="#12605f" stroke-width="0.3"/><circle cx="388.6" cy="580.0" r="3.6" fill="url(#g1a8a88)" stroke="#12605f" stroke-width="0.3"/><circle cx="382.0" cy="581.6" r="3.6" fill="url(#g1a8a88)" stroke="#12605f" stroke-width="0.3"/><circle cx="407.0" cy="581.8" r="3.6" fill="url(#ga9cd33)" stroke="#768f23" stroke-width="0.3"/><circle cx="404.4" cy="602.9" r="3.6" fill="url(#ga9cd33)" stroke="#768f23" stroke-width="0.3"/><circle cx="411.2" cy="579.6" r="3.6" fill="url(#ga9cd33)" stroke="#768f23" stroke-width="0.3"/><circle cx="402.9" cy="593.6" r="3.6" fill="url(#ga9cd33)" stroke="#768f23" stroke-width="0.3"/><circle cx="398.5" cy="593.1" r="3.6" fill="url(#ga9cd33)" stroke="#768f23" stroke-width="0.3"/><circle cx="422.0" cy="580.4" r="3.6" fill="url(#ga9cd33)" stroke="#768f23" stroke-width="0.3"/><circle cx="410.9" cy="607.3" r="3.6" fill="url(#ga9cd33)" stroke="#768f23" stroke-width="0.3"/><circle cx="423.3" cy="585.2" r="3.6" fill="url(#ga9cd33)" stroke="#768f23" stroke-width="0.3"/><circle cx="427.8" cy="589.5" r="3.6" fill="url(#ga9cd33)" stroke="#768f23" stroke-width="0.3"/><circle cx="401.1" cy="597.7" r="3.6" fill="url(#ga9cd33)" stroke="#768f23" stroke-width="0.3"/><circle cx="424.4" cy="602.2" r="3.6" fill="url(#ga9cd33)" stroke="#768f23" stroke-width="0.3"/><circle cx="408.4" cy="593.3" r="3.6" fill="url(#ga9cd33)" stroke="#768f23" stroke-width="0.3"/><circle cx="416.5" cy="607.6" r="3.6" fill="url(#ga9cd33)" stroke="#768f23" stroke-width="0.3"/><circle cx="413.7" cy="603.1" r="3.6" fill="url(#ga9cd33)" stroke="#768f23" stroke-width="0.3"/><circle cx="403.9" cy="584.6" r="3.6" fill="url(#ga9cd33)" stroke="#768f23" stroke-width="0.3"/><circle cx="419.5" cy="593.8" r="3.6" fill="url(#ga9cd33)" stroke="#768f23" stroke-width="0.3"/><circle cx="416.1" cy="589.7" r="3.6" fill="url(#ga9cd33)" stroke="#768f23" stroke-width="0.3"/><circle cx="398.6" cy="585.6" r="3.6" fill="url(#ga9cd33)" stroke="#768f23" stroke-width="0.3"/><circle cx="407.1" cy="598.4" r="3.6" fill="url(#ga9cd33)" stroke="#768f23" stroke-width="0.3"/><circle cx="420.3" cy="607.9" r="3.6" fill="url(#ga9cd33)" stroke="#768f23" stroke-width="0.3"/><circle cx="418.6" cy="611.4" r="3.6" fill="url(#ga9cd33)" stroke="#768f23" stroke-width="0.3"/><circle cx="426.9" cy="598.4" r="3.6" fill="url(#ga9cd33)" stroke="#768f23" stroke-width="0.3"/><circle cx="415.8" cy="598.3" r="3.6" fill="url(#ga9cd33)" stroke="#768f23" stroke-width="0.3"/><circle cx="421.3" cy="597.8" r="3.6" fill="url(#ga9cd33)" stroke="#768f23" stroke-width="0.3"/><circle cx="399.9" cy="589.6" r="3.6" fill="url(#ga9cd33)" stroke="#768f23" stroke-width="0.3"/><circle cx="410.4" cy="590.9" r="3.6" fill="url(#ga9cd33)" stroke="#768f23" stroke-width="0.3"/><circle cx="414.2" cy="594.3" r="3.6" fill="url(#ga9cd33)" stroke="#768f23" stroke-width="0.3"/><circle cx="411.6" cy="598.7" r="3.6" fill="url(#ga9cd33)" stroke="#768f23" stroke-width="0.3"/><circle cx="415.4" cy="580.3" r="3.6" fill="url(#ga9cd33)" stroke="#768f23" stroke-width="0.3"/><circle cx="424.4" cy="593.5" r="3.6" fill="url(#ga9cd33)" stroke="#768f23" stroke-width="0.3"/><circle cx="419.1" cy="584.7" r="3.6" fill="url(#ga9cd33)" stroke="#768f23" stroke-width="0.3"/><circle cx="428.2" cy="594.5" r="3.6" fill="url(#ga9cd33)" stroke="#768f23" stroke-width="0.3"/><circle cx="414.7" cy="611.7" r="3.6" fill="url(#ga9cd33)" stroke="#768f23" stroke-width="0.3"/><circle cx="404.8" cy="590.2" r="3.6" fill="url(#ga9cd33)" stroke="#768f23" stroke-width="0.3"/><circle cx="414.3" cy="584.0" r="3.6" fill="url(#ga9cd33)" stroke="#768f23" stroke-width="0.3"/><circle cx="408.7" cy="602.9" r="3.6" fill="url(#ga9cd33)" stroke="#768f23" stroke-width="0.3"/><circle cx="409.4" cy="584.7" r="3.6" fill="url(#ga9cd33)" stroke="#768f23" stroke-width="0.3"/><circle cx="418.8" cy="604.2" r="3.6" fill="url(#ga9cd33)" stroke="#768f23" stroke-width="0.3"/><circle cx="420.5" cy="589.3" r="3.6" fill="url(#ga9cd33)" stroke="#768f23" stroke-width="0.3"/><circle cx="344.5" cy="606.0" r="3.6" fill="url(#g1a8a88)" stroke="#12605f" stroke-width="0.3"/><circle cx="350.2" cy="605.3" r="3.6" fill="url(#g1a8a88)" stroke="#12605f" stroke-width="0.3"/><circle cx="354.4" cy="605.0" r="3.6" fill="url(#g1a8a88)" stroke="#12605f" stroke-width="0.3"/><circle cx="351.6" cy="600.4" r="3.6" fill="url(#g1a8a88)" stroke="#12605f" stroke-width="0.3"/><circle cx="359.4" cy="604.8" r="3.6" fill="url(#g1a8a88)" stroke="#12605f" stroke-width="0.3"/><circle cx="359.4" cy="614.6" r="3.6" fill="url(#g1a8a88)" stroke="#12605f" stroke-width="0.3"/><circle cx="365.5" cy="605.0" r="3.6" fill="url(#g1a8a88)" stroke="#12605f" stroke-width="0.3"/><circle cx="350.7" cy="596.4" r="3.6" fill="url(#g1a8a88)" stroke="#12605f" stroke-width="0.3"/><circle cx="357.1" cy="600.0" r="3.6" fill="url(#g1a8a88)" stroke="#12605f" stroke-width="0.3"/><circle cx="357.4" cy="610.4" r="3.6" fill="url(#g1a8a88)" stroke="#12605f" stroke-width="0.3"/><circle cx="361.7" cy="609.9" r="3.6" fill="url(#g1a8a88)" stroke="#12605f" stroke-width="0.3"/><circle cx="355.0" cy="596.2" r="3.6" fill="url(#g1a8a88)" stroke="#12605f" stroke-width="0.3"/><circle cx="363.7" cy="599.6" r="3.6" fill="url(#g1a8a88)" stroke="#12605f" stroke-width="0.3"/><circle cx="346.1" cy="601.4" r="3.6" fill="url(#g1a8a88)" stroke="#12605f" stroke-width="0.3"/><circle cx="351.8" cy="609.6" r="3.6" fill="url(#g1a8a88)" stroke="#12605f" stroke-width="0.3"/><circle cx="349.9" cy="615.2" r="3.6" fill="url(#g1a8a88)" stroke="#12605f" stroke-width="0.3"/><circle cx="346.6" cy="609.6" r="3.6" fill="url(#g1a8a88)" stroke="#12605f" stroke-width="0.3"/><circle cx="350.3" cy="627.7" r="3.6" fill="url(#g21957a)" stroke="#176855" stroke-width="0.3"/><circle cx="345.6" cy="618.1" r="3.6" fill="url(#g21957a)" stroke="#176855" stroke-width="0.3"/><circle cx="348.6" cy="631.6" r="3.6" fill="url(#g21957a)" stroke="#176855" stroke-width="0.3"/><circle cx="342.5" cy="624.1" r="3.6" fill="url(#g21957a)" stroke="#176855" stroke-width="0.3"/><circle cx="356.4" cy="628.4" r="3.6" fill="url(#g21957a)" stroke="#176855" stroke-width="0.3"/><circle cx="340.3" cy="627.1" r="3.6" fill="url(#g21957a)" stroke="#176855" stroke-width="0.3"/><circle cx="352.5" cy="613.1" r="3.6" fill="url(#g21957a)" stroke="#176855" stroke-width="0.3"/><circle cx="342.9" cy="614.9" r="3.6" fill="url(#g21957a)" stroke="#176855" stroke-width="0.3"/><circle cx="339.8" cy="618.0" r="3.6" fill="url(#g21957a)" stroke="#176855" stroke-width="0.3"/><circle cx="347.4" cy="614.1" r="3.6" fill="url(#g21957a)" stroke="#176855" stroke-width="0.3"/><circle cx="354.1" cy="633.1" r="3.6" fill="url(#g21957a)" stroke="#176855" stroke-width="0.3"/><circle cx="349.3" cy="624.0" r="3.6" fill="url(#g21957a)" stroke="#176855" stroke-width="0.3"/><circle cx="355.5" cy="617.6" r="3.6" fill="url(#g21957a)" stroke="#176855" stroke-width="0.3"/><circle cx="359.1" cy="624.2" r="3.6" fill="url(#g21957a)" stroke="#176855" stroke-width="0.3"/><circle cx="346.9" cy="628.0" r="3.6" fill="url(#g21957a)" stroke="#176855" stroke-width="0.3"/><circle cx="353.0" cy="624.1" r="3.6" fill="url(#g21957a)" stroke="#176855" stroke-width="0.3"/><circle cx="350.4" cy="618.1" r="3.6" fill="url(#g21957a)" stroke="#176855" stroke-width="0.3"/><circle cx="344.0" cy="631.9" r="3.6" fill="url(#g21957a)" stroke="#176855" stroke-width="0.3"/><circle cx="374.0" cy="603.9" r="3.6" fill="url(#g9ccc38)" stroke="#6d8e27" stroke-width="0.3"/><circle cx="388.9" cy="595.3" r="3.6" fill="url(#g9ccc38)" stroke="#6d8e27" stroke-width="0.3"/><circle cx="385.7" cy="610.5" r="3.6" fill="url(#g9ccc38)" stroke="#6d8e27" stroke-width="0.3"/><circle cx="391.3" cy="609.3" r="3.6" fill="url(#g9ccc38)" stroke="#6d8e27" stroke-width="0.3"/><circle cx="388.5" cy="605.3" r="3.6" fill="url(#g9ccc38)" stroke="#6d8e27" stroke-width="0.3"/><circle cx="375.1" cy="608.5" r="3.6" fill="url(#g9ccc38)" stroke="#6d8e27" stroke-width="0.3"/><circle cx="379.3" cy="604.3" r="3.6" fill="url(#g9ccc38)" stroke="#6d8e27" stroke-width="0.3"/><circle cx="384.0" cy="605.5" r="3.6" fill="url(#g9ccc38)" stroke="#6d8e27" stroke-width="0.3"/><circle cx="383.6" cy="597.2" r="3.6" fill="url(#g9ccc38)" stroke="#6d8e27" stroke-width="0.3"/><circle cx="383.8" cy="612.9" r="3.6" fill="url(#g9ccc38)" stroke="#6d8e27" stroke-width="0.3"/><circle cx="382.4" cy="600.4" r="3.6" fill="url(#g9ccc38)" stroke="#6d8e27" stroke-width="0.3"/><circle cx="379.1" cy="596.0" r="3.6" fill="url(#g9ccc38)" stroke="#6d8e27" stroke-width="0.3"/><circle cx="387.0" cy="599.9" r="3.6" fill="url(#g9ccc38)" stroke="#6d8e27" stroke-width="0.3"/><circle cx="394.2" cy="604.4" r="3.6" fill="url(#g9ccc38)" stroke="#6d8e27" stroke-width="0.3"/><circle cx="382.2" cy="609.0" r="3.6" fill="url(#g9ccc38)" stroke="#6d8e27" stroke-width="0.3"/><circle cx="376.8" cy="601.3" r="3.6" fill="url(#g9ccc38)" stroke="#6d8e27" stroke-width="0.3"/><circle cx="391.9" cy="601.2" r="3.6" fill="url(#g9ccc38)" stroke="#6d8e27" stroke-width="0.3"/><circle cx="410.0" cy="613.7" r="3.6" fill="url(#ga9cd33)" stroke="#768f23" stroke-width="0.3"/><circle cx="409.3" cy="618.4" r="3.6" fill="url(#ga9cd33)" stroke="#768f23" stroke-width="0.3"/><circle cx="417.6" cy="618.9" r="3.6" fill="url(#ga9cd33)" stroke="#768f23" stroke-width="0.3"/><circle cx="400.7" cy="622.2" r="3.6" fill="url(#ga9cd33)" stroke="#768f23" stroke-width="0.3"/><circle cx="404.6" cy="613.6" r="3.6" fill="url(#ga9cd33)" stroke="#768f23" stroke-width="0.3"/><circle cx="398.1" cy="617.5" r="3.6" fill="url(#ga9cd33)" stroke="#768f23" stroke-width="0.3"/><circle cx="399.7" cy="613.5" r="3.6" fill="url(#ga9cd33)" stroke="#768f23" stroke-width="0.3"/><circle cx="410.6" cy="622.3" r="3.6" fill="url(#ga9cd33)" stroke="#768f23" stroke-width="0.3"/><circle cx="415.0" cy="613.9" r="3.6" fill="url(#ga9cd33)" stroke="#768f23" stroke-width="0.3"/><circle cx="402.0" cy="617.9" r="3.6" fill="url(#ga9cd33)" stroke="#768f23" stroke-width="0.3"/><circle cx="416.0" cy="622.9" r="3.6" fill="url(#ga9cd33)" stroke="#768f23" stroke-width="0.3"/><circle cx="408.4" cy="626.4" r="3.6" fill="url(#ga9cd33)" stroke="#768f23" stroke-width="0.3"/><circle cx="413.2" cy="618.0" r="3.6" fill="url(#ga9cd33)" stroke="#768f23" stroke-width="0.3"/><circle cx="404.9" cy="621.6" r="3.6" fill="url(#ga9cd33)" stroke="#768f23" stroke-width="0.3"/><circle cx="375.6" cy="523.5" r="3.6" fill="url(#g2b5b8e)" stroke="#1e3f63" stroke-width="0.3"/><circle cx="382.9" cy="519.9" r="3.6" fill="url(#g2b5b8e)" stroke="#1e3f63" stroke-width="0.3"/><circle cx="389.2" cy="517.2" r="3.6" fill="url(#g2b5b8e)" stroke="#1e3f63" stroke-width="0.3"/><circle cx="391.9" cy="509.9" r="3.6" fill="url(#g2b5b8e)" stroke="#1e3f63" stroke-width="0.3"/><circle cx="379.3" cy="526.2" r="3.6" fill="url(#g2b5b8e)" stroke="#1e3f63" stroke-width="0.3"/><circle cx="386.5" cy="524.4" r="3.6" fill="url(#g2b5b8e)" stroke="#1e3f63" stroke-width="0.3"/><circle cx="389.2" cy="527.1" r="3.6" fill="url(#g2b5b8e)" stroke="#1e3f63" stroke-width="0.3"/><circle cx="335.8" cy="531.7" r="3.6" fill="url(#g3a3590)" stroke="#282564" stroke-width="0.3"/><circle cx="339.4" cy="537.1" r="3.6" fill="url(#g3a3590)" stroke="#282564" stroke-width="0.3"/><circle cx="343.4" cy="532.9" r="3.6" fill="url(#g3a3590)" stroke="#282564" stroke-width="0.3"/><circle cx="340.3" cy="539.8" r="3.6" fill="url(#g3a3590)" stroke="#282564" stroke-width="0.3"/><circle cx="332.5" cy="532.9" r="3.6" fill="url(#g3a3590)" stroke="#282564" stroke-width="0.3"/><circle cx="440.9" cy="525.3" r="3.6" fill="url(#g2b5b8e)" stroke="#1e3f63" stroke-width="0.3"/><circle cx="448.1" cy="532.6" r="3.6" fill="url(#g3a3590)" stroke="#282564" stroke-width="0.3"/><circle cx="455.4" cy="534.4" r="3.6" fill="url(#g2b5b8e)" stroke="#1e3f63" stroke-width="0.3"/><circle cx="442.7" cy="539.8" r="3.6" fill="url(#g2b5b8e)" stroke="#1e3f63" stroke-width="0.3"/><circle cx="449.0" cy="538.9" r="3.6" fill="url(#g3a3590)" stroke="#282564" stroke-width="0.3"/><circle cx="447.2" cy="528.0" r="3.6" fill="url(#g3a3590)" stroke="#282564" stroke-width="0.3"/><circle cx="446.3" cy="566.6" r="3.6" fill="url(#g3a3590)" stroke="#282564" stroke-width="0.3"/><circle cx="452.7" cy="572.4" r="3.6" fill="url(#g3a3590)" stroke="#282564" stroke-width="0.3"/><circle cx="396.5" cy="540.7" r="3.6" fill="url(#g3a3590)" stroke="#282564" stroke-width="0.3"/><circle cx="400.1" cy="605.1" r="3.6" fill="url(#g3a3590)" stroke="#282564" stroke-width="0.3"/><circle cx="304.0" cy="556.1" r="3.6" fill="url(#g3a3590)" stroke="#282564" stroke-width="0.3"/><circle cx="307.7" cy="554.3" r="3.6" fill="url(#g3a3590)" stroke="#282564" stroke-width="0.3"/></g>
<g><path d="M492.2,526.4 L490.1,514.1 L499.4,504.9 L511.2,499.7 L524.5,500.9 L533.0,509.6 L538.4,519.9 L535.4,531.5 L525.6,540.2 L512.2,538.8 L500.5,535.3Z" fill="#f6ea1e" stroke="#f6ea1e" stroke-width="1.5" stroke-linejoin="round"/><path d="M626.7,641.0 L617.7,648.6 L606.9,647.3 L595.3,646.4 L588.8,635.5 L590.1,623.0 L596.3,613.0 L606.7,610.2 L616.4,612.3 L625.6,617.7 L626.6,629.0Z" fill="#f8b533" stroke="#f8b533" stroke-width="1.5" stroke-linejoin="round"/><path d="M556.0,547.5 L546.0,547.5 L536.0,544.4 L530.8,535.0 L529.6,523.7 L537.4,515.3 L547.5,510.7 L558.2,513.5 L566.7,520.7 L568.4,531.6 L564.2,541.3Z" fill="#f6ea1e" stroke="#f6ea1e" stroke-width="1.5" stroke-linejoin="round"/><path d="M521.8,555.4 L518.0,565.1 L509.0,571.4 L498.0,571.4 L488.7,567.6 L482.8,560.4 L483.6,551.8 L486.6,542.6 L497.3,539.7 L508.6,539.3 L515.9,546.7Z" fill="#f6ea1e" stroke="#f6ea1e" stroke-width="1.5" stroke-linejoin="round"/><path d="M644.0,588.8 L640.2,597.9 L635.4,605.3 L626.5,611.5 L615.6,608.3 L605.6,603.2 L605.1,593.2 L609.5,585.2 L616.0,577.9 L627.2,576.1 L636.1,581.9Z" fill="#f8b533" stroke="#f8b533" stroke-width="1.5" stroke-linejoin="round"/><path d="M516.1,575.0 L509.7,582.5 L497.9,583.4 L489.1,578.1 L483.0,571.7 L483.4,563.8 L488.6,557.3 L496.9,551.4 L507.3,554.5 L516.5,558.8 L519.4,567.0Z" fill="#f6ea1e" stroke="#f6ea1e" stroke-width="1.5" stroke-linejoin="round"/><path d="M587.4,632.7 L579.6,631.3 L572.2,628.8 L569.9,619.9 L569.3,611.1 L574.2,604.3 L581.0,600.9 L589.2,600.2 L594.9,607.8 L595.2,617.4 L594.3,627.1Z" fill="#f7d822" stroke="#f7d822" stroke-width="1.5" stroke-linejoin="round"/><path d="M536.2,627.4 L527.4,628.6 L520.4,623.3 L518.9,615.7 L517.5,607.5 L525.4,603.3 L533.1,601.4 L541.8,602.4 L546.1,609.4 L546.8,616.8 L542.6,622.9Z" fill="#f6ea1e" stroke="#f6ea1e" stroke-width="1.5" stroke-linejoin="round"/><path d="M570.0,540.2 L563.5,544.5 L556.2,546.7 L549.4,542.9 L545.0,536.6 L543.4,528.5 L549.0,522.4 L556.0,518.8 L564.2,519.1 L568.8,525.7 L570.8,532.6Z" fill="#f6ea1e" stroke="#f6ea1e" stroke-width="1.5" stroke-linejoin="round"/><path d="M591.4,530.9 L592.0,538.9 L589.8,545.8 L585.1,552.2 L576.9,554.1 L570.7,548.7 L564.4,543.4 L564.6,534.9 L569.7,528.4 L577.0,525.6 L584.1,527.6Z" fill="#f8b533" stroke="#f8b533" stroke-width="1.5" stroke-linejoin="round"/><path d="M542.1,589.1 L535.0,593.7 L527.5,597.6 L518.4,595.8 L509.7,593.0 L507.4,586.7 L510.7,580.9 L517.4,577.1 L526.0,574.7 L533.6,578.4 L539.0,582.9Z" fill="#f8b533" stroke="#f8b533" stroke-width="1.5" stroke-linejoin="round"/><path d="M488.8,531.0 L493.8,525.6 L500.6,524.1 L508.0,524.0 L511.5,530.5 L512.3,536.8 L510.6,543.1 L505.4,547.4 L498.8,546.7 L493.1,543.9 L489.5,538.3Z" fill="#f8b533" stroke="#f8b533" stroke-width="1.5" stroke-linejoin="round"/><path d="M563.6,492.2 L567.5,486.9 L574.1,483.7 L581.5,485.8 L585.6,492.1 L586.6,499.3 L583.2,505.7 L576.7,508.2 L570.4,507.7 L565.3,504.2 L560.3,498.8Z" fill="#74c765" stroke="#74c765" stroke-width="1.5" stroke-linejoin="round"/><path d="M598.8,515.5 L605.8,517.9 L612.5,520.0 L615.2,526.5 L615.0,533.7 L609.7,538.4 L603.3,542.5 L597.2,538.2 L591.7,534.1 L590.0,527.1 L592.5,520.0Z" fill="#f6ea1e" stroke="#f6ea1e" stroke-width="1.5" stroke-linejoin="round"/><path d="M593.6,534.3 L600.9,535.6 L606.6,540.6 L606.7,548.0 L605.2,554.9 L599.6,560.0 L592.0,560.5 L586.2,556.0 L581.8,550.3 L582.0,542.7 L587.0,537.3Z" fill="#f8b533" stroke="#f8b533" stroke-width="1.5" stroke-linejoin="round"/><path d="M492.7,580.8 L498.6,576.9 L505.7,577.4 L510.2,582.6 L514.1,588.4 L513.5,595.9 L507.8,601.1 L500.4,602.3 L494.1,599.0 L489.0,593.9 L488.9,586.6Z" fill="#c9b830" stroke="#c9b830" stroke-width="1.5" stroke-linejoin="round"/><path d="M574.2,523.6 L575.5,515.7 L576.9,508.0 L583.0,506.2 L589.1,504.8 L594.0,509.7 L595.6,516.9 L595.5,524.8 L590.8,530.1 L584.7,532.2 L578.2,530.4Z" fill="#74c765" stroke="#74c765" stroke-width="1.5" stroke-linejoin="round"/><path d="M545.8,509.9 L538.7,509.0 L532.9,505.2 L533.6,499.8 L536.9,495.3 L542.5,491.2 L550.7,491.9 L556.8,495.4 L561.2,500.3 L558.0,505.5 L553.5,510.0Z" fill="#f8b533" stroke="#f8b533" stroke-width="1.5" stroke-linejoin="round"/><path d="M494.4,543.0 L488.0,544.2 L482.1,541.0 L479.1,534.9 L481.0,528.6 L484.5,523.5 L490.5,522.1 L496.0,524.0 L500.7,527.7 L502.7,533.9 L500.2,540.2Z" fill="#74c765" stroke="#74c765" stroke-width="1.5" stroke-linejoin="round"/><path d="M625.1,547.0 L631.4,548.9 L636.1,552.4 L638.9,557.7 L637.4,563.5 L633.3,567.7 L627.7,569.6 L621.6,568.1 L617.9,563.0 L617.7,556.9 L619.4,550.7Z" fill="#c9b830" stroke="#c9b830" stroke-width="1.5" stroke-linejoin="round"/><path d="M562.2,587.0 L560.3,592.7 L556.5,596.7 L551.1,600.3 L545.9,596.4 L540.8,592.8 L540.3,586.4 L543.6,581.2 L548.4,576.9 L554.4,579.0 L559.2,581.9Z" fill="#35c09a" stroke="#35c09a" stroke-width="1.5" stroke-linejoin="round"/><path d="M561.3,592.1 L559.3,585.9 L563.9,581.5 L569.3,579.3 L574.8,580.3 L580.3,583.2 L581.6,589.3 L580.3,595.4 L575.4,599.7 L569.0,601.0 L562.7,598.5Z" fill="#c9b830" stroke="#c9b830" stroke-width="1.5" stroke-linejoin="round"/><path d="M591.6,579.9 L597.4,578.5 L602.5,581.7 L605.1,586.7 L606.2,592.5 L603.2,598.2 L597.0,599.4 L591.2,598.7 L586.7,594.9 L584.2,589.1 L586.5,583.2Z" fill="#f8b533" stroke="#f8b533" stroke-width="1.5" stroke-linejoin="round"/><path d="M615.2,536.7 L620.3,533.7 L625.8,532.6 L630.9,536.4 L631.5,543.7 L632.6,551.0 L628.4,556.3 L622.9,556.6 L617.7,555.6 L613.8,550.6 L612.4,543.3Z" fill="#74c765" stroke="#74c765" stroke-width="1.5" stroke-linejoin="round"/><path d="M557.5,571.2 L553.3,566.4 L554.1,560.6 L558.4,555.7 L565.7,554.7 L572.8,555.6 L576.7,560.1 L579.5,565.1 L577.1,570.6 L570.9,573.7 L563.6,574.2Z" fill="#c9b830" stroke="#c9b830" stroke-width="1.5" stroke-linejoin="round"/><path d="M591.9,640.9 L583.3,640.8 L576.3,637.7 L574.5,632.8 L575.4,628.0 L581.9,625.2 L589.2,623.0 L597.1,624.8 L600.8,629.2 L600.6,633.6 L598.2,637.8Z" fill="#f6ea1e" stroke="#f6ea1e" stroke-width="1.5" stroke-linejoin="round"/><path d="M527.8,551.5 L531.9,547.2 L537.8,546.2 L544.1,545.4 L547.4,550.2 L550.7,555.0 L547.3,559.7 L543.0,563.2 L536.9,564.9 L532.1,561.2 L529.1,557.0Z" fill="#11b4d2" stroke="#11b4d2" stroke-width="1.5" stroke-linejoin="round"/><path d="M512.8,556.8 L515.0,551.3 L520.6,548.3 L527.3,547.5 L532.3,551.2 L536.3,555.9 L533.5,561.1 L530.2,565.2 L524.8,567.5 L519.0,565.7 L513.9,562.4Z" fill="#f8b533" stroke="#f8b533" stroke-width="1.5" stroke-linejoin="round"/><path d="M579.0,556.8 L584.0,553.5 L589.5,555.2 L593.1,559.7 L594.7,565.4 L594.0,571.9 L589.6,576.3 L583.9,575.5 L578.4,574.2 L575.0,568.6 L576.0,562.0Z" fill="#11b4d2" stroke="#11b4d2" stroke-width="1.5" stroke-linejoin="round"/><path d="M614.7,609.3 L618.2,605.0 L624.2,603.6 L630.3,605.1 L632.9,610.0 L636.0,615.1 L632.1,619.9 L626.6,622.4 L620.3,623.1 L615.2,619.5 L613.0,614.4Z" fill="#f6ea1e" stroke="#f6ea1e" stroke-width="1.5" stroke-linejoin="round"/><path d="M518.1,540.4 L524.7,539.1 L530.7,541.5 L535.6,545.2 L535.1,550.3 L529.4,553.5 L523.3,555.5 L516.9,554.0 L511.6,551.3 L508.9,546.8 L511.2,542.0Z" fill="#2e84f2" stroke="#2e84f2" stroke-width="1.5" stroke-linejoin="round"/><path d="M615.3,564.4 L616.5,560.1 L620.0,556.1 L626.9,554.1 L633.1,556.8 L639.0,559.5 L637.9,564.2 L635.8,568.2 L630.3,570.6 L623.4,571.5 L618.1,568.4Z" fill="#c9b830" stroke="#c9b830" stroke-width="1.5" stroke-linejoin="round"/><path d="M572.2,606.5 L569.4,602.3 L567.3,597.8 L572.1,594.4 L577.6,591.7 L584.3,592.5 L589.4,595.3 L592.5,599.4 L590.6,603.8 L585.6,606.9 L578.9,607.9Z" fill="#74c765" stroke="#74c765" stroke-width="1.5" stroke-linejoin="round"/><path d="M519.8,497.7 L521.9,493.1 L526.1,489.6 L531.7,489.9 L536.1,493.2 L538.9,498.2 L537.3,503.8 L533.8,508.3 L528.1,508.3 L522.6,507.7 L518.9,503.2Z" fill="#a6c23e" stroke="#a6c23e" stroke-width="1.5" stroke-linejoin="round"/><path d="M579.2,478.4 L580.9,483.3 L580.9,489.0 L575.8,491.7 L570.6,494.4 L565.2,491.9 L563.3,486.6 L562.9,481.5 L564.7,476.3 L570.0,474.7 L575.0,475.6Z" fill="#11b4d2" stroke="#11b4d2" stroke-width="1.5" stroke-linejoin="round"/><path d="M592.1,485.8 L596.5,489.3 L596.2,494.8 L594.9,499.9 L590.8,503.6 L585.5,502.4 L581.0,500.4 L577.5,496.1 L577.5,490.3 L581.1,485.4 L586.9,485.3Z" fill="#a6c23e" stroke="#a6c23e" stroke-width="1.5" stroke-linejoin="round"/><path d="M598.0,545.0 L600.3,539.8 L604.3,536.0 L609.8,536.5 L614.1,538.9 L616.7,543.1 L616.4,548.0 L614.3,552.9 L609.3,554.9 L603.8,554.1 L600.6,549.8Z" fill="#11b4d2" stroke="#11b4d2" stroke-width="1.5" stroke-linejoin="round"/><path d="M569.0,567.0 L563.7,569.1 L558.2,566.8 L555.2,561.6 L557.1,556.2 L559.8,552.2 L564.1,548.2 L569.5,550.2 L574.1,553.4 L574.7,559.0 L573.4,564.1Z" fill="#c9b830" stroke="#c9b830" stroke-width="1.5" stroke-linejoin="round"/><path d="M478.2,576.9 L479.9,571.7 L484.9,569.7 L490.1,568.0 L495.2,570.6 L496.5,576.1 L496.6,581.3 L493.6,586.1 L488.2,587.2 L483.2,585.6 L479.8,581.9Z" fill="#35c09a" stroke="#35c09a" stroke-width="1.5" stroke-linejoin="round"/><path d="M545.0,619.9 L545.1,614.2 L549.9,610.9 L555.7,610.7 L560.9,613.2 L563.2,618.5 L562.3,624.0 L559.4,628.5 L554.1,630.2 L548.3,630.0 L544.4,625.5Z" fill="#f8b533" stroke="#f8b533" stroke-width="1.5" stroke-linejoin="round"/><path d="M575.4,588.4 L570.0,586.1 L566.3,581.6 L565.7,575.8 L569.1,571.3 L573.4,567.5 L579.4,567.9 L583.9,571.6 L586.1,576.9 L585.0,582.5 L580.6,586.0Z" fill="#a6c23e" stroke="#a6c23e" stroke-width="1.5" stroke-linejoin="round"/><path d="M625.5,567.1 L630.6,567.1 L634.9,570.3 L635.5,575.4 L635.0,580.5 L631.4,584.6 L625.9,585.6 L621.3,582.7 L616.9,579.0 L617.3,573.2 L620.7,568.9Z" fill="#74c765" stroke="#74c765" stroke-width="1.5" stroke-linejoin="round"/><path d="M562.2,594.6 L567.5,593.2 L572.6,595.0 L577.3,598.4 L577.4,604.3 L575.1,609.5 L570.4,612.7 L564.5,613.2 L561.0,608.5 L557.7,604.3 L558.2,598.6Z" fill="#a6c23e" stroke="#a6c23e" stroke-width="1.5" stroke-linejoin="round"/><path d="M558.8,646.7 L554.2,644.4 L550.9,640.7 L550.0,635.6 L552.8,631.3 L557.0,628.5 L562.6,627.3 L566.8,631.2 L568.8,636.3 L568.7,642.1 L564.2,645.8Z" fill="#35c09a" stroke="#35c09a" stroke-width="1.5" stroke-linejoin="round"/><path d="M525.3,498.5 L524.1,503.3 L518.3,505.5 L512.7,507.2 L506.5,505.6 L504.5,501.1 L502.1,496.5 L507.0,493.2 L512.0,490.7 L517.8,491.8 L523.0,494.1Z" fill="#35c09a" stroke="#35c09a" stroke-width="1.5" stroke-linejoin="round"/><path d="M587.1,494.5 L591.1,490.6 L597.6,491.5 L603.0,493.7 L605.8,497.9 L604.5,502.5 L600.5,505.8 L594.9,507.9 L588.8,506.4 L585.2,502.7 L583.2,498.2Z" fill="#11b4d2" stroke="#11b4d2" stroke-width="1.5" stroke-linejoin="round"/><path d="M519.4,570.2 L514.3,568.3 L512.4,564.2 L513.0,560.0 L515.9,555.8 L522.2,555.1 L528.7,555.6 L532.8,559.6 L532.0,564.3 L531.5,569.3 L525.6,572.0Z" fill="#f8b533" stroke="#f8b533" stroke-width="1.5" stroke-linejoin="round"/><path d="M597.1,598.5 L591.9,601.5 L585.9,602.7 L579.3,602.1 L576.7,597.5 L575.4,593.0 L577.4,588.3 L583.4,586.1 L589.7,586.7 L595.8,588.7 L598.1,593.5Z" fill="#4a55f0" stroke="#4a55f0" stroke-width="1.5" stroke-linejoin="round"/><path d="M592.9,602.5 L597.0,599.1 L603.3,599.1 L608.2,601.7 L610.6,605.6 L611.3,610.1 L606.9,613.2 L601.6,615.2 L595.3,614.6 L591.3,611.0 L590.5,606.5Z" fill="#35c09a" stroke="#35c09a" stroke-width="1.5" stroke-linejoin="round"/><path d="M498.4,511.9 L505.3,504.1 L516.6,503.0 L528.1,505.1 L535.1,513.8 L534.8,524.3 L527.5,531.7 L518.4,535.5 L507.2,537.6 L498.2,530.9 L495.0,521.2Z" fill="#f6ea1e" stroke="#f6ea1e" stroke-width="1.5" stroke-linejoin="round"/><path d="M599.7,641.6 L593.4,634.5 L593.6,624.6 L598.2,616.1 L606.5,611.6 L615.9,612.3 L621.6,620.0 L624.4,628.5 L624.6,638.8 L617.1,645.9 L607.3,647.5Z" fill="#f8b533" stroke="#f8b533" stroke-width="1.5" stroke-linejoin="round"/><path d="M563.3,534.1 L559.7,541.7 L552.1,546.1 L543.0,545.9 L537.4,538.9 L533.1,531.2 L536.9,523.3 L542.8,517.7 L551.1,514.0 L559.5,517.9 L565.0,525.4Z" fill="#f6ea1e" stroke="#f6ea1e" stroke-width="1.5" stroke-linejoin="round"/><path d="M489.2,565.6 L485.7,558.6 L485.8,551.2 L490.0,544.1 L498.8,540.8 L507.1,544.7 L513.0,549.5 L517.5,556.6 L513.6,564.1 L506.5,569.4 L497.3,568.3Z" fill="#f6ea1e" stroke="#f6ea1e" stroke-width="1.5" stroke-linejoin="round"/><path d="M610.5,599.5 L606.8,592.1 L611.7,585.2 L618.5,580.0 L628.1,578.5 L635.0,584.3 L639.8,590.8 L639.6,598.9 L634.1,605.9 L624.7,607.1 L616.1,605.1Z" fill="#f8b533" stroke="#f8b533" stroke-width="1.5" stroke-linejoin="round"/><path d="M514.6,575.3 L505.8,578.0 L497.7,578.7 L489.2,576.8 L484.8,570.5 L484.4,563.2 L490.7,557.9 L498.5,553.9 L506.8,557.2 L513.2,561.4 L516.9,567.9Z" fill="#f6ea1e" stroke="#f6ea1e" stroke-width="1.5" stroke-linejoin="round"/><path d="M591.8,623.0 L587.8,629.4 L581.1,630.9 L575.4,626.9 L572.1,620.8 L571.2,613.5 L573.6,606.1 L579.9,603.4 L585.9,604.8 L592.0,608.0 L593.9,615.7Z" fill="#f7d822" stroke="#f7d822" stroke-width="1.5" stroke-linejoin="round"/><path d="M544.8,608.1 L546.5,615.1 L542.8,621.1 L537.6,626.0 L530.2,625.3 L524.1,622.4 L520.5,617.0 L519.4,610.1 L524.1,604.4 L531.6,603.5 L538.3,604.4Z" fill="#f6ea1e" stroke="#f6ea1e" stroke-width="1.5" stroke-linejoin="round"/><path d="M550.6,541.1 L547.2,535.8 L547.3,529.4 L551.1,524.5 L556.5,521.0 L563.4,521.5 L568.0,526.5 L570.6,532.8 L568.0,539.2 L562.5,542.5 L556.2,544.9Z" fill="#f6ea1e" stroke="#f6ea1e" stroke-width="1.5" stroke-linejoin="round"/><path d="M587.1,531.5 L589.2,537.2 L589.8,543.4 L585.7,548.6 L579.4,550.8 L572.4,550.1 L568.2,544.4 L566.6,537.7 L570.9,532.5 L575.3,527.9 L582.1,527.0Z" fill="#f8b533" stroke="#f8b533" stroke-width="1.5" stroke-linejoin="round"/><path d="M535.1,590.5 L530.9,595.1 L522.8,596.4 L516.5,592.9 L510.8,589.3 L512.0,584.1 L514.3,579.0 L521.7,576.6 L529.2,578.0 L534.9,581.1 L539.0,585.8Z" fill="#f8b533" stroke="#f8b533" stroke-width="1.5" stroke-linejoin="round"/><path d="M490.2,534.4 L493.5,529.3 L498.4,526.2 L504.5,524.7 L509.5,528.7 L511.7,534.3 L511.0,540.2 L507.4,545.2 L501.4,546.9 L495.1,545.7 L492.0,540.3Z" fill="#f8b533" stroke="#f8b533" stroke-width="1.5" stroke-linejoin="round"/><path d="M578.8,487.5 L583.7,491.5 L585.1,497.7 L583.0,503.8 L578.1,507.9 L571.6,508.6 L566.3,505.1 L563.5,499.7 L563.4,493.6 L566.8,488.3 L572.8,486.9Z" fill="#74c765" stroke="#74c765" stroke-width="1.5" stroke-linejoin="round"/><path d="M594.5,533.2 L591.9,527.8 L593.6,521.6 L599.4,519.0 L605.1,519.1 L609.9,521.7 L613.1,526.4 L612.4,532.1 L610.0,537.9 L603.7,538.0 L598.2,537.4Z" fill="#f6ea1e" stroke="#f6ea1e" stroke-width="1.5" stroke-linejoin="round"/><path d="M602.9,554.5 L597.8,558.1 L591.9,556.6 L587.5,553.4 L584.4,548.7 L585.0,542.8 L588.5,537.6 L594.8,537.9 L599.9,539.3 L603.6,543.3 L604.4,548.8Z" fill="#f8b533" stroke="#f8b533" stroke-width="1.5" stroke-linejoin="round"/><path d="M502.3,600.3 L496.3,598.8 L492.8,594.2 L491.6,588.8 L493.2,583.5 L497.7,580.3 L503.4,578.4 L508.3,582.0 L511.6,586.8 L512.0,593.0 L507.7,597.5Z" fill="#c9b830" stroke="#c9b830" stroke-width="1.5" stroke-linejoin="round"/><path d="M584.6,530.7 L579.2,528.4 L576.8,522.1 L576.0,515.7 L577.9,509.1 L583.2,506.8 L588.3,507.9 L592.0,511.8 L595.7,517.1 L594.2,524.0 L589.7,528.0Z" fill="#74c765" stroke="#74c765" stroke-width="1.5" stroke-linejoin="round"/><path d="M534.7,500.0 L538.1,496.1 L542.9,492.4 L549.9,493.2 L554.6,496.5 L556.4,500.6 L556.6,505.0 L552.0,508.3 L545.8,510.3 L539.3,508.6 L535.2,504.7Z" fill="#f8b533" stroke="#f8b533" stroke-width="1.5" stroke-linejoin="round"/><path d="M495.7,539.9 L491.0,541.7 L486.2,540.2 L481.6,537.1 L481.5,531.5 L483.5,526.4 L487.8,522.7 L493.3,524.1 L498.0,526.4 L499.4,531.4 L500.1,536.8Z" fill="#74c765" stroke="#74c765" stroke-width="1.5" stroke-linejoin="round"/><path d="M638.2,558.9 L636.6,564.4 L632.2,568.0 L626.8,567.2 L622.2,565.5 L618.6,561.5 L619.9,556.3 L622.0,551.7 L626.8,549.5 L632.5,549.4 L636.2,553.7Z" fill="#c9b830" stroke="#c9b830" stroke-width="1.5" stroke-linejoin="round"/><path d="M557.0,581.3 L560.9,585.1 L560.4,590.5 L558.5,595.8 L553.0,596.7 L547.6,597.7 L544.2,593.4 L541.9,588.7 L543.2,583.5 L547.5,580.6 L552.4,578.2Z" fill="#35c09a" stroke="#35c09a" stroke-width="1.5" stroke-linejoin="round"/><path d="M567.3,597.6 L563.8,594.2 L561.7,589.7 L562.6,584.6 L566.2,580.5 L571.6,580.2 L576.8,581.6 L578.8,586.5 L579.6,591.5 L577.1,596.1 L572.6,599.6Z" fill="#c9b830" stroke="#c9b830" stroke-width="1.5" stroke-linejoin="round"/><path d="M600.4,580.7 L603.0,585.3 L604.8,589.9 L603.6,595.2 L598.8,597.6 L593.7,598.6 L589.1,595.9 L587.6,591.1 L585.9,585.6 L589.7,581.2 L595.1,580.6Z" fill="#f8b533" stroke="#f8b533" stroke-width="1.5" stroke-linejoin="round"/><path d="M617.0,538.6 L620.7,535.5 L625.4,535.2 L629.0,538.8 L630.8,544.0 L630.2,549.7 L627.5,554.6 L622.8,555.2 L618.6,553.5 L614.9,549.8 L615.0,543.7Z" fill="#74c765" stroke="#74c765" stroke-width="1.5" stroke-linejoin="round"/><path d="M576.5,561.4 L577.3,566.2 L573.6,570.0 L568.8,573.1 L563.1,571.3 L558.7,568.8 L557.0,564.8 L556.9,560.1 L561.3,556.6 L567.3,556.6 L572.7,557.8Z" fill="#c9b830" stroke="#c9b830" stroke-width="1.5" stroke-linejoin="round"/><path d="M594.5,625.8 L597.8,629.2 L599.2,632.9 L596.7,636.3 L591.7,638.4 L585.5,638.9 L580.7,636.5 L575.8,633.4 L577.9,629.3 L581.8,626.1 L588.1,624.6Z" fill="#f6ea1e" stroke="#f6ea1e" stroke-width="1.5" stroke-linejoin="round"/><path d="M539.9,545.8 L544.6,548.4 L547.5,552.2 L547.8,556.7 L544.6,560.1 L540.6,562.7 L535.2,562.8 L530.3,560.0 L528.9,555.0 L530.5,550.3 L534.5,547.1Z" fill="#11b4d2" stroke="#11b4d2" stroke-width="1.5" stroke-linejoin="round"/><path d="M533.3,558.7 L531.3,562.9 L527.3,566.0 L522.1,565.1 L517.5,563.2 L515.0,559.2 L515.1,554.3 L518.6,550.4 L524.0,549.3 L528.8,551.3 L533.3,553.9Z" fill="#f8b533" stroke="#f8b533" stroke-width="1.5" stroke-linejoin="round"/><path d="M592.2,559.8 L593.3,564.9 L592.5,570.1 L588.7,573.0 L584.4,575.1 L579.5,573.5 L577.4,568.3 L576.8,562.9 L579.2,557.9 L583.9,556.7 L588.8,555.7Z" fill="#11b4d2" stroke="#11b4d2" stroke-width="1.5" stroke-linejoin="round"/><path d="M617.8,607.8 L622.2,605.9 L627.1,606.0 L631.6,608.3 L633.7,612.8 L631.8,617.2 L628.8,621.4 L623.1,621.3 L618.2,619.8 L615.8,615.9 L613.7,611.2Z" fill="#f6ea1e" stroke="#f6ea1e" stroke-width="1.5" stroke-linejoin="round"/><path d="M529.8,553.2 L523.8,554.5 L517.8,554.0 L513.3,551.3 L512.3,547.3 L512.5,543.1 L517.3,540.0 L523.7,539.6 L529.2,541.7 L531.4,545.4 L533.1,549.4Z" fill="#2e84f2" stroke="#2e84f2" stroke-width="1.5" stroke-linejoin="round"/><path d="M624.3,570.9 L619.8,567.9 L616.5,564.6 L616.5,560.3 L621.4,557.7 L626.5,555.9 L631.8,557.6 L635.3,560.3 L636.7,563.9 L636.2,568.2 L630.8,570.7Z" fill="#c9b830" stroke="#c9b830" stroke-width="1.5" stroke-linejoin="round"/><path d="M574.5,594.0 L579.9,592.3 L585.9,593.4 L589.3,596.8 L590.6,600.8 L588.6,604.8 L582.7,605.9 L577.3,606.2 L572.2,604.5 L570.5,600.8 L570.7,596.9Z" fill="#74c765" stroke="#74c765" stroke-width="1.5" stroke-linejoin="round"/><path d="M521.5,496.1 L524.0,492.2 L528.6,491.4 L533.1,492.2 L535.8,496.0 L537.0,500.6 L534.1,504.2 L530.9,507.6 L526.3,506.6 L521.5,505.3 L520.1,500.5Z" fill="#a6c23e" stroke="#a6c23e" stroke-width="1.5" stroke-linejoin="round"/><path d="M563.7,485.2 L563.8,480.5 L566.7,476.6 L571.3,474.9 L576.1,476.1 L579.1,479.9 L580.9,484.6 L578.8,489.2 L574.6,492.2 L569.8,491.6 L565.8,489.3Z" fill="#11b4d2" stroke="#11b4d2" stroke-width="1.5" stroke-linejoin="round"/><path d="M579.1,490.5 L582.8,487.1 L587.3,485.7 L591.7,487.1 L595.6,490.2 L595.3,495.1 L593.1,498.9 L590.0,502.5 L585.0,502.9 L580.9,499.9 L579.0,495.4Z" fill="#a6c23e" stroke="#a6c23e" stroke-width="1.5" stroke-linejoin="round"/><path d="M608.3,537.4 L612.9,538.2 L615.0,542.3 L615.7,546.5 L614.4,550.7 L610.5,553.3 L605.8,553.1 L602.5,550.1 L599.6,546.5 L600.6,541.8 L604.0,538.7Z" fill="#11b4d2" stroke="#11b4d2" stroke-width="1.5" stroke-linejoin="round"/><path d="M562.6,566.4 L559.2,563.5 L557.9,559.4 L557.4,554.5 L560.9,550.7 L566.0,550.2 L570.8,551.6 L573.0,555.9 L574.1,560.7 L570.9,564.3 L567.3,567.4Z" fill="#c9b830" stroke="#c9b830" stroke-width="1.5" stroke-linejoin="round"/><path d="M479.4,574.1 L483.6,571.5 L487.6,568.9 L491.7,571.4 L495.3,574.2 L496.8,579.0 L493.3,582.6 L490.0,585.3 L485.5,585.4 L481.7,583.1 L480.3,578.9Z" fill="#35c09a" stroke="#35c09a" stroke-width="1.5" stroke-linejoin="round"/><path d="M560.5,615.1 L561.6,619.9 L560.6,624.3 L557.7,628.0 L553.1,628.0 L549.2,626.6 L545.0,623.9 L545.7,619.1 L547.5,614.8 L551.4,611.7 L556.6,611.9Z" fill="#f8b533" stroke="#f8b533" stroke-width="1.5" stroke-linejoin="round"/><path d="M568.3,579.1 L568.6,574.7 L570.7,570.3 L575.6,568.7 L579.9,571.2 L583.9,573.8 L583.9,578.7 L582.3,583.0 L578.3,585.1 L573.6,586.6 L569.1,584.1Z" fill="#a6c23e" stroke="#a6c23e" stroke-width="1.5" stroke-linejoin="round"/><path d="M629.6,583.9 L624.9,583.1 L620.3,581.7 L619.7,576.9 L620.1,572.7 L622.1,568.4 L626.9,567.8 L631.8,568.0 L635.2,571.8 L635.7,576.8 L632.8,580.6Z" fill="#74c765" stroke="#74c765" stroke-width="1.5" stroke-linejoin="round"/><path d="M564.4,594.3 L569.4,594.9 L572.9,597.7 L575.1,601.4 L574.9,605.8 L572.6,610.0 L567.9,610.6 L563.7,609.6 L560.6,606.5 L558.9,602.2 L560.5,597.5Z" fill="#a6c23e" stroke="#a6c23e" stroke-width="1.5" stroke-linejoin="round"/><path d="M553.2,643.5 L550.4,639.4 L551.2,634.5 L554.4,631.1 L558.5,629.4 L563.4,629.2 L566.7,633.0 L567.1,637.7 L566.2,642.3 L561.9,644.3 L557.4,646.4Z" fill="#35c09a" stroke="#35c09a" stroke-width="1.5" stroke-linejoin="round"/><path d="M505.1,501.5 L504.6,497.4 L507.8,494.3 L511.7,491.6 L516.9,492.3 L520.9,494.6 L523.9,498.1 L521.4,501.8 L518.3,504.7 L513.4,506.4 L508.7,504.3Z" fill="#35c09a" stroke="#35c09a" stroke-width="1.5" stroke-linejoin="round"/><path d="M593.0,506.5 L588.7,504.2 L584.7,501.2 L584.8,496.7 L589.5,494.3 L593.7,492.2 L599.2,492.5 L602.6,495.7 L605.1,499.6 L602.4,503.4 L598.0,505.5Z" fill="#11b4d2" stroke="#11b4d2" stroke-width="1.5" stroke-linejoin="round"/><path d="M513.1,560.6 L516.7,557.6 L521.4,555.7 L527.0,556.4 L530.5,559.7 L531.6,563.7 L530.4,567.8 L525.7,570.2 L520.3,570.3 L514.9,568.9 L513.7,564.7Z" fill="#f8b533" stroke="#f8b533" stroke-width="1.5" stroke-linejoin="round"/><path d="M587.9,588.0 L592.9,589.1 L594.9,592.9 L595.1,596.8 L592.5,600.5 L587.3,602.2 L581.8,601.4 L578.7,597.9 L576.9,594.2 L579.1,590.6 L582.7,587.7Z" fill="#4a55f0" stroke="#4a55f0" stroke-width="1.5" stroke-linejoin="round"/><path d="M592.5,607.2 L592.8,603.2 L596.7,600.2 L602.2,599.8 L607.5,601.1 L609.2,605.2 L609.2,608.9 L606.4,611.9 L602.3,614.2 L597.1,613.6 L593.1,611.0Z" fill="#35c09a" stroke="#35c09a" stroke-width="1.5" stroke-linejoin="round"/><path d="M479.8,573.2 L476.5,570.2 L473.0,567.4 L473.3,562.4 L475.3,558.3 L478.8,555.6 L482.8,557.0 L485.7,559.8 L487.3,563.8 L486.0,567.9 L483.7,571.3Z" fill="#c9b830" stroke="#c9b830" stroke-width="1.5" stroke-linejoin="round"/><path d="M518.5,478.7 L522.2,477.1 L526.2,476.7 L528.9,479.7 L531.5,482.9 L529.7,486.7 L527.2,489.6 L523.5,490.3 L519.4,489.8 L516.6,486.6 L516.2,482.3Z" fill="#22a0e2" stroke="#22a0e2" stroke-width="1.5" stroke-linejoin="round"/><path d="M560.0,492.5 L557.5,495.6 L553.8,496.6 L549.5,496.8 L547.8,492.8 L546.3,489.2 L547.5,485.2 L550.9,482.3 L555.1,483.5 L558.7,485.0 L561.0,488.5Z" fill="#11b4d2" stroke="#11b4d2" stroke-width="1.5" stroke-linejoin="round"/><path d="M544.5,517.7 L543.3,521.7 L539.1,522.5 L535.2,522.5 L532.3,519.9 L530.8,516.3 L532.3,512.7 L535.0,510.3 L538.7,508.0 L542.7,510.0 L545.1,513.6Z" fill="#c9b830" stroke="#c9b830" stroke-width="1.5" stroke-linejoin="round"/><path d="M514.8,549.9 L510.8,549.8 L508.1,546.8 L506.8,543.1 L507.3,538.8 L511.1,536.8 L515.0,536.4 L519.2,537.2 L521.0,541.2 L520.0,545.1 L518.4,548.6Z" fill="#c9b830" stroke="#c9b830" stroke-width="1.5" stroke-linejoin="round"/><path d="M476.6,552.6 L480.0,550.9 L484.1,551.2 L487.3,554.1 L487.7,558.4 L486.6,562.6 L482.8,564.5 L478.8,564.7 L474.8,563.2 L473.5,559.2 L473.2,555.0Z" fill="#c9b830" stroke="#c9b830" stroke-width="1.5" stroke-linejoin="round"/><path d="M563.8,504.0 L560.0,503.5 L556.5,501.6 L555.7,497.7 L556.4,494.0 L559.1,491.3 L562.8,490.1 L566.4,491.7 L569.0,494.7 L570.2,498.9 L567.6,502.5Z" fill="#4a55f0" stroke="#4a55f0" stroke-width="1.5" stroke-linejoin="round"/><path d="M566.7,504.7 L569.0,507.8 L568.5,511.6 L567.3,515.5 L563.4,516.7 L559.5,516.0 L556.9,513.3 L555.6,509.9 L556.5,506.2 L559.3,503.4 L563.4,501.9Z" fill="#35c09a" stroke="#35c09a" stroke-width="1.5" stroke-linejoin="round"/><path d="M612.0,516.6 L615.9,516.7 L618.8,519.3 L621.4,522.7 L619.6,526.6 L617.2,530.0 L613.0,530.9 L608.8,529.7 L607.5,525.6 L606.7,521.9 L608.5,518.4Z" fill="#22a0e2" stroke="#22a0e2" stroke-width="1.5" stroke-linejoin="round"/><path d="M620.3,558.6 L616.7,560.8 L612.8,562.3 L609.0,560.4 L607.4,556.8 L606.7,553.1 L608.8,549.8 L612.3,548.4 L616.0,548.5 L619.5,550.4 L619.9,554.4Z" fill="#f7d822" stroke="#f7d822" stroke-width="1.5" stroke-linejoin="round"/><path d="M565.9,557.0 L562.6,554.7 L562.0,550.8 L562.1,546.7 L565.5,544.4 L569.4,543.0 L573.3,544.7 L574.9,548.4 L575.1,552.1 L573.3,555.5 L570.0,557.9Z" fill="#74c765" stroke="#74c765" stroke-width="1.5" stroke-linejoin="round"/><path d="M586.2,533.9 L584.2,530.2 L586.2,526.5 L589.0,523.8 L592.8,523.1 L596.3,524.8 L598.1,528.0 L598.2,531.7 L597.0,535.5 L593.2,537.2 L589.0,537.1Z" fill="#f7d822" stroke="#f7d822" stroke-width="1.5" stroke-linejoin="round"/><path d="M548.8,585.1 L548.9,589.2 L546.4,592.8 L542.1,592.9 L538.0,592.6 L535.2,589.4 L534.1,585.2 L536.0,581.2 L540.0,579.7 L544.0,579.0 L546.9,581.9Z" fill="#11b4d2" stroke="#11b4d2" stroke-width="1.5" stroke-linejoin="round"/><path d="M523.7,602.9 L523.6,599.1 L524.6,595.4 L527.9,593.2 L531.8,592.8 L535.0,595.2 L536.5,598.7 L536.5,602.6 L534.0,605.7 L530.2,606.4 L526.1,606.2Z" fill="#22a0e2" stroke="#22a0e2" stroke-width="1.5" stroke-linejoin="round"/><path d="M518.4,619.8 L514.6,619.4 L511.8,616.7 L511.4,612.8 L512.1,608.9 L515.4,606.2 L519.6,606.2 L523.4,608.0 L524.3,612.0 L524.6,615.8 L522.1,618.9Z" fill="#11b4d2" stroke="#11b4d2" stroke-width="1.5" stroke-linejoin="round"/><path d="M579.2,635.9 L576.4,638.5 L572.9,640.4 L568.9,639.5 L566.3,636.4 L565.8,632.4 L567.4,628.9 L570.7,627.1 L574.4,626.5 L578.5,627.9 L579.9,631.9Z" fill="#22a0e2" stroke="#22a0e2" stroke-width="1.5" stroke-linejoin="round"/><path d="M557.5,628.1 L554.1,625.9 L551.4,623.1 L550.9,619.0 L552.5,614.9 L556.6,613.8 L560.7,613.7 L564.5,615.8 L565.7,620.1 L564.6,624.2 L561.6,627.1Z" fill="#f8b533" stroke="#f8b533" stroke-width="1.5" stroke-linejoin="round"/><path d="M590.6,567.5 L589.9,563.1 L590.2,558.3 L593.0,554.9 L596.6,555.2 L600.1,556.4 L600.9,561.2 L601.0,565.4 L599.7,569.5 L596.5,571.1 L593.2,570.5Z" fill="#f7d822" stroke="#f7d822" stroke-width="1.5" stroke-linejoin="round"/><path d="M621.1,574.9 L620.5,578.0 L617.7,580.5 L613.5,582.1 L609.3,580.5 L606.8,578.0 L605.2,574.9 L607.3,571.8 L611.3,570.2 L615.8,569.8 L620.0,571.5Z" fill="#4a55f0" stroke="#4a55f0" stroke-width="1.5" stroke-linejoin="round"/><path d="M533.8,558.1 L537.0,555.7 L541.8,554.3 L547.6,554.6 L550.8,557.1 L552.2,559.7 L551.7,562.6 L546.7,564.0 L541.5,564.8 L536.5,563.5 L533.6,561.0Z" fill="#11b4d2" stroke="#11b4d2" stroke-width="1.5" stroke-linejoin="round"/><path d="M535.6,506.2 L534.3,509.6 L532.5,512.7 L528.6,513.8 L524.6,513.2 L521.9,510.6 L521.2,507.4 L521.8,503.9 L525.4,502.0 L529.3,502.1 L532.7,503.6Z" fill="#22a0e2" stroke="#22a0e2" stroke-width="1.5" stroke-linejoin="round"/><path d="M543.2,634.0 L540.0,632.1 L539.6,628.8 L540.9,625.8 L543.8,623.9 L547.4,623.6 L551.4,624.3 L552.6,627.7 L553.0,630.9 L551.0,634.1 L546.9,635.0Z" fill="#2e84f2" stroke="#2e84f2" stroke-width="1.5" stroke-linejoin="round"/><path d="M601.3,626.3 L597.7,627.4 L594.7,625.0 L592.5,622.3 L591.8,618.4 L593.0,614.4 L596.2,612.8 L599.7,612.4 L602.2,615.3 L604.2,618.7 L603.1,622.6Z" fill="#2e84f2" stroke="#2e84f2" stroke-width="1.5" stroke-linejoin="round"/><path d="M553.4,501.8 L550.8,499.2 L550.2,495.6 L551.8,492.4 L554.8,490.5 L558.2,490.0 L561.3,491.9 L563.2,495.0 L562.8,498.6 L559.9,500.7 L557.0,502.1Z" fill="#4a55f0" stroke="#4a55f0" stroke-width="1.5" stroke-linejoin="round"/><path d="M531.4,520.4 L534.6,519.8 L537.4,521.0 L540.0,523.2 L540.8,526.8 L539.0,530.1 L535.4,530.8 L532.0,531.4 L529.4,529.0 L527.9,525.9 L528.9,522.6Z" fill="#4a55f0" stroke="#4a55f0" stroke-width="1.5" stroke-linejoin="round"/><path d="M582.1,509.1 L581.3,512.7 L580.7,516.1 L577.4,517.2 L574.3,517.1 L571.5,515.7 L569.5,512.8 L569.7,509.0 L572.9,507.2 L575.9,506.0 L578.9,507.4Z" fill="#2e84f2" stroke="#2e84f2" stroke-width="1.5" stroke-linejoin="round"/><path d="M599.2,512.4 L601.1,509.6 L604.2,508.2 L607.7,508.0 L610.6,510.3 L610.9,513.9 L610.2,517.1 L607.8,519.7 L604.3,520.4 L600.8,519.2 L599.4,515.8Z" fill="#2e84f2" stroke="#2e84f2" stroke-width="1.5" stroke-linejoin="round"/><path d="M635.4,547.8 L638.9,547.2 L641.5,549.7 L643.0,552.4 L642.7,555.6 L641.5,559.0 L637.9,559.3 L634.6,558.9 L632.6,556.3 L631.7,553.2 L633.2,550.3Z" fill="#11b4d2" stroke="#11b4d2" stroke-width="1.5" stroke-linejoin="round"/><path d="M577.0,547.2 L578.6,544.2 L582.0,543.6 L585.1,544.5 L587.6,546.8 L588.0,550.1 L586.5,553.1 L583.7,554.6 L580.6,554.7 L577.1,553.8 L576.3,550.3Z" fill="#c9b830" stroke="#c9b830" stroke-width="1.5" stroke-linejoin="round"/><path d="M589.2,562.6 L587.2,565.2 L583.8,566.7 L580.8,564.5 L578.0,562.3 L578.2,558.7 L579.9,555.7 L582.8,553.5 L586.2,554.3 L588.6,556.6 L590.4,559.4Z" fill="#11b4d2" stroke="#11b4d2" stroke-width="1.5" stroke-linejoin="round"/><path d="M611.5,531.8 L614.9,531.2 L618.5,531.3 L621.0,534.2 L621.8,537.9 L619.6,540.9 L617.0,543.3 L613.3,543.2 L610.8,540.8 L609.6,537.9 L609.8,534.7Z" fill="#f7d822" stroke="#f7d822" stroke-width="1.5" stroke-linejoin="round"/><path d="M550.2,572.1 L547.7,574.1 L544.2,574.5 L541.7,572.1 L540.1,569.1 L541.4,566.0 L543.3,563.5 L546.4,561.6 L549.3,563.9 L551.9,566.0 L552.6,569.5Z" fill="#2e84f2" stroke="#2e84f2" stroke-width="1.5" stroke-linejoin="round"/><path d="M522.9,593.6 L525.6,595.8 L527.7,598.7 L527.2,602.4 L524.8,605.2 L521.4,606.6 L518.3,604.5 L515.1,602.7 L515.3,599.1 L516.3,595.7 L519.5,594.3Z" fill="#f8b533" stroke="#f8b533" stroke-width="1.5" stroke-linejoin="round"/><path d="M561.3,634.4 L562.9,637.3 L561.5,640.4 L559.2,642.7 L555.9,643.2 L552.6,642.1 L550.4,639.1 L551.0,635.6 L552.6,632.5 L555.9,631.5 L559.1,632.0Z" fill="#35c09a" stroke="#35c09a" stroke-width="1.5" stroke-linejoin="round"/><path d="M497.8,588.7 L498.5,591.8 L498.0,595.0 L495.8,597.8 L492.3,597.7 L488.9,597.0 L487.1,593.9 L486.8,590.4 L489.2,587.8 L492.1,586.5 L495.2,586.8Z" fill="#f7d822" stroke="#f7d822" stroke-width="1.5" stroke-linejoin="round"/><path d="M508.5,600.9 L507.0,598.0 L506.0,594.8 L507.7,591.8 L510.7,590.3 L514.1,590.2 L517.4,591.9 L517.7,595.5 L517.9,599.1 L514.9,601.1 L511.6,602.5Z" fill="#f8b533" stroke="#f8b533" stroke-width="1.5" stroke-linejoin="round"/><path d="M604.2,584.2 L600.8,585.6 L597.2,586.5 L594.7,583.8 L593.0,580.9 L593.0,577.4 L595.7,575.3 L598.7,574.1 L602.2,574.4 L604.9,576.9 L604.7,580.5Z" fill="#4a55f0" stroke="#4a55f0" stroke-width="1.5" stroke-linejoin="round"/><path d="M619.0,591.6 L615.6,592.9 L612.9,590.4 L610.5,587.9 L610.9,584.5 L612.5,581.4 L615.8,580.6 L619.3,580.5 L622.2,582.7 L623.2,586.3 L621.9,589.7Z" fill="#35c09a" stroke="#35c09a" stroke-width="1.5" stroke-linejoin="round"/><path d="M553.0,587.0 L554.6,584.1 L556.6,581.1 L560.3,580.9 L563.3,582.8 L565.3,585.6 L564.9,589.1 L563.0,591.8 L559.9,592.9 L556.4,592.8 L553.9,590.4Z" fill="#4a55f0" stroke="#4a55f0" stroke-width="1.5" stroke-linejoin="round"/><path d="M569.4,646.2 L569.9,642.8 L572.8,641.0 L576.3,640.6 L579.3,642.4 L581.4,645.4 L580.0,648.8 L578.3,651.6 L575.1,653.5 L571.6,652.3 L569.6,649.4Z" fill="#4a55f0" stroke="#4a55f0" stroke-width="1.5" stroke-linejoin="round"/><path d="M559.4,596.2 L562.8,597.7 L565.8,599.7 L565.6,603.3 L565.5,607.0 L562.2,608.7 L558.9,608.6 L555.4,607.7 L553.8,604.4 L553.7,600.7 L556.0,597.8Z" fill="#f8b533" stroke="#f8b533" stroke-width="1.5" stroke-linejoin="round"/><path d="M548.4,597.0 L550.6,599.0 L550.8,604.0 L551.1,608.8 L549.5,612.4 L547.3,612.8 L545.0,612.4 L543.8,608.3 L543.4,603.7 L544.1,599.0 L546.3,597.6Z" fill="#4a55f0" stroke="#4a55f0" stroke-width="1.5" stroke-linejoin="round"/><path d="M564.4,624.8 L562.3,622.6 L560.5,620.1 L560.3,616.5 L562.3,613.8 L564.9,612.9 L567.8,612.8 L570.1,615.3 L570.7,618.9 L569.5,622.2 L567.5,624.8Z" fill="#4a55f0" stroke="#4a55f0" stroke-width="1.5" stroke-linejoin="round"/><path d="M506.8,527.8 L509.2,529.0 L510.0,531.6 L509.5,534.1 L508.1,536.3 L505.5,537.6 L502.6,536.7 L501.3,534.1 L500.9,531.5 L501.8,529.0 L504.0,527.0Z" fill="#3c2bb0" stroke="#3c2bb0" stroke-width="1.5" stroke-linejoin="round"/><path d="M485.7,547.8 L488.6,547.2 L491.5,546.2 L493.4,548.5 L494.9,550.9 L494.7,553.9 L492.6,556.0 L489.7,556.1 L486.9,555.8 L485.3,553.5 L485.4,550.8Z" fill="#11b4d2" stroke="#11b4d2" stroke-width="1.5" stroke-linejoin="round"/><path d="M494.4,516.1 L492.3,514.2 L492.3,511.4 L493.1,508.7 L495.5,507.0 L498.3,507.5 L500.4,509.0 L502.2,511.2 L501.5,514.0 L499.5,515.8 L497.0,516.6Z" fill="#4a55f0" stroke="#4a55f0" stroke-width="1.5" stroke-linejoin="round"/><path d="M571.3,477.6 L571.2,480.5 L569.8,482.7 L567.8,484.9 L564.8,484.4 L562.3,482.7 L561.7,479.9 L562.3,477.3 L564.1,475.2 L566.8,474.9 L569.5,475.3Z" fill="#4a55f0" stroke="#4a55f0" stroke-width="1.5" stroke-linejoin="round"/><path d="M552.3,491.4 L552.2,488.4 L553.2,485.8 L555.5,484.2 L558.4,483.5 L560.6,485.6 L562.2,487.9 L561.5,490.7 L560.0,493.1 L557.3,493.6 L554.4,493.6Z" fill="#22a0e2" stroke="#22a0e2" stroke-width="1.5" stroke-linejoin="round"/><path d="M569.5,527.6 L567.0,525.9 L565.8,523.3 L565.6,520.3 L567.8,518.4 L570.4,517.0 L573.2,517.8 L575.1,520.0 L575.2,522.7 L574.6,525.3 L572.3,526.8Z" fill="#2e84f2" stroke="#2e84f2" stroke-width="1.5" stroke-linejoin="round"/><path d="M591.6,519.1 L592.1,516.2 L593.0,513.5 L595.6,512.0 L598.4,512.7 L600.7,514.1 L601.4,516.7 L601.6,519.6 L599.1,521.2 L596.5,522.0 L594.0,521.0Z" fill="#4a55f0" stroke="#4a55f0" stroke-width="1.5" stroke-linejoin="round"/><path d="M626.2,517.4 L628.2,519.6 L629.0,522.4 L627.7,524.8 L626.1,527.3 L623.2,526.8 L620.7,525.9 L619.2,523.6 L618.9,520.8 L620.5,518.3 L623.3,517.5Z" fill="#4a55f0" stroke="#4a55f0" stroke-width="1.5" stroke-linejoin="round"/><path d="M632.5,537.8 L632.5,540.8 L632.6,543.6 L630.5,545.5 L627.8,545.9 L625.1,545.1 L623.6,542.8 L623.0,540.0 L624.5,537.5 L626.9,535.7 L630.0,535.9Z" fill="#2e84f2" stroke="#2e84f2" stroke-width="1.5" stroke-linejoin="round"/><path d="M518.2,578.7 L518.0,581.6 L515.7,583.5 L512.8,584.1 L509.9,583.3 L509.1,580.4 L508.5,577.7 L509.9,575.4 L512.3,573.8 L515.0,574.6 L517.8,575.7Z" fill="#2e84f2" stroke="#2e84f2" stroke-width="1.5" stroke-linejoin="round"/><path d="M582.3,577.3 L579.7,577.0 L577.3,575.7 L575.8,573.2 L577.0,570.6 L578.7,568.6 L581.3,567.4 L584.0,568.4 L586.0,570.5 L585.7,573.4 L585.0,576.2Z" fill="#3c2bb0" stroke="#3c2bb0" stroke-width="1.5" stroke-linejoin="round"/><path d="M557.4,569.4 L560.1,570.6 L562.3,572.1 L562.5,574.8 L562.6,577.7 L560.3,579.8 L557.2,580.1 L555.1,578.0 L553.4,576.0 L553.3,573.2 L554.9,570.8Z" fill="#35c09a" stroke="#35c09a" stroke-width="1.5" stroke-linejoin="round"/><path d="M608.1,601.4 L605.4,602.6 L602.7,602.8 L600.6,601.0 L599.0,598.8 L599.8,596.2 L601.5,594.2 L603.9,593.0 L606.5,594.0 L608.8,595.7 L608.7,598.6Z" fill="#f7d822" stroke="#f7d822" stroke-width="1.5" stroke-linejoin="round"/><path d="M511.0,512.9 L510.2,510.7 L510.8,508.3 L512.6,506.6 L515.2,506.5 L517.7,507.3 L518.3,509.8 L519.0,512.3 L517.0,514.0 L515.0,515.7 L512.4,514.8Z" fill="#3c2bb0" stroke="#3c2bb0" stroke-width="1.5" stroke-linejoin="round"/><path d="M571.5,477.5 L570.6,475.4 L571.1,473.0 L573.2,471.9 L575.2,471.9 L577.1,472.5 L578.8,474.0 L578.8,476.4 L577.5,478.3 L575.4,478.8 L573.2,478.9Z" fill="#3c2bb0" stroke="#3c2bb0" stroke-width="1.5" stroke-linejoin="round"/><path d="M602.4,512.5 L601.6,514.4 L600.0,516.1 L597.6,515.7 L595.6,514.5 L595.4,512.3 L595.5,510.2 L597.1,508.9 L599.0,508.2 L600.9,509.0 L602.9,510.3Z" fill="#3c2bb0" stroke="#3c2bb0" stroke-width="1.5" stroke-linejoin="round"/><path d="M614.8,522.6 L613.1,521.2 L612.4,518.9 L613.1,516.6 L615.2,515.5 L617.4,515.4 L619.6,516.2 L620.3,518.4 L620.1,520.5 L619.1,522.5 L616.9,522.9Z" fill="#3c2bb0" stroke="#3c2bb0" stroke-width="1.5" stroke-linejoin="round"/><path d="M478.9,578.5 L477.8,576.7 L477.9,574.5 L479.1,572.7 L481.0,571.9 L483.0,572.6 L485.1,573.5 L485.0,575.8 L484.7,577.9 L483.0,579.3 L480.9,579.5Z" fill="#22a0e2" stroke="#22a0e2" stroke-width="1.5" stroke-linejoin="round"/><path d="M543.5,622.1 L542.0,622.1 L540.9,621.1 L540.3,619.7 L540.9,618.2 L541.8,616.9 L543.4,616.8 L544.7,617.7 L545.7,618.8 L546.1,620.4 L544.8,621.4Z" fill="#3c2bb0" stroke="#3c2bb0" stroke-width="1.5" stroke-linejoin="round"/></g>
<defs><linearGradient id="cbar" x1="0" y1="1" x2="0" y2="0"><stop offset="0.0" stop-color="#3e26a8"/><stop offset="0.143" stop-color="#4852f0"/><stop offset="0.286" stop-color="#2b86ec"/><stop offset="0.429" stop-color="#0eb2d0"/><stop offset="0.571" stop-color="#3cc28a"/><stop offset="0.714" stop-color="#bebc38"/><stop offset="0.857" stop-color="#fbb830"/><stop offset="1.0" stop-color="#f9f914"/></linearGradient></defs>
<rect x="653.6" y="488" width="9" height="136.5" fill="url(#cbar)" stroke="#333" stroke-width="0.5"/>
<path d="M653.6,488.0 h2 M662.6,488.0 h-2 M653.6,507.5 h2 M662.6,507.5 h-2 M653.6,527.0 h2 M662.6,527.0 h-2 M653.6,546.5 h2 M662.6,546.5 h-2 M653.6,566.0 h2 M662.6,566.0 h-2 M653.6,585.5 h2 M662.6,585.5 h-2 M653.6,605.0 h2 M662.6,605.0 h-2 M653.6,624.5 h2 M662.6,624.5 h-2" stroke="#333" stroke-width="0.5"/>
<text x="667.2" y="492.2" font-size="11.3" fill="#262626" style="font-family:'Liberation Sans',sans-serif" textLength="20.2" lengthAdjust="spacingAndGlyphs">174</text>
<text x="667.2" y="511.7" font-size="11.3" fill="#262626" style="font-family:'Liberation Sans',sans-serif" textLength="20.2" lengthAdjust="spacingAndGlyphs">124</text>
<text x="667.2" y="531.2" font-size="11.3" fill="#262626" style="font-family:'Liberation Sans',sans-serif" textLength="20.2" lengthAdjust="spacingAndGlyphs">103</text>
<text x="667.2" y="550.7" font-size="11.3" fill="#262626" style="font-family:'Liberation Sans',sans-serif" textLength="13.4" lengthAdjust="spacingAndGlyphs">89</text>
<text x="667.2" y="570.2" font-size="11.3" fill="#262626" style="font-family:'Liberation Sans',sans-serif" textLength="13.4" lengthAdjust="spacingAndGlyphs">79</text>
<text x="667.2" y="589.7" font-size="11.3" fill="#262626" style="font-family:'Liberation Sans',sans-serif" textLength="13.4" lengthAdjust="spacingAndGlyphs">67</text>
<text x="667.2" y="609.2" font-size="11.3" fill="#262626" style="font-family:'Liberation Sans',sans-serif" textLength="13.4" lengthAdjust="spacingAndGlyphs">55</text>
<text x="667.2" y="628.7" font-size="11.3" fill="#262626" style="font-family:'Liberation Sans',sans-serif" textLength="13.4" lengthAdjust="spacingAndGlyphs">37</text>
<text x="611.9" y="474.9" font-size="10.8" fill="#3a3a3a" style="font-family:'Liberation Sans',sans-serif" textLength="100" lengthAdjust="spacingAndGlyphs">Particle size [nm]</text>
<text x="2.50" y="674.60" font-size="25" fill="#000" text-anchor="start" font-weight="normal" style="font-family:'Liberation Sans',sans-serif;" >E</text>
<path d="M46.5,688.4 V872 H337.5" stroke="#222" stroke-width="1" fill="none"/>
<path d="M46.5,863.9 h-3 M46.5,808.5 h-3 M46.5,753.1 h-3 M46.5,697.7 h-3 M54.6,872 v3 M150.3,872 v3 M246.0,872 v3" stroke="#222" stroke-width="1"/>
<text x="41.00" y="867.10" font-size="9.2" fill="#444" text-anchor="end" font-weight="bold" style="font-family:'Liberation Sans',sans-serif;" >0.000</text>
<text x="41.00" y="811.70" font-size="9.2" fill="#444" text-anchor="end" font-weight="bold" style="font-family:'Liberation Sans',sans-serif;" >0.005</text>
<text x="41.00" y="756.30" font-size="9.2" fill="#444" text-anchor="end" font-weight="bold" style="font-family:'Liberation Sans',sans-serif;" >0.010</text>
<text x="41.00" y="700.90" font-size="9.2" fill="#444" text-anchor="end" font-weight="bold" style="font-family:'Liberation Sans',sans-serif;" >0.015</text>
<text x="54.60" y="885.00" font-size="9.2" fill="#444" text-anchor="middle" font-weight="bold" style="font-family:'Liberation Sans',sans-serif;" >0</text>
<text x="150.30" y="885.00" font-size="9.2" fill="#444" text-anchor="middle" font-weight="bold" style="font-family:'Liberation Sans',sans-serif;" >100</text>
<text x="246.00" y="885.00" font-size="9.2" fill="#444" text-anchor="middle" font-weight="bold" style="font-family:'Liberation Sans',sans-serif;" >200</text>
<path d="M60.00,863.90 C60.75,863.65 63.00,864.05 64.50,862.40 C66.00,860.75 67.25,857.90 69.00,854.00 C70.75,850.10 72.50,844.25 75.00,839.00 C77.50,833.75 81.00,828.00 84.00,822.50 C87.00,817.00 90.00,813.75 93.00,806.00 C96.00,798.25 99.00,785.00 102.00,776.00 C105.00,767.00 108.00,758.75 111.00,752.00 C114.00,745.25 117.25,739.25 120.00,735.50 C122.75,731.75 125.00,730.00 127.50,729.50 C130.00,729.00 132.25,730.25 135.00,732.50 C137.75,734.75 141.00,738.75 144.00,743.00 C147.00,747.25 150.00,752.00 153.00,758.00 C156.00,764.00 159.00,772.00 162.00,779.00 C165.00,786.00 168.00,793.00 171.00,800.00 C174.00,807.00 177.00,815.00 180.00,821.00 C183.00,827.00 186.00,831.75 189.00,836.00 C192.00,840.25 195.00,843.60 198.00,846.50 C201.00,849.40 204.00,851.65 207.00,853.40 C210.00,855.15 212.50,855.75 216.00,857.00 C219.50,858.25 224.00,859.85 228.00,860.90 C232.00,861.95 235.50,862.80 240.00,863.30 C244.50,863.80 245.00,863.80 255.00,863.90 C265.00,864.00 292.50,863.90 300.00,863.90" stroke="#000" stroke-width="1.7" fill="none"/>
<path d="M69.60,856.40 L79.80,842.00 L90.00,807.50 L100.20,776.00 L110.40,723.50 L120.60,696.50 L130.80,701.60 L141.00,741.50 L151.20,787.40 L161.10,812.90 L171.30,832.10 L181.50,839.30 L191.70,841.70 L201.90,844.40 L212.10,848.90 L222.30,851.30 L232.50,854.90 L242.70,858.50 L252.90,860.90 L263.10,860.90 L273.30,860.30 L283.50,861.20 L293.70,862.40 L303.90,863.00 L314.10,863.30 L324.30,863.60" stroke="#ee1111" stroke-width="1.7" fill="none"/>
<circle cx="69.6" cy="856.4" r="3.3" fill="#e8141b"/><circle cx="79.8" cy="842.0" r="3.3" fill="#e8141b"/><circle cx="90.0" cy="807.5" r="3.3" fill="#e8141b"/><circle cx="100.2" cy="776.0" r="3.3" fill="#e8141b"/><circle cx="110.4" cy="723.5" r="3.3" fill="#e8141b"/><circle cx="120.6" cy="696.5" r="3.3" fill="#e8141b"/><circle cx="130.8" cy="701.6" r="3.3" fill="#e8141b"/><circle cx="141.0" cy="741.5" r="3.3" fill="#e8141b"/><circle cx="151.2" cy="787.4" r="3.3" fill="#e8141b"/><circle cx="161.1" cy="812.9" r="3.3" fill="#e8141b"/><circle cx="171.3" cy="832.1" r="3.3" fill="#e8141b"/><circle cx="181.5" cy="839.3" r="3.3" fill="#e8141b"/><circle cx="191.7" cy="841.7" r="3.3" fill="#e8141b"/><circle cx="201.9" cy="844.4" r="3.3" fill="#e8141b"/><circle cx="212.1" cy="848.9" r="3.3" fill="#e8141b"/><circle cx="222.3" cy="851.3" r="3.3" fill="#e8141b"/><circle cx="232.5" cy="854.9" r="3.3" fill="#e8141b"/><circle cx="242.7" cy="858.5" r="3.3" fill="#e8141b"/><circle cx="252.9" cy="860.9" r="3.3" fill="#e8141b"/><circle cx="263.1" cy="860.9" r="3.3" fill="#e8141b"/><circle cx="273.3" cy="860.3" r="3.3" fill="#e8141b"/><circle cx="283.5" cy="861.2" r="3.3" fill="#e8141b"/><circle cx="293.7" cy="862.4" r="3.3" fill="#e8141b"/><circle cx="303.9" cy="863.0" r="3.3" fill="#e8141b"/><circle cx="314.1" cy="863.3" r="3.3" fill="#e8141b"/><circle cx="324.3" cy="863.6" r="3.3" fill="#e8141b"/>
<path d="M244,775.4 h9.3" stroke="#000" stroke-width="1.8"/><circle cx="248.6" cy="775.4" r="3.2" fill="#000"/>
<path d="M244,788.6 h9.3" stroke="#ee1111" stroke-width="1.8"/><circle cx="248.6" cy="788.6" r="3.2" fill="#ee1111"/>
<text x="257.40" y="779.60" font-size="12.6" fill="#111" text-anchor="start" font-weight="normal" style="font-family:'Liberation Sans',sans-serif;" >Observed</text>
<text x="257.40" y="792.80" font-size="12.6" fill="#111" text-anchor="start" font-weight="normal" style="font-family:'Liberation Sans',sans-serif;" >Simulation</text>
<text transform="translate(14,780.5) rotate(-90)" font-size="13" text-anchor="middle" style="font-family:'Liberation Sans',sans-serif" fill="#111">PDF</text>
<text x="191.20" y="898.40" font-size="12.6" fill="#111" text-anchor="middle" font-weight="normal" style="font-family:'Liberation Sans',sans-serif;" >Particle Size (nm)</text>
<text x="376.90" y="675.70" font-size="25" fill="#000" text-anchor="start" font-weight="normal" style="font-family:'Liberation Sans',sans-serif;" >F</text>
<path d="M414.6,683.6 V871.1 H705" stroke="#222" stroke-width="1" fill="none"/>
<path d="M414.6,862.4 h-3 M414.6,800.0 h-3 M414.6,737.6 h-3 M425.4,871.1 v3 M515.9,871.1 v3 M606.4,871.1 v3 M696.9,871.1 v3" stroke="#222" stroke-width="1"/>
<text x="409.50" y="865.60" font-size="9.2" fill="#444" text-anchor="end" font-weight="bold" style="font-family:'Liberation Sans',sans-serif;" >0.000</text>
<text x="409.50" y="803.20" font-size="9.2" fill="#444" text-anchor="end" font-weight="bold" style="font-family:'Liberation Sans',sans-serif;" >0.005</text>
<text x="409.50" y="740.80" font-size="9.2" fill="#444" text-anchor="end" font-weight="bold" style="font-family:'Liberation Sans',sans-serif;" >0.010</text>
<text x="425.40" y="884.00" font-size="9.2" fill="#444" text-anchor="middle" font-weight="bold" style="font-family:'Liberation Sans',sans-serif;" >0</text>
<text x="515.90" y="884.00" font-size="9.2" fill="#444" text-anchor="middle" font-weight="bold" style="font-family:'Liberation Sans',sans-serif;" >200</text>
<text x="606.40" y="884.00" font-size="9.2" fill="#444" text-anchor="middle" font-weight="bold" style="font-family:'Liberation Sans',sans-serif;" >400</text>
<text x="696.90" y="884.00" font-size="9.2" fill="#444" text-anchor="middle" font-weight="bold" style="font-family:'Liberation Sans',sans-serif;" >600</text>
<path d="M429.00,863.00 C430.50,862.90 435.00,862.90 438.00,862.40 C441.00,861.90 444.50,861.40 447.00,860.00 C449.50,858.60 451.25,857.50 453.00,854.00 C454.75,850.50 456.00,846.50 457.50,839.00 C459.00,831.50 460.50,820.50 462.00,809.00 C463.50,797.50 465.00,783.50 466.50,770.00 C468.00,756.50 469.50,739.25 471.00,728.00 C472.50,716.75 474.10,708.50 475.50,702.50 C476.90,696.50 478.15,693.25 479.40,692.00 C480.65,690.75 481.65,690.50 483.00,695.00 C484.35,699.50 486.00,709.50 487.50,719.00 C489.00,728.50 490.50,741.50 492.00,752.00 C493.50,762.50 495.00,773.00 496.50,782.00 C498.00,791.00 499.25,798.50 501.00,806.00 C502.75,813.50 504.75,820.50 507.00,827.00 C509.25,833.50 511.75,840.00 514.50,845.00 C517.25,850.00 520.25,854.25 523.50,857.00 C526.75,859.75 529.25,860.60 534.00,861.50 C538.75,862.40 525.75,862.25 552.00,862.40 C578.25,862.55 668.25,862.40 691.50,862.40" stroke="#000" stroke-width="1.7" fill="none" stroke-dasharray="5.5,4"/>
<path d="M427.50,863.00 C428.50,862.75 431.50,862.25 433.50,861.50 C435.50,860.75 436.75,859.25 439.50,858.50 C442.25,857.75 447.25,858.50 450.00,857.00 C452.75,855.50 454.25,853.00 456.00,849.50 C457.75,846.00 459.10,843.25 460.50,836.00 C461.90,828.75 463.15,817.50 464.40,806.00 C465.65,794.50 466.80,780.50 468.00,767.00 C469.20,753.50 470.35,736.10 471.60,725.00 C472.85,713.90 474.35,704.15 475.50,700.40 C476.65,696.65 477.25,698.90 478.50,702.50 C479.75,706.10 481.50,714.25 483.00,722.00 C484.50,729.75 486.00,740.00 487.50,749.00 C489.00,758.00 490.50,769.50 492.00,776.00 C493.50,782.50 494.75,784.00 496.50,788.00 C498.25,792.00 500.25,794.00 502.50,800.00 C504.75,806.00 507.50,818.25 510.00,824.00 C512.50,829.75 515.25,831.75 517.50,834.50 C519.75,837.25 521.25,838.00 523.50,840.50 C525.75,843.00 528.25,846.75 531.00,849.50 C533.75,852.25 537.50,855.00 540.00,857.00 C542.50,859.00 531.00,860.60 546.00,861.50 C561.00,862.40 616.00,862.25 630.00,862.40" stroke="#ee1111" stroke-width="1.7" fill="none" stroke-dasharray="5.5,4"/>
<path d="M587.5,813 h4.5" stroke="#000" stroke-width="1.5"/><path d="M587.5,824 h4.5" stroke="#e8141b" stroke-width="1.5"/>
<text x="600.00" y="816.50" font-size="12.6" fill="#111" text-anchor="start" font-weight="normal" style="font-family:'Liberation Sans',sans-serif;" >Observed</text>
<text x="600.00" y="827.80" font-size="12.6" fill="#111" text-anchor="start" font-weight="normal" style="font-family:'Liberation Sans',sans-serif;" >Simulation</text>
<text transform="translate(382,777.5) rotate(-90)" font-size="13" text-anchor="middle" style="font-family:'Liberation Sans',sans-serif" fill="#111">PDF</text>
<text x="559.50" y="896.00" font-size="12.6" fill="#111" text-anchor="middle" font-weight="normal" style="font-family:'Liberation Sans',sans-serif;" >Nearest Neighbour Distance (nm)</text>
<path d="M580.5,695 V758 H687" stroke="#333" stroke-width="1.6" fill="none"/>
<path d="M580.5,755.9 h-3.5 M580.5,737.6 h-3.5 M580.5,719.3 h-3.5 M580.5,701.0 h-3.5 M585.0,758 v3.5 M617.5,758 v3.5 M650.0,758 v3.5 M682.5,758 v3.5" stroke="#333" stroke-width="1.4"/>
<text x="575.50" y="759.50" font-size="9.8" fill="#111" text-anchor="end" font-weight="bold" style="font-family:'Liberation Sans',sans-serif;" >0.00</text>
<text x="575.50" y="741.20" font-size="9.8" fill="#111" text-anchor="end" font-weight="bold" style="font-family:'Liberation Sans',sans-serif;" >0.01</text>
<text x="575.50" y="722.90" font-size="9.8" fill="#111" text-anchor="end" font-weight="bold" style="font-family:'Liberation Sans',sans-serif;" >0.02</text>
<text x="575.50" y="704.60" font-size="9.8" fill="#111" text-anchor="end" font-weight="bold" style="font-family:'Liberation Sans',sans-serif;" >0.03</text>
<text x="585.00" y="772.00" font-size="9.8" fill="#111" text-anchor="middle" font-weight="bold" style="font-family:'Liberation Sans',sans-serif;" >0</text>
<text x="617.50" y="772.00" font-size="9.8" fill="#111" text-anchor="middle" font-weight="bold" style="font-family:'Liberation Sans',sans-serif;" >100</text>
<text x="650.00" y="772.00" font-size="9.8" fill="#111" text-anchor="middle" font-weight="bold" style="font-family:'Liberation Sans',sans-serif;" >200</text>
<text x="682.50" y="772.00" font-size="9.8" fill="#111" text-anchor="middle" font-weight="bold" style="font-family:'Liberation Sans',sans-serif;" >300</text>
<path d="M585.00,755.90 L585.65,755.90 L586.30,755.90 L586.95,755.90 L587.60,755.90 L588.25,755.90 L588.90,755.90 L589.55,755.90 L590.20,755.90 L590.85,755.90 L591.50,755.90 L592.15,755.90 L592.80,755.90 L593.45,755.90 L594.10,755.90 L594.75,755.90 L595.40,755.90 L596.05,755.90 L596.70,755.90 L597.35,755.89 L598.00,755.88 L598.65,755.86 L599.30,755.82 L599.95,755.73 L600.60,755.57 L601.25,755.29 L601.90,754.81 L602.55,754.03 L603.20,752.82 L603.85,751.02 L604.50,748.47 L605.15,745.04 L605.80,740.64 L606.45,735.30 L607.10,729.18 L607.75,722.60 L608.40,716.03 L609.05,710.04 L609.70,705.22 L610.35,702.09 L611.00,701.00 L611.65,701.65 L612.30,703.54 L612.95,706.55 L613.60,710.47 L614.25,715.06 L614.90,720.05 L615.55,725.16 L616.20,730.16 L616.85,734.85 L617.50,739.09 L618.15,742.79 L618.80,745.91 L619.45,748.47 L620.10,750.50 L620.75,752.07 L621.40,753.25 L622.05,754.10 L622.70,754.71 L623.35,755.13 L624.00,755.42 L624.65,755.60 L625.30,755.72 L625.95,755.80 L626.60,755.84 L627.25,755.87 L627.90,755.88 L628.55,755.89 L629.20,755.89 L629.85,755.90 L630.50,755.90 L631.15,755.90 L631.80,755.90 L632.45,755.90 L633.10,755.90 L633.75,755.90 L634.40,755.90 L635.05,755.90 L635.70,755.90 L636.35,755.90 L637.00,755.90 L637.65,755.90 L638.30,755.90 L638.95,755.90 L639.60,755.90 L640.25,755.90 L640.90,755.90 L641.55,755.90 L642.20,755.90 L642.85,755.90 L643.50,755.90 L644.15,755.90 L644.80,755.90 L645.45,755.90 L646.10,755.90 L646.75,755.90 L647.40,755.90 L648.05,755.90 L648.70,755.90 L649.35,755.90 L650.00,755.90 L650.65,755.90 L651.30,755.90 L651.95,755.90 L652.60,755.90 L653.25,755.90 L653.90,755.90 L654.55,755.90 L655.20,755.90 L655.85,755.90 L656.50,755.90 L657.15,755.90 L657.80,755.90 L658.45,755.90 L659.10,755.90 L659.75,755.90 L660.40,755.90 L661.05,755.90 L661.70,755.90 L662.35,755.90 L663.00,755.90 L663.65,755.90 L664.30,755.90 L664.95,755.90 L665.60,755.90 L666.25,755.90 L666.90,755.90 L667.55,755.90 L668.20,755.90 L668.85,755.90 L669.50,755.90 L670.15,755.90 L670.80,755.90 L671.45,755.90 L672.10,755.90 L672.75,755.90 L673.40,755.90 L674.05,755.90 L674.70,755.90 L675.35,755.90 L676.00,755.90 L676.65,755.90 L677.30,755.90 L677.95,755.90 L678.60,755.90 L679.25,755.90 L679.90,755.90 L680.55,755.90 L681.20,755.90 L681.85,755.90 L682.50,755.90" stroke="#f23c3c" stroke-width="0.9" fill="none"/>
<path d="M585.00,755.90 L585.65,755.90 L586.30,755.90 L586.95,755.90 L587.60,755.90 L588.25,755.90 L588.90,755.90 L589.55,755.90 L590.20,755.90 L590.85,755.90 L591.50,755.90 L592.15,755.90 L592.80,755.90 L593.45,755.90 L594.10,755.90 L594.75,755.90 L595.40,755.90 L596.05,755.90 L596.70,755.90 L597.35,755.90 L598.00,755.90 L598.65,755.89 L599.30,755.88 L599.95,755.86 L600.60,755.82 L601.25,755.74 L601.90,755.59 L602.55,755.34 L603.20,754.90 L603.85,754.20 L604.50,753.11 L605.15,751.49 L605.80,749.18 L606.45,746.03 L607.10,741.94 L607.75,736.89 L608.40,730.96 L609.05,724.38 L609.70,717.52 L610.35,710.90 L611.00,705.07 L611.65,700.60 L612.30,697.95 L612.95,697.38 L613.60,698.27 L614.25,700.29 L614.90,703.32 L615.55,707.20 L616.20,711.70 L616.85,716.59 L617.50,721.65 L618.15,726.66 L618.80,731.44 L619.45,735.85 L620.10,739.80 L620.75,743.24 L621.40,746.14 L622.05,748.53 L622.70,750.44 L623.35,751.94 L624.00,753.09 L624.65,753.94 L625.30,754.57 L625.95,755.01 L626.60,755.32 L627.25,755.53 L627.90,755.66 L628.55,755.75 L629.20,755.81 L629.85,755.85 L630.50,755.87 L631.15,755.88 L631.80,755.89 L632.45,755.89 L633.10,755.90 L633.75,755.90 L634.40,755.90 L635.05,755.90 L635.70,755.90 L636.35,755.90 L637.00,755.90 L637.65,755.90 L638.30,755.90 L638.95,755.90 L639.60,755.90 L640.25,755.90 L640.90,755.90 L641.55,755.90 L642.20,755.90 L642.85,755.90 L643.50,755.90 L644.15,755.90 L644.80,755.90 L645.45,755.90 L646.10,755.90 L646.75,755.90 L647.40,755.90 L648.05,755.90 L648.70,755.90 L649.35,755.90 L650.00,755.90 L650.65,755.90 L651.30,755.90 L651.95,755.90 L652.60,755.90 L653.25,755.90 L653.90,755.90 L654.55,755.90 L655.20,755.90 L655.85,755.90 L656.50,755.90 L657.15,755.90 L657.80,755.90 L658.45,755.90 L659.10,755.90 L659.75,755.90 L660.40,755.90 L661.05,755.90 L661.70,755.90 L662.35,755.90 L663.00,755.90 L663.65,755.90 L664.30,755.90 L664.95,755.90 L665.60,755.90 L666.25,755.90 L666.90,755.90 L667.55,755.90 L668.20,755.90 L668.85,755.90 L669.50,755.90 L670.15,755.90 L670.80,755.90 L671.45,755.90 L672.10,755.90 L672.75,755.90 L673.40,755.90 L674.05,755.90 L674.70,755.90 L675.35,755.90 L676.00,755.90 L676.65,755.90 L677.30,755.90 L677.95,755.90 L678.60,755.90 L679.25,755.90 L679.90,755.90 L680.55,755.90 L681.20,755.90 L681.85,755.90 L682.50,755.90" stroke="#f28a3c" stroke-width="0.9" fill="none"/>
<path d="M585.00,755.90 L585.65,755.90 L586.30,755.90 L586.95,755.90 L587.60,755.90 L588.25,755.90 L588.90,755.90 L589.55,755.90 L590.20,755.90 L590.85,755.90 L591.50,755.90 L592.15,755.90 L592.80,755.90 L593.45,755.90 L594.10,755.90 L594.75,755.90 L595.40,755.90 L596.05,755.90 L596.70,755.90 L597.35,755.90 L598.00,755.90 L598.65,755.90 L599.30,755.90 L599.95,755.89 L600.60,755.88 L601.25,755.87 L601.90,755.83 L602.55,755.76 L603.20,755.64 L603.85,755.43 L604.50,755.08 L605.15,754.51 L605.80,753.63 L606.45,752.31 L607.10,750.42 L607.75,747.84 L608.40,744.44 L609.05,740.17 L609.70,735.07 L610.35,729.25 L611.00,723.00 L611.65,716.67 L612.30,710.75 L612.95,705.73 L613.60,702.07 L614.25,700.15 L614.90,700.03 L615.55,701.01 L616.20,702.93 L616.85,705.68 L617.50,709.13 L618.15,713.10 L618.80,717.43 L619.45,721.94 L620.10,726.44 L620.75,730.79 L621.40,734.88 L622.05,738.62 L622.70,741.94 L623.35,744.82 L624.00,747.26 L624.65,749.28 L625.30,750.92 L625.95,752.22 L626.60,753.23 L627.25,753.99 L627.90,754.56 L628.55,754.98 L629.20,755.28 L629.85,755.49 L630.50,755.63 L631.15,755.73 L631.80,755.79 L632.45,755.83 L633.10,755.86 L633.75,755.88 L634.40,755.89 L635.05,755.89 L635.70,755.90 L636.35,755.90 L637.00,755.90 L637.65,755.90 L638.30,755.90 L638.95,755.90 L639.60,755.90 L640.25,755.90 L640.90,755.90 L641.55,755.90 L642.20,755.90 L642.85,755.90 L643.50,755.90 L644.15,755.90 L644.80,755.90 L645.45,755.90 L646.10,755.90 L646.75,755.90 L647.40,755.90 L648.05,755.90 L648.70,755.90 L649.35,755.90 L650.00,755.90 L650.65,755.90 L651.30,755.90 L651.95,755.90 L652.60,755.90 L653.25,755.90 L653.90,755.90 L654.55,755.90 L655.20,755.90 L655.85,755.90 L656.50,755.90 L657.15,755.90 L657.80,755.90 L658.45,755.90 L659.10,755.90 L659.75,755.90 L660.40,755.90 L661.05,755.90 L661.70,755.90 L662.35,755.90 L663.00,755.90 L663.65,755.90 L664.30,755.90 L664.95,755.90 L665.60,755.90 L666.25,755.90 L666.90,755.90 L667.55,755.90 L668.20,755.90 L668.85,755.90 L669.50,755.90 L670.15,755.90 L670.80,755.90 L671.45,755.90 L672.10,755.90 L672.75,755.90 L673.40,755.90 L674.05,755.90 L674.70,755.90 L675.35,755.90 L676.00,755.90 L676.65,755.90 L677.30,755.90 L677.95,755.90 L678.60,755.90 L679.25,755.90 L679.90,755.90 L680.55,755.90 L681.20,755.90 L681.85,755.90 L682.50,755.90" stroke="#c3a42d" stroke-width="0.9" fill="none"/>
<path d="M585.00,755.90 L585.65,755.90 L586.30,755.90 L586.95,755.90 L587.60,755.90 L588.25,755.90 L588.90,755.90 L589.55,755.90 L590.20,755.90 L590.85,755.90 L591.50,755.90 L592.15,755.90 L592.80,755.90 L593.45,755.90 L594.10,755.90 L594.75,755.90 L595.40,755.90 L596.05,755.90 L596.70,755.90 L597.35,755.90 L598.00,755.90 L598.65,755.90 L599.30,755.90 L599.95,755.90 L600.60,755.90 L601.25,755.89 L601.90,755.89 L602.55,755.87 L603.20,755.84 L603.85,755.78 L604.50,755.68 L605.15,755.51 L605.80,755.22 L606.45,754.76 L607.10,754.04 L607.75,752.97 L608.40,751.43 L609.05,749.30 L609.70,746.49 L610.35,742.91 L611.00,738.55 L611.65,733.49 L612.30,727.88 L612.95,722.02 L613.60,716.26 L614.25,711.02 L614.90,706.75 L615.55,703.83 L616.20,702.52 L616.85,702.70 L617.50,703.73 L618.15,705.53 L618.80,708.02 L619.45,711.10 L620.10,714.63 L620.75,718.47 L621.40,722.48 L622.05,726.52 L622.70,730.47 L623.35,734.24 L624.00,737.73 L624.65,740.89 L625.30,743.70 L625.95,746.14 L626.60,748.21 L627.25,749.93 L627.90,751.34 L628.55,752.47 L629.20,753.36 L629.85,754.05 L630.50,754.57 L631.15,754.96 L631.80,755.25 L632.45,755.45 L633.10,755.60 L633.75,755.70 L634.40,755.77 L635.05,755.82 L635.70,755.85 L636.35,755.87 L637.00,755.88 L637.65,755.89 L638.30,755.89 L638.95,755.90 L639.60,755.90 L640.25,755.90 L640.90,755.90 L641.55,755.90 L642.20,755.90 L642.85,755.90 L643.50,755.90 L644.15,755.90 L644.80,755.90 L645.45,755.90 L646.10,755.90 L646.75,755.90 L647.40,755.90 L648.05,755.90 L648.70,755.90 L649.35,755.90 L650.00,755.90 L650.65,755.90 L651.30,755.90 L651.95,755.90 L652.60,755.90 L653.25,755.90 L653.90,755.90 L654.55,755.90 L655.20,755.90 L655.85,755.90 L656.50,755.90 L657.15,755.90 L657.80,755.90 L658.45,755.90 L659.10,755.90 L659.75,755.90 L660.40,755.90 L661.05,755.90 L661.70,755.90 L662.35,755.90 L663.00,755.90 L663.65,755.90 L664.30,755.90 L664.95,755.90 L665.60,755.90 L666.25,755.90 L666.90,755.90 L667.55,755.90 L668.20,755.90 L668.85,755.90 L669.50,755.90 L670.15,755.90 L670.80,755.90 L671.45,755.90 L672.10,755.90 L672.75,755.90 L673.40,755.90 L674.05,755.90 L674.70,755.90 L675.35,755.90 L676.00,755.90 L676.65,755.90 L677.30,755.90 L677.95,755.90 L678.60,755.90 L679.25,755.90 L679.90,755.90 L680.55,755.90 L681.20,755.90 L681.85,755.90 L682.50,755.90" stroke="#b3e539" stroke-width="0.9" fill="none"/>
<path d="M585.00,755.90 L585.65,755.90 L586.30,755.90 L586.95,755.90 L587.60,755.90 L588.25,755.90 L588.90,755.90 L589.55,755.90 L590.20,755.90 L590.85,755.90 L591.50,755.90 L592.15,755.90 L592.80,755.90 L593.45,755.90 L594.10,755.90 L594.75,755.90 L595.40,755.90 L596.05,755.90 L596.70,755.90 L597.35,755.90 L598.00,755.90 L598.65,755.90 L599.30,755.90 L599.95,755.90 L600.60,755.90 L601.25,755.90 L601.90,755.90 L602.55,755.89 L603.20,755.89 L603.85,755.87 L604.50,755.85 L605.15,755.80 L605.80,755.71 L606.45,755.57 L607.10,755.33 L607.75,754.95 L608.40,754.36 L609.05,753.48 L609.70,752.21 L610.35,750.46 L611.00,748.11 L611.65,745.10 L612.30,741.38 L612.95,736.98 L613.60,732.01 L614.25,726.65 L614.90,721.18 L615.55,715.96 L616.20,711.36 L616.85,707.75 L617.50,705.45 L618.15,704.66 L618.80,705.01 L619.45,706.06 L620.10,707.75 L620.75,710.03 L621.40,712.80 L622.05,715.96 L622.70,719.40 L623.35,723.00 L624.00,726.65 L624.65,730.25 L625.30,733.72 L625.95,736.98 L626.60,739.99 L627.25,742.70 L627.90,745.10 L628.55,747.19 L629.20,748.97 L629.85,750.46 L630.50,751.69 L631.15,752.68 L631.80,753.48 L632.45,754.10 L633.10,754.58 L633.75,754.95 L634.40,755.22 L635.05,755.42 L635.70,755.57 L636.35,755.67 L637.00,755.75 L637.65,755.80 L638.30,755.83 L638.95,755.86 L639.60,755.87 L640.25,755.88 L640.90,755.89 L641.55,755.89 L642.20,755.90 L642.85,755.90 L643.50,755.90 L644.15,755.90 L644.80,755.90 L645.45,755.90 L646.10,755.90 L646.75,755.90 L647.40,755.90 L648.05,755.90 L648.70,755.90 L649.35,755.90 L650.00,755.90 L650.65,755.90 L651.30,755.90 L651.95,755.90 L652.60,755.90 L653.25,755.90 L653.90,755.90 L654.55,755.90 L655.20,755.90 L655.85,755.90 L656.50,755.90 L657.15,755.90 L657.80,755.90 L658.45,755.90 L659.10,755.90 L659.75,755.90 L660.40,755.90 L661.05,755.90 L661.70,755.90 L662.35,755.90 L663.00,755.90 L663.65,755.90 L664.30,755.90 L664.95,755.90 L665.60,755.90 L666.25,755.90 L666.90,755.90 L667.55,755.90 L668.20,755.90 L668.85,755.90 L669.50,755.90 L670.15,755.90 L670.80,755.90 L671.45,755.90 L672.10,755.90 L672.75,755.90 L673.40,755.90 L674.05,755.90 L674.70,755.90 L675.35,755.90 L676.00,755.90 L676.65,755.90 L677.30,755.90 L677.95,755.90 L678.60,755.90 L679.25,755.90 L679.90,755.90 L680.55,755.90 L681.20,755.90 L681.85,755.90 L682.50,755.90" stroke="#69e539" stroke-width="0.9" fill="none"/>
<path d="M585.00,755.90 L585.65,755.90 L586.30,755.90 L586.95,755.90 L587.60,755.90 L588.25,755.90 L588.90,755.90 L589.55,755.90 L590.20,755.90 L590.85,755.90 L591.50,755.90 L592.15,755.90 L592.80,755.90 L593.45,755.90 L594.10,755.90 L594.75,755.90 L595.40,755.90 L596.05,755.90 L596.70,755.90 L597.35,755.90 L598.00,755.90 L598.65,755.90 L599.30,755.90 L599.95,755.90 L600.60,755.90 L601.25,755.90 L601.90,755.90 L602.55,755.90 L603.20,755.90 L603.85,755.89 L604.50,755.89 L605.15,755.88 L605.80,755.85 L606.45,755.81 L607.10,755.74 L607.75,755.62 L608.40,755.42 L609.05,755.10 L609.70,754.61 L610.35,753.88 L611.00,752.83 L611.65,751.37 L612.30,749.40 L612.95,746.86 L613.60,743.68 L614.25,739.86 L614.90,735.46 L615.55,730.60 L616.20,725.50 L616.85,720.43 L617.50,715.71 L618.15,711.69 L618.80,708.66 L619.45,706.90 L620.10,706.51 L620.75,706.96 L621.40,708.01 L622.05,709.61 L622.70,711.70 L623.35,714.22 L624.00,717.08 L624.65,720.18 L625.30,723.44 L625.95,726.76 L626.60,730.07 L627.25,733.28 L627.90,736.33 L628.55,739.18 L629.20,741.79 L629.85,744.14 L630.50,746.22 L631.15,748.03 L631.80,749.58 L632.45,750.88 L633.10,751.97 L633.75,752.86 L634.40,753.57 L635.05,754.14 L635.70,754.59 L636.35,754.93 L637.00,755.20 L637.65,755.40 L638.30,755.54 L638.95,755.65 L639.60,755.73 L640.25,755.78 L640.90,755.82 L641.55,755.85 L642.20,755.86 L642.85,755.88 L643.50,755.89 L644.15,755.89 L644.80,755.89 L645.45,755.90 L646.10,755.90 L646.75,755.90 L647.40,755.90 L648.05,755.90 L648.70,755.90 L649.35,755.90 L650.00,755.90 L650.65,755.90 L651.30,755.90 L651.95,755.90 L652.60,755.90 L653.25,755.90 L653.90,755.90 L654.55,755.90 L655.20,755.90 L655.85,755.90 L656.50,755.90 L657.15,755.90 L657.80,755.90 L658.45,755.90 L659.10,755.90 L659.75,755.90 L660.40,755.90 L661.05,755.90 L661.70,755.90 L662.35,755.90 L663.00,755.90 L663.65,755.90 L664.30,755.90 L664.95,755.90 L665.60,755.90 L666.25,755.90 L666.90,755.90 L667.55,755.90 L668.20,755.90 L668.85,755.90 L669.50,755.90 L670.15,755.90 L670.80,755.90 L671.45,755.90 L672.10,755.90 L672.75,755.90 L673.40,755.90 L674.05,755.90 L674.70,755.90 L675.35,755.90 L676.00,755.90 L676.65,755.90 L677.30,755.90 L677.95,755.90 L678.60,755.90 L679.25,755.90 L679.90,755.90 L680.55,755.90 L681.20,755.90 L681.85,755.90 L682.50,755.90" stroke="#39e553" stroke-width="0.9" fill="none"/>
<path d="M585.00,755.90 L585.65,755.90 L586.30,755.90 L586.95,755.90 L587.60,755.90 L588.25,755.90 L588.90,755.90 L589.55,755.90 L590.20,755.90 L590.85,755.90 L591.50,755.90 L592.15,755.90 L592.80,755.90 L593.45,755.90 L594.10,755.90 L594.75,755.90 L595.40,755.90 L596.05,755.90 L596.70,755.90 L597.35,755.90 L598.00,755.90 L598.65,755.90 L599.30,755.90 L599.95,755.90 L600.60,755.90 L601.25,755.90 L601.90,755.90 L602.55,755.90 L603.20,755.90 L603.85,755.90 L604.50,755.90 L605.15,755.89 L605.80,755.89 L606.45,755.88 L607.10,755.86 L607.75,755.82 L608.40,755.76 L609.05,755.66 L609.70,755.49 L610.35,755.22 L611.00,754.82 L611.65,754.21 L612.30,753.33 L612.95,752.11 L613.60,750.47 L614.25,748.32 L614.90,745.61 L615.55,742.32 L616.20,738.46 L616.85,734.12 L617.50,729.44 L618.15,724.64 L618.80,719.98 L619.45,715.76 L620.10,712.28 L620.75,709.78 L621.40,708.48 L622.05,708.39 L622.70,708.91 L623.35,709.94 L624.00,711.44 L624.65,713.37 L625.30,715.66 L625.95,718.25 L626.60,721.06 L627.25,724.02 L627.90,727.04 L628.55,730.07 L629.20,733.03 L629.85,735.88 L630.50,738.57 L631.15,741.06 L631.80,743.33 L632.45,745.37 L633.10,747.18 L633.75,748.76 L634.40,750.11 L635.05,751.26 L635.70,752.23 L636.35,753.02 L637.00,753.67 L637.65,754.19 L638.30,754.60 L638.95,754.93 L639.60,755.18 L640.25,755.37 L640.90,755.52 L641.55,755.63 L642.20,755.71 L642.85,755.76 L643.50,755.81 L644.15,755.83 L644.80,755.86 L645.45,755.87 L646.10,755.88 L646.75,755.89 L647.40,755.89 L648.05,755.89 L648.70,755.90 L649.35,755.90 L650.00,755.90 L650.65,755.90 L651.30,755.90 L651.95,755.90 L652.60,755.90 L653.25,755.90 L653.90,755.90 L654.55,755.90 L655.20,755.90 L655.85,755.90 L656.50,755.90 L657.15,755.90 L657.80,755.90 L658.45,755.90 L659.10,755.90 L659.75,755.90 L660.40,755.90 L661.05,755.90 L661.70,755.90 L662.35,755.90 L663.00,755.90 L663.65,755.90 L664.30,755.90 L664.95,755.90 L665.60,755.90 L666.25,755.90 L666.90,755.90 L667.55,755.90 L668.20,755.90 L668.85,755.90 L669.50,755.90 L670.15,755.90 L670.80,755.90 L671.45,755.90 L672.10,755.90 L672.75,755.90 L673.40,755.90 L674.05,755.90 L674.70,755.90 L675.35,755.90 L676.00,755.90 L676.65,755.90 L677.30,755.90 L677.95,755.90 L678.60,755.90 L679.25,755.90 L679.90,755.90 L680.55,755.90 L681.20,755.90 L681.85,755.90 L682.50,755.90" stroke="#39e59d" stroke-width="0.9" fill="none"/>
<path d="M585.00,755.90 L585.65,755.90 L586.30,755.90 L586.95,755.90 L587.60,755.90 L588.25,755.90 L588.90,755.90 L589.55,755.90 L590.20,755.90 L590.85,755.90 L591.50,755.90 L592.15,755.90 L592.80,755.90 L593.45,755.90 L594.10,755.90 L594.75,755.90 L595.40,755.90 L596.05,755.90 L596.70,755.90 L597.35,755.90 L598.00,755.90 L598.65,755.90 L599.30,755.90 L599.95,755.90 L600.60,755.90 L601.25,755.90 L601.90,755.90 L602.55,755.90 L603.20,755.90 L603.85,755.90 L604.50,755.90 L605.15,755.90 L605.80,755.90 L606.45,755.89 L607.10,755.89 L607.75,755.88 L608.40,755.86 L609.05,755.83 L609.70,755.78 L610.35,755.69 L611.00,755.55 L611.65,755.32 L612.30,754.98 L612.95,754.47 L613.60,753.73 L614.25,752.71 L614.90,751.31 L615.55,749.49 L616.20,747.17 L616.85,744.31 L617.50,740.93 L618.15,737.05 L618.80,732.79 L619.45,728.31 L620.10,723.80 L620.75,719.53 L621.40,715.76 L622.05,712.75 L622.70,710.72 L623.35,709.82 L624.00,709.91 L624.65,710.48 L625.30,711.50 L625.95,712.92 L626.60,714.70 L627.25,716.81 L627.90,719.18 L628.55,721.75 L629.20,724.45 L629.85,727.23 L630.50,730.02 L631.15,732.78 L631.80,735.44 L632.45,737.98 L633.10,740.36 L633.75,742.56 L634.40,744.56 L635.05,746.36 L635.70,747.95 L636.35,749.34 L637.00,750.54 L637.65,751.57 L638.30,752.43 L638.95,753.15 L639.60,753.74 L640.25,754.22 L640.90,754.61 L641.55,754.92 L642.20,755.16 L642.85,755.35 L643.50,755.49 L644.15,755.60 L644.80,755.68 L645.45,755.74 L646.10,755.79 L646.75,755.82 L647.40,755.85 L648.05,755.86 L648.70,755.87 L649.35,755.88 L650.00,755.89 L650.65,755.89 L651.30,755.90 L651.95,755.90 L652.60,755.90 L653.25,755.90 L653.90,755.90 L654.55,755.90 L655.20,755.90 L655.85,755.90 L656.50,755.90 L657.15,755.90 L657.80,755.90 L658.45,755.90 L659.10,755.90 L659.75,755.90 L660.40,755.90 L661.05,755.90 L661.70,755.90 L662.35,755.90 L663.00,755.90 L663.65,755.90 L664.30,755.90 L664.95,755.90 L665.60,755.90 L666.25,755.90 L666.90,755.90 L667.55,755.90 L668.20,755.90 L668.85,755.90 L669.50,755.90 L670.15,755.90 L670.80,755.90 L671.45,755.90 L672.10,755.90 L672.75,755.90 L673.40,755.90 L674.05,755.90 L674.70,755.90 L675.35,755.90 L676.00,755.90 L676.65,755.90 L677.30,755.90 L677.95,755.90 L678.60,755.90 L679.25,755.90 L679.90,755.90 L680.55,755.90 L681.20,755.90 L681.85,755.90 L682.50,755.90" stroke="#3cf0f2" stroke-width="0.9" fill="none"/>
<path d="M585.00,755.90 L585.65,755.90 L586.30,755.90 L586.95,755.90 L587.60,755.90 L588.25,755.90 L588.90,755.90 L589.55,755.90 L590.20,755.90 L590.85,755.90 L591.50,755.90 L592.15,755.90 L592.80,755.90 L593.45,755.90 L594.10,755.90 L594.75,755.90 L595.40,755.90 L596.05,755.90 L596.70,755.90 L597.35,755.90 L598.00,755.90 L598.65,755.90 L599.30,755.90 L599.95,755.90 L600.60,755.90 L601.25,755.90 L601.90,755.90 L602.55,755.90 L603.20,755.90 L603.85,755.90 L604.50,755.90 L605.15,755.90 L605.80,755.90 L606.45,755.90 L607.10,755.90 L607.75,755.89 L608.40,755.89 L609.05,755.88 L609.70,755.87 L610.35,755.84 L611.00,755.79 L611.65,755.72 L612.30,755.59 L612.95,755.40 L613.60,755.11 L614.25,754.68 L614.90,754.06 L615.55,753.20 L616.20,752.02 L616.85,750.47 L617.50,748.48 L618.15,746.02 L618.80,743.06 L619.45,739.63 L620.10,735.79 L620.75,731.66 L621.40,727.39 L622.05,723.20 L622.70,719.32 L623.35,715.99 L624.00,713.42 L624.65,711.80 L625.30,711.25 L625.95,711.45 L626.60,712.05 L627.25,713.03 L627.90,714.37 L628.55,716.03 L629.20,717.97 L629.85,720.15 L630.50,722.50 L631.15,724.98 L631.80,727.53 L632.45,730.11 L633.10,732.66 L633.75,735.15 L634.40,737.54 L635.05,739.81 L635.70,741.92 L636.35,743.86 L637.00,745.63 L637.65,747.21 L638.30,748.62 L638.95,749.86 L639.60,750.93 L640.25,751.85 L640.90,752.62 L641.55,753.28 L642.20,753.82 L642.85,754.26 L643.50,754.62 L644.15,754.92 L644.80,755.15 L645.45,755.33 L646.10,755.47 L646.75,755.58 L647.40,755.66 L648.05,755.73 L648.70,755.77 L649.35,755.81 L650.00,755.84 L650.65,755.85 L651.30,755.87 L651.95,755.88 L652.60,755.89 L653.25,755.89 L653.90,755.89 L654.55,755.90 L655.20,755.90 L655.85,755.90 L656.50,755.90 L657.15,755.90 L657.80,755.90 L658.45,755.90 L659.10,755.90 L659.75,755.90 L660.40,755.90 L661.05,755.90 L661.70,755.90 L662.35,755.90 L663.00,755.90 L663.65,755.90 L664.30,755.90 L664.95,755.90 L665.60,755.90 L666.25,755.90 L666.90,755.90 L667.55,755.90 L668.20,755.90 L668.85,755.90 L669.50,755.90 L670.15,755.90 L670.80,755.90 L671.45,755.90 L672.10,755.90 L672.75,755.90 L673.40,755.90 L674.05,755.90 L674.70,755.90 L675.35,755.90 L676.00,755.90 L676.65,755.90 L677.30,755.90 L677.95,755.90 L678.60,755.90 L679.25,755.90 L679.90,755.90 L680.55,755.90 L681.20,755.90 L681.85,755.90 L682.50,755.90" stroke="#3ca2f2" stroke-width="0.9" fill="none"/>
<path d="M585.00,755.90 L585.65,755.90 L586.30,755.90 L586.95,755.90 L587.60,755.90 L588.25,755.90 L588.90,755.90 L589.55,755.90 L590.20,755.90 L590.85,755.90 L591.50,755.90 L592.15,755.90 L592.80,755.90 L593.45,755.90 L594.10,755.90 L594.75,755.90 L595.40,755.90 L596.05,755.90 L596.70,755.90 L597.35,755.90 L598.00,755.90 L598.65,755.90 L599.30,755.90 L599.95,755.90 L600.60,755.90 L601.25,755.90 L601.90,755.90 L602.55,755.90 L603.20,755.90 L603.85,755.90 L604.50,755.90 L605.15,755.90 L605.80,755.90 L606.45,755.90 L607.10,755.90 L607.75,755.90 L608.40,755.90 L609.05,755.90 L609.70,755.89 L610.35,755.88 L611.00,755.87 L611.65,755.85 L612.30,755.81 L612.95,755.74 L613.60,755.63 L614.25,755.47 L614.90,755.22 L615.55,754.86 L616.20,754.33 L616.85,753.60 L617.50,752.60 L618.15,751.27 L618.80,749.57 L619.45,747.44 L620.10,744.85 L620.75,741.82 L621.40,738.37 L622.05,734.59 L622.70,730.61 L623.35,726.57 L624.00,722.69 L624.65,719.18 L625.30,716.24 L625.95,714.07 L626.60,712.82 L627.25,712.54 L627.90,712.81 L628.55,713.43 L629.20,714.38 L629.85,715.65 L630.50,717.20 L631.15,718.99 L631.80,721.00 L632.45,723.16 L633.10,725.45 L633.75,727.80 L634.40,730.19 L635.05,732.57 L635.70,734.90 L636.35,737.16 L637.00,739.31 L637.65,741.33 L638.30,743.22 L638.95,744.95 L639.60,746.52 L640.25,747.93 L640.90,749.19 L641.55,750.29 L642.20,751.25 L642.85,752.08 L643.50,752.79 L644.15,753.38 L644.80,753.88 L645.45,754.30 L646.10,754.64 L646.75,754.91 L647.40,755.13 L648.05,755.31 L648.70,755.45 L649.35,755.56 L650.00,755.64 L650.65,755.71 L651.30,755.76 L651.95,755.80 L652.60,755.83 L653.25,755.85 L653.90,755.86 L654.55,755.87 L655.20,755.88 L655.85,755.89 L656.50,755.89 L657.15,755.89 L657.80,755.90 L658.45,755.90 L659.10,755.90 L659.75,755.90 L660.40,755.90 L661.05,755.90 L661.70,755.90 L662.35,755.90 L663.00,755.90 L663.65,755.90 L664.30,755.90 L664.95,755.90 L665.60,755.90 L666.25,755.90 L666.90,755.90 L667.55,755.90 L668.20,755.90 L668.85,755.90 L669.50,755.90 L670.15,755.90 L670.80,755.90 L671.45,755.90 L672.10,755.90 L672.75,755.90 L673.40,755.90 L674.05,755.90 L674.70,755.90 L675.35,755.90 L676.00,755.90 L676.65,755.90 L677.30,755.90 L677.95,755.90 L678.60,755.90 L679.25,755.90 L679.90,755.90 L680.55,755.90 L681.20,755.90 L681.85,755.90 L682.50,755.90" stroke="#3c54f2" stroke-width="0.9" fill="none"/>
<path d="M585.00,755.90 L585.65,755.90 L586.30,755.90 L586.95,755.90 L587.60,755.90 L588.25,755.90 L588.90,755.90 L589.55,755.90 L590.20,755.90 L590.85,755.90 L591.50,755.90 L592.15,755.90 L592.80,755.90 L593.45,755.90 L594.10,755.90 L594.75,755.90 L595.40,755.90 L596.05,755.90 L596.70,755.90 L597.35,755.90 L598.00,755.90 L598.65,755.90 L599.30,755.90 L599.95,755.90 L600.60,755.90 L601.25,755.90 L601.90,755.90 L602.55,755.90 L603.20,755.90 L603.85,755.90 L604.50,755.90 L605.15,755.90 L605.80,755.90 L606.45,755.90 L607.10,755.90 L607.75,755.90 L608.40,755.90 L609.05,755.90 L609.70,755.90 L610.35,755.90 L611.00,755.89 L611.65,755.88 L612.30,755.87 L612.95,755.85 L613.60,755.82 L614.25,755.76 L614.90,755.67 L615.55,755.53 L616.20,755.32 L616.85,755.00 L617.50,754.56 L618.15,753.93 L618.80,753.08 L619.45,751.95 L620.10,750.48 L620.75,748.64 L621.40,746.39 L622.05,743.72 L622.70,740.65 L623.35,737.23 L624.00,733.55 L624.65,729.73 L625.30,725.95 L625.95,722.38 L626.60,719.23 L627.25,716.67 L627.90,714.86 L628.55,713.93 L629.20,713.85 L629.85,714.17 L630.50,714.79 L631.15,715.71 L631.80,716.91 L632.45,718.36 L633.10,720.02 L633.75,721.87 L634.40,723.87 L635.05,725.98 L635.70,728.16 L636.35,730.37 L637.00,732.59 L637.65,734.77 L638.30,736.89 L638.95,738.93 L639.60,740.86 L640.25,742.68 L640.90,744.36 L641.55,745.90 L642.20,747.31 L642.85,748.57 L643.50,749.69 L644.15,750.68 L644.80,751.55 L645.45,752.30 L646.10,752.94 L646.75,753.49 L647.40,753.95 L648.05,754.33 L648.70,754.65 L649.35,754.91 L650.00,755.12 L650.65,755.30 L651.30,755.43 L651.95,755.54 L652.60,755.63 L653.25,755.69 L653.90,755.74 L654.55,755.78 L655.20,755.81 L655.85,755.84 L656.50,755.85 L657.15,755.87 L657.80,755.88 L658.45,755.88 L659.10,755.89 L659.75,755.89 L660.40,755.89 L661.05,755.90 L661.70,755.90 L662.35,755.90 L663.00,755.90 L663.65,755.90 L664.30,755.90 L664.95,755.90 L665.60,755.90 L666.25,755.90 L666.90,755.90 L667.55,755.90 L668.20,755.90 L668.85,755.90 L669.50,755.90 L670.15,755.90 L670.80,755.90 L671.45,755.90 L672.10,755.90 L672.75,755.90 L673.40,755.90 L674.05,755.90 L674.70,755.90 L675.35,755.90 L676.00,755.90 L676.65,755.90 L677.30,755.90 L677.95,755.90 L678.60,755.90 L679.25,755.90 L679.90,755.90 L680.55,755.90 L681.20,755.90 L681.85,755.90 L682.50,755.90" stroke="#733cf2" stroke-width="0.9" fill="none"/>
<path d="M585.00,755.90 L585.65,755.90 L586.30,755.90 L586.95,755.90 L587.60,755.90 L588.25,755.90 L588.90,755.90 L589.55,755.90 L590.20,755.90 L590.85,755.90 L591.50,755.90 L592.15,755.90 L592.80,755.90 L593.45,755.90 L594.10,755.90 L594.75,755.90 L595.40,755.90 L596.05,755.90 L596.70,755.90 L597.35,755.90 L598.00,755.90 L598.65,755.90 L599.30,755.90 L599.95,755.90 L600.60,755.90 L601.25,755.90 L601.90,755.90 L602.55,755.90 L603.20,755.90 L603.85,755.90 L604.50,755.90 L605.15,755.90 L605.80,755.90 L606.45,755.90 L607.10,755.90 L607.75,755.90 L608.40,755.90 L609.05,755.90 L609.70,755.90 L610.35,755.90 L611.00,755.90 L611.65,755.90 L612.30,755.89 L612.95,755.89 L613.60,755.87 L614.25,755.86 L614.90,755.82 L615.55,755.77 L616.20,755.70 L616.85,755.57 L617.50,755.39 L618.15,755.12 L618.80,754.74 L619.45,754.21 L620.10,753.48 L620.75,752.50 L621.40,751.24 L622.05,749.64 L622.70,747.68 L623.35,745.33 L624.00,742.59 L624.65,739.50 L625.30,736.12 L625.95,732.55 L626.60,728.92 L627.25,725.38 L627.90,722.12 L628.55,719.29 L629.20,717.07 L629.85,715.59 L630.50,714.94 L631.15,714.99 L631.80,715.34 L632.45,715.97 L633.10,716.86 L633.75,718.00 L634.40,719.35 L635.05,720.91 L635.70,722.62 L636.35,724.48 L637.00,726.43 L637.65,728.46 L638.30,730.52 L638.95,732.59 L639.60,734.64 L640.25,736.64 L640.90,738.58 L641.55,740.43 L642.20,742.17 L642.85,743.81 L643.50,745.32 L644.15,746.71 L644.80,747.97 L645.45,749.10 L646.10,750.12 L646.75,751.01 L647.40,751.80 L648.05,752.48 L648.70,753.07 L649.35,753.58 L650.00,754.00 L650.65,754.36 L651.30,754.66 L651.95,754.91 L652.60,755.11 L653.25,755.28 L653.90,755.42 L654.55,755.52 L655.20,755.61 L655.85,755.68 L656.50,755.73 L657.15,755.77 L657.80,755.80 L658.45,755.83 L659.10,755.85 L659.75,755.86 L660.40,755.87 L661.05,755.88 L661.70,755.89 L662.35,755.89 L663.00,755.89 L663.65,755.89 L664.30,755.90 L664.95,755.90 L665.60,755.90 L666.25,755.90 L666.90,755.90 L667.55,755.90 L668.20,755.90 L668.85,755.90 L669.50,755.90 L670.15,755.90 L670.80,755.90 L671.45,755.90 L672.10,755.90 L672.75,755.90 L673.40,755.90 L674.05,755.90 L674.70,755.90 L675.35,755.90 L676.00,755.90 L676.65,755.90 L677.30,755.90 L677.95,755.90 L678.60,755.90 L679.25,755.90 L679.90,755.90 L680.55,755.90 L681.20,755.90 L681.85,755.90 L682.50,755.90" stroke="#c13cf2" stroke-width="0.9" fill="none"/>
<path d="M585.00,755.90 L585.65,755.90 L586.30,755.90 L586.95,755.90 L587.60,755.90 L588.25,755.90 L588.90,755.90 L589.55,755.90 L590.20,755.90 L590.85,755.90 L591.50,755.90 L592.15,755.90 L592.80,755.90 L593.45,755.90 L594.10,755.90 L594.75,755.90 L595.40,755.90 L596.05,755.90 L596.70,755.90 L597.35,755.90 L598.00,755.90 L598.65,755.90 L599.30,755.90 L599.95,755.90 L600.60,755.90 L601.25,755.90 L601.90,755.90 L602.55,755.90 L603.20,755.90 L603.85,755.90 L604.50,755.90 L605.15,755.90 L605.80,755.90 L606.45,755.90 L607.10,755.90 L607.75,755.90 L608.40,755.90 L609.05,755.90 L609.70,755.90 L610.35,755.90 L611.00,755.90 L611.65,755.90 L612.30,755.90 L612.95,755.90 L613.60,755.89 L614.25,755.89 L614.90,755.88 L615.55,755.86 L616.20,755.83 L616.85,755.79 L617.50,755.72 L618.15,755.61 L618.80,755.46 L619.45,755.23 L620.10,754.90 L620.75,754.44 L621.40,753.81 L622.05,752.97 L622.70,751.88 L623.35,750.50 L624.00,748.79 L624.65,746.72 L625.30,744.29 L625.95,741.52 L626.60,738.44 L627.25,735.14 L627.90,731.70 L628.55,728.27 L629.20,724.99 L629.85,722.02 L630.50,719.51 L631.15,717.60 L631.80,716.41 L632.45,716.01 L633.10,716.13 L633.75,716.51 L634.40,717.14 L635.05,718.00 L635.70,719.07 L636.35,720.35 L637.00,721.80 L637.65,723.39 L638.30,725.12 L638.95,726.93 L639.60,728.81 L640.25,730.74 L640.90,732.67 L641.55,734.59 L642.20,736.48 L642.85,738.32 L643.50,740.08 L644.15,741.75 L644.80,743.33 L645.45,744.81 L646.10,746.17 L646.75,747.42 L647.40,748.56 L648.05,749.58 L648.70,750.50 L649.35,751.31 L650.00,752.03 L650.65,752.65 L651.30,753.20 L651.95,753.66 L652.60,754.06 L653.25,754.39 L653.90,754.68 L654.55,754.91 L655.20,755.11 L655.85,755.27 L656.50,755.40 L657.15,755.51 L657.80,755.59 L658.45,755.66 L659.10,755.72 L659.75,755.76 L660.40,755.79 L661.05,755.82 L661.70,755.84 L662.35,755.85 L663.00,755.87 L663.65,755.87 L664.30,755.88 L664.95,755.89 L665.60,755.89 L666.25,755.89 L666.90,755.90 L667.55,755.90 L668.20,755.90 L668.85,755.90 L669.50,755.90 L670.15,755.90 L670.80,755.90 L671.45,755.90 L672.10,755.90 L672.75,755.90 L673.40,755.90 L674.05,755.90 L674.70,755.90 L675.35,755.90 L676.00,755.90 L676.65,755.90 L677.30,755.90 L677.95,755.90 L678.60,755.90 L679.25,755.90 L679.90,755.90 L680.55,755.90 L681.20,755.90 L681.85,755.90 L682.50,755.90" stroke="#f23cd5" stroke-width="0.9" fill="none"/>
<path d="M585.00,755.90 L585.65,755.90 L586.30,755.90 L586.95,755.90 L587.60,755.90 L588.25,755.90 L588.90,755.90 L589.55,755.90 L590.20,755.90 L590.85,755.90 L591.50,755.90 L592.15,755.90 L592.80,755.89 L593.45,755.89 L594.10,755.89 L594.75,755.88 L595.40,755.88 L596.05,755.87 L596.70,755.86 L597.35,755.85 L598.00,755.83 L598.65,755.80 L599.30,755.77 L599.95,755.74 L600.60,755.69 L601.25,755.63 L601.90,755.55 L602.55,755.45 L603.20,755.34 L603.85,755.19 L604.50,755.02 L605.15,754.81 L605.80,754.57 L606.45,754.28 L607.10,753.93 L607.75,753.54 L608.40,753.08 L609.05,752.56 L609.70,751.96 L610.35,751.30 L611.00,750.56 L611.65,749.74 L612.30,748.85 L612.95,747.88 L613.60,746.84 L614.25,745.74 L614.90,744.59 L615.55,743.39 L616.20,742.16 L616.85,740.92 L617.50,739.67 L618.15,738.44 L618.80,737.25 L619.45,736.12 L620.10,735.06 L620.75,734.10 L621.40,733.25 L622.05,732.53 L622.70,731.96 L623.35,731.54 L624.00,731.28 L624.65,731.19 L625.30,731.24 L625.95,731.39 L626.60,731.63 L627.25,731.96 L627.90,732.37 L628.55,732.87 L629.20,733.45 L629.85,734.10 L630.50,734.81 L631.15,735.58 L631.80,736.39 L632.45,737.25 L633.10,738.14 L633.75,739.05 L634.40,739.98 L635.05,740.92 L635.70,741.85 L636.35,742.78 L637.00,743.69 L637.65,744.59 L638.30,745.46 L638.95,746.30 L639.60,747.11 L640.25,747.88 L640.90,748.61 L641.55,749.30 L642.20,749.95 L642.85,750.56 L643.50,751.12 L644.15,751.64 L644.80,752.12 L645.45,752.56 L646.10,752.96 L646.75,753.32 L647.40,753.64 L648.05,753.93 L648.70,754.20 L649.35,754.43 L650.00,754.63 L650.65,754.81 L651.30,754.97 L651.95,755.11 L652.60,755.23 L653.25,755.34 L653.90,755.43 L654.55,755.50 L655.20,755.57 L655.85,755.63 L656.50,755.67 L657.15,755.71 L657.80,755.75 L658.45,755.77 L659.10,755.80 L659.75,755.82 L660.40,755.83 L661.05,755.85 L661.70,755.86 L662.35,755.87 L663.00,755.87 L663.65,755.88 L664.30,755.88 L664.95,755.89 L665.60,755.89 L666.25,755.89 L666.90,755.89 L667.55,755.90 L668.20,755.90 L668.85,755.90 L669.50,755.90 L670.15,755.90 L670.80,755.90 L671.45,755.90 L672.10,755.90 L672.75,755.90 L673.40,755.90 L674.05,755.90 L674.70,755.90 L675.35,755.90 L676.00,755.90 L676.65,755.90 L677.30,755.90 L677.95,755.90 L678.60,755.90 L679.25,755.90 L679.90,755.90 L680.55,755.90 L681.20,755.90 L681.85,755.90 L682.50,755.90" stroke="#000" stroke-width="1.4" fill="none"/>
<text x="755.40" y="679.70" font-size="25" fill="#000" text-anchor="start" font-weight="normal" style="font-family:'Liberation Sans',sans-serif;" >G</text>
<path d="M774,689.9 V878 H1069.5" stroke="#222" stroke-width="1" fill="none"/>
<path d="M774,869.6 h-3 M774,824.6 h-3 M774,779.6 h-3 M774,734.6 h-3 M807.6,878 v3 M874.2,878 v3 M940.8,878 v3 M1007.4,878 v3" stroke="#222" stroke-width="1"/>
<text x="769.00" y="872.80" font-size="9.2" fill="#444" text-anchor="end" font-weight="bold" style="font-family:'Liberation Sans',sans-serif;" >0.00</text>
<text x="769.00" y="827.80" font-size="9.2" fill="#444" text-anchor="end" font-weight="bold" style="font-family:'Liberation Sans',sans-serif;" >0.05</text>
<text x="769.00" y="782.80" font-size="9.2" fill="#444" text-anchor="end" font-weight="bold" style="font-family:'Liberation Sans',sans-serif;" >0.10</text>
<text x="769.00" y="737.80" font-size="9.2" fill="#444" text-anchor="end" font-weight="bold" style="font-family:'Liberation Sans',sans-serif;" >0.15</text>
<text x="807.60" y="891.00" font-size="9.2" fill="#444" text-anchor="middle" font-weight="bold" style="font-family:'Liberation Sans',sans-serif;" >0</text>
<text x="874.20" y="891.00" font-size="9.2" fill="#444" text-anchor="middle" font-weight="bold" style="font-family:'Liberation Sans',sans-serif;" >5</text>
<text x="940.80" y="891.00" font-size="9.2" fill="#444" text-anchor="middle" font-weight="bold" style="font-family:'Liberation Sans',sans-serif;" >10</text>
<text x="1007.40" y="891.00" font-size="9.2" fill="#444" text-anchor="middle" font-weight="bold" style="font-family:'Liberation Sans',sans-serif;" >15</text>
<path d="M793.50,869.60 L807.00,866.60 L823.50,858.50 L838.50,839.00 L852.00,806.00 L862.50,776.00 L873.00,731.00 L882.00,717.50 L889.50,705.50 L897.00,719.00 L907.50,749.00 L919.50,779.00 L930.00,803.00 L942.00,821.00 L957.00,837.50 L972.00,851.00 L984.00,860.00 L999.00,867.50 L1017.00,869.00 L1050.00,869.60" stroke="#000" stroke-width="1.7" fill="none" stroke-dasharray="5.5,4"/>
<path d="M820.50,869.60 L834.00,863.00 L843.00,836.00 L855.00,794.00 L864.00,758.00 L873.00,704.00 L886.50,698.00 L894.00,707.00 L903.00,722.00 L912.00,755.00 L922.50,785.00 L930.00,809.00 L942.00,830.00 L957.00,848.00 L969.00,855.50 L984.00,861.50 L1005.00,865.40 L1023.00,868.40 L1038.00,869.00" stroke="#ee1111" stroke-width="1.7" fill="none" stroke-dasharray="5.5,4"/>
<path d="M976,781.5 h4.5" stroke="#000" stroke-width="1.5"/><path d="M976,792.5 h4.5" stroke="#e8141b" stroke-width="1.5"/>
<text x="989.00" y="785.00" font-size="12.6" fill="#111" text-anchor="start" font-weight="normal" style="font-family:'Liberation Sans',sans-serif;" >Observed</text>
<text x="989.00" y="796.30" font-size="12.6" fill="#111" text-anchor="start" font-weight="normal" style="font-family:'Liberation Sans',sans-serif;" >Simulation</text>
<text transform="translate(745,786.5) rotate(-90)" font-size="13" text-anchor="middle" style="font-family:'Liberation Sans',sans-serif" fill="#111">PDF</text>
<text x="925.4" y="903.5" font-size="12.6" text-anchor="middle" style="font-family:'Liberation Sans',sans-serif" fill="#111">Coordination Number(Z<tspan font-size="9.5" dy="3">C</tspan><tspan dy="-3">)</tspan></text>
<path d="M984.5,693.5 V744 H1063" stroke="#333" stroke-width="1.6" fill="none"/>
<path d="M984.5,699.3 h-3.5 M984.5,709.7 h-3.5 M984.5,720.0 h-3.5 M984.5,730.4 h-3.5 M984.5,740.8 h-3.5 M987.4,744 v3.5 M1005.4,744 v3.5 M1023.5,744 v3.5 M1041.5,744 v3.5 M1059.6,744 v3.5" stroke="#333" stroke-width="1.4"/>
<text x="979.50" y="702.80" font-size="9.8" fill="#222" text-anchor="end" font-weight="bold" style="font-family:'Liberation Sans',sans-serif;" >1e-01</text>
<text x="979.50" y="713.17" font-size="9.8" fill="#222" text-anchor="end" font-weight="bold" style="font-family:'Liberation Sans',sans-serif;" >1e-02</text>
<text x="979.50" y="723.54" font-size="9.8" fill="#222" text-anchor="end" font-weight="bold" style="font-family:'Liberation Sans',sans-serif;" >1e-03</text>
<text x="979.50" y="733.91" font-size="9.8" fill="#222" text-anchor="end" font-weight="bold" style="font-family:'Liberation Sans',sans-serif;" >1e-04</text>
<text x="979.50" y="744.28" font-size="9.8" fill="#222" text-anchor="end" font-weight="bold" style="font-family:'Liberation Sans',sans-serif;" >1e-05</text>
<text x="987.40" y="756.50" font-size="9.8" fill="#222" text-anchor="middle" font-weight="bold" style="font-family:'Liberation Sans',sans-serif;" >5.0</text>
<text x="1005.45" y="756.50" font-size="9.8" fill="#222" text-anchor="middle" font-weight="bold" style="font-family:'Liberation Sans',sans-serif;" >7.5</text>
<text x="1023.50" y="756.50" font-size="9.8" fill="#222" text-anchor="middle" font-weight="bold" style="font-family:'Liberation Sans',sans-serif;" >10.0</text>
<text x="1041.55" y="756.50" font-size="9.8" fill="#222" text-anchor="middle" font-weight="bold" style="font-family:'Liberation Sans',sans-serif;" >12.5</text>
<text x="1059.60" y="756.50" font-size="9.8" fill="#222" text-anchor="middle" font-weight="bold" style="font-family:'Liberation Sans',sans-serif;" >15.0</text>
<path d="M987.00,695.60 L1008.00,696.20 L1026.00,700.40 L1041.00,704.90 L1050.00,709.10 L1053.60,713.00 L1055.40,716.00" stroke="#000" stroke-width="1.7" fill="none" stroke-dasharray="5.5,4"/>
<path d="M987.00,695.60 L1002.00,695.30 L1017.00,698.60 L1032.00,704.00 L1044.00,707.90 L1051.50,710.90 L1055.10,712.40" stroke="#ee1111" stroke-width="1.7" fill="none" stroke-dasharray="5.5,4"/>
<circle cx="1055.6" cy="718" r="1.1" fill="#000"/>
</svg></body></html>
